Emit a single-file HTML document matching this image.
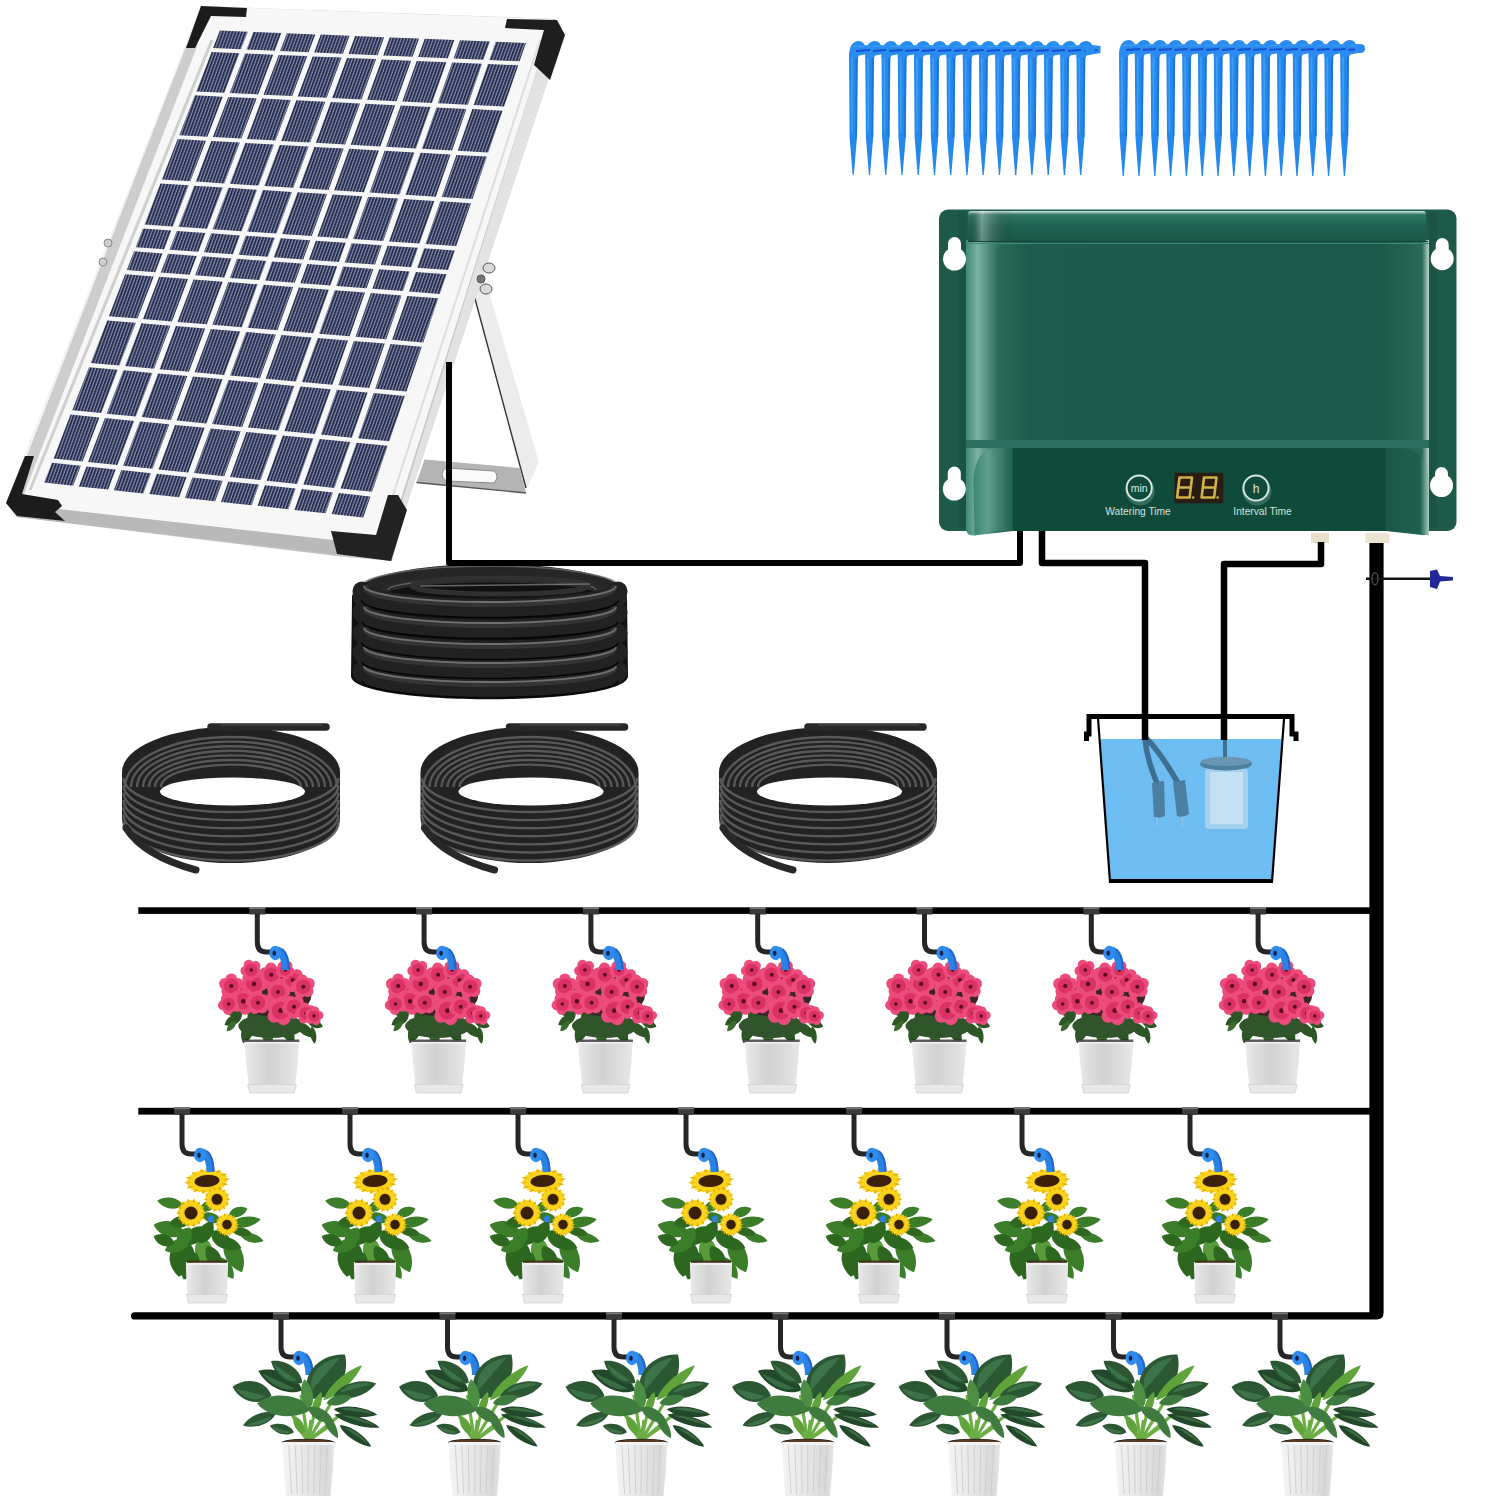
<!DOCTYPE html>
<html><head><meta charset="utf-8"><style>
html,body{margin:0;padding:0;background:#fff;}
svg{display:block;}
text{font-family:"Liberation Sans",sans-serif;}
</style></head><body>
<svg width="1500" height="1500" viewBox="0 0 1500 1500">
<rect width="1500" height="1500" fill="#fff"/>
<g id="stand">
<polygon points="471,284 486,282 539,462 526,490" fill="#ececec"/>
<polyline points="471,284 526,488" stroke="#333" stroke-width="1.4" fill="none"/>
<polygon points="424.5,459.5 520,468 526,493 416.5,482.5" fill="#b4b4b4"/>
<polyline points="416.5,482.5 526,493" stroke="#555" stroke-width="1.3" fill="none"/>
<path d="M446,468 L494,471 Q500,476 494,483 L446,481 Q438,474 446,468 Z" fill="#fafafa" stroke="#777" stroke-width="0.8"/>
</g>
<polygon points="201,6 555,19 563,35 405,510 392,561 336,556 17,517 6,503" fill="#c4c4c4"/>
<polygon points="6,503 390,546 392,561 17,517" fill="#b9b9b9"/>
<polygon points="553,19 563,35 405,510 388,546" fill="#e2e2e2"/>
<polygon points="201,6 553,19 386,546 6,503" fill="#f7f7f7"/>
<polygon points="187,44 198,44 24,494 12,494" fill="#cdcdcd"/>
<polyline points="212,40 30,490" stroke="#cfcfcf" stroke-width="3" fill="none"/>
<polyline points="540,40 385,520" stroke="#dedede" stroke-width="2" fill="none"/>
<defs><pattern id="stripes" patternUnits="userSpaceOnUse" width="3.2" height="40" patternTransform="skewX(-20)"><rect width="3.2" height="40" fill="#262c4a"/><rect x="2" width="1.15" height="40" fill="#8c95b9"/></pattern></defs>
<g fill="url(#stripes)">
<polygon points="219.9,30.5 247.8,31.7 241,49.3 213.1,48.1"/>
<polygon points="253.2,31.9 281.4,33 274.7,50.8 246.5,49.5"/>
<polygon points="286.9,33.2 315.3,34.4 308.6,52.2 280.1,51"/>
<polygon points="320.8,34.6 349.5,35.8 342.9,53.7 314.2,52.5"/>
<polygon points="355.1,36 384.1,37.2 377.6,55.2 348.5,53.9"/>
<polygon points="389.7,37.4 419,38.6 412.5,56.7 383.2,55.4"/>
<polygon points="424.7,38.8 454.3,40 447.9,58.2 418.2,56.9"/>
<polygon points="460,40.2 489.9,41.4 483.5,59.7 453.6,58.4"/>
<polygon points="495.7,41.7 525.9,42.9 519.6,61.3 489.3,60"/>
<polygon points="211.6,52 239.5,53.2 224.3,92.7 196.3,91.4"/>
<polygon points="245,53.4 273.2,54.7 258.1,94.4 229.8,93"/>
<polygon points="278.7,54.9 307.2,56.1 292.2,96.1 263.6,94.7"/>
<polygon points="312.7,56.4 341.5,57.6 326.6,97.8 297.7,96.4"/>
<polygon points="347,57.9 376.1,59.1 361.4,99.5 332.2,98.1"/>
<polygon points="381.8,59.4 411.1,60.7 396.5,101.3 367.1,99.8"/>
<polygon points="416.8,60.9 446.4,62.2 432,103 402.3,101.5"/>
<polygon points="452.2,62.5 482.1,63.8 467.9,104.8 437.8,103.3"/>
<polygon points="487.9,64 518.2,65.3 504.1,106.6 473.7,105.1"/>
<polygon points="194.8,95.3 222.8,96.7 207.4,136.7 179.3,135.2"/>
<polygon points="228.3,96.9 256.6,98.4 241.3,138.6 212.9,137"/>
<polygon points="262.1,98.6 290.7,100.1 275.5,140.5 246.8,138.9"/>
<polygon points="296.3,100.3 325.2,101.8 310.1,142.5 281.1,140.9"/>
<polygon points="330.8,102.1 359.9,103.5 345,144.4 315.8,142.8"/>
<polygon points="365.6,103.8 395.1,105.3 380.3,146.4 350.7,144.8"/>
<polygon points="400.8,105.6 430.6,107.1 416,148.4 386.1,146.7"/>
<polygon points="436.4,107.4 466.4,108.9 452,150.4 421.8,148.7"/>
<polygon points="472.3,109.1 502.6,110.7 488.3,152.5 457.8,150.7"/>
<polygon points="177.7,139.1 205.9,140.7 190.3,181.3 162,179.5"/>
<polygon points="211.3,141 239.8,142.6 224.3,183.4 195.8,181.6"/>
<polygon points="245.3,143 274,144.6 258.7,185.6 229.8,183.8"/>
<polygon points="279.6,144.9 308.6,146.5 293.4,187.8 264.3,185.9"/>
<polygon points="314.3,146.9 343.6,148.5 328.5,190 299.1,188.1"/>
<polygon points="349.3,148.8 378.9,150.5 363.9,192.2 334.2,190.3"/>
<polygon points="384.6,150.8 414.5,152.5 399.7,194.4 369.7,192.5"/>
<polygon points="420.3,152.8 450.5,154.6 435.8,196.7 405.5,194.8"/>
<polygon points="456.4,154.9 486.9,156.6 472.4,199 441.7,197"/>
<polygon points="160.4,183.6 188.7,185.3 172.9,226.5 144.5,224.5"/>
<polygon points="194.2,185.7 222.8,187.5 207.1,228.8 178.4,226.8"/>
<polygon points="228.3,187.8 257.1,189.7 241.6,231.2 212.6,229.2"/>
<polygon points="262.8,190 291.9,191.9 276.5,233.6 247.2,231.6"/>
<polygon points="297.5,192.2 327,194.1 311.7,236.1 282.1,234"/>
<polygon points="332.7,194.4 362.4,196.3 347.3,238.6 317.4,236.5"/>
<polygon points="368.2,196.7 398.2,198.6 383.2,241 353.1,239"/>
<polygon points="404.1,199 434.4,200.9 419.5,243.6 389.1,241.4"/>
<polygon points="440.3,201.2 470.9,203.2 456.2,246.1 425.4,244"/>
<polygon points="142.9,228.6 171.3,230.5 164.1,249.3 135.7,247.2"/>
<polygon points="176.8,230.9 205.5,232.9 198.4,251.7 169.6,249.7"/>
<polygon points="211.1,233.3 240,235.4 233,254.3 203.9,252.2"/>
<polygon points="245.7,235.8 274.9,237.8 267.9,256.8 238.6,254.7"/>
<polygon points="280.6,238.2 310.2,240.3 303.2,259.4 273.6,257.2"/>
<polygon points="315.9,240.7 345.8,242.8 338.9,262 308.9,259.8"/>
<polygon points="351.6,243.2 381.7,245.3 374.9,264.6 344.7,262.4"/>
<polygon points="387.6,245.7 418,247.8 411.3,267.2 380.7,265"/>
<polygon points="424,248.2 454.8,250.4 448.1,269.9 417.2,267.7"/>
<polygon points="134.1,251.3 162.5,253.4 155.3,272.2 126.8,270"/>
<polygon points="168.1,253.8 196.8,255.9 189.6,274.8 160.8,272.6"/>
<polygon points="202.4,256.3 231.4,258.4 224.3,277.5 195.2,275.2"/>
<polygon points="237,258.8 266.4,261 259.3,280.1 229.9,277.9"/>
<polygon points="272,261.4 301.7,263.6 294.7,282.8 265,280.6"/>
<polygon points="307.4,264 337.3,266.2 330.4,285.6 300.4,283.3"/>
<polygon points="343.1,266.6 373.4,268.9 366.5,288.3 336.2,286"/>
<polygon points="379.2,269.3 409.8,271.5 403,291.1 372.4,288.8"/>
<polygon points="415.7,272 446.6,274.2 439.8,293.9 408.9,291.5"/>
<polygon points="125.2,274.2 153.7,276.4 137.5,318.6 108.9,316.2"/>
<polygon points="159.2,276.8 188,279 171.9,321.4 143,319"/>
<polygon points="193.6,279.4 222.7,281.7 206.7,324.3 177.5,321.9"/>
<polygon points="228.4,282.1 257.7,284.3 241.9,327.3 212.4,324.8"/>
<polygon points="263.4,284.8 293.1,287.1 277.4,330.2 247.6,327.7"/>
<polygon points="298.9,287.5 328.9,289.8 313.3,333.2 283.2,330.7"/>
<polygon points="334.7,290.3 365,292.6 349.6,336.2 319.1,333.7"/>
<polygon points="370.9,293 401.5,295.4 386.2,339.3 355.5,336.7"/>
<polygon points="407.4,295.9 438.3,298.2 423.2,342.4 392.2,339.8"/>
<polygon points="107.2,320.4 135.8,322.8 119.4,365.5 90.7,362.9"/>
<polygon points="141.4,323.2 170.3,325.7 154,368.7 125,366"/>
<polygon points="175.9,326.1 205.1,328.6 188.9,371.8 159.6,369.2"/>
<polygon points="210.8,329.1 240.3,331.5 224.2,375 194.6,372.3"/>
<polygon points="246,332 275.8,334.5 259.9,378.2 230,375.5"/>
<polygon points="281.6,335 311.7,337.5 296,381.5 265.7,378.8"/>
<polygon points="317.6,338 348,340.6 332.4,384.8 301.8,382"/>
<polygon points="353.9,341.1 384.7,343.6 369.2,388.1 338.3,385.3"/>
<polygon points="390.6,344.1 421.7,346.7 406.4,391.5 375.2,388.7"/>
<polygon points="89,367.2 117.8,369.8 101.1,413.1 72.3,410.3"/>
<polygon points="123.3,370.3 152.4,372.9 135.8,416.5 106.7,413.7"/>
<polygon points="158,373.5 187.3,376.1 170.9,420 141.5,417.1"/>
<polygon points="193,376.6 222.6,379.3 206.4,423.4 176.6,420.5"/>
<polygon points="228.4,379.9 258.3,382.6 242.2,426.9 212.1,424"/>
<polygon points="264.1,383.1 294.4,385.9 278.4,430.5 248,427.5"/>
<polygon points="300.3,386.4 330.8,389.2 315,434 284.3,431"/>
<polygon points="336.8,389.7 367.6,392.6 351.9,437.7 320.9,434.6"/>
<polygon points="373.6,393.1 404.8,395.9 389.3,441.3 358,438.2"/>
<polygon points="70.6,414.6 99.4,417.5 82.5,461.4 53.6,458.4"/>
<polygon points="105,418 134.2,420.9 117.4,465.1 88.1,462"/>
<polygon points="139.8,421.4 169.3,424.3 152.6,468.8 123.1,465.7"/>
<polygon points="175,424.9 204.7,427.8 188.2,472.5 158.4,469.4"/>
<polygon points="210.5,428.4 240.6,431.3 224.2,476.3 194,473.1"/>
<polygon points="246.4,431.9 276.8,434.9 260.6,480.1 230.1,476.9"/>
<polygon points="282.7,435.5 313.4,438.5 297.3,484 266.5,480.7"/>
<polygon points="319.4,439.1 350.4,442.1 334.4,487.9 303.3,484.6"/>
<polygon points="356.4,442.7 387.7,445.8 372,491.8 340.5,488.5"/>
<polygon points="51.9,462.7 80.8,465.8 73.1,485.8 44.1,482.6"/>
<polygon points="86.5,466.4 115.7,469.5 108.1,489.6 78.8,486.4"/>
<polygon points="121.4,470.1 151,473.2 143.4,493.4 113.8,490.2"/>
<polygon points="156.7,473.8 186.6,477 179.1,497.3 149.2,494"/>
<polygon points="192.4,477.6 222.6,480.8 215.1,501.2 184.9,497.9"/>
<polygon points="228.4,481.4 259,484.6 251.6,505.2 221,501.9"/>
<polygon points="264.9,485.2 295.7,488.5 288.4,509.2 257.5,505.8"/>
<polygon points="301.7,489.1 332.9,492.4 325.6,513.3 294.4,509.9"/>
<polygon points="338.9,493.1 370.4,496.4 363.2,517.4 331.7,513.9"/>
</g>
<polygon points="201,6 247,8 246,17 211,16 195,48 186,48" fill="#1c1c1c"/>
<polygon points="507,19 557,20 565,35 550,80 534,65 544,30 505,28" fill="#1e1e1e"/>
<polygon points="25,456 34,456 22,494 58,500 62,506 55,512 65,521 17,516 6,503" fill="#1c1c1c"/>
<polygon points="388,495 398,495 407,510 391,561 337,554 331,531 376,535" fill="#222"/>
<g fill="#d9d9d9" stroke="#555" stroke-width="1"><ellipse cx="489" cy="268" rx="6" ry="5"/><ellipse cx="486" cy="289" rx="6" ry="5"/><circle cx="481" cy="279" r="4" fill="#777"/></g>
<g fill="#cfcfcf" stroke="#777" stroke-width="0.8"><ellipse cx="108" cy="243" rx="4" ry="4"/><ellipse cx="103" cy="262" rx="4" ry="4"/></g>
<defs><linearGradient id="gbody" x1="0" x2="1" y1="0" y2="0"><stop offset="0" stop-color="#3f8a76"/><stop offset="0.025" stop-color="#7db2a2"/><stop offset="0.07" stop-color="#2a6b5a"/><stop offset="0.14" stop-color="#1d5b4c"/><stop offset="0.9" stop-color="#1c594a"/><stop offset="0.985" stop-color="#2a6a59"/><stop offset="1" stop-color="#bcd6cc"/></linearGradient><linearGradient id="glid" x1="0" x2="0" y1="0" y2="1"><stop offset="0" stop-color="#d8ece4"/><stop offset="0.12" stop-color="#2f7663"/><stop offset="0.5" stop-color="#1f6251"/><stop offset="1" stop-color="#1a5546"/></linearGradient><linearGradient id="glidx" x1="0" x2="1" y1="0" y2="0"><stop offset="0" stop-color="#000" stop-opacity="0"/><stop offset="0.03" stop-color="#fff" stop-opacity="0.35"/><stop offset="0.1" stop-color="#000" stop-opacity="0"/></linearGradient><linearGradient id="gflareL" x1="0" x2="1" y1="0" y2="0"><stop offset="0" stop-color="#3d8573"/><stop offset="0.35" stop-color="#5f9f8c"/><stop offset="1" stop-color="#1d5d4d"/></linearGradient><linearGradient id="gflareR" x1="0" x2="1" y1="0" y2="0"><stop offset="0" stop-color="#1b5748"/><stop offset="0.8" stop-color="#1f5f4f"/><stop offset="1" stop-color="#9cc4b6"/></linearGradient></defs>
<rect x="939" y="209.5" width="517.5" height="321.5" rx="9" fill="#1d5a4a"/>
<rect x="958" y="212" width="8" height="316" fill="#1b5345"/><rect x="1429" y="212" width="8" height="316" fill="#1b5345"/>
<rect x="948.0" y="237" width="13" height="22" rx="6.5" fill="#fff"/><circle cx="954.5" cy="259" r="11.5" fill="#fff"/><rect x="947.8" y="466.5" width="13" height="22.5" rx="6.5" fill="#fff"/><circle cx="954.3" cy="489" r="11.5" fill="#fff"/><rect x="1435.7" y="238" width="13" height="20.69999999999999" rx="6.5" fill="#fff"/><circle cx="1442.2" cy="258.7" r="11.5" fill="#fff"/><rect x="1435.0" y="467" width="13" height="18.5" rx="6.5" fill="#fff"/><circle cx="1441.5" cy="485.5" r="11.5" fill="#fff"/>
<path d="M966,240 L1429,240 L1429,530 Q1429,536 1422,535 L1386,531 L1013,531 L974,535.5 Q966,536 966,528 Z" fill="url(#gbody)"/>
<rect x="968" y="211" width="458" height="31" rx="3" fill="url(#glid)"/>
<rect x="968" y="211" width="458" height="31" rx="3" fill="url(#glidx)"/>
<line x1="968" y1="241.5" x2="1428" y2="241.5" stroke="#12443a" stroke-width="1.2"/>
<line x1="966" y1="243.5" x2="1429" y2="243.5" stroke="#3f8a77" stroke-width="1"/>
<rect x="966" y="440" width="463" height="8" fill="#2c6e5d"/>
<rect x="1012" y="448" width="375" height="83" fill="#0f4a3b"/>
<path d="M973.5,480 Q975,448 998,448 L1013,448 L1013,531 L997,531 Q985,533 974.5,535.5 Z" fill="url(#gflareL)"/>
<path d="M1386,448 L1400,448 Q1428,450 1428.6,480 L1428.6,535.5 Q1410,531 1386,531 Z" fill="url(#gflareR)"/>
<circle cx="1140.2" cy="491" r="14.5" fill="#4f8576" opacity="0.6"/>
<circle cx="1139.2" cy="488" r="12.6" fill="#0f4a3b" stroke="#d7e6e0" stroke-width="2"/>
<text x="1139.2" y="491.5" font-size="10.5" fill="#dfe9e5" text-anchor="middle">min</text>
<circle cx="1257" cy="491" r="14.5" fill="#4f8576" opacity="0.6"/>
<circle cx="1256" cy="488" r="12.6" fill="#0f4a3b" stroke="#d7e6e0" stroke-width="2"/>
<text x="1256" y="492.5" font-size="12" fill="#dfe9e5" text-anchor="middle">h</text>
<rect x="1174.5" y="472.8" width="48.8" height="30.4" fill="#2a1c12"/>
<path d="M1180.5,477.5L1192.0,477.5M1192.0,477.5L1190.8,487.5M1190.8,487.5L1189.6,497.5M1178.1,497.5L1189.6,497.5M1178.3,487.5L1177.1,497.5M1179.5,477.5L1178.3,487.5M1178.8,487.5L1190.3,487.5" stroke="#cdb348" stroke-width="2.6" fill="none" stroke-linecap="round"/>
<circle cx="1193.1" cy="497.5" r="1.3" fill="#cdb348"/>
<path d="M1205.0,477.5L1216.5,477.5M1216.5,477.5L1215.3,487.5M1215.3,487.5L1214.1,497.5M1202.6,497.5L1214.1,497.5M1202.8,487.5L1201.6,497.5M1204.0,477.5L1202.8,487.5M1203.3,487.5L1214.8,487.5" stroke="#cdb348" stroke-width="2.6" fill="none" stroke-linecap="round"/>
<circle cx="1217.6" cy="497.5" r="1.3" fill="#cdb348"/>
<text x="1138" y="514.5" font-size="10.2" fill="#d6e2dd" text-anchor="middle">Watering Time</text>
<text x="1262.5" y="514.5" font-size="10.2" fill="#d6e2dd" text-anchor="middle">Interval Time</text>
<rect x="1311" y="533" width="18" height="10" fill="#e8e0cc"/>
<rect x="1365.5" y="533" width="24" height="10" fill="#ece4d2"/>
<g>
<path d="M1076.5,53 L1085.3,53 L1084.5,137 L1081.3,175 L1080.1,175 L1077.1,137 Z" fill="#2488ec"/>
<path d="M1083.3,55 L1085.3,55 L1084.5,137 L1082.9,137 Z" fill="#1566d6" opacity="0.6"/>
<path d="M1078.5,55 L1080.3,55 L1080.1,133 L1078.8,133 Z" fill="#4fa8f7" opacity="0.7"/>
<path d="M1076.5,55 Q1077.0,42.0 1085.5,41.0 Q1090.5,41.0 1092.0,45 L1100.5,46 L1100.5,53 L1086.5,55.5 L1085.3,58 L1076.5,58 Z" fill="#2a8cf0"/>
<path d="M1083.5,51 L1097.5,50" stroke="#1450cc" stroke-width="1.8"/>
<path d="M1080.5,46.5 L1096.5,46" stroke="#48aaff" stroke-width="1.2" opacity="0.7"/>
<path d="M1060.2,53 L1069.0,53 L1068.2,137 L1065.0,175 L1063.8,175 L1060.8,137 Z" fill="#2488ec"/>
<path d="M1067.0,55 L1069.0,55 L1068.2,137 L1066.7,137 Z" fill="#1566d6" opacity="0.6"/>
<path d="M1062.2,55 L1064.0,55 L1063.8,133 L1062.5,133 Z" fill="#4fa8f7" opacity="0.7"/>
<path d="M1060.2,55 Q1060.8,42.0 1069.2,41.0 Q1074.2,41.0 1075.8,45 L1084.2,46 L1084.2,53 L1070.2,55.5 L1069.0,58 L1060.2,58 Z" fill="#2a8cf0"/>
<path d="M1067.2,51 L1081.2,50" stroke="#1450cc" stroke-width="1.8"/>
<path d="M1064.2,46.5 L1080.2,46" stroke="#48aaff" stroke-width="1.2" opacity="0.7"/>
<path d="M1044.0,53 L1052.8,53 L1052.0,137 L1048.8,175 L1047.6,175 L1044.6,137 Z" fill="#2488ec"/>
<path d="M1050.8,55 L1052.8,55 L1052.0,137 L1050.4,137 Z" fill="#1566d6" opacity="0.6"/>
<path d="M1046.0,55 L1047.8,55 L1047.6,133 L1046.3,133 Z" fill="#4fa8f7" opacity="0.7"/>
<path d="M1044.0,55 Q1044.5,42.0 1053.0,41.0 Q1058.0,41.0 1059.5,45 L1068.0,46 L1068.0,53 L1054.0,55.5 L1052.8,58 L1044.0,58 Z" fill="#2a8cf0"/>
<path d="M1051.0,51 L1065.0,50" stroke="#1450cc" stroke-width="1.8"/>
<path d="M1048.0,46.5 L1064.0,46" stroke="#48aaff" stroke-width="1.2" opacity="0.7"/>
<path d="M1027.8,53 L1036.5,53 L1035.8,137 L1032.5,175 L1031.3,175 L1028.3,137 Z" fill="#2488ec"/>
<path d="M1034.5,55 L1036.5,55 L1035.8,137 L1034.2,137 Z" fill="#1566d6" opacity="0.6"/>
<path d="M1029.8,55 L1031.5,55 L1031.3,133 L1030.0,133 Z" fill="#4fa8f7" opacity="0.7"/>
<path d="M1027.8,55 Q1028.2,42.0 1036.8,41.0 Q1041.8,41.0 1043.2,45 L1051.8,46 L1051.8,53 L1037.8,55.5 L1036.5,58 L1027.8,58 Z" fill="#2a8cf0"/>
<path d="M1034.8,51 L1048.8,50" stroke="#1450cc" stroke-width="1.8"/>
<path d="M1031.8,46.5 L1047.8,46" stroke="#48aaff" stroke-width="1.2" opacity="0.7"/>
<path d="M1011.5,53 L1020.3,53 L1019.5,137 L1016.3,175 L1015.1,175 L1012.1,137 Z" fill="#2488ec"/>
<path d="M1018.3,55 L1020.3,55 L1019.5,137 L1017.9,137 Z" fill="#1566d6" opacity="0.6"/>
<path d="M1013.5,55 L1015.3,55 L1015.1,133 L1013.8,133 Z" fill="#4fa8f7" opacity="0.7"/>
<path d="M1011.5,55 Q1012.0,42.0 1020.5,41.0 Q1025.5,41.0 1027.0,45 L1035.5,46 L1035.5,53 L1021.5,55.5 L1020.3,58 L1011.5,58 Z" fill="#2a8cf0"/>
<path d="M1018.5,51 L1032.5,50" stroke="#1450cc" stroke-width="1.8"/>
<path d="M1015.5,46.5 L1031.5,46" stroke="#48aaff" stroke-width="1.2" opacity="0.7"/>
<path d="M995.2,53 L1004.0,53 L1003.2,137 L1000.0,175 L998.9,175 L995.9,137 Z" fill="#2488ec"/>
<path d="M1002.0,55 L1004.0,55 L1003.2,137 L1001.6,137 Z" fill="#1566d6" opacity="0.6"/>
<path d="M997.2,55 L999.0,55 L998.9,133 L997.5,133 Z" fill="#4fa8f7" opacity="0.7"/>
<path d="M995.2,55 Q995.8,42.0 1004.2,41.0 Q1009.2,41.0 1010.8,45 L1019.2,46 L1019.2,53 L1005.2,55.5 L1004.0,58 L995.2,58 Z" fill="#2a8cf0"/>
<path d="M1002.2,51 L1016.2,50" stroke="#1450cc" stroke-width="1.8"/>
<path d="M999.2,46.5 L1015.2,46" stroke="#48aaff" stroke-width="1.2" opacity="0.7"/>
<path d="M979.0,53 L987.8,53 L987.0,137 L983.8,175 L982.6,175 L979.6,137 Z" fill="#2488ec"/>
<path d="M985.8,55 L987.8,55 L987.0,137 L985.4,137 Z" fill="#1566d6" opacity="0.6"/>
<path d="M981.0,55 L982.8,55 L982.6,133 L981.3,133 Z" fill="#4fa8f7" opacity="0.7"/>
<path d="M979.0,55 Q979.5,42.0 988.0,41.0 Q993.0,41.0 994.5,45 L1003.0,46 L1003.0,53 L989.0,55.5 L987.8,58 L979.0,58 Z" fill="#2a8cf0"/>
<path d="M986.0,51 L1000.0,50" stroke="#1450cc" stroke-width="1.8"/>
<path d="M983.0,46.5 L999.0,46" stroke="#48aaff" stroke-width="1.2" opacity="0.7"/>
<path d="M962.8,53 L971.5,53 L970.8,137 L967.5,175 L966.4,175 L963.4,137 Z" fill="#2488ec"/>
<path d="M969.5,55 L971.5,55 L970.8,137 L969.1,137 Z" fill="#1566d6" opacity="0.6"/>
<path d="M964.8,55 L966.5,55 L966.4,133 L965.0,133 Z" fill="#4fa8f7" opacity="0.7"/>
<path d="M962.8,55 Q963.2,42.0 971.8,41.0 Q976.8,41.0 978.2,45 L986.8,46 L986.8,53 L972.8,55.5 L971.5,58 L962.8,58 Z" fill="#2a8cf0"/>
<path d="M969.8,51 L983.8,50" stroke="#1450cc" stroke-width="1.8"/>
<path d="M966.8,46.5 L982.8,46" stroke="#48aaff" stroke-width="1.2" opacity="0.7"/>
<path d="M946.5,53 L955.3,53 L954.5,137 L951.3,175 L950.1,175 L947.1,137 Z" fill="#2488ec"/>
<path d="M953.3,55 L955.3,55 L954.5,137 L952.9,137 Z" fill="#1566d6" opacity="0.6"/>
<path d="M948.5,55 L950.3,55 L950.1,133 L948.8,133 Z" fill="#4fa8f7" opacity="0.7"/>
<path d="M946.5,55 Q947.0,42.0 955.5,41.0 Q960.5,41.0 962.0,45 L970.5,46 L970.5,53 L956.5,55.5 L955.3,58 L946.5,58 Z" fill="#2a8cf0"/>
<path d="M953.5,51 L967.5,50" stroke="#1450cc" stroke-width="1.8"/>
<path d="M950.5,46.5 L966.5,46" stroke="#48aaff" stroke-width="1.2" opacity="0.7"/>
<path d="M930.2,53 L939.0,53 L938.2,137 L935.0,175 L933.9,175 L930.9,137 Z" fill="#2488ec"/>
<path d="M937.0,55 L939.0,55 L938.2,137 L936.6,137 Z" fill="#1566d6" opacity="0.6"/>
<path d="M932.2,55 L934.0,55 L933.9,133 L932.5,133 Z" fill="#4fa8f7" opacity="0.7"/>
<path d="M930.2,55 Q930.8,42.0 939.2,41.0 Q944.2,41.0 945.8,45 L954.2,46 L954.2,53 L940.2,55.5 L939.0,58 L930.2,58 Z" fill="#2a8cf0"/>
<path d="M937.2,51 L951.2,50" stroke="#1450cc" stroke-width="1.8"/>
<path d="M934.2,46.5 L950.2,46" stroke="#48aaff" stroke-width="1.2" opacity="0.7"/>
<path d="M914.0,53 L922.8,53 L922.0,137 L918.8,175 L917.6,175 L914.6,137 Z" fill="#2488ec"/>
<path d="M920.8,55 L922.8,55 L922.0,137 L920.4,137 Z" fill="#1566d6" opacity="0.6"/>
<path d="M916.0,55 L917.8,55 L917.6,133 L916.3,133 Z" fill="#4fa8f7" opacity="0.7"/>
<path d="M914.0,55 Q914.5,42.0 923.0,41.0 Q928.0,41.0 929.5,45 L938.0,46 L938.0,53 L924.0,55.5 L922.8,58 L914.0,58 Z" fill="#2a8cf0"/>
<path d="M921.0,51 L935.0,50" stroke="#1450cc" stroke-width="1.8"/>
<path d="M918.0,46.5 L934.0,46" stroke="#48aaff" stroke-width="1.2" opacity="0.7"/>
<path d="M897.8,53 L906.5,53 L905.8,137 L902.5,175 L901.4,175 L898.4,137 Z" fill="#2488ec"/>
<path d="M904.5,55 L906.5,55 L905.8,137 L904.1,137 Z" fill="#1566d6" opacity="0.6"/>
<path d="M899.8,55 L901.5,55 L901.4,133 L900.0,133 Z" fill="#4fa8f7" opacity="0.7"/>
<path d="M897.8,55 Q898.2,42.0 906.8,41.0 Q911.8,41.0 913.2,45 L921.8,46 L921.8,53 L907.8,55.5 L906.5,58 L897.8,58 Z" fill="#2a8cf0"/>
<path d="M904.8,51 L918.8,50" stroke="#1450cc" stroke-width="1.8"/>
<path d="M901.8,46.5 L917.8,46" stroke="#48aaff" stroke-width="1.2" opacity="0.7"/>
<path d="M881.5,53 L890.3,53 L889.5,137 L886.3,175 L885.1,175 L882.1,137 Z" fill="#2488ec"/>
<path d="M888.3,55 L890.3,55 L889.5,137 L887.9,137 Z" fill="#1566d6" opacity="0.6"/>
<path d="M883.5,55 L885.3,55 L885.1,133 L883.8,133 Z" fill="#4fa8f7" opacity="0.7"/>
<path d="M881.5,55 Q882.0,42.0 890.5,41.0 Q895.5,41.0 897.0,45 L905.5,46 L905.5,53 L891.5,55.5 L890.3,58 L881.5,58 Z" fill="#2a8cf0"/>
<path d="M888.5,51 L902.5,50" stroke="#1450cc" stroke-width="1.8"/>
<path d="M885.5,46.5 L901.5,46" stroke="#48aaff" stroke-width="1.2" opacity="0.7"/>
<path d="M865.2,53 L874.0,53 L873.2,137 L870.0,175 L868.9,175 L865.9,137 Z" fill="#2488ec"/>
<path d="M872.0,55 L874.0,55 L873.2,137 L871.6,137 Z" fill="#1566d6" opacity="0.6"/>
<path d="M867.2,55 L869.0,55 L868.9,133 L867.5,133 Z" fill="#4fa8f7" opacity="0.7"/>
<path d="M865.2,55 Q865.8,42.0 874.2,41.0 Q879.2,41.0 880.8,45 L889.2,46 L889.2,53 L875.2,55.5 L874.0,58 L865.2,58 Z" fill="#2a8cf0"/>
<path d="M872.2,51 L886.2,50" stroke="#1450cc" stroke-width="1.8"/>
<path d="M869.2,46.5 L885.2,46" stroke="#48aaff" stroke-width="1.2" opacity="0.7"/>
<path d="M849.0,53 L857.8,53 L857.0,137 L853.8,175 L852.6,175 L849.6,137 Z" fill="#2488ec"/>
<path d="M855.8,55 L857.8,55 L857.0,137 L855.4,137 Z" fill="#1566d6" opacity="0.6"/>
<path d="M851.0,55 L852.8,55 L852.6,133 L851.3,133 Z" fill="#4fa8f7" opacity="0.7"/>
<path d="M849.0,55 Q849.5,42.0 858.0,41.0 Q863.0,41.0 864.5,45 L873.0,46 L873.0,53 L859.0,55.5 L857.8,58 L849.0,58 Z" fill="#2a8cf0"/>
<path d="M856.0,51 L870.0,50" stroke="#1450cc" stroke-width="1.8"/>
<path d="M853.0,46.5 L869.0,46" stroke="#48aaff" stroke-width="1.2" opacity="0.7"/>
<ellipse cx="1090" cy="49.5" rx="5" ry="4.5" fill="#2a8cf0"/>
</g>
<g>
<path d="M1340.2,52 L1349.0,52 L1348.2,136 L1345.0,176 L1343.8,176 L1340.8,136 Z" fill="#2488ec"/>
<path d="M1347.0,54 L1349.0,54 L1348.2,136 L1346.6,136 Z" fill="#1566d6" opacity="0.6"/>
<path d="M1342.2,54 L1344.0,54 L1343.8,132 L1342.5,132 Z" fill="#4fa8f7" opacity="0.7"/>
<path d="M1340.2,54 Q1340.7,41.0 1349.2,40.0 Q1354.2,40.0 1355.7,44 L1364.2,45 L1364.2,52 L1350.2,54.5 L1349.0,57 L1340.2,57 Z" fill="#2a8cf0"/>
<path d="M1347.2,50 L1361.2,49" stroke="#1450cc" stroke-width="1.8"/>
<path d="M1344.2,45.5 L1360.2,45" stroke="#48aaff" stroke-width="1.2" opacity="0.7"/>
<path d="M1324.4,52 L1333.2,52 L1332.4,136 L1329.2,176 L1328.0,176 L1325.0,136 Z" fill="#2488ec"/>
<path d="M1331.2,54 L1333.2,54 L1332.4,136 L1330.8,136 Z" fill="#1566d6" opacity="0.6"/>
<path d="M1326.4,54 L1328.2,54 L1328.0,132 L1326.7,132 Z" fill="#4fa8f7" opacity="0.7"/>
<path d="M1324.4,54 Q1324.9,41.0 1333.4,40.0 Q1338.4,40.0 1339.9,44 L1348.4,45 L1348.4,52 L1334.4,54.5 L1333.2,57 L1324.4,57 Z" fill="#2a8cf0"/>
<path d="M1331.4,50 L1345.4,49" stroke="#1450cc" stroke-width="1.8"/>
<path d="M1328.4,45.5 L1344.4,45" stroke="#48aaff" stroke-width="1.2" opacity="0.7"/>
<path d="M1308.6,52 L1317.4,52 L1316.6,136 L1313.4,176 L1312.2,176 L1309.2,136 Z" fill="#2488ec"/>
<path d="M1315.4,54 L1317.4,54 L1316.6,136 L1315.0,136 Z" fill="#1566d6" opacity="0.6"/>
<path d="M1310.6,54 L1312.4,54 L1312.2,132 L1310.9,132 Z" fill="#4fa8f7" opacity="0.7"/>
<path d="M1308.6,54 Q1309.1,41.0 1317.6,40.0 Q1322.6,40.0 1324.1,44 L1332.6,45 L1332.6,52 L1318.6,54.5 L1317.4,57 L1308.6,57 Z" fill="#2a8cf0"/>
<path d="M1315.6,50 L1329.6,49" stroke="#1450cc" stroke-width="1.8"/>
<path d="M1312.6,45.5 L1328.6,45" stroke="#48aaff" stroke-width="1.2" opacity="0.7"/>
<path d="M1292.8,52 L1301.6,52 L1300.8,136 L1297.6,176 L1296.4,176 L1293.4,136 Z" fill="#2488ec"/>
<path d="M1299.6,54 L1301.6,54 L1300.8,136 L1299.2,136 Z" fill="#1566d6" opacity="0.6"/>
<path d="M1294.8,54 L1296.6,54 L1296.4,132 L1295.1,132 Z" fill="#4fa8f7" opacity="0.7"/>
<path d="M1292.8,54 Q1293.3,41.0 1301.8,40.0 Q1306.8,40.0 1308.3,44 L1316.8,45 L1316.8,52 L1302.8,54.5 L1301.6,57 L1292.8,57 Z" fill="#2a8cf0"/>
<path d="M1299.8,50 L1313.8,49" stroke="#1450cc" stroke-width="1.8"/>
<path d="M1296.8,45.5 L1312.8,45" stroke="#48aaff" stroke-width="1.2" opacity="0.7"/>
<path d="M1277.0,52 L1285.8,52 L1285.0,136 L1281.8,176 L1280.6,176 L1277.6,136 Z" fill="#2488ec"/>
<path d="M1283.8,54 L1285.8,54 L1285.0,136 L1283.4,136 Z" fill="#1566d6" opacity="0.6"/>
<path d="M1279.0,54 L1280.8,54 L1280.6,132 L1279.3,132 Z" fill="#4fa8f7" opacity="0.7"/>
<path d="M1277.0,54 Q1277.5,41.0 1286.0,40.0 Q1291.0,40.0 1292.5,44 L1301.0,45 L1301.0,52 L1287.0,54.5 L1285.8,57 L1277.0,57 Z" fill="#2a8cf0"/>
<path d="M1284.0,50 L1298.0,49" stroke="#1450cc" stroke-width="1.8"/>
<path d="M1281.0,45.5 L1297.0,45" stroke="#48aaff" stroke-width="1.2" opacity="0.7"/>
<path d="M1261.2,52 L1270.0,52 L1269.2,136 L1266.0,176 L1264.8,176 L1261.8,136 Z" fill="#2488ec"/>
<path d="M1268.0,54 L1270.0,54 L1269.2,136 L1267.6,136 Z" fill="#1566d6" opacity="0.6"/>
<path d="M1263.2,54 L1265.0,54 L1264.8,132 L1263.5,132 Z" fill="#4fa8f7" opacity="0.7"/>
<path d="M1261.2,54 Q1261.7,41.0 1270.2,40.0 Q1275.2,40.0 1276.7,44 L1285.2,45 L1285.2,52 L1271.2,54.5 L1270.0,57 L1261.2,57 Z" fill="#2a8cf0"/>
<path d="M1268.2,50 L1282.2,49" stroke="#1450cc" stroke-width="1.8"/>
<path d="M1265.2,45.5 L1281.2,45" stroke="#48aaff" stroke-width="1.2" opacity="0.7"/>
<path d="M1245.4,52 L1254.2,52 L1253.4,136 L1250.2,176 L1249.0,176 L1246.0,136 Z" fill="#2488ec"/>
<path d="M1252.2,54 L1254.2,54 L1253.4,136 L1251.8,136 Z" fill="#1566d6" opacity="0.6"/>
<path d="M1247.4,54 L1249.2,54 L1249.0,132 L1247.7,132 Z" fill="#4fa8f7" opacity="0.7"/>
<path d="M1245.4,54 Q1245.9,41.0 1254.4,40.0 Q1259.4,40.0 1260.9,44 L1269.4,45 L1269.4,52 L1255.4,54.5 L1254.2,57 L1245.4,57 Z" fill="#2a8cf0"/>
<path d="M1252.4,50 L1266.4,49" stroke="#1450cc" stroke-width="1.8"/>
<path d="M1249.4,45.5 L1265.4,45" stroke="#48aaff" stroke-width="1.2" opacity="0.7"/>
<path d="M1229.6,52 L1238.4,52 L1237.6,136 L1234.4,176 L1233.2,176 L1230.2,136 Z" fill="#2488ec"/>
<path d="M1236.4,54 L1238.4,54 L1237.6,136 L1236.0,136 Z" fill="#1566d6" opacity="0.6"/>
<path d="M1231.6,54 L1233.4,54 L1233.2,132 L1231.9,132 Z" fill="#4fa8f7" opacity="0.7"/>
<path d="M1229.6,54 Q1230.1,41.0 1238.6,40.0 Q1243.6,40.0 1245.1,44 L1253.6,45 L1253.6,52 L1239.6,54.5 L1238.4,57 L1229.6,57 Z" fill="#2a8cf0"/>
<path d="M1236.6,50 L1250.6,49" stroke="#1450cc" stroke-width="1.8"/>
<path d="M1233.6,45.5 L1249.6,45" stroke="#48aaff" stroke-width="1.2" opacity="0.7"/>
<path d="M1213.8,52 L1222.6,52 L1221.8,136 L1218.6,176 L1217.4,176 L1214.4,136 Z" fill="#2488ec"/>
<path d="M1220.6,54 L1222.6,54 L1221.8,136 L1220.2,136 Z" fill="#1566d6" opacity="0.6"/>
<path d="M1215.8,54 L1217.6,54 L1217.4,132 L1216.1,132 Z" fill="#4fa8f7" opacity="0.7"/>
<path d="M1213.8,54 Q1214.3,41.0 1222.8,40.0 Q1227.8,40.0 1229.3,44 L1237.8,45 L1237.8,52 L1223.8,54.5 L1222.6,57 L1213.8,57 Z" fill="#2a8cf0"/>
<path d="M1220.8,50 L1234.8,49" stroke="#1450cc" stroke-width="1.8"/>
<path d="M1217.8,45.5 L1233.8,45" stroke="#48aaff" stroke-width="1.2" opacity="0.7"/>
<path d="M1198.0,52 L1206.8,52 L1206.0,136 L1202.8,176 L1201.6,176 L1198.6,136 Z" fill="#2488ec"/>
<path d="M1204.8,54 L1206.8,54 L1206.0,136 L1204.4,136 Z" fill="#1566d6" opacity="0.6"/>
<path d="M1200.0,54 L1201.8,54 L1201.6,132 L1200.3,132 Z" fill="#4fa8f7" opacity="0.7"/>
<path d="M1198.0,54 Q1198.5,41.0 1207.0,40.0 Q1212.0,40.0 1213.5,44 L1222.0,45 L1222.0,52 L1208.0,54.5 L1206.8,57 L1198.0,57 Z" fill="#2a8cf0"/>
<path d="M1205.0,50 L1219.0,49" stroke="#1450cc" stroke-width="1.8"/>
<path d="M1202.0,45.5 L1218.0,45" stroke="#48aaff" stroke-width="1.2" opacity="0.7"/>
<path d="M1182.2,52 L1191.0,52 L1190.2,136 L1187.0,176 L1185.8,176 L1182.8,136 Z" fill="#2488ec"/>
<path d="M1189.0,54 L1191.0,54 L1190.2,136 L1188.6,136 Z" fill="#1566d6" opacity="0.6"/>
<path d="M1184.2,54 L1186.0,54 L1185.8,132 L1184.5,132 Z" fill="#4fa8f7" opacity="0.7"/>
<path d="M1182.2,54 Q1182.7,41.0 1191.2,40.0 Q1196.2,40.0 1197.7,44 L1206.2,45 L1206.2,52 L1192.2,54.5 L1191.0,57 L1182.2,57 Z" fill="#2a8cf0"/>
<path d="M1189.2,50 L1203.2,49" stroke="#1450cc" stroke-width="1.8"/>
<path d="M1186.2,45.5 L1202.2,45" stroke="#48aaff" stroke-width="1.2" opacity="0.7"/>
<path d="M1166.4,52 L1175.2,52 L1174.4,136 L1171.2,176 L1170.0,176 L1167.0,136 Z" fill="#2488ec"/>
<path d="M1173.2,54 L1175.2,54 L1174.4,136 L1172.8,136 Z" fill="#1566d6" opacity="0.6"/>
<path d="M1168.4,54 L1170.2,54 L1170.0,132 L1168.7,132 Z" fill="#4fa8f7" opacity="0.7"/>
<path d="M1166.4,54 Q1166.9,41.0 1175.4,40.0 Q1180.4,40.0 1181.9,44 L1190.4,45 L1190.4,52 L1176.4,54.5 L1175.2,57 L1166.4,57 Z" fill="#2a8cf0"/>
<path d="M1173.4,50 L1187.4,49" stroke="#1450cc" stroke-width="1.8"/>
<path d="M1170.4,45.5 L1186.4,45" stroke="#48aaff" stroke-width="1.2" opacity="0.7"/>
<path d="M1150.6,52 L1159.4,52 L1158.6,136 L1155.4,176 L1154.2,176 L1151.2,136 Z" fill="#2488ec"/>
<path d="M1157.4,54 L1159.4,54 L1158.6,136 L1157.0,136 Z" fill="#1566d6" opacity="0.6"/>
<path d="M1152.6,54 L1154.4,54 L1154.2,132 L1152.9,132 Z" fill="#4fa8f7" opacity="0.7"/>
<path d="M1150.6,54 Q1151.1,41.0 1159.6,40.0 Q1164.6,40.0 1166.1,44 L1174.6,45 L1174.6,52 L1160.6,54.5 L1159.4,57 L1150.6,57 Z" fill="#2a8cf0"/>
<path d="M1157.6,50 L1171.6,49" stroke="#1450cc" stroke-width="1.8"/>
<path d="M1154.6,45.5 L1170.6,45" stroke="#48aaff" stroke-width="1.2" opacity="0.7"/>
<path d="M1134.8,52 L1143.6,52 L1142.8,136 L1139.6,176 L1138.4,176 L1135.4,136 Z" fill="#2488ec"/>
<path d="M1141.6,54 L1143.6,54 L1142.8,136 L1141.2,136 Z" fill="#1566d6" opacity="0.6"/>
<path d="M1136.8,54 L1138.6,54 L1138.4,132 L1137.1,132 Z" fill="#4fa8f7" opacity="0.7"/>
<path d="M1134.8,54 Q1135.3,41.0 1143.8,40.0 Q1148.8,40.0 1150.3,44 L1158.8,45 L1158.8,52 L1144.8,54.5 L1143.6,57 L1134.8,57 Z" fill="#2a8cf0"/>
<path d="M1141.8,50 L1155.8,49" stroke="#1450cc" stroke-width="1.8"/>
<path d="M1138.8,45.5 L1154.8,45" stroke="#48aaff" stroke-width="1.2" opacity="0.7"/>
<path d="M1119.0,52 L1127.8,52 L1127.0,136 L1123.8,176 L1122.6,176 L1119.6,136 Z" fill="#2488ec"/>
<path d="M1125.8,54 L1127.8,54 L1127.0,136 L1125.4,136 Z" fill="#1566d6" opacity="0.6"/>
<path d="M1121.0,54 L1122.8,54 L1122.6,132 L1121.3,132 Z" fill="#4fa8f7" opacity="0.7"/>
<path d="M1119.0,54 Q1119.5,41.0 1128.0,40.0 Q1133.0,40.0 1134.5,44 L1143.0,45 L1143.0,52 L1129.0,54.5 L1127.8,57 L1119.0,57 Z" fill="#2a8cf0"/>
<path d="M1126.0,50 L1140.0,49" stroke="#1450cc" stroke-width="1.8"/>
<path d="M1123.0,45.5 L1139.0,45" stroke="#48aaff" stroke-width="1.2" opacity="0.7"/>
<ellipse cx="1360" cy="48.5" rx="5" ry="4.5" fill="#2a8cf0"/>
</g>
<g>
<path d="M352,598 C352,560 627,558 627,598 L628,676 C628,707 352,707 351,676 Z" fill="#111"/>
<path d="M360,598 A130,27 0 0 1 620,598" stroke="#262626" stroke-width="14" fill="none" stroke-linecap="round"/>
<path d="M360,588 A130,22 0 0 1 620,588" stroke="#6a6a6a" stroke-width="1.6" fill="none" opacity="0.8"/>
<ellipse cx="492" cy="592" rx="108" ry="13" fill="none" stroke="#2a2a2a" stroke-width="7"/>
<path d="M388,590 A104,11 0 0 1 596,590" stroke="#777" stroke-width="1.4" fill="none" opacity="0.7"/>
<ellipse cx="500" cy="586" rx="88" ry="8" fill="none" stroke="#303030" stroke-width="5"/>
<path d="M420,586 L590,584" stroke="#8a8a8a" stroke-width="1.5" opacity="0.7"/>
<path d="M362,671 A128,17 0 0 0 618,671" stroke="#222" stroke-width="19" fill="none" stroke-linecap="round"/>
<path d="M366,668 A124,16 0 0 0 614,668" stroke="#3a3a3a" stroke-width="6" fill="none" stroke-linecap="round" opacity="0.8"/>
<path d="M364,666 A126,16 0 0 0 616,666" stroke="#8a8a8a" stroke-width="1.8" fill="none" opacity="0.7"/>
<path d="M362,680.5 A128,17 0 0 0 618,680.5" stroke="#050505" stroke-width="1.6" fill="none"/>
<path d="M362,652 A128,17 0 0 0 618,652" stroke="#222" stroke-width="19" fill="none" stroke-linecap="round"/>
<path d="M366,649 A124,16 0 0 0 614,649" stroke="#3a3a3a" stroke-width="6" fill="none" stroke-linecap="round" opacity="0.8"/>
<path d="M364,647 A126,16 0 0 0 616,647" stroke="#8a8a8a" stroke-width="1.8" fill="none" opacity="0.7"/>
<path d="M362,661.5 A128,17 0 0 0 618,661.5" stroke="#050505" stroke-width="1.6" fill="none"/>
<path d="M362,633 A128,17 0 0 0 618,633" stroke="#222" stroke-width="19" fill="none" stroke-linecap="round"/>
<path d="M366,630 A124,16 0 0 0 614,630" stroke="#3a3a3a" stroke-width="6" fill="none" stroke-linecap="round" opacity="0.8"/>
<path d="M364,628 A126,16 0 0 0 616,628" stroke="#8a8a8a" stroke-width="1.8" fill="none" opacity="0.7"/>
<path d="M362,642.5 A128,17 0 0 0 618,642.5" stroke="#050505" stroke-width="1.6" fill="none"/>
<path d="M362,612 A128,17 0 0 0 618,612" stroke="#222" stroke-width="19" fill="none" stroke-linecap="round"/>
<path d="M366,609 A124,16 0 0 0 614,609" stroke="#3a3a3a" stroke-width="6" fill="none" stroke-linecap="round" opacity="0.8"/>
<path d="M364,607 A126,16 0 0 0 616,607" stroke="#8a8a8a" stroke-width="1.8" fill="none" opacity="0.7"/>
<path d="M362,621.5 A128,17 0 0 0 618,621.5" stroke="#050505" stroke-width="1.6" fill="none"/>
<path d="M362,591 A128,17 0 0 0 618,591" stroke="#222" stroke-width="19" fill="none" stroke-linecap="round"/>
<path d="M366,588 A124,16 0 0 0 614,588" stroke="#3a3a3a" stroke-width="6" fill="none" stroke-linecap="round" opacity="0.8"/>
<path d="M364,586 A126,16 0 0 0 616,586" stroke="#8a8a8a" stroke-width="1.8" fill="none" opacity="0.7"/>
<path d="M362,600.5 A128,17 0 0 0 618,600.5" stroke="#050505" stroke-width="1.6" fill="none"/>
</g>
<g>
<path d="M122,772 A109,45 0 0 1 340,772 L340,818 A109,45 0 0 1 122,818 Z" fill="#222"/>
<path d="M125.0,787 A106.0,50.0 0 0 1 337.0,787" stroke="#5e5e5e" stroke-width="2.4" fill="none" opacity="0.9"/>
<path d="M131.0,787 A100.0,45.4 0 0 1 331.0,787" stroke="#5e5e5e" stroke-width="2.4" fill="none" opacity="0.9"/>
<path d="M137.0,787 A94.0,40.8 0 0 1 325.0,787" stroke="#5e5e5e" stroke-width="2.4" fill="none" opacity="0.9"/>
<path d="M143.0,787 A88.0,36.2 0 0 1 319.0,787" stroke="#5e5e5e" stroke-width="2.4" fill="none" opacity="0.9"/>
<path d="M149.0,787 A82.0,31.6 0 0 1 313.0,787" stroke="#5e5e5e" stroke-width="2.4" fill="none" opacity="0.9"/>
<path d="M155.0,787 A76.0,27.0 0 0 1 307.0,787" stroke="#5e5e5e" stroke-width="2.4" fill="none" opacity="0.9"/>
<path d="M161.0,787 A70.0,22.4 0 0 1 301.0,787" stroke="#5e5e5e" stroke-width="2.4" fill="none" opacity="0.9"/>
<ellipse cx="232.5" cy="791.5" rx="72.5" ry="14" fill="#fff"/>
<path d="M123.5,778.0 A107.5,34.0 0 0 0 338.5,778.0" stroke="#5e5e5e" stroke-width="2.4" fill="none" opacity="0.9"/>
<path d="M123.5,785.3 A107.5,34.8 0 0 0 338.5,785.3" stroke="#5e5e5e" stroke-width="2.4" fill="none" opacity="0.9"/>
<path d="M123.5,792.6 A107.5,35.6 0 0 0 338.5,792.6" stroke="#5e5e5e" stroke-width="2.4" fill="none" opacity="0.9"/>
<path d="M123.5,799.9 A107.5,36.4 0 0 0 338.5,799.9" stroke="#5e5e5e" stroke-width="2.4" fill="none" opacity="0.9"/>
<path d="M123.5,807.2 A107.5,37.2 0 0 0 338.5,807.2" stroke="#5e5e5e" stroke-width="2.4" fill="none" opacity="0.9"/>
<path d="M123.5,814.5 A107.5,38.0 0 0 0 338.5,814.5" stroke="#5e5e5e" stroke-width="2.4" fill="none" opacity="0.9"/>
<path d="M123.5,821.8 A107.5,38.8 0 0 0 338.5,821.8" stroke="#5e5e5e" stroke-width="2.4" fill="none" opacity="0.9"/>
<path d="M211,727 L326,727" stroke="#282828" stroke-width="7.5" stroke-linecap="round"/>
<path d="M221,725 L322,725" stroke="#666" stroke-width="1.2" opacity="0.7"/>
<path d="M126,828 Q144,856 196,870" stroke="#282828" stroke-width="7" fill="none" stroke-linecap="round"/>
</g>
<g>
<path d="M420.5,772 A109,45 0 0 1 638.5,772 L638.5,818 A109,45 0 0 1 420.5,818 Z" fill="#222"/>
<path d="M423.5,787 A106.0,50.0 0 0 1 635.5,787" stroke="#5e5e5e" stroke-width="2.4" fill="none" opacity="0.9"/>
<path d="M429.5,787 A100.0,45.4 0 0 1 629.5,787" stroke="#5e5e5e" stroke-width="2.4" fill="none" opacity="0.9"/>
<path d="M435.5,787 A94.0,40.8 0 0 1 623.5,787" stroke="#5e5e5e" stroke-width="2.4" fill="none" opacity="0.9"/>
<path d="M441.5,787 A88.0,36.2 0 0 1 617.5,787" stroke="#5e5e5e" stroke-width="2.4" fill="none" opacity="0.9"/>
<path d="M447.5,787 A82.0,31.6 0 0 1 611.5,787" stroke="#5e5e5e" stroke-width="2.4" fill="none" opacity="0.9"/>
<path d="M453.5,787 A76.0,27.0 0 0 1 605.5,787" stroke="#5e5e5e" stroke-width="2.4" fill="none" opacity="0.9"/>
<path d="M459.5,787 A70.0,22.4 0 0 1 599.5,787" stroke="#5e5e5e" stroke-width="2.4" fill="none" opacity="0.9"/>
<ellipse cx="531.0" cy="791.5" rx="72.5" ry="14" fill="#fff"/>
<path d="M422.0,778.0 A107.5,34.0 0 0 0 637.0,778.0" stroke="#5e5e5e" stroke-width="2.4" fill="none" opacity="0.9"/>
<path d="M422.0,785.3 A107.5,34.8 0 0 0 637.0,785.3" stroke="#5e5e5e" stroke-width="2.4" fill="none" opacity="0.9"/>
<path d="M422.0,792.6 A107.5,35.6 0 0 0 637.0,792.6" stroke="#5e5e5e" stroke-width="2.4" fill="none" opacity="0.9"/>
<path d="M422.0,799.9 A107.5,36.4 0 0 0 637.0,799.9" stroke="#5e5e5e" stroke-width="2.4" fill="none" opacity="0.9"/>
<path d="M422.0,807.2 A107.5,37.2 0 0 0 637.0,807.2" stroke="#5e5e5e" stroke-width="2.4" fill="none" opacity="0.9"/>
<path d="M422.0,814.5 A107.5,38.0 0 0 0 637.0,814.5" stroke="#5e5e5e" stroke-width="2.4" fill="none" opacity="0.9"/>
<path d="M422.0,821.8 A107.5,38.8 0 0 0 637.0,821.8" stroke="#5e5e5e" stroke-width="2.4" fill="none" opacity="0.9"/>
<path d="M509.5,727 L624.5,727" stroke="#282828" stroke-width="7.5" stroke-linecap="round"/>
<path d="M519.5,725 L620.5,725" stroke="#666" stroke-width="1.2" opacity="0.7"/>
<path d="M424.5,828 Q442.5,856 494.5,870" stroke="#282828" stroke-width="7" fill="none" stroke-linecap="round"/>
</g>
<g>
<path d="M719,772 A109,45 0 0 1 937,772 L937,818 A109,45 0 0 1 719,818 Z" fill="#222"/>
<path d="M722.0,787 A106.0,50.0 0 0 1 934.0,787" stroke="#5e5e5e" stroke-width="2.4" fill="none" opacity="0.9"/>
<path d="M728.0,787 A100.0,45.4 0 0 1 928.0,787" stroke="#5e5e5e" stroke-width="2.4" fill="none" opacity="0.9"/>
<path d="M734.0,787 A94.0,40.8 0 0 1 922.0,787" stroke="#5e5e5e" stroke-width="2.4" fill="none" opacity="0.9"/>
<path d="M740.0,787 A88.0,36.2 0 0 1 916.0,787" stroke="#5e5e5e" stroke-width="2.4" fill="none" opacity="0.9"/>
<path d="M746.0,787 A82.0,31.6 0 0 1 910.0,787" stroke="#5e5e5e" stroke-width="2.4" fill="none" opacity="0.9"/>
<path d="M752.0,787 A76.0,27.0 0 0 1 904.0,787" stroke="#5e5e5e" stroke-width="2.4" fill="none" opacity="0.9"/>
<path d="M758.0,787 A70.0,22.4 0 0 1 898.0,787" stroke="#5e5e5e" stroke-width="2.4" fill="none" opacity="0.9"/>
<ellipse cx="829.5" cy="791.5" rx="72.5" ry="14" fill="#fff"/>
<path d="M720.5,778.0 A107.5,34.0 0 0 0 935.5,778.0" stroke="#5e5e5e" stroke-width="2.4" fill="none" opacity="0.9"/>
<path d="M720.5,785.3 A107.5,34.8 0 0 0 935.5,785.3" stroke="#5e5e5e" stroke-width="2.4" fill="none" opacity="0.9"/>
<path d="M720.5,792.6 A107.5,35.6 0 0 0 935.5,792.6" stroke="#5e5e5e" stroke-width="2.4" fill="none" opacity="0.9"/>
<path d="M720.5,799.9 A107.5,36.4 0 0 0 935.5,799.9" stroke="#5e5e5e" stroke-width="2.4" fill="none" opacity="0.9"/>
<path d="M720.5,807.2 A107.5,37.2 0 0 0 935.5,807.2" stroke="#5e5e5e" stroke-width="2.4" fill="none" opacity="0.9"/>
<path d="M720.5,814.5 A107.5,38.0 0 0 0 935.5,814.5" stroke="#5e5e5e" stroke-width="2.4" fill="none" opacity="0.9"/>
<path d="M720.5,821.8 A107.5,38.8 0 0 0 935.5,821.8" stroke="#5e5e5e" stroke-width="2.4" fill="none" opacity="0.9"/>
<path d="M808,727 L923,727" stroke="#282828" stroke-width="7.5" stroke-linecap="round"/>
<path d="M818,725 L919,725" stroke="#666" stroke-width="1.2" opacity="0.7"/>
<path d="M723,828 Q741,856 793,870" stroke="#282828" stroke-width="7" fill="none" stroke-linecap="round"/>
</g>
<g>
<path d="M1100.5,739 L1281.5,739 L1272,880 L1110,880 Z" fill="#6dbcf2"/>
<path d="M1145,739 Q1147,760 1157,783" stroke="#3d6f93" stroke-width="5.5" fill="none" stroke-linecap="round"/>
<path d="M1147,739 Q1160,752 1178,783" stroke="#3d6f93" stroke-width="5.5" fill="none" stroke-linecap="round"/>
<path d="M1152,783 L1164,781 L1165,816 Q1160,819 1154,817 Z" fill="#4a7ea3"/>
<path d="M1173,782 L1185,780 L1189,814 Q1183,818 1177,816 Z" fill="#4a7ea3"/>
<line x1="1157" y1="817" x2="1157" y2="826" stroke="#9cc8e8" stroke-width="1"/><line x1="1182" y1="817" x2="1183" y2="826" stroke="#9cc8e8" stroke-width="1"/>
<line x1="1225" y1="740" x2="1225" y2="761" stroke="#3f7090" stroke-width="4"/>
<rect x="1205" y="769" width="43" height="60" rx="4" fill="#b8d8ee" opacity="0.75"/>
<rect x="1210" y="772" width="33" height="52" fill="#d9ebf7" opacity="0.6"/>
<ellipse cx="1226" cy="764" rx="26" ry="6.5" fill="#4d7f9f"/>
<ellipse cx="1226" cy="761.5" rx="25" ry="4.5" fill="#6a95b3"/>
<path d="M1098,718 L1110,882 L1272,882 L1284,719" stroke="#000" stroke-width="2.2" fill="none"/>
<line x1="1109" y1="881" x2="1273" y2="881" stroke="#000" stroke-width="4"/>
<path d="M1086.5,741 L1086.5,734 L1089,734 L1089,716.5 L1292,716.5 L1292,734 L1296,734 L1296,741" stroke="#000" stroke-width="5" fill="none"/>
</g>
<path d="M449,362 L449,563 L1020,563 L1020,531" stroke="#000" stroke-width="6" fill="none" stroke-linejoin="round"/>
<path d="M1042,531 L1042,563 L1145,563 L1145,740" stroke="#000" stroke-width="6.5" fill="none" stroke-linejoin="round"/>
<path d="M1321,542 L1321,564 L1224,564 L1224,740" stroke="#000" stroke-width="6.5" fill="none" stroke-linejoin="round"/>
<path d="M1369.4,543 H1383.6 V1312.6 Q1383.6,1319.6 1376.6,1319.6 H134.7 A3.7,3.7 0 0 1 134.7,1312.2 H1369.4 Z" fill="#000"/>
<line x1="1366" y1="578.8" x2="1432" y2="578.8" stroke="#111" stroke-width="2.4"/>
<ellipse cx="1375" cy="578.8" rx="3" ry="6" fill="none" stroke="#555" stroke-width="1.2"/>
<path d="M1430,571 L1437,569.5 L1440,576 L1453,577 L1453,580.5 L1440,581.5 L1437,589 L1430,587 Z" fill="#22289a"/>
<rect x="138.3" y="907.3" width="1232" height="6.6" fill="#000"/>
<rect x="138.3" y="1107.8" width="1232" height="6.8" fill="#000"/>
<g>
<g transform="translate(233.3,1020.0) rotate(150)"><path d="M-10.0,0 C-5.5,-6.7 4.5,-6.2 10.0,0 C4.5,6.2 -5.5,6.7 -10.0,0 Z" fill="#2c5624" opacity="1"/></g>
<g transform="translate(247.3,1032.0) rotate(110)"><path d="M-12.0,0 C-6.6,-8.0 5.4,-7.5 12.0,0 C5.4,7.5 -6.6,8.0 -12.0,0 Z" fill="#2c5624" opacity="1"/></g>
<g transform="translate(267.3,1034.0) rotate(80)"><path d="M-13.0,0 C-7.2,-8.0 5.9,-7.5 13.0,0 C5.9,7.5 -7.2,8.0 -13.0,0 Z" fill="#3a6a2c" opacity="1"/></g>
<g transform="translate(287.3,1032.0) rotate(60)"><path d="M-13.0,0 C-7.2,-8.0 5.9,-7.5 13.0,0 C5.9,7.5 -7.2,8.0 -13.0,0 Z" fill="#2c5624" opacity="1"/></g>
<g transform="translate(305.3,1030.0) rotate(40)"><path d="M-11.0,0 C-6.1,-6.7 5.0,-6.2 11.0,0 C5.0,6.2 -6.1,6.7 -11.0,0 Z" fill="#2c5624" opacity="1"/></g>
<g transform="translate(255.3,1015.0) rotate(100)"><path d="M-15.0,0 C-8.2,-10.6 6.8,-10.0 15.0,0 C6.8,10.0 -8.2,10.6 -15.0,0 Z" fill="#2c5624" opacity="1"/></g>
<g transform="translate(277.3,1022.0) rotate(70)"><path d="M-15.0,0 C-8.2,-10.6 6.8,-10.0 15.0,0 C6.8,10.0 -8.2,10.6 -15.0,0 Z" fill="#3a6a2c" opacity="1"/></g>
<g transform="translate(299.3,1026.0) rotate(30)"><path d="M-11.0,0 C-6.1,-6.7 5.0,-6.2 11.0,0 C5.0,6.2 -6.1,6.7 -11.0,0 Z" fill="#2c5624" opacity="1"/></g>
<g transform="translate(237.3,1012.0) rotate(160)"><path d="M-9.0,0 C-5.0,-6.0 4.0,-5.6 9.0,0 C4.0,5.6 -5.0,6.0 -9.0,0 Z" fill="#2c5624" opacity="1"/></g>
<g transform="translate(315.3,1024.0) rotate(20)"><path d="M-8.0,0 C-4.4,-5.3 3.6,-5.0 8.0,0 C3.6,5.0 -4.4,5.3 -8.0,0 Z" fill="#2c5624" opacity="1"/></g>
<g transform="translate(291.3,1043.0) rotate(75)"><path d="M-9.0,0 C-5.0,-4.7 4.0,-4.4 9.0,0 C4.0,4.4 -5.0,4.7 -9.0,0 Z" fill="#2c5624" opacity="1"/></g>
<g transform="translate(313.3,1035.0) rotate(80)"><path d="M-9.0,0 C-5.0,-4.0 4.0,-3.8 9.0,0 C4.0,3.8 -5.0,4.0 -9.0,0 Z" fill="#2c5624" opacity="1"/></g>
<g transform="translate(231.3,1026.0) rotate(130)"><path d="M-7.0,0 C-3.9,-4.0 3.1,-3.8 7.0,0 C3.1,3.8 -3.9,4.0 -7.0,0 Z" fill="#3a6a2c" opacity="1"/></g>
<ellipse cx="271.3" cy="1026" rx="33" ry="12" fill="#30552a"/>
<ellipse cx="271.3" cy="996" rx="40" ry="20" fill="#3a2626"/>
<ellipse cx="231.3" cy="980.0" rx="6.6" ry="6.0" fill="#ec4c7c" transform="rotate(-90 231.3 980.0)"/><ellipse cx="237.0" cy="984.1" rx="6.6" ry="6.0" fill="#ec4c7c" transform="rotate(-18 237.0 984.1)"/><ellipse cx="234.9" cy="990.9" rx="6.6" ry="6.0" fill="#ec4c7c" transform="rotate(54 234.9 990.9)"/><ellipse cx="227.7" cy="990.9" rx="6.6" ry="6.0" fill="#ec4c7c" transform="rotate(126 227.7 990.9)"/><ellipse cx="225.6" cy="984.1" rx="6.6" ry="6.0" fill="#ec4c7c" transform="rotate(198 225.6 984.1)"/><circle cx="231.3" cy="986.0" r="7.5" fill="#d42a5c" opacity="0.75"/><circle cx="231.3" cy="986.0" r="2.1" fill="#5a061c"/>
<ellipse cx="256.5" cy="978.0" rx="7.2" ry="6.5" fill="#ec4c7c" transform="rotate(-67 256.5 978.0)"/><ellipse cx="260.5" cy="984.6" rx="7.2" ry="6.5" fill="#ec4c7c" transform="rotate(5 260.5 984.6)"/><ellipse cx="255.5" cy="990.3" rx="7.2" ry="6.5" fill="#ec4c7c" transform="rotate(77 255.5 990.3)"/><ellipse cx="248.4" cy="987.3" rx="7.2" ry="6.5" fill="#ec4c7c" transform="rotate(149 248.4 987.3)"/><ellipse cx="249.1" cy="979.7" rx="7.2" ry="6.5" fill="#ec4c7c" transform="rotate(221 249.1 979.7)"/><circle cx="254.0" cy="984.0" r="8.1" fill="#d42a5c" opacity="0.75"/><circle cx="254.0" cy="984.0" r="2.2" fill="#5a061c"/>
<ellipse cx="255.0" cy="966.4" rx="5.7" ry="5.2" fill="#ec4c7c" transform="rotate(-44 255.0 966.4)"/><ellipse cx="255.9" cy="972.4" rx="5.7" ry="5.2" fill="#ec4c7c" transform="rotate(28 255.9 972.4)"/><ellipse cx="250.4" cy="975.1" rx="5.7" ry="5.2" fill="#ec4c7c" transform="rotate(100 250.4 975.1)"/><ellipse cx="246.2" cy="970.7" rx="5.7" ry="5.2" fill="#ec4c7c" transform="rotate(172 246.2 970.7)"/><ellipse cx="249.0" cy="965.3" rx="5.7" ry="5.2" fill="#ec4c7c" transform="rotate(244 249.0 965.3)"/><circle cx="251.3" cy="970.0" r="6.4" fill="#d42a5c" opacity="0.75"/><circle cx="251.3" cy="970.0" r="1.8" fill="#5a061c"/>
<ellipse cx="276.8" cy="972.6" rx="6.4" ry="5.9" fill="#ec4c7c" transform="rotate(-21 276.8 972.6)"/><ellipse cx="275.0" cy="979.2" rx="6.4" ry="5.9" fill="#ec4c7c" transform="rotate(51 275.0 979.2)"/><ellipse cx="268.1" cy="979.6" rx="6.4" ry="5.9" fill="#ec4c7c" transform="rotate(123 268.1 979.6)"/><ellipse cx="265.6" cy="973.2" rx="6.4" ry="5.9" fill="#ec4c7c" transform="rotate(195 265.6 973.2)"/><ellipse cx="271.0" cy="968.9" rx="6.4" ry="5.9" fill="#ec4c7c" transform="rotate(267 271.0 968.9)"/><circle cx="271.3" cy="974.7" r="7.3" fill="#d42a5c" opacity="0.75"/><circle cx="271.3" cy="974.7" r="2.0" fill="#5a061c"/>
<ellipse cx="245.5" cy="995.2" rx="7.2" ry="6.5" fill="#ec4c7c" transform="rotate(-70 245.5 995.2)"/><ellipse cx="249.8" cy="1001.5" rx="7.2" ry="6.5" fill="#ec4c7c" transform="rotate(2 249.8 1001.5)"/><ellipse cx="245.1" cy="1007.5" rx="7.2" ry="6.5" fill="#ec4c7c" transform="rotate(74 245.1 1007.5)"/><ellipse cx="237.9" cy="1004.9" rx="7.2" ry="6.5" fill="#ec4c7c" transform="rotate(146 237.9 1004.9)"/><ellipse cx="238.2" cy="997.3" rx="7.2" ry="6.5" fill="#ec4c7c" transform="rotate(218 238.2 997.3)"/><circle cx="243.3" cy="1001.3" r="8.1" fill="#d42a5c" opacity="0.75"/><circle cx="243.3" cy="1001.3" r="2.2" fill="#5a061c"/>
<ellipse cx="232.2" cy="1000.2" rx="5.7" ry="5.2" fill="#ec4c7c" transform="rotate(-47 232.2 1000.2)"/><ellipse cx="233.4" cy="1006.2" rx="5.7" ry="5.2" fill="#ec4c7c" transform="rotate(25 233.4 1006.2)"/><ellipse cx="228.1" cy="1009.2" rx="5.7" ry="5.2" fill="#ec4c7c" transform="rotate(97 228.1 1009.2)"/><ellipse cx="223.6" cy="1005.0" rx="5.7" ry="5.2" fill="#ec4c7c" transform="rotate(169 223.6 1005.0)"/><ellipse cx="226.2" cy="999.5" rx="5.7" ry="5.2" fill="#ec4c7c" transform="rotate(241 226.2 999.5)"/><circle cx="228.7" cy="1004.0" r="6.4" fill="#d42a5c" opacity="0.75"/><circle cx="228.7" cy="1004.0" r="1.8" fill="#5a061c"/>
<ellipse cx="263.3" cy="1000.3" rx="6.4" ry="5.9" fill="#ec4c7c" transform="rotate(-24 263.3 1000.3)"/><ellipse cx="261.9" cy="1007.0" rx="6.4" ry="5.9" fill="#ec4c7c" transform="rotate(48 261.9 1007.0)"/><ellipse cx="255.1" cy="1007.8" rx="6.4" ry="5.9" fill="#ec4c7c" transform="rotate(120 255.1 1007.8)"/><ellipse cx="252.3" cy="1001.5" rx="6.4" ry="5.9" fill="#ec4c7c" transform="rotate(192 252.3 1001.5)"/><ellipse cx="257.4" cy="996.9" rx="6.4" ry="5.9" fill="#ec4c7c" transform="rotate(264 257.4 996.9)"/><circle cx="258.0" cy="1002.7" r="7.3" fill="#d42a5c" opacity="0.75"/><circle cx="258.0" cy="1002.7" r="2.0" fill="#5a061c"/>
<ellipse cx="279.7" cy="986.4" rx="6.4" ry="5.9" fill="#ec4c7c" transform="rotate(-73 279.7 986.4)"/><ellipse cx="283.8" cy="991.9" rx="6.4" ry="5.9" fill="#ec4c7c" transform="rotate(-1 283.8 991.9)"/><ellipse cx="279.9" cy="997.5" rx="6.4" ry="5.9" fill="#ec4c7c" transform="rotate(71 279.9 997.5)"/><ellipse cx="273.3" cy="995.5" rx="6.4" ry="5.9" fill="#ec4c7c" transform="rotate(143 273.3 995.5)"/><ellipse cx="273.2" cy="988.6" rx="6.4" ry="5.9" fill="#ec4c7c" transform="rotate(215 273.2 988.6)"/><circle cx="278.0" cy="992.0" r="7.3" fill="#d42a5c" opacity="0.75"/><circle cx="278.0" cy="992.0" r="2.0" fill="#5a061c"/>
<ellipse cx="296.5" cy="975.5" rx="6.4" ry="5.9" fill="#ec4c7c" transform="rotate(-50 296.5 975.5)"/><ellipse cx="298.1" cy="982.2" rx="6.4" ry="5.9" fill="#ec4c7c" transform="rotate(22 298.1 982.2)"/><ellipse cx="292.3" cy="985.8" rx="6.4" ry="5.9" fill="#ec4c7c" transform="rotate(94 292.3 985.8)"/><ellipse cx="287.0" cy="981.4" rx="6.4" ry="5.9" fill="#ec4c7c" transform="rotate(166 287.0 981.4)"/><ellipse cx="289.6" cy="975.0" rx="6.4" ry="5.9" fill="#ec4c7c" transform="rotate(238 289.6 975.0)"/><circle cx="292.7" cy="980.0" r="7.3" fill="#d42a5c" opacity="0.75"/><circle cx="292.7" cy="980.0" r="2.0" fill="#5a061c"/>
<ellipse cx="308.5" cy="984.0" rx="6.4" ry="5.9" fill="#ec4c7c" transform="rotate(-27 308.5 984.0)"/><ellipse cx="307.4" cy="990.8" rx="6.4" ry="5.9" fill="#ec4c7c" transform="rotate(45 307.4 990.8)"/><ellipse cx="300.6" cy="991.9" rx="6.4" ry="5.9" fill="#ec4c7c" transform="rotate(117 300.6 991.9)"/><ellipse cx="297.5" cy="985.8" rx="6.4" ry="5.9" fill="#ec4c7c" transform="rotate(189 297.5 985.8)"/><ellipse cx="302.4" cy="980.9" rx="6.4" ry="5.9" fill="#ec4c7c" transform="rotate(261 302.4 980.9)"/><circle cx="303.3" cy="986.7" r="7.3" fill="#d42a5c" opacity="0.75"/><circle cx="303.3" cy="986.7" r="2.0" fill="#5a061c"/>
<ellipse cx="282.4" cy="1003.8" rx="7.9" ry="7.2" fill="#ec4c7c" transform="rotate(-76 282.4 1003.8)"/><ellipse cx="287.8" cy="1010.2" rx="7.9" ry="7.2" fill="#ec4c7c" transform="rotate(-4 287.8 1010.2)"/><ellipse cx="283.4" cy="1017.3" rx="7.9" ry="7.2" fill="#ec4c7c" transform="rotate(68 283.4 1017.3)"/><ellipse cx="275.2" cy="1015.3" rx="7.9" ry="7.2" fill="#ec4c7c" transform="rotate(140 275.2 1015.3)"/><ellipse cx="274.6" cy="1006.9" rx="7.9" ry="7.2" fill="#ec4c7c" transform="rotate(212 274.6 1006.9)"/><circle cx="280.7" cy="1010.7" r="8.9" fill="#d42a5c" opacity="0.75"/><circle cx="280.7" cy="1010.7" r="2.4" fill="#5a061c"/>
<ellipse cx="297.5" cy="1002.0" rx="6.4" ry="5.9" fill="#ec4c7c" transform="rotate(-53 297.5 1002.0)"/><ellipse cx="299.5" cy="1008.6" rx="6.4" ry="5.9" fill="#ec4c7c" transform="rotate(19 299.5 1008.6)"/><ellipse cx="293.9" cy="1012.5" rx="6.4" ry="5.9" fill="#ec4c7c" transform="rotate(91 293.9 1012.5)"/><ellipse cx="288.4" cy="1008.4" rx="6.4" ry="5.9" fill="#ec4c7c" transform="rotate(163 288.4 1008.4)"/><ellipse cx="290.6" cy="1001.9" rx="6.4" ry="5.9" fill="#ec4c7c" transform="rotate(235 290.6 1001.9)"/><circle cx="294.0" cy="1006.7" r="7.3" fill="#d42a5c" opacity="0.75"/><circle cx="294.0" cy="1006.7" r="2.0" fill="#5a061c"/>
<ellipse cx="310.5" cy="1010.7" rx="5.7" ry="5.2" fill="#ec4c7c" transform="rotate(-30 310.5 1010.7)"/><ellipse cx="309.9" cy="1016.8" rx="5.7" ry="5.2" fill="#ec4c7c" transform="rotate(42 309.9 1016.8)"/><ellipse cx="303.9" cy="1018.1" rx="5.7" ry="5.2" fill="#ec4c7c" transform="rotate(114 303.9 1018.1)"/><ellipse cx="300.8" cy="1012.8" rx="5.7" ry="5.2" fill="#ec4c7c" transform="rotate(186 300.8 1012.8)"/><ellipse cx="304.9" cy="1008.2" rx="5.7" ry="5.2" fill="#ec4c7c" transform="rotate(258 304.9 1008.2)"/><circle cx="306.0" cy="1013.3" r="6.4" fill="#d42a5c" opacity="0.75"/><circle cx="306.0" cy="1013.3" r="1.8" fill="#5a061c"/>
<ellipse cx="314.9" cy="1011.5" rx="5.0" ry="4.5" fill="#ec4c7c" transform="rotate(-79 314.9 1011.5)"/><ellipse cx="318.5" cy="1015.4" rx="5.0" ry="4.5" fill="#ec4c7c" transform="rotate(-7 318.5 1015.4)"/><ellipse cx="315.9" cy="1020.1" rx="5.0" ry="4.5" fill="#ec4c7c" transform="rotate(65 315.9 1020.1)"/><ellipse cx="310.7" cy="1019.1" rx="5.0" ry="4.5" fill="#ec4c7c" transform="rotate(137 310.7 1019.1)"/><ellipse cx="310.0" cy="1013.8" rx="5.0" ry="4.5" fill="#ec4c7c" transform="rotate(209 310.0 1013.8)"/><circle cx="314.0" cy="1016.0" r="5.6" fill="#d42a5c" opacity="0.75"/><circle cx="314.0" cy="1016.0" r="1.7" fill="#5a061c"/>
<ellipse cx="287.8" cy="966.2" rx="5.0" ry="4.5" fill="#ec4c7c" transform="rotate(-56 287.8 966.2)"/><ellipse cx="289.7" cy="971.3" rx="5.0" ry="4.5" fill="#ec4c7c" transform="rotate(16 289.7 971.3)"/><ellipse cx="285.5" cy="974.5" rx="5.0" ry="4.5" fill="#ec4c7c" transform="rotate(88 285.5 974.5)"/><ellipse cx="281.0" cy="971.6" rx="5.0" ry="4.5" fill="#ec4c7c" transform="rotate(160 281.0 971.6)"/><ellipse cx="282.5" cy="966.4" rx="5.0" ry="4.5" fill="#ec4c7c" transform="rotate(232 282.5 966.4)"/><circle cx="285.3" cy="970.0" r="5.6" fill="#d42a5c" opacity="0.75"/><circle cx="285.3" cy="970.0" r="1.7" fill="#5a061c"/>
</g>
<defs><linearGradient id="gpot" x1="0" x2="1" y1="0" y2="0"><stop offset="0" stop-color="#ececec"/><stop offset="0.18" stop-color="#dedede"/><stop offset="0.45" stop-color="#d2d2d2"/><stop offset="0.8" stop-color="#dedede"/><stop offset="1" stop-color="#e8e8e8"/></linearGradient><linearGradient id="gpot2" x1="0" x2="1" y1="0" y2="0"><stop offset="0" stop-color="#f4f4f4"/><stop offset="0.3" stop-color="#ebebeb"/><stop offset="0.6" stop-color="#e2e2e2"/><stop offset="0.85" stop-color="#d8d8d8"/><stop offset="1" stop-color="#e6e6e6"/></linearGradient></defs>
<path d="M244.3,1040.5 L299.3,1040.5 Q298.1,1063.0 295.3,1085.5 L248.70000000000002,1085.5 Q245.7,1063.0 244.3,1040.5 Z" fill="url(#gpot)"/>
<rect x="244.8" y="1040.5" width="54.0" height="3" fill="#f3f3f3"/>
<path d="M247.70000000000002,1084.5 L296.3,1084.5 L294.3,1093.0 L249.70000000000002,1093.0 Z" fill="#e8e8e8" stroke="#d2d2d2" stroke-width="0.8"/>
<rect x="244.3" y="1039.5" width="55" height="2.5" fill="#1b1b1b" opacity="0.7"/>
<g>
<g transform="translate(400.1,1020.0) rotate(150)"><path d="M-10.0,0 C-5.5,-6.7 4.5,-6.2 10.0,0 C4.5,6.2 -5.5,6.7 -10.0,0 Z" fill="#2c5624" opacity="1"/></g>
<g transform="translate(414.1,1032.0) rotate(110)"><path d="M-12.0,0 C-6.6,-8.0 5.4,-7.5 12.0,0 C5.4,7.5 -6.6,8.0 -12.0,0 Z" fill="#2c5624" opacity="1"/></g>
<g transform="translate(434.1,1034.0) rotate(80)"><path d="M-13.0,0 C-7.2,-8.0 5.9,-7.5 13.0,0 C5.9,7.5 -7.2,8.0 -13.0,0 Z" fill="#3a6a2c" opacity="1"/></g>
<g transform="translate(454.1,1032.0) rotate(60)"><path d="M-13.0,0 C-7.2,-8.0 5.9,-7.5 13.0,0 C5.9,7.5 -7.2,8.0 -13.0,0 Z" fill="#2c5624" opacity="1"/></g>
<g transform="translate(472.1,1030.0) rotate(40)"><path d="M-11.0,0 C-6.1,-6.7 5.0,-6.2 11.0,0 C5.0,6.2 -6.1,6.7 -11.0,0 Z" fill="#2c5624" opacity="1"/></g>
<g transform="translate(422.1,1015.0) rotate(100)"><path d="M-15.0,0 C-8.2,-10.6 6.8,-10.0 15.0,0 C6.8,10.0 -8.2,10.6 -15.0,0 Z" fill="#2c5624" opacity="1"/></g>
<g transform="translate(444.1,1022.0) rotate(70)"><path d="M-15.0,0 C-8.2,-10.6 6.8,-10.0 15.0,0 C6.8,10.0 -8.2,10.6 -15.0,0 Z" fill="#3a6a2c" opacity="1"/></g>
<g transform="translate(466.1,1026.0) rotate(30)"><path d="M-11.0,0 C-6.1,-6.7 5.0,-6.2 11.0,0 C5.0,6.2 -6.1,6.7 -11.0,0 Z" fill="#2c5624" opacity="1"/></g>
<g transform="translate(404.1,1012.0) rotate(160)"><path d="M-9.0,0 C-5.0,-6.0 4.0,-5.6 9.0,0 C4.0,5.6 -5.0,6.0 -9.0,0 Z" fill="#2c5624" opacity="1"/></g>
<g transform="translate(482.1,1024.0) rotate(20)"><path d="M-8.0,0 C-4.4,-5.3 3.6,-5.0 8.0,0 C3.6,5.0 -4.4,5.3 -8.0,0 Z" fill="#2c5624" opacity="1"/></g>
<g transform="translate(458.1,1043.0) rotate(75)"><path d="M-9.0,0 C-5.0,-4.7 4.0,-4.4 9.0,0 C4.0,4.4 -5.0,4.7 -9.0,0 Z" fill="#2c5624" opacity="1"/></g>
<g transform="translate(480.1,1035.0) rotate(80)"><path d="M-9.0,0 C-5.0,-4.0 4.0,-3.8 9.0,0 C4.0,3.8 -5.0,4.0 -9.0,0 Z" fill="#2c5624" opacity="1"/></g>
<g transform="translate(398.1,1026.0) rotate(130)"><path d="M-7.0,0 C-3.9,-4.0 3.1,-3.8 7.0,0 C3.1,3.8 -3.9,4.0 -7.0,0 Z" fill="#3a6a2c" opacity="1"/></g>
<ellipse cx="438.1" cy="1026" rx="33" ry="12" fill="#30552a"/>
<ellipse cx="438.1" cy="996" rx="40" ry="20" fill="#3a2626"/>
<ellipse cx="398.1" cy="980.0" rx="6.6" ry="6.0" fill="#ec4c7c" transform="rotate(-90 398.1 980.0)"/><ellipse cx="403.8" cy="984.1" rx="6.6" ry="6.0" fill="#ec4c7c" transform="rotate(-18 403.8 984.1)"/><ellipse cx="401.7" cy="990.9" rx="6.6" ry="6.0" fill="#ec4c7c" transform="rotate(54 401.7 990.9)"/><ellipse cx="394.5" cy="990.9" rx="6.6" ry="6.0" fill="#ec4c7c" transform="rotate(126 394.5 990.9)"/><ellipse cx="392.4" cy="984.1" rx="6.6" ry="6.0" fill="#ec4c7c" transform="rotate(198 392.4 984.1)"/><circle cx="398.1" cy="986.0" r="7.5" fill="#d42a5c" opacity="0.75"/><circle cx="398.1" cy="986.0" r="2.1" fill="#5a061c"/>
<ellipse cx="423.3" cy="978.0" rx="7.2" ry="6.5" fill="#ec4c7c" transform="rotate(-67 423.3 978.0)"/><ellipse cx="427.3" cy="984.6" rx="7.2" ry="6.5" fill="#ec4c7c" transform="rotate(5 427.3 984.6)"/><ellipse cx="422.3" cy="990.3" rx="7.2" ry="6.5" fill="#ec4c7c" transform="rotate(77 422.3 990.3)"/><ellipse cx="415.2" cy="987.3" rx="7.2" ry="6.5" fill="#ec4c7c" transform="rotate(149 415.2 987.3)"/><ellipse cx="415.9" cy="979.7" rx="7.2" ry="6.5" fill="#ec4c7c" transform="rotate(221 415.9 979.7)"/><circle cx="420.8" cy="984.0" r="8.1" fill="#d42a5c" opacity="0.75"/><circle cx="420.8" cy="984.0" r="2.2" fill="#5a061c"/>
<ellipse cx="421.8" cy="966.4" rx="5.7" ry="5.2" fill="#ec4c7c" transform="rotate(-44 421.8 966.4)"/><ellipse cx="422.7" cy="972.4" rx="5.7" ry="5.2" fill="#ec4c7c" transform="rotate(28 422.7 972.4)"/><ellipse cx="417.2" cy="975.1" rx="5.7" ry="5.2" fill="#ec4c7c" transform="rotate(100 417.2 975.1)"/><ellipse cx="413.0" cy="970.7" rx="5.7" ry="5.2" fill="#ec4c7c" transform="rotate(172 413.0 970.7)"/><ellipse cx="415.8" cy="965.3" rx="5.7" ry="5.2" fill="#ec4c7c" transform="rotate(244 415.8 965.3)"/><circle cx="418.1" cy="970.0" r="6.4" fill="#d42a5c" opacity="0.75"/><circle cx="418.1" cy="970.0" r="1.8" fill="#5a061c"/>
<ellipse cx="443.6" cy="972.6" rx="6.4" ry="5.9" fill="#ec4c7c" transform="rotate(-21 443.6 972.6)"/><ellipse cx="441.8" cy="979.2" rx="6.4" ry="5.9" fill="#ec4c7c" transform="rotate(51 441.8 979.2)"/><ellipse cx="434.9" cy="979.6" rx="6.4" ry="5.9" fill="#ec4c7c" transform="rotate(123 434.9 979.6)"/><ellipse cx="432.4" cy="973.2" rx="6.4" ry="5.9" fill="#ec4c7c" transform="rotate(195 432.4 973.2)"/><ellipse cx="437.8" cy="968.9" rx="6.4" ry="5.9" fill="#ec4c7c" transform="rotate(267 437.8 968.9)"/><circle cx="438.1" cy="974.7" r="7.3" fill="#d42a5c" opacity="0.75"/><circle cx="438.1" cy="974.7" r="2.0" fill="#5a061c"/>
<ellipse cx="412.3" cy="995.2" rx="7.2" ry="6.5" fill="#ec4c7c" transform="rotate(-70 412.3 995.2)"/><ellipse cx="416.6" cy="1001.5" rx="7.2" ry="6.5" fill="#ec4c7c" transform="rotate(2 416.6 1001.5)"/><ellipse cx="411.9" cy="1007.5" rx="7.2" ry="6.5" fill="#ec4c7c" transform="rotate(74 411.9 1007.5)"/><ellipse cx="404.7" cy="1004.9" rx="7.2" ry="6.5" fill="#ec4c7c" transform="rotate(146 404.7 1004.9)"/><ellipse cx="405.0" cy="997.3" rx="7.2" ry="6.5" fill="#ec4c7c" transform="rotate(218 405.0 997.3)"/><circle cx="410.1" cy="1001.3" r="8.1" fill="#d42a5c" opacity="0.75"/><circle cx="410.1" cy="1001.3" r="2.2" fill="#5a061c"/>
<ellipse cx="399.0" cy="1000.2" rx="5.7" ry="5.2" fill="#ec4c7c" transform="rotate(-47 399.0 1000.2)"/><ellipse cx="400.2" cy="1006.2" rx="5.7" ry="5.2" fill="#ec4c7c" transform="rotate(25 400.2 1006.2)"/><ellipse cx="394.9" cy="1009.2" rx="5.7" ry="5.2" fill="#ec4c7c" transform="rotate(97 394.9 1009.2)"/><ellipse cx="390.4" cy="1005.0" rx="5.7" ry="5.2" fill="#ec4c7c" transform="rotate(169 390.4 1005.0)"/><ellipse cx="393.0" cy="999.5" rx="5.7" ry="5.2" fill="#ec4c7c" transform="rotate(241 393.0 999.5)"/><circle cx="395.5" cy="1004.0" r="6.4" fill="#d42a5c" opacity="0.75"/><circle cx="395.5" cy="1004.0" r="1.8" fill="#5a061c"/>
<ellipse cx="430.1" cy="1000.3" rx="6.4" ry="5.9" fill="#ec4c7c" transform="rotate(-24 430.1 1000.3)"/><ellipse cx="428.7" cy="1007.0" rx="6.4" ry="5.9" fill="#ec4c7c" transform="rotate(48 428.7 1007.0)"/><ellipse cx="421.9" cy="1007.8" rx="6.4" ry="5.9" fill="#ec4c7c" transform="rotate(120 421.9 1007.8)"/><ellipse cx="419.1" cy="1001.5" rx="6.4" ry="5.9" fill="#ec4c7c" transform="rotate(192 419.1 1001.5)"/><ellipse cx="424.2" cy="996.9" rx="6.4" ry="5.9" fill="#ec4c7c" transform="rotate(264 424.2 996.9)"/><circle cx="424.8" cy="1002.7" r="7.3" fill="#d42a5c" opacity="0.75"/><circle cx="424.8" cy="1002.7" r="2.0" fill="#5a061c"/>
<ellipse cx="446.5" cy="986.4" rx="6.4" ry="5.9" fill="#ec4c7c" transform="rotate(-73 446.5 986.4)"/><ellipse cx="450.6" cy="991.9" rx="6.4" ry="5.9" fill="#ec4c7c" transform="rotate(-1 450.6 991.9)"/><ellipse cx="446.7" cy="997.5" rx="6.4" ry="5.9" fill="#ec4c7c" transform="rotate(71 446.7 997.5)"/><ellipse cx="440.1" cy="995.5" rx="6.4" ry="5.9" fill="#ec4c7c" transform="rotate(143 440.1 995.5)"/><ellipse cx="440.0" cy="988.6" rx="6.4" ry="5.9" fill="#ec4c7c" transform="rotate(215 440.0 988.6)"/><circle cx="444.8" cy="992.0" r="7.3" fill="#d42a5c" opacity="0.75"/><circle cx="444.8" cy="992.0" r="2.0" fill="#5a061c"/>
<ellipse cx="463.3" cy="975.5" rx="6.4" ry="5.9" fill="#ec4c7c" transform="rotate(-50 463.3 975.5)"/><ellipse cx="464.9" cy="982.2" rx="6.4" ry="5.9" fill="#ec4c7c" transform="rotate(22 464.9 982.2)"/><ellipse cx="459.1" cy="985.8" rx="6.4" ry="5.9" fill="#ec4c7c" transform="rotate(94 459.1 985.8)"/><ellipse cx="453.8" cy="981.4" rx="6.4" ry="5.9" fill="#ec4c7c" transform="rotate(166 453.8 981.4)"/><ellipse cx="456.4" cy="975.0" rx="6.4" ry="5.9" fill="#ec4c7c" transform="rotate(238 456.4 975.0)"/><circle cx="459.5" cy="980.0" r="7.3" fill="#d42a5c" opacity="0.75"/><circle cx="459.5" cy="980.0" r="2.0" fill="#5a061c"/>
<ellipse cx="475.3" cy="984.0" rx="6.4" ry="5.9" fill="#ec4c7c" transform="rotate(-27 475.3 984.0)"/><ellipse cx="474.2" cy="990.8" rx="6.4" ry="5.9" fill="#ec4c7c" transform="rotate(45 474.2 990.8)"/><ellipse cx="467.4" cy="991.9" rx="6.4" ry="5.9" fill="#ec4c7c" transform="rotate(117 467.4 991.9)"/><ellipse cx="464.3" cy="985.8" rx="6.4" ry="5.9" fill="#ec4c7c" transform="rotate(189 464.3 985.8)"/><ellipse cx="469.2" cy="980.9" rx="6.4" ry="5.9" fill="#ec4c7c" transform="rotate(261 469.2 980.9)"/><circle cx="470.1" cy="986.7" r="7.3" fill="#d42a5c" opacity="0.75"/><circle cx="470.1" cy="986.7" r="2.0" fill="#5a061c"/>
<ellipse cx="449.2" cy="1003.8" rx="7.9" ry="7.2" fill="#ec4c7c" transform="rotate(-76 449.2 1003.8)"/><ellipse cx="454.6" cy="1010.2" rx="7.9" ry="7.2" fill="#ec4c7c" transform="rotate(-4 454.6 1010.2)"/><ellipse cx="450.2" cy="1017.3" rx="7.9" ry="7.2" fill="#ec4c7c" transform="rotate(68 450.2 1017.3)"/><ellipse cx="442.0" cy="1015.3" rx="7.9" ry="7.2" fill="#ec4c7c" transform="rotate(140 442.0 1015.3)"/><ellipse cx="441.4" cy="1006.9" rx="7.9" ry="7.2" fill="#ec4c7c" transform="rotate(212 441.4 1006.9)"/><circle cx="447.5" cy="1010.7" r="8.9" fill="#d42a5c" opacity="0.75"/><circle cx="447.5" cy="1010.7" r="2.4" fill="#5a061c"/>
<ellipse cx="464.3" cy="1002.0" rx="6.4" ry="5.9" fill="#ec4c7c" transform="rotate(-53 464.3 1002.0)"/><ellipse cx="466.3" cy="1008.6" rx="6.4" ry="5.9" fill="#ec4c7c" transform="rotate(19 466.3 1008.6)"/><ellipse cx="460.7" cy="1012.5" rx="6.4" ry="5.9" fill="#ec4c7c" transform="rotate(91 460.7 1012.5)"/><ellipse cx="455.2" cy="1008.4" rx="6.4" ry="5.9" fill="#ec4c7c" transform="rotate(163 455.2 1008.4)"/><ellipse cx="457.4" cy="1001.9" rx="6.4" ry="5.9" fill="#ec4c7c" transform="rotate(235 457.4 1001.9)"/><circle cx="460.8" cy="1006.7" r="7.3" fill="#d42a5c" opacity="0.75"/><circle cx="460.8" cy="1006.7" r="2.0" fill="#5a061c"/>
<ellipse cx="477.3" cy="1010.7" rx="5.7" ry="5.2" fill="#ec4c7c" transform="rotate(-30 477.3 1010.7)"/><ellipse cx="476.7" cy="1016.8" rx="5.7" ry="5.2" fill="#ec4c7c" transform="rotate(42 476.7 1016.8)"/><ellipse cx="470.7" cy="1018.1" rx="5.7" ry="5.2" fill="#ec4c7c" transform="rotate(114 470.7 1018.1)"/><ellipse cx="467.6" cy="1012.8" rx="5.7" ry="5.2" fill="#ec4c7c" transform="rotate(186 467.6 1012.8)"/><ellipse cx="471.7" cy="1008.2" rx="5.7" ry="5.2" fill="#ec4c7c" transform="rotate(258 471.7 1008.2)"/><circle cx="472.8" cy="1013.3" r="6.4" fill="#d42a5c" opacity="0.75"/><circle cx="472.8" cy="1013.3" r="1.8" fill="#5a061c"/>
<ellipse cx="481.7" cy="1011.5" rx="5.0" ry="4.5" fill="#ec4c7c" transform="rotate(-79 481.7 1011.5)"/><ellipse cx="485.3" cy="1015.4" rx="5.0" ry="4.5" fill="#ec4c7c" transform="rotate(-7 485.3 1015.4)"/><ellipse cx="482.7" cy="1020.1" rx="5.0" ry="4.5" fill="#ec4c7c" transform="rotate(65 482.7 1020.1)"/><ellipse cx="477.5" cy="1019.1" rx="5.0" ry="4.5" fill="#ec4c7c" transform="rotate(137 477.5 1019.1)"/><ellipse cx="476.8" cy="1013.8" rx="5.0" ry="4.5" fill="#ec4c7c" transform="rotate(209 476.8 1013.8)"/><circle cx="480.8" cy="1016.0" r="5.6" fill="#d42a5c" opacity="0.75"/><circle cx="480.8" cy="1016.0" r="1.7" fill="#5a061c"/>
<ellipse cx="454.6" cy="966.2" rx="5.0" ry="4.5" fill="#ec4c7c" transform="rotate(-56 454.6 966.2)"/><ellipse cx="456.5" cy="971.3" rx="5.0" ry="4.5" fill="#ec4c7c" transform="rotate(16 456.5 971.3)"/><ellipse cx="452.3" cy="974.5" rx="5.0" ry="4.5" fill="#ec4c7c" transform="rotate(88 452.3 974.5)"/><ellipse cx="447.8" cy="971.6" rx="5.0" ry="4.5" fill="#ec4c7c" transform="rotate(160 447.8 971.6)"/><ellipse cx="449.3" cy="966.4" rx="5.0" ry="4.5" fill="#ec4c7c" transform="rotate(232 449.3 966.4)"/><circle cx="452.1" cy="970.0" r="5.6" fill="#d42a5c" opacity="0.75"/><circle cx="452.1" cy="970.0" r="1.7" fill="#5a061c"/>
</g>
<path d="M411.1,1040.5 L466.1,1040.5 Q464.9,1063.0 462.1,1085.5 L415.5,1085.5 Q412.5,1063.0 411.1,1040.5 Z" fill="url(#gpot)"/>
<rect x="411.6" y="1040.5" width="54.0" height="3" fill="#f3f3f3"/>
<path d="M414.5,1084.5 L463.1,1084.5 L461.1,1093.0 L416.5,1093.0 Z" fill="#e8e8e8" stroke="#d2d2d2" stroke-width="0.8"/>
<rect x="411.1" y="1039.5" width="55" height="2.5" fill="#1b1b1b" opacity="0.7"/>
<g>
<g transform="translate(566.9,1020.0) rotate(150)"><path d="M-10.0,0 C-5.5,-6.7 4.5,-6.2 10.0,0 C4.5,6.2 -5.5,6.7 -10.0,0 Z" fill="#2c5624" opacity="1"/></g>
<g transform="translate(580.9,1032.0) rotate(110)"><path d="M-12.0,0 C-6.6,-8.0 5.4,-7.5 12.0,0 C5.4,7.5 -6.6,8.0 -12.0,0 Z" fill="#2c5624" opacity="1"/></g>
<g transform="translate(600.9,1034.0) rotate(80)"><path d="M-13.0,0 C-7.2,-8.0 5.9,-7.5 13.0,0 C5.9,7.5 -7.2,8.0 -13.0,0 Z" fill="#3a6a2c" opacity="1"/></g>
<g transform="translate(620.9,1032.0) rotate(60)"><path d="M-13.0,0 C-7.2,-8.0 5.9,-7.5 13.0,0 C5.9,7.5 -7.2,8.0 -13.0,0 Z" fill="#2c5624" opacity="1"/></g>
<g transform="translate(638.9,1030.0) rotate(40)"><path d="M-11.0,0 C-6.1,-6.7 5.0,-6.2 11.0,0 C5.0,6.2 -6.1,6.7 -11.0,0 Z" fill="#2c5624" opacity="1"/></g>
<g transform="translate(588.9,1015.0) rotate(100)"><path d="M-15.0,0 C-8.2,-10.6 6.8,-10.0 15.0,0 C6.8,10.0 -8.2,10.6 -15.0,0 Z" fill="#2c5624" opacity="1"/></g>
<g transform="translate(610.9,1022.0) rotate(70)"><path d="M-15.0,0 C-8.2,-10.6 6.8,-10.0 15.0,0 C6.8,10.0 -8.2,10.6 -15.0,0 Z" fill="#3a6a2c" opacity="1"/></g>
<g transform="translate(632.9,1026.0) rotate(30)"><path d="M-11.0,0 C-6.1,-6.7 5.0,-6.2 11.0,0 C5.0,6.2 -6.1,6.7 -11.0,0 Z" fill="#2c5624" opacity="1"/></g>
<g transform="translate(570.9,1012.0) rotate(160)"><path d="M-9.0,0 C-5.0,-6.0 4.0,-5.6 9.0,0 C4.0,5.6 -5.0,6.0 -9.0,0 Z" fill="#2c5624" opacity="1"/></g>
<g transform="translate(648.9,1024.0) rotate(20)"><path d="M-8.0,0 C-4.4,-5.3 3.6,-5.0 8.0,0 C3.6,5.0 -4.4,5.3 -8.0,0 Z" fill="#2c5624" opacity="1"/></g>
<g transform="translate(624.9,1043.0) rotate(75)"><path d="M-9.0,0 C-5.0,-4.7 4.0,-4.4 9.0,0 C4.0,4.4 -5.0,4.7 -9.0,0 Z" fill="#2c5624" opacity="1"/></g>
<g transform="translate(646.9,1035.0) rotate(80)"><path d="M-9.0,0 C-5.0,-4.0 4.0,-3.8 9.0,0 C4.0,3.8 -5.0,4.0 -9.0,0 Z" fill="#2c5624" opacity="1"/></g>
<g transform="translate(564.9,1026.0) rotate(130)"><path d="M-7.0,0 C-3.9,-4.0 3.1,-3.8 7.0,0 C3.1,3.8 -3.9,4.0 -7.0,0 Z" fill="#3a6a2c" opacity="1"/></g>
<ellipse cx="604.9000000000001" cy="1026" rx="33" ry="12" fill="#30552a"/>
<ellipse cx="604.9000000000001" cy="996" rx="40" ry="20" fill="#3a2626"/>
<ellipse cx="564.9" cy="980.0" rx="6.6" ry="6.0" fill="#ec4c7c" transform="rotate(-90 564.9 980.0)"/><ellipse cx="570.6" cy="984.1" rx="6.6" ry="6.0" fill="#ec4c7c" transform="rotate(-18 570.6 984.1)"/><ellipse cx="568.5" cy="990.9" rx="6.6" ry="6.0" fill="#ec4c7c" transform="rotate(54 568.5 990.9)"/><ellipse cx="561.3" cy="990.9" rx="6.6" ry="6.0" fill="#ec4c7c" transform="rotate(126 561.3 990.9)"/><ellipse cx="559.2" cy="984.1" rx="6.6" ry="6.0" fill="#ec4c7c" transform="rotate(198 559.2 984.1)"/><circle cx="564.9" cy="986.0" r="7.5" fill="#d42a5c" opacity="0.75"/><circle cx="564.9" cy="986.0" r="2.1" fill="#5a061c"/>
<ellipse cx="590.1" cy="978.0" rx="7.2" ry="6.5" fill="#ec4c7c" transform="rotate(-67 590.1 978.0)"/><ellipse cx="594.1" cy="984.6" rx="7.2" ry="6.5" fill="#ec4c7c" transform="rotate(5 594.1 984.6)"/><ellipse cx="589.1" cy="990.3" rx="7.2" ry="6.5" fill="#ec4c7c" transform="rotate(77 589.1 990.3)"/><ellipse cx="582.0" cy="987.3" rx="7.2" ry="6.5" fill="#ec4c7c" transform="rotate(149 582.0 987.3)"/><ellipse cx="582.7" cy="979.7" rx="7.2" ry="6.5" fill="#ec4c7c" transform="rotate(221 582.7 979.7)"/><circle cx="587.6" cy="984.0" r="8.1" fill="#d42a5c" opacity="0.75"/><circle cx="587.6" cy="984.0" r="2.2" fill="#5a061c"/>
<ellipse cx="588.6" cy="966.4" rx="5.7" ry="5.2" fill="#ec4c7c" transform="rotate(-44 588.6 966.4)"/><ellipse cx="589.5" cy="972.4" rx="5.7" ry="5.2" fill="#ec4c7c" transform="rotate(28 589.5 972.4)"/><ellipse cx="584.0" cy="975.1" rx="5.7" ry="5.2" fill="#ec4c7c" transform="rotate(100 584.0 975.1)"/><ellipse cx="579.8" cy="970.7" rx="5.7" ry="5.2" fill="#ec4c7c" transform="rotate(172 579.8 970.7)"/><ellipse cx="582.6" cy="965.3" rx="5.7" ry="5.2" fill="#ec4c7c" transform="rotate(244 582.6 965.3)"/><circle cx="584.9" cy="970.0" r="6.4" fill="#d42a5c" opacity="0.75"/><circle cx="584.9" cy="970.0" r="1.8" fill="#5a061c"/>
<ellipse cx="610.4" cy="972.6" rx="6.4" ry="5.9" fill="#ec4c7c" transform="rotate(-21 610.4 972.6)"/><ellipse cx="608.6" cy="979.2" rx="6.4" ry="5.9" fill="#ec4c7c" transform="rotate(51 608.6 979.2)"/><ellipse cx="601.7" cy="979.6" rx="6.4" ry="5.9" fill="#ec4c7c" transform="rotate(123 601.7 979.6)"/><ellipse cx="599.2" cy="973.2" rx="6.4" ry="5.9" fill="#ec4c7c" transform="rotate(195 599.2 973.2)"/><ellipse cx="604.6" cy="968.9" rx="6.4" ry="5.9" fill="#ec4c7c" transform="rotate(267 604.6 968.9)"/><circle cx="604.9" cy="974.7" r="7.3" fill="#d42a5c" opacity="0.75"/><circle cx="604.9" cy="974.7" r="2.0" fill="#5a061c"/>
<ellipse cx="579.1" cy="995.2" rx="7.2" ry="6.5" fill="#ec4c7c" transform="rotate(-70 579.1 995.2)"/><ellipse cx="583.4" cy="1001.5" rx="7.2" ry="6.5" fill="#ec4c7c" transform="rotate(2 583.4 1001.5)"/><ellipse cx="578.7" cy="1007.5" rx="7.2" ry="6.5" fill="#ec4c7c" transform="rotate(74 578.7 1007.5)"/><ellipse cx="571.5" cy="1004.9" rx="7.2" ry="6.5" fill="#ec4c7c" transform="rotate(146 571.5 1004.9)"/><ellipse cx="571.8" cy="997.3" rx="7.2" ry="6.5" fill="#ec4c7c" transform="rotate(218 571.8 997.3)"/><circle cx="576.9" cy="1001.3" r="8.1" fill="#d42a5c" opacity="0.75"/><circle cx="576.9" cy="1001.3" r="2.2" fill="#5a061c"/>
<ellipse cx="565.8" cy="1000.2" rx="5.7" ry="5.2" fill="#ec4c7c" transform="rotate(-47 565.8 1000.2)"/><ellipse cx="567.0" cy="1006.2" rx="5.7" ry="5.2" fill="#ec4c7c" transform="rotate(25 567.0 1006.2)"/><ellipse cx="561.7" cy="1009.2" rx="5.7" ry="5.2" fill="#ec4c7c" transform="rotate(97 561.7 1009.2)"/><ellipse cx="557.2" cy="1005.0" rx="5.7" ry="5.2" fill="#ec4c7c" transform="rotate(169 557.2 1005.0)"/><ellipse cx="559.8" cy="999.5" rx="5.7" ry="5.2" fill="#ec4c7c" transform="rotate(241 559.8 999.5)"/><circle cx="562.3" cy="1004.0" r="6.4" fill="#d42a5c" opacity="0.75"/><circle cx="562.3" cy="1004.0" r="1.8" fill="#5a061c"/>
<ellipse cx="596.9" cy="1000.3" rx="6.4" ry="5.9" fill="#ec4c7c" transform="rotate(-24 596.9 1000.3)"/><ellipse cx="595.5" cy="1007.0" rx="6.4" ry="5.9" fill="#ec4c7c" transform="rotate(48 595.5 1007.0)"/><ellipse cx="588.7" cy="1007.8" rx="6.4" ry="5.9" fill="#ec4c7c" transform="rotate(120 588.7 1007.8)"/><ellipse cx="585.9" cy="1001.5" rx="6.4" ry="5.9" fill="#ec4c7c" transform="rotate(192 585.9 1001.5)"/><ellipse cx="591.0" cy="996.9" rx="6.4" ry="5.9" fill="#ec4c7c" transform="rotate(264 591.0 996.9)"/><circle cx="591.6" cy="1002.7" r="7.3" fill="#d42a5c" opacity="0.75"/><circle cx="591.6" cy="1002.7" r="2.0" fill="#5a061c"/>
<ellipse cx="613.3" cy="986.4" rx="6.4" ry="5.9" fill="#ec4c7c" transform="rotate(-73 613.3 986.4)"/><ellipse cx="617.4" cy="991.9" rx="6.4" ry="5.9" fill="#ec4c7c" transform="rotate(-1 617.4 991.9)"/><ellipse cx="613.5" cy="997.5" rx="6.4" ry="5.9" fill="#ec4c7c" transform="rotate(71 613.5 997.5)"/><ellipse cx="606.9" cy="995.5" rx="6.4" ry="5.9" fill="#ec4c7c" transform="rotate(143 606.9 995.5)"/><ellipse cx="606.8" cy="988.6" rx="6.4" ry="5.9" fill="#ec4c7c" transform="rotate(215 606.8 988.6)"/><circle cx="611.6" cy="992.0" r="7.3" fill="#d42a5c" opacity="0.75"/><circle cx="611.6" cy="992.0" r="2.0" fill="#5a061c"/>
<ellipse cx="630.1" cy="975.5" rx="6.4" ry="5.9" fill="#ec4c7c" transform="rotate(-50 630.1 975.5)"/><ellipse cx="631.7" cy="982.2" rx="6.4" ry="5.9" fill="#ec4c7c" transform="rotate(22 631.7 982.2)"/><ellipse cx="625.9" cy="985.8" rx="6.4" ry="5.9" fill="#ec4c7c" transform="rotate(94 625.9 985.8)"/><ellipse cx="620.6" cy="981.4" rx="6.4" ry="5.9" fill="#ec4c7c" transform="rotate(166 620.6 981.4)"/><ellipse cx="623.2" cy="975.0" rx="6.4" ry="5.9" fill="#ec4c7c" transform="rotate(238 623.2 975.0)"/><circle cx="626.3" cy="980.0" r="7.3" fill="#d42a5c" opacity="0.75"/><circle cx="626.3" cy="980.0" r="2.0" fill="#5a061c"/>
<ellipse cx="642.1" cy="984.0" rx="6.4" ry="5.9" fill="#ec4c7c" transform="rotate(-27 642.1 984.0)"/><ellipse cx="641.0" cy="990.8" rx="6.4" ry="5.9" fill="#ec4c7c" transform="rotate(45 641.0 990.8)"/><ellipse cx="634.2" cy="991.9" rx="6.4" ry="5.9" fill="#ec4c7c" transform="rotate(117 634.2 991.9)"/><ellipse cx="631.1" cy="985.8" rx="6.4" ry="5.9" fill="#ec4c7c" transform="rotate(189 631.1 985.8)"/><ellipse cx="636.0" cy="980.9" rx="6.4" ry="5.9" fill="#ec4c7c" transform="rotate(261 636.0 980.9)"/><circle cx="636.9" cy="986.7" r="7.3" fill="#d42a5c" opacity="0.75"/><circle cx="636.9" cy="986.7" r="2.0" fill="#5a061c"/>
<ellipse cx="616.0" cy="1003.8" rx="7.9" ry="7.2" fill="#ec4c7c" transform="rotate(-76 616.0 1003.8)"/><ellipse cx="621.4" cy="1010.2" rx="7.9" ry="7.2" fill="#ec4c7c" transform="rotate(-4 621.4 1010.2)"/><ellipse cx="617.0" cy="1017.3" rx="7.9" ry="7.2" fill="#ec4c7c" transform="rotate(68 617.0 1017.3)"/><ellipse cx="608.8" cy="1015.3" rx="7.9" ry="7.2" fill="#ec4c7c" transform="rotate(140 608.8 1015.3)"/><ellipse cx="608.2" cy="1006.9" rx="7.9" ry="7.2" fill="#ec4c7c" transform="rotate(212 608.2 1006.9)"/><circle cx="614.3" cy="1010.7" r="8.9" fill="#d42a5c" opacity="0.75"/><circle cx="614.3" cy="1010.7" r="2.4" fill="#5a061c"/>
<ellipse cx="631.1" cy="1002.0" rx="6.4" ry="5.9" fill="#ec4c7c" transform="rotate(-53 631.1 1002.0)"/><ellipse cx="633.1" cy="1008.6" rx="6.4" ry="5.9" fill="#ec4c7c" transform="rotate(19 633.1 1008.6)"/><ellipse cx="627.5" cy="1012.5" rx="6.4" ry="5.9" fill="#ec4c7c" transform="rotate(91 627.5 1012.5)"/><ellipse cx="622.0" cy="1008.4" rx="6.4" ry="5.9" fill="#ec4c7c" transform="rotate(163 622.0 1008.4)"/><ellipse cx="624.2" cy="1001.9" rx="6.4" ry="5.9" fill="#ec4c7c" transform="rotate(235 624.2 1001.9)"/><circle cx="627.6" cy="1006.7" r="7.3" fill="#d42a5c" opacity="0.75"/><circle cx="627.6" cy="1006.7" r="2.0" fill="#5a061c"/>
<ellipse cx="644.1" cy="1010.7" rx="5.7" ry="5.2" fill="#ec4c7c" transform="rotate(-30 644.1 1010.7)"/><ellipse cx="643.5" cy="1016.8" rx="5.7" ry="5.2" fill="#ec4c7c" transform="rotate(42 643.5 1016.8)"/><ellipse cx="637.5" cy="1018.1" rx="5.7" ry="5.2" fill="#ec4c7c" transform="rotate(114 637.5 1018.1)"/><ellipse cx="634.4" cy="1012.8" rx="5.7" ry="5.2" fill="#ec4c7c" transform="rotate(186 634.4 1012.8)"/><ellipse cx="638.5" cy="1008.2" rx="5.7" ry="5.2" fill="#ec4c7c" transform="rotate(258 638.5 1008.2)"/><circle cx="639.6" cy="1013.3" r="6.4" fill="#d42a5c" opacity="0.75"/><circle cx="639.6" cy="1013.3" r="1.8" fill="#5a061c"/>
<ellipse cx="648.5" cy="1011.5" rx="5.0" ry="4.5" fill="#ec4c7c" transform="rotate(-79 648.5 1011.5)"/><ellipse cx="652.1" cy="1015.4" rx="5.0" ry="4.5" fill="#ec4c7c" transform="rotate(-7 652.1 1015.4)"/><ellipse cx="649.5" cy="1020.1" rx="5.0" ry="4.5" fill="#ec4c7c" transform="rotate(65 649.5 1020.1)"/><ellipse cx="644.3" cy="1019.1" rx="5.0" ry="4.5" fill="#ec4c7c" transform="rotate(137 644.3 1019.1)"/><ellipse cx="643.6" cy="1013.8" rx="5.0" ry="4.5" fill="#ec4c7c" transform="rotate(209 643.6 1013.8)"/><circle cx="647.6" cy="1016.0" r="5.6" fill="#d42a5c" opacity="0.75"/><circle cx="647.6" cy="1016.0" r="1.7" fill="#5a061c"/>
<ellipse cx="621.4" cy="966.2" rx="5.0" ry="4.5" fill="#ec4c7c" transform="rotate(-56 621.4 966.2)"/><ellipse cx="623.3" cy="971.3" rx="5.0" ry="4.5" fill="#ec4c7c" transform="rotate(16 623.3 971.3)"/><ellipse cx="619.1" cy="974.5" rx="5.0" ry="4.5" fill="#ec4c7c" transform="rotate(88 619.1 974.5)"/><ellipse cx="614.6" cy="971.6" rx="5.0" ry="4.5" fill="#ec4c7c" transform="rotate(160 614.6 971.6)"/><ellipse cx="616.1" cy="966.4" rx="5.0" ry="4.5" fill="#ec4c7c" transform="rotate(232 616.1 966.4)"/><circle cx="618.9" cy="970.0" r="5.6" fill="#d42a5c" opacity="0.75"/><circle cx="618.9" cy="970.0" r="1.7" fill="#5a061c"/>
</g>
<path d="M577.9000000000001,1040.5 L632.9000000000001,1040.5 Q631.7,1063.0 628.9000000000001,1085.5 L582.3000000000001,1085.5 Q579.3,1063.0 577.9000000000001,1040.5 Z" fill="url(#gpot)"/>
<rect x="578.4000000000001" y="1040.5" width="54.0" height="3" fill="#f3f3f3"/>
<path d="M581.3000000000001,1084.5 L629.9000000000001,1084.5 L627.9000000000001,1093.0 L583.3000000000001,1093.0 Z" fill="#e8e8e8" stroke="#d2d2d2" stroke-width="0.8"/>
<rect x="577.9000000000001" y="1039.5" width="55" height="2.5" fill="#1b1b1b" opacity="0.7"/>
<g>
<g transform="translate(733.7,1020.0) rotate(150)"><path d="M-10.0,0 C-5.5,-6.7 4.5,-6.2 10.0,0 C4.5,6.2 -5.5,6.7 -10.0,0 Z" fill="#2c5624" opacity="1"/></g>
<g transform="translate(747.7,1032.0) rotate(110)"><path d="M-12.0,0 C-6.6,-8.0 5.4,-7.5 12.0,0 C5.4,7.5 -6.6,8.0 -12.0,0 Z" fill="#2c5624" opacity="1"/></g>
<g transform="translate(767.7,1034.0) rotate(80)"><path d="M-13.0,0 C-7.2,-8.0 5.9,-7.5 13.0,0 C5.9,7.5 -7.2,8.0 -13.0,0 Z" fill="#3a6a2c" opacity="1"/></g>
<g transform="translate(787.7,1032.0) rotate(60)"><path d="M-13.0,0 C-7.2,-8.0 5.9,-7.5 13.0,0 C5.9,7.5 -7.2,8.0 -13.0,0 Z" fill="#2c5624" opacity="1"/></g>
<g transform="translate(805.7,1030.0) rotate(40)"><path d="M-11.0,0 C-6.1,-6.7 5.0,-6.2 11.0,0 C5.0,6.2 -6.1,6.7 -11.0,0 Z" fill="#2c5624" opacity="1"/></g>
<g transform="translate(755.7,1015.0) rotate(100)"><path d="M-15.0,0 C-8.2,-10.6 6.8,-10.0 15.0,0 C6.8,10.0 -8.2,10.6 -15.0,0 Z" fill="#2c5624" opacity="1"/></g>
<g transform="translate(777.7,1022.0) rotate(70)"><path d="M-15.0,0 C-8.2,-10.6 6.8,-10.0 15.0,0 C6.8,10.0 -8.2,10.6 -15.0,0 Z" fill="#3a6a2c" opacity="1"/></g>
<g transform="translate(799.7,1026.0) rotate(30)"><path d="M-11.0,0 C-6.1,-6.7 5.0,-6.2 11.0,0 C5.0,6.2 -6.1,6.7 -11.0,0 Z" fill="#2c5624" opacity="1"/></g>
<g transform="translate(737.7,1012.0) rotate(160)"><path d="M-9.0,0 C-5.0,-6.0 4.0,-5.6 9.0,0 C4.0,5.6 -5.0,6.0 -9.0,0 Z" fill="#2c5624" opacity="1"/></g>
<g transform="translate(815.7,1024.0) rotate(20)"><path d="M-8.0,0 C-4.4,-5.3 3.6,-5.0 8.0,0 C3.6,5.0 -4.4,5.3 -8.0,0 Z" fill="#2c5624" opacity="1"/></g>
<g transform="translate(791.7,1043.0) rotate(75)"><path d="M-9.0,0 C-5.0,-4.7 4.0,-4.4 9.0,0 C4.0,4.4 -5.0,4.7 -9.0,0 Z" fill="#2c5624" opacity="1"/></g>
<g transform="translate(813.7,1035.0) rotate(80)"><path d="M-9.0,0 C-5.0,-4.0 4.0,-3.8 9.0,0 C4.0,3.8 -5.0,4.0 -9.0,0 Z" fill="#2c5624" opacity="1"/></g>
<g transform="translate(731.7,1026.0) rotate(130)"><path d="M-7.0,0 C-3.9,-4.0 3.1,-3.8 7.0,0 C3.1,3.8 -3.9,4.0 -7.0,0 Z" fill="#3a6a2c" opacity="1"/></g>
<ellipse cx="771.7" cy="1026" rx="33" ry="12" fill="#30552a"/>
<ellipse cx="771.7" cy="996" rx="40" ry="20" fill="#3a2626"/>
<ellipse cx="731.7" cy="980.0" rx="6.6" ry="6.0" fill="#ec4c7c" transform="rotate(-90 731.7 980.0)"/><ellipse cx="737.4" cy="984.1" rx="6.6" ry="6.0" fill="#ec4c7c" transform="rotate(-18 737.4 984.1)"/><ellipse cx="735.3" cy="990.9" rx="6.6" ry="6.0" fill="#ec4c7c" transform="rotate(54 735.3 990.9)"/><ellipse cx="728.1" cy="990.9" rx="6.6" ry="6.0" fill="#ec4c7c" transform="rotate(126 728.1 990.9)"/><ellipse cx="726.0" cy="984.1" rx="6.6" ry="6.0" fill="#ec4c7c" transform="rotate(198 726.0 984.1)"/><circle cx="731.7" cy="986.0" r="7.5" fill="#d42a5c" opacity="0.75"/><circle cx="731.7" cy="986.0" r="2.1" fill="#5a061c"/>
<ellipse cx="756.9" cy="978.0" rx="7.2" ry="6.5" fill="#ec4c7c" transform="rotate(-67 756.9 978.0)"/><ellipse cx="760.9" cy="984.6" rx="7.2" ry="6.5" fill="#ec4c7c" transform="rotate(5 760.9 984.6)"/><ellipse cx="755.9" cy="990.3" rx="7.2" ry="6.5" fill="#ec4c7c" transform="rotate(77 755.9 990.3)"/><ellipse cx="748.8" cy="987.3" rx="7.2" ry="6.5" fill="#ec4c7c" transform="rotate(149 748.8 987.3)"/><ellipse cx="749.5" cy="979.7" rx="7.2" ry="6.5" fill="#ec4c7c" transform="rotate(221 749.5 979.7)"/><circle cx="754.4" cy="984.0" r="8.1" fill="#d42a5c" opacity="0.75"/><circle cx="754.4" cy="984.0" r="2.2" fill="#5a061c"/>
<ellipse cx="755.4" cy="966.4" rx="5.7" ry="5.2" fill="#ec4c7c" transform="rotate(-44 755.4 966.4)"/><ellipse cx="756.3" cy="972.4" rx="5.7" ry="5.2" fill="#ec4c7c" transform="rotate(28 756.3 972.4)"/><ellipse cx="750.8" cy="975.1" rx="5.7" ry="5.2" fill="#ec4c7c" transform="rotate(100 750.8 975.1)"/><ellipse cx="746.6" cy="970.7" rx="5.7" ry="5.2" fill="#ec4c7c" transform="rotate(172 746.6 970.7)"/><ellipse cx="749.4" cy="965.3" rx="5.7" ry="5.2" fill="#ec4c7c" transform="rotate(244 749.4 965.3)"/><circle cx="751.7" cy="970.0" r="6.4" fill="#d42a5c" opacity="0.75"/><circle cx="751.7" cy="970.0" r="1.8" fill="#5a061c"/>
<ellipse cx="777.2" cy="972.6" rx="6.4" ry="5.9" fill="#ec4c7c" transform="rotate(-21 777.2 972.6)"/><ellipse cx="775.4" cy="979.2" rx="6.4" ry="5.9" fill="#ec4c7c" transform="rotate(51 775.4 979.2)"/><ellipse cx="768.5" cy="979.6" rx="6.4" ry="5.9" fill="#ec4c7c" transform="rotate(123 768.5 979.6)"/><ellipse cx="766.0" cy="973.2" rx="6.4" ry="5.9" fill="#ec4c7c" transform="rotate(195 766.0 973.2)"/><ellipse cx="771.4" cy="968.9" rx="6.4" ry="5.9" fill="#ec4c7c" transform="rotate(267 771.4 968.9)"/><circle cx="771.7" cy="974.7" r="7.3" fill="#d42a5c" opacity="0.75"/><circle cx="771.7" cy="974.7" r="2.0" fill="#5a061c"/>
<ellipse cx="745.9" cy="995.2" rx="7.2" ry="6.5" fill="#ec4c7c" transform="rotate(-70 745.9 995.2)"/><ellipse cx="750.2" cy="1001.5" rx="7.2" ry="6.5" fill="#ec4c7c" transform="rotate(2 750.2 1001.5)"/><ellipse cx="745.5" cy="1007.5" rx="7.2" ry="6.5" fill="#ec4c7c" transform="rotate(74 745.5 1007.5)"/><ellipse cx="738.3" cy="1004.9" rx="7.2" ry="6.5" fill="#ec4c7c" transform="rotate(146 738.3 1004.9)"/><ellipse cx="738.6" cy="997.3" rx="7.2" ry="6.5" fill="#ec4c7c" transform="rotate(218 738.6 997.3)"/><circle cx="743.7" cy="1001.3" r="8.1" fill="#d42a5c" opacity="0.75"/><circle cx="743.7" cy="1001.3" r="2.2" fill="#5a061c"/>
<ellipse cx="732.6" cy="1000.2" rx="5.7" ry="5.2" fill="#ec4c7c" transform="rotate(-47 732.6 1000.2)"/><ellipse cx="733.8" cy="1006.2" rx="5.7" ry="5.2" fill="#ec4c7c" transform="rotate(25 733.8 1006.2)"/><ellipse cx="728.5" cy="1009.2" rx="5.7" ry="5.2" fill="#ec4c7c" transform="rotate(97 728.5 1009.2)"/><ellipse cx="724.0" cy="1005.0" rx="5.7" ry="5.2" fill="#ec4c7c" transform="rotate(169 724.0 1005.0)"/><ellipse cx="726.6" cy="999.5" rx="5.7" ry="5.2" fill="#ec4c7c" transform="rotate(241 726.6 999.5)"/><circle cx="729.1" cy="1004.0" r="6.4" fill="#d42a5c" opacity="0.75"/><circle cx="729.1" cy="1004.0" r="1.8" fill="#5a061c"/>
<ellipse cx="763.7" cy="1000.3" rx="6.4" ry="5.9" fill="#ec4c7c" transform="rotate(-24 763.7 1000.3)"/><ellipse cx="762.3" cy="1007.0" rx="6.4" ry="5.9" fill="#ec4c7c" transform="rotate(48 762.3 1007.0)"/><ellipse cx="755.5" cy="1007.8" rx="6.4" ry="5.9" fill="#ec4c7c" transform="rotate(120 755.5 1007.8)"/><ellipse cx="752.7" cy="1001.5" rx="6.4" ry="5.9" fill="#ec4c7c" transform="rotate(192 752.7 1001.5)"/><ellipse cx="757.8" cy="996.9" rx="6.4" ry="5.9" fill="#ec4c7c" transform="rotate(264 757.8 996.9)"/><circle cx="758.4" cy="1002.7" r="7.3" fill="#d42a5c" opacity="0.75"/><circle cx="758.4" cy="1002.7" r="2.0" fill="#5a061c"/>
<ellipse cx="780.1" cy="986.4" rx="6.4" ry="5.9" fill="#ec4c7c" transform="rotate(-73 780.1 986.4)"/><ellipse cx="784.2" cy="991.9" rx="6.4" ry="5.9" fill="#ec4c7c" transform="rotate(-1 784.2 991.9)"/><ellipse cx="780.3" cy="997.5" rx="6.4" ry="5.9" fill="#ec4c7c" transform="rotate(71 780.3 997.5)"/><ellipse cx="773.7" cy="995.5" rx="6.4" ry="5.9" fill="#ec4c7c" transform="rotate(143 773.7 995.5)"/><ellipse cx="773.6" cy="988.6" rx="6.4" ry="5.9" fill="#ec4c7c" transform="rotate(215 773.6 988.6)"/><circle cx="778.4" cy="992.0" r="7.3" fill="#d42a5c" opacity="0.75"/><circle cx="778.4" cy="992.0" r="2.0" fill="#5a061c"/>
<ellipse cx="796.9" cy="975.5" rx="6.4" ry="5.9" fill="#ec4c7c" transform="rotate(-50 796.9 975.5)"/><ellipse cx="798.5" cy="982.2" rx="6.4" ry="5.9" fill="#ec4c7c" transform="rotate(22 798.5 982.2)"/><ellipse cx="792.7" cy="985.8" rx="6.4" ry="5.9" fill="#ec4c7c" transform="rotate(94 792.7 985.8)"/><ellipse cx="787.4" cy="981.4" rx="6.4" ry="5.9" fill="#ec4c7c" transform="rotate(166 787.4 981.4)"/><ellipse cx="790.0" cy="975.0" rx="6.4" ry="5.9" fill="#ec4c7c" transform="rotate(238 790.0 975.0)"/><circle cx="793.1" cy="980.0" r="7.3" fill="#d42a5c" opacity="0.75"/><circle cx="793.1" cy="980.0" r="2.0" fill="#5a061c"/>
<ellipse cx="808.9" cy="984.0" rx="6.4" ry="5.9" fill="#ec4c7c" transform="rotate(-27 808.9 984.0)"/><ellipse cx="807.8" cy="990.8" rx="6.4" ry="5.9" fill="#ec4c7c" transform="rotate(45 807.8 990.8)"/><ellipse cx="801.0" cy="991.9" rx="6.4" ry="5.9" fill="#ec4c7c" transform="rotate(117 801.0 991.9)"/><ellipse cx="797.9" cy="985.8" rx="6.4" ry="5.9" fill="#ec4c7c" transform="rotate(189 797.9 985.8)"/><ellipse cx="802.8" cy="980.9" rx="6.4" ry="5.9" fill="#ec4c7c" transform="rotate(261 802.8 980.9)"/><circle cx="803.7" cy="986.7" r="7.3" fill="#d42a5c" opacity="0.75"/><circle cx="803.7" cy="986.7" r="2.0" fill="#5a061c"/>
<ellipse cx="782.8" cy="1003.8" rx="7.9" ry="7.2" fill="#ec4c7c" transform="rotate(-76 782.8 1003.8)"/><ellipse cx="788.2" cy="1010.2" rx="7.9" ry="7.2" fill="#ec4c7c" transform="rotate(-4 788.2 1010.2)"/><ellipse cx="783.8" cy="1017.3" rx="7.9" ry="7.2" fill="#ec4c7c" transform="rotate(68 783.8 1017.3)"/><ellipse cx="775.6" cy="1015.3" rx="7.9" ry="7.2" fill="#ec4c7c" transform="rotate(140 775.6 1015.3)"/><ellipse cx="775.0" cy="1006.9" rx="7.9" ry="7.2" fill="#ec4c7c" transform="rotate(212 775.0 1006.9)"/><circle cx="781.1" cy="1010.7" r="8.9" fill="#d42a5c" opacity="0.75"/><circle cx="781.1" cy="1010.7" r="2.4" fill="#5a061c"/>
<ellipse cx="797.9" cy="1002.0" rx="6.4" ry="5.9" fill="#ec4c7c" transform="rotate(-53 797.9 1002.0)"/><ellipse cx="799.9" cy="1008.6" rx="6.4" ry="5.9" fill="#ec4c7c" transform="rotate(19 799.9 1008.6)"/><ellipse cx="794.3" cy="1012.5" rx="6.4" ry="5.9" fill="#ec4c7c" transform="rotate(91 794.3 1012.5)"/><ellipse cx="788.8" cy="1008.4" rx="6.4" ry="5.9" fill="#ec4c7c" transform="rotate(163 788.8 1008.4)"/><ellipse cx="791.0" cy="1001.9" rx="6.4" ry="5.9" fill="#ec4c7c" transform="rotate(235 791.0 1001.9)"/><circle cx="794.4" cy="1006.7" r="7.3" fill="#d42a5c" opacity="0.75"/><circle cx="794.4" cy="1006.7" r="2.0" fill="#5a061c"/>
<ellipse cx="810.9" cy="1010.7" rx="5.7" ry="5.2" fill="#ec4c7c" transform="rotate(-30 810.9 1010.7)"/><ellipse cx="810.3" cy="1016.8" rx="5.7" ry="5.2" fill="#ec4c7c" transform="rotate(42 810.3 1016.8)"/><ellipse cx="804.3" cy="1018.1" rx="5.7" ry="5.2" fill="#ec4c7c" transform="rotate(114 804.3 1018.1)"/><ellipse cx="801.2" cy="1012.8" rx="5.7" ry="5.2" fill="#ec4c7c" transform="rotate(186 801.2 1012.8)"/><ellipse cx="805.3" cy="1008.2" rx="5.7" ry="5.2" fill="#ec4c7c" transform="rotate(258 805.3 1008.2)"/><circle cx="806.4" cy="1013.3" r="6.4" fill="#d42a5c" opacity="0.75"/><circle cx="806.4" cy="1013.3" r="1.8" fill="#5a061c"/>
<ellipse cx="815.3" cy="1011.5" rx="5.0" ry="4.5" fill="#ec4c7c" transform="rotate(-79 815.3 1011.5)"/><ellipse cx="818.9" cy="1015.4" rx="5.0" ry="4.5" fill="#ec4c7c" transform="rotate(-7 818.9 1015.4)"/><ellipse cx="816.3" cy="1020.1" rx="5.0" ry="4.5" fill="#ec4c7c" transform="rotate(65 816.3 1020.1)"/><ellipse cx="811.1" cy="1019.1" rx="5.0" ry="4.5" fill="#ec4c7c" transform="rotate(137 811.1 1019.1)"/><ellipse cx="810.4" cy="1013.8" rx="5.0" ry="4.5" fill="#ec4c7c" transform="rotate(209 810.4 1013.8)"/><circle cx="814.4" cy="1016.0" r="5.6" fill="#d42a5c" opacity="0.75"/><circle cx="814.4" cy="1016.0" r="1.7" fill="#5a061c"/>
<ellipse cx="788.2" cy="966.2" rx="5.0" ry="4.5" fill="#ec4c7c" transform="rotate(-56 788.2 966.2)"/><ellipse cx="790.1" cy="971.3" rx="5.0" ry="4.5" fill="#ec4c7c" transform="rotate(16 790.1 971.3)"/><ellipse cx="785.9" cy="974.5" rx="5.0" ry="4.5" fill="#ec4c7c" transform="rotate(88 785.9 974.5)"/><ellipse cx="781.4" cy="971.6" rx="5.0" ry="4.5" fill="#ec4c7c" transform="rotate(160 781.4 971.6)"/><ellipse cx="782.9" cy="966.4" rx="5.0" ry="4.5" fill="#ec4c7c" transform="rotate(232 782.9 966.4)"/><circle cx="785.7" cy="970.0" r="5.6" fill="#d42a5c" opacity="0.75"/><circle cx="785.7" cy="970.0" r="1.7" fill="#5a061c"/>
</g>
<path d="M744.7,1040.5 L799.7,1040.5 Q798.5,1063.0 795.7,1085.5 L749.1,1085.5 Q746.1,1063.0 744.7,1040.5 Z" fill="url(#gpot)"/>
<rect x="745.2" y="1040.5" width="54.0" height="3" fill="#f3f3f3"/>
<path d="M748.1,1084.5 L796.7,1084.5 L794.7,1093.0 L750.1,1093.0 Z" fill="#e8e8e8" stroke="#d2d2d2" stroke-width="0.8"/>
<rect x="744.7" y="1039.5" width="55" height="2.5" fill="#1b1b1b" opacity="0.7"/>
<g>
<g transform="translate(900.5,1020.0) rotate(150)"><path d="M-10.0,0 C-5.5,-6.7 4.5,-6.2 10.0,0 C4.5,6.2 -5.5,6.7 -10.0,0 Z" fill="#2c5624" opacity="1"/></g>
<g transform="translate(914.5,1032.0) rotate(110)"><path d="M-12.0,0 C-6.6,-8.0 5.4,-7.5 12.0,0 C5.4,7.5 -6.6,8.0 -12.0,0 Z" fill="#2c5624" opacity="1"/></g>
<g transform="translate(934.5,1034.0) rotate(80)"><path d="M-13.0,0 C-7.2,-8.0 5.9,-7.5 13.0,0 C5.9,7.5 -7.2,8.0 -13.0,0 Z" fill="#3a6a2c" opacity="1"/></g>
<g transform="translate(954.5,1032.0) rotate(60)"><path d="M-13.0,0 C-7.2,-8.0 5.9,-7.5 13.0,0 C5.9,7.5 -7.2,8.0 -13.0,0 Z" fill="#2c5624" opacity="1"/></g>
<g transform="translate(972.5,1030.0) rotate(40)"><path d="M-11.0,0 C-6.1,-6.7 5.0,-6.2 11.0,0 C5.0,6.2 -6.1,6.7 -11.0,0 Z" fill="#2c5624" opacity="1"/></g>
<g transform="translate(922.5,1015.0) rotate(100)"><path d="M-15.0,0 C-8.2,-10.6 6.8,-10.0 15.0,0 C6.8,10.0 -8.2,10.6 -15.0,0 Z" fill="#2c5624" opacity="1"/></g>
<g transform="translate(944.5,1022.0) rotate(70)"><path d="M-15.0,0 C-8.2,-10.6 6.8,-10.0 15.0,0 C6.8,10.0 -8.2,10.6 -15.0,0 Z" fill="#3a6a2c" opacity="1"/></g>
<g transform="translate(966.5,1026.0) rotate(30)"><path d="M-11.0,0 C-6.1,-6.7 5.0,-6.2 11.0,0 C5.0,6.2 -6.1,6.7 -11.0,0 Z" fill="#2c5624" opacity="1"/></g>
<g transform="translate(904.5,1012.0) rotate(160)"><path d="M-9.0,0 C-5.0,-6.0 4.0,-5.6 9.0,0 C4.0,5.6 -5.0,6.0 -9.0,0 Z" fill="#2c5624" opacity="1"/></g>
<g transform="translate(982.5,1024.0) rotate(20)"><path d="M-8.0,0 C-4.4,-5.3 3.6,-5.0 8.0,0 C3.6,5.0 -4.4,5.3 -8.0,0 Z" fill="#2c5624" opacity="1"/></g>
<g transform="translate(958.5,1043.0) rotate(75)"><path d="M-9.0,0 C-5.0,-4.7 4.0,-4.4 9.0,0 C4.0,4.4 -5.0,4.7 -9.0,0 Z" fill="#2c5624" opacity="1"/></g>
<g transform="translate(980.5,1035.0) rotate(80)"><path d="M-9.0,0 C-5.0,-4.0 4.0,-3.8 9.0,0 C4.0,3.8 -5.0,4.0 -9.0,0 Z" fill="#2c5624" opacity="1"/></g>
<g transform="translate(898.5,1026.0) rotate(130)"><path d="M-7.0,0 C-3.9,-4.0 3.1,-3.8 7.0,0 C3.1,3.8 -3.9,4.0 -7.0,0 Z" fill="#3a6a2c" opacity="1"/></g>
<ellipse cx="938.5" cy="1026" rx="33" ry="12" fill="#30552a"/>
<ellipse cx="938.5" cy="996" rx="40" ry="20" fill="#3a2626"/>
<ellipse cx="898.5" cy="980.0" rx="6.6" ry="6.0" fill="#ec4c7c" transform="rotate(-90 898.5 980.0)"/><ellipse cx="904.2" cy="984.1" rx="6.6" ry="6.0" fill="#ec4c7c" transform="rotate(-18 904.2 984.1)"/><ellipse cx="902.1" cy="990.9" rx="6.6" ry="6.0" fill="#ec4c7c" transform="rotate(54 902.1 990.9)"/><ellipse cx="894.9" cy="990.9" rx="6.6" ry="6.0" fill="#ec4c7c" transform="rotate(126 894.9 990.9)"/><ellipse cx="892.8" cy="984.1" rx="6.6" ry="6.0" fill="#ec4c7c" transform="rotate(198 892.8 984.1)"/><circle cx="898.5" cy="986.0" r="7.5" fill="#d42a5c" opacity="0.75"/><circle cx="898.5" cy="986.0" r="2.1" fill="#5a061c"/>
<ellipse cx="923.7" cy="978.0" rx="7.2" ry="6.5" fill="#ec4c7c" transform="rotate(-67 923.7 978.0)"/><ellipse cx="927.7" cy="984.6" rx="7.2" ry="6.5" fill="#ec4c7c" transform="rotate(5 927.7 984.6)"/><ellipse cx="922.7" cy="990.3" rx="7.2" ry="6.5" fill="#ec4c7c" transform="rotate(77 922.7 990.3)"/><ellipse cx="915.6" cy="987.3" rx="7.2" ry="6.5" fill="#ec4c7c" transform="rotate(149 915.6 987.3)"/><ellipse cx="916.3" cy="979.7" rx="7.2" ry="6.5" fill="#ec4c7c" transform="rotate(221 916.3 979.7)"/><circle cx="921.2" cy="984.0" r="8.1" fill="#d42a5c" opacity="0.75"/><circle cx="921.2" cy="984.0" r="2.2" fill="#5a061c"/>
<ellipse cx="922.2" cy="966.4" rx="5.7" ry="5.2" fill="#ec4c7c" transform="rotate(-44 922.2 966.4)"/><ellipse cx="923.1" cy="972.4" rx="5.7" ry="5.2" fill="#ec4c7c" transform="rotate(28 923.1 972.4)"/><ellipse cx="917.6" cy="975.1" rx="5.7" ry="5.2" fill="#ec4c7c" transform="rotate(100 917.6 975.1)"/><ellipse cx="913.4" cy="970.7" rx="5.7" ry="5.2" fill="#ec4c7c" transform="rotate(172 913.4 970.7)"/><ellipse cx="916.2" cy="965.3" rx="5.7" ry="5.2" fill="#ec4c7c" transform="rotate(244 916.2 965.3)"/><circle cx="918.5" cy="970.0" r="6.4" fill="#d42a5c" opacity="0.75"/><circle cx="918.5" cy="970.0" r="1.8" fill="#5a061c"/>
<ellipse cx="944.0" cy="972.6" rx="6.4" ry="5.9" fill="#ec4c7c" transform="rotate(-21 944.0 972.6)"/><ellipse cx="942.2" cy="979.2" rx="6.4" ry="5.9" fill="#ec4c7c" transform="rotate(51 942.2 979.2)"/><ellipse cx="935.3" cy="979.6" rx="6.4" ry="5.9" fill="#ec4c7c" transform="rotate(123 935.3 979.6)"/><ellipse cx="932.8" cy="973.2" rx="6.4" ry="5.9" fill="#ec4c7c" transform="rotate(195 932.8 973.2)"/><ellipse cx="938.2" cy="968.9" rx="6.4" ry="5.9" fill="#ec4c7c" transform="rotate(267 938.2 968.9)"/><circle cx="938.5" cy="974.7" r="7.3" fill="#d42a5c" opacity="0.75"/><circle cx="938.5" cy="974.7" r="2.0" fill="#5a061c"/>
<ellipse cx="912.7" cy="995.2" rx="7.2" ry="6.5" fill="#ec4c7c" transform="rotate(-70 912.7 995.2)"/><ellipse cx="917.0" cy="1001.5" rx="7.2" ry="6.5" fill="#ec4c7c" transform="rotate(2 917.0 1001.5)"/><ellipse cx="912.3" cy="1007.5" rx="7.2" ry="6.5" fill="#ec4c7c" transform="rotate(74 912.3 1007.5)"/><ellipse cx="905.1" cy="1004.9" rx="7.2" ry="6.5" fill="#ec4c7c" transform="rotate(146 905.1 1004.9)"/><ellipse cx="905.4" cy="997.3" rx="7.2" ry="6.5" fill="#ec4c7c" transform="rotate(218 905.4 997.3)"/><circle cx="910.5" cy="1001.3" r="8.1" fill="#d42a5c" opacity="0.75"/><circle cx="910.5" cy="1001.3" r="2.2" fill="#5a061c"/>
<ellipse cx="899.4" cy="1000.2" rx="5.7" ry="5.2" fill="#ec4c7c" transform="rotate(-47 899.4 1000.2)"/><ellipse cx="900.6" cy="1006.2" rx="5.7" ry="5.2" fill="#ec4c7c" transform="rotate(25 900.6 1006.2)"/><ellipse cx="895.3" cy="1009.2" rx="5.7" ry="5.2" fill="#ec4c7c" transform="rotate(97 895.3 1009.2)"/><ellipse cx="890.8" cy="1005.0" rx="5.7" ry="5.2" fill="#ec4c7c" transform="rotate(169 890.8 1005.0)"/><ellipse cx="893.4" cy="999.5" rx="5.7" ry="5.2" fill="#ec4c7c" transform="rotate(241 893.4 999.5)"/><circle cx="895.9" cy="1004.0" r="6.4" fill="#d42a5c" opacity="0.75"/><circle cx="895.9" cy="1004.0" r="1.8" fill="#5a061c"/>
<ellipse cx="930.5" cy="1000.3" rx="6.4" ry="5.9" fill="#ec4c7c" transform="rotate(-24 930.5 1000.3)"/><ellipse cx="929.1" cy="1007.0" rx="6.4" ry="5.9" fill="#ec4c7c" transform="rotate(48 929.1 1007.0)"/><ellipse cx="922.3" cy="1007.8" rx="6.4" ry="5.9" fill="#ec4c7c" transform="rotate(120 922.3 1007.8)"/><ellipse cx="919.5" cy="1001.5" rx="6.4" ry="5.9" fill="#ec4c7c" transform="rotate(192 919.5 1001.5)"/><ellipse cx="924.6" cy="996.9" rx="6.4" ry="5.9" fill="#ec4c7c" transform="rotate(264 924.6 996.9)"/><circle cx="925.2" cy="1002.7" r="7.3" fill="#d42a5c" opacity="0.75"/><circle cx="925.2" cy="1002.7" r="2.0" fill="#5a061c"/>
<ellipse cx="946.9" cy="986.4" rx="6.4" ry="5.9" fill="#ec4c7c" transform="rotate(-73 946.9 986.4)"/><ellipse cx="951.0" cy="991.9" rx="6.4" ry="5.9" fill="#ec4c7c" transform="rotate(-1 951.0 991.9)"/><ellipse cx="947.1" cy="997.5" rx="6.4" ry="5.9" fill="#ec4c7c" transform="rotate(71 947.1 997.5)"/><ellipse cx="940.5" cy="995.5" rx="6.4" ry="5.9" fill="#ec4c7c" transform="rotate(143 940.5 995.5)"/><ellipse cx="940.4" cy="988.6" rx="6.4" ry="5.9" fill="#ec4c7c" transform="rotate(215 940.4 988.6)"/><circle cx="945.2" cy="992.0" r="7.3" fill="#d42a5c" opacity="0.75"/><circle cx="945.2" cy="992.0" r="2.0" fill="#5a061c"/>
<ellipse cx="963.7" cy="975.5" rx="6.4" ry="5.9" fill="#ec4c7c" transform="rotate(-50 963.7 975.5)"/><ellipse cx="965.3" cy="982.2" rx="6.4" ry="5.9" fill="#ec4c7c" transform="rotate(22 965.3 982.2)"/><ellipse cx="959.5" cy="985.8" rx="6.4" ry="5.9" fill="#ec4c7c" transform="rotate(94 959.5 985.8)"/><ellipse cx="954.2" cy="981.4" rx="6.4" ry="5.9" fill="#ec4c7c" transform="rotate(166 954.2 981.4)"/><ellipse cx="956.8" cy="975.0" rx="6.4" ry="5.9" fill="#ec4c7c" transform="rotate(238 956.8 975.0)"/><circle cx="959.9" cy="980.0" r="7.3" fill="#d42a5c" opacity="0.75"/><circle cx="959.9" cy="980.0" r="2.0" fill="#5a061c"/>
<ellipse cx="975.7" cy="984.0" rx="6.4" ry="5.9" fill="#ec4c7c" transform="rotate(-27 975.7 984.0)"/><ellipse cx="974.6" cy="990.8" rx="6.4" ry="5.9" fill="#ec4c7c" transform="rotate(45 974.6 990.8)"/><ellipse cx="967.8" cy="991.9" rx="6.4" ry="5.9" fill="#ec4c7c" transform="rotate(117 967.8 991.9)"/><ellipse cx="964.7" cy="985.8" rx="6.4" ry="5.9" fill="#ec4c7c" transform="rotate(189 964.7 985.8)"/><ellipse cx="969.6" cy="980.9" rx="6.4" ry="5.9" fill="#ec4c7c" transform="rotate(261 969.6 980.9)"/><circle cx="970.5" cy="986.7" r="7.3" fill="#d42a5c" opacity="0.75"/><circle cx="970.5" cy="986.7" r="2.0" fill="#5a061c"/>
<ellipse cx="949.6" cy="1003.8" rx="7.9" ry="7.2" fill="#ec4c7c" transform="rotate(-76 949.6 1003.8)"/><ellipse cx="955.0" cy="1010.2" rx="7.9" ry="7.2" fill="#ec4c7c" transform="rotate(-4 955.0 1010.2)"/><ellipse cx="950.6" cy="1017.3" rx="7.9" ry="7.2" fill="#ec4c7c" transform="rotate(68 950.6 1017.3)"/><ellipse cx="942.4" cy="1015.3" rx="7.9" ry="7.2" fill="#ec4c7c" transform="rotate(140 942.4 1015.3)"/><ellipse cx="941.8" cy="1006.9" rx="7.9" ry="7.2" fill="#ec4c7c" transform="rotate(212 941.8 1006.9)"/><circle cx="947.9" cy="1010.7" r="8.9" fill="#d42a5c" opacity="0.75"/><circle cx="947.9" cy="1010.7" r="2.4" fill="#5a061c"/>
<ellipse cx="964.7" cy="1002.0" rx="6.4" ry="5.9" fill="#ec4c7c" transform="rotate(-53 964.7 1002.0)"/><ellipse cx="966.7" cy="1008.6" rx="6.4" ry="5.9" fill="#ec4c7c" transform="rotate(19 966.7 1008.6)"/><ellipse cx="961.1" cy="1012.5" rx="6.4" ry="5.9" fill="#ec4c7c" transform="rotate(91 961.1 1012.5)"/><ellipse cx="955.6" cy="1008.4" rx="6.4" ry="5.9" fill="#ec4c7c" transform="rotate(163 955.6 1008.4)"/><ellipse cx="957.8" cy="1001.9" rx="6.4" ry="5.9" fill="#ec4c7c" transform="rotate(235 957.8 1001.9)"/><circle cx="961.2" cy="1006.7" r="7.3" fill="#d42a5c" opacity="0.75"/><circle cx="961.2" cy="1006.7" r="2.0" fill="#5a061c"/>
<ellipse cx="977.7" cy="1010.7" rx="5.7" ry="5.2" fill="#ec4c7c" transform="rotate(-30 977.7 1010.7)"/><ellipse cx="977.1" cy="1016.8" rx="5.7" ry="5.2" fill="#ec4c7c" transform="rotate(42 977.1 1016.8)"/><ellipse cx="971.1" cy="1018.1" rx="5.7" ry="5.2" fill="#ec4c7c" transform="rotate(114 971.1 1018.1)"/><ellipse cx="968.0" cy="1012.8" rx="5.7" ry="5.2" fill="#ec4c7c" transform="rotate(186 968.0 1012.8)"/><ellipse cx="972.1" cy="1008.2" rx="5.7" ry="5.2" fill="#ec4c7c" transform="rotate(258 972.1 1008.2)"/><circle cx="973.2" cy="1013.3" r="6.4" fill="#d42a5c" opacity="0.75"/><circle cx="973.2" cy="1013.3" r="1.8" fill="#5a061c"/>
<ellipse cx="982.1" cy="1011.5" rx="5.0" ry="4.5" fill="#ec4c7c" transform="rotate(-79 982.1 1011.5)"/><ellipse cx="985.7" cy="1015.4" rx="5.0" ry="4.5" fill="#ec4c7c" transform="rotate(-7 985.7 1015.4)"/><ellipse cx="983.1" cy="1020.1" rx="5.0" ry="4.5" fill="#ec4c7c" transform="rotate(65 983.1 1020.1)"/><ellipse cx="977.9" cy="1019.1" rx="5.0" ry="4.5" fill="#ec4c7c" transform="rotate(137 977.9 1019.1)"/><ellipse cx="977.2" cy="1013.8" rx="5.0" ry="4.5" fill="#ec4c7c" transform="rotate(209 977.2 1013.8)"/><circle cx="981.2" cy="1016.0" r="5.6" fill="#d42a5c" opacity="0.75"/><circle cx="981.2" cy="1016.0" r="1.7" fill="#5a061c"/>
<ellipse cx="955.0" cy="966.2" rx="5.0" ry="4.5" fill="#ec4c7c" transform="rotate(-56 955.0 966.2)"/><ellipse cx="956.9" cy="971.3" rx="5.0" ry="4.5" fill="#ec4c7c" transform="rotate(16 956.9 971.3)"/><ellipse cx="952.7" cy="974.5" rx="5.0" ry="4.5" fill="#ec4c7c" transform="rotate(88 952.7 974.5)"/><ellipse cx="948.2" cy="971.6" rx="5.0" ry="4.5" fill="#ec4c7c" transform="rotate(160 948.2 971.6)"/><ellipse cx="949.7" cy="966.4" rx="5.0" ry="4.5" fill="#ec4c7c" transform="rotate(232 949.7 966.4)"/><circle cx="952.5" cy="970.0" r="5.6" fill="#d42a5c" opacity="0.75"/><circle cx="952.5" cy="970.0" r="1.7" fill="#5a061c"/>
</g>
<path d="M911.5,1040.5 L966.5,1040.5 Q965.3,1063.0 962.5,1085.5 L915.9,1085.5 Q912.9,1063.0 911.5,1040.5 Z" fill="url(#gpot)"/>
<rect x="912.0" y="1040.5" width="54.0" height="3" fill="#f3f3f3"/>
<path d="M914.9,1084.5 L963.5,1084.5 L961.5,1093.0 L916.9,1093.0 Z" fill="#e8e8e8" stroke="#d2d2d2" stroke-width="0.8"/>
<rect x="911.5" y="1039.5" width="55" height="2.5" fill="#1b1b1b" opacity="0.7"/>
<g>
<g transform="translate(1067.3,1020.0) rotate(150)"><path d="M-10.0,0 C-5.5,-6.7 4.5,-6.2 10.0,0 C4.5,6.2 -5.5,6.7 -10.0,0 Z" fill="#2c5624" opacity="1"/></g>
<g transform="translate(1081.3,1032.0) rotate(110)"><path d="M-12.0,0 C-6.6,-8.0 5.4,-7.5 12.0,0 C5.4,7.5 -6.6,8.0 -12.0,0 Z" fill="#2c5624" opacity="1"/></g>
<g transform="translate(1101.3,1034.0) rotate(80)"><path d="M-13.0,0 C-7.2,-8.0 5.9,-7.5 13.0,0 C5.9,7.5 -7.2,8.0 -13.0,0 Z" fill="#3a6a2c" opacity="1"/></g>
<g transform="translate(1121.3,1032.0) rotate(60)"><path d="M-13.0,0 C-7.2,-8.0 5.9,-7.5 13.0,0 C5.9,7.5 -7.2,8.0 -13.0,0 Z" fill="#2c5624" opacity="1"/></g>
<g transform="translate(1139.3,1030.0) rotate(40)"><path d="M-11.0,0 C-6.1,-6.7 5.0,-6.2 11.0,0 C5.0,6.2 -6.1,6.7 -11.0,0 Z" fill="#2c5624" opacity="1"/></g>
<g transform="translate(1089.3,1015.0) rotate(100)"><path d="M-15.0,0 C-8.2,-10.6 6.8,-10.0 15.0,0 C6.8,10.0 -8.2,10.6 -15.0,0 Z" fill="#2c5624" opacity="1"/></g>
<g transform="translate(1111.3,1022.0) rotate(70)"><path d="M-15.0,0 C-8.2,-10.6 6.8,-10.0 15.0,0 C6.8,10.0 -8.2,10.6 -15.0,0 Z" fill="#3a6a2c" opacity="1"/></g>
<g transform="translate(1133.3,1026.0) rotate(30)"><path d="M-11.0,0 C-6.1,-6.7 5.0,-6.2 11.0,0 C5.0,6.2 -6.1,6.7 -11.0,0 Z" fill="#2c5624" opacity="1"/></g>
<g transform="translate(1071.3,1012.0) rotate(160)"><path d="M-9.0,0 C-5.0,-6.0 4.0,-5.6 9.0,0 C4.0,5.6 -5.0,6.0 -9.0,0 Z" fill="#2c5624" opacity="1"/></g>
<g transform="translate(1149.3,1024.0) rotate(20)"><path d="M-8.0,0 C-4.4,-5.3 3.6,-5.0 8.0,0 C3.6,5.0 -4.4,5.3 -8.0,0 Z" fill="#2c5624" opacity="1"/></g>
<g transform="translate(1125.3,1043.0) rotate(75)"><path d="M-9.0,0 C-5.0,-4.7 4.0,-4.4 9.0,0 C4.0,4.4 -5.0,4.7 -9.0,0 Z" fill="#2c5624" opacity="1"/></g>
<g transform="translate(1147.3,1035.0) rotate(80)"><path d="M-9.0,0 C-5.0,-4.0 4.0,-3.8 9.0,0 C4.0,3.8 -5.0,4.0 -9.0,0 Z" fill="#2c5624" opacity="1"/></g>
<g transform="translate(1065.3,1026.0) rotate(130)"><path d="M-7.0,0 C-3.9,-4.0 3.1,-3.8 7.0,0 C3.1,3.8 -3.9,4.0 -7.0,0 Z" fill="#3a6a2c" opacity="1"/></g>
<ellipse cx="1105.3" cy="1026" rx="33" ry="12" fill="#30552a"/>
<ellipse cx="1105.3" cy="996" rx="40" ry="20" fill="#3a2626"/>
<ellipse cx="1065.3" cy="980.0" rx="6.6" ry="6.0" fill="#ec4c7c" transform="rotate(-90 1065.3 980.0)"/><ellipse cx="1071.0" cy="984.1" rx="6.6" ry="6.0" fill="#ec4c7c" transform="rotate(-18 1071.0 984.1)"/><ellipse cx="1068.9" cy="990.9" rx="6.6" ry="6.0" fill="#ec4c7c" transform="rotate(54 1068.9 990.9)"/><ellipse cx="1061.7" cy="990.9" rx="6.6" ry="6.0" fill="#ec4c7c" transform="rotate(126 1061.7 990.9)"/><ellipse cx="1059.6" cy="984.1" rx="6.6" ry="6.0" fill="#ec4c7c" transform="rotate(198 1059.6 984.1)"/><circle cx="1065.3" cy="986.0" r="7.5" fill="#d42a5c" opacity="0.75"/><circle cx="1065.3" cy="986.0" r="2.1" fill="#5a061c"/>
<ellipse cx="1090.5" cy="978.0" rx="7.2" ry="6.5" fill="#ec4c7c" transform="rotate(-67 1090.5 978.0)"/><ellipse cx="1094.5" cy="984.6" rx="7.2" ry="6.5" fill="#ec4c7c" transform="rotate(5 1094.5 984.6)"/><ellipse cx="1089.5" cy="990.3" rx="7.2" ry="6.5" fill="#ec4c7c" transform="rotate(77 1089.5 990.3)"/><ellipse cx="1082.4" cy="987.3" rx="7.2" ry="6.5" fill="#ec4c7c" transform="rotate(149 1082.4 987.3)"/><ellipse cx="1083.1" cy="979.7" rx="7.2" ry="6.5" fill="#ec4c7c" transform="rotate(221 1083.1 979.7)"/><circle cx="1088.0" cy="984.0" r="8.1" fill="#d42a5c" opacity="0.75"/><circle cx="1088.0" cy="984.0" r="2.2" fill="#5a061c"/>
<ellipse cx="1089.0" cy="966.4" rx="5.7" ry="5.2" fill="#ec4c7c" transform="rotate(-44 1089.0 966.4)"/><ellipse cx="1089.9" cy="972.4" rx="5.7" ry="5.2" fill="#ec4c7c" transform="rotate(28 1089.9 972.4)"/><ellipse cx="1084.4" cy="975.1" rx="5.7" ry="5.2" fill="#ec4c7c" transform="rotate(100 1084.4 975.1)"/><ellipse cx="1080.2" cy="970.7" rx="5.7" ry="5.2" fill="#ec4c7c" transform="rotate(172 1080.2 970.7)"/><ellipse cx="1083.0" cy="965.3" rx="5.7" ry="5.2" fill="#ec4c7c" transform="rotate(244 1083.0 965.3)"/><circle cx="1085.3" cy="970.0" r="6.4" fill="#d42a5c" opacity="0.75"/><circle cx="1085.3" cy="970.0" r="1.8" fill="#5a061c"/>
<ellipse cx="1110.8" cy="972.6" rx="6.4" ry="5.9" fill="#ec4c7c" transform="rotate(-21 1110.8 972.6)"/><ellipse cx="1109.0" cy="979.2" rx="6.4" ry="5.9" fill="#ec4c7c" transform="rotate(51 1109.0 979.2)"/><ellipse cx="1102.1" cy="979.6" rx="6.4" ry="5.9" fill="#ec4c7c" transform="rotate(123 1102.1 979.6)"/><ellipse cx="1099.6" cy="973.2" rx="6.4" ry="5.9" fill="#ec4c7c" transform="rotate(195 1099.6 973.2)"/><ellipse cx="1105.0" cy="968.9" rx="6.4" ry="5.9" fill="#ec4c7c" transform="rotate(267 1105.0 968.9)"/><circle cx="1105.3" cy="974.7" r="7.3" fill="#d42a5c" opacity="0.75"/><circle cx="1105.3" cy="974.7" r="2.0" fill="#5a061c"/>
<ellipse cx="1079.5" cy="995.2" rx="7.2" ry="6.5" fill="#ec4c7c" transform="rotate(-70 1079.5 995.2)"/><ellipse cx="1083.8" cy="1001.5" rx="7.2" ry="6.5" fill="#ec4c7c" transform="rotate(2 1083.8 1001.5)"/><ellipse cx="1079.1" cy="1007.5" rx="7.2" ry="6.5" fill="#ec4c7c" transform="rotate(74 1079.1 1007.5)"/><ellipse cx="1071.9" cy="1004.9" rx="7.2" ry="6.5" fill="#ec4c7c" transform="rotate(146 1071.9 1004.9)"/><ellipse cx="1072.2" cy="997.3" rx="7.2" ry="6.5" fill="#ec4c7c" transform="rotate(218 1072.2 997.3)"/><circle cx="1077.3" cy="1001.3" r="8.1" fill="#d42a5c" opacity="0.75"/><circle cx="1077.3" cy="1001.3" r="2.2" fill="#5a061c"/>
<ellipse cx="1066.2" cy="1000.2" rx="5.7" ry="5.2" fill="#ec4c7c" transform="rotate(-47 1066.2 1000.2)"/><ellipse cx="1067.4" cy="1006.2" rx="5.7" ry="5.2" fill="#ec4c7c" transform="rotate(25 1067.4 1006.2)"/><ellipse cx="1062.1" cy="1009.2" rx="5.7" ry="5.2" fill="#ec4c7c" transform="rotate(97 1062.1 1009.2)"/><ellipse cx="1057.6" cy="1005.0" rx="5.7" ry="5.2" fill="#ec4c7c" transform="rotate(169 1057.6 1005.0)"/><ellipse cx="1060.2" cy="999.5" rx="5.7" ry="5.2" fill="#ec4c7c" transform="rotate(241 1060.2 999.5)"/><circle cx="1062.7" cy="1004.0" r="6.4" fill="#d42a5c" opacity="0.75"/><circle cx="1062.7" cy="1004.0" r="1.8" fill="#5a061c"/>
<ellipse cx="1097.3" cy="1000.3" rx="6.4" ry="5.9" fill="#ec4c7c" transform="rotate(-24 1097.3 1000.3)"/><ellipse cx="1095.9" cy="1007.0" rx="6.4" ry="5.9" fill="#ec4c7c" transform="rotate(48 1095.9 1007.0)"/><ellipse cx="1089.1" cy="1007.8" rx="6.4" ry="5.9" fill="#ec4c7c" transform="rotate(120 1089.1 1007.8)"/><ellipse cx="1086.3" cy="1001.5" rx="6.4" ry="5.9" fill="#ec4c7c" transform="rotate(192 1086.3 1001.5)"/><ellipse cx="1091.4" cy="996.9" rx="6.4" ry="5.9" fill="#ec4c7c" transform="rotate(264 1091.4 996.9)"/><circle cx="1092.0" cy="1002.7" r="7.3" fill="#d42a5c" opacity="0.75"/><circle cx="1092.0" cy="1002.7" r="2.0" fill="#5a061c"/>
<ellipse cx="1113.7" cy="986.4" rx="6.4" ry="5.9" fill="#ec4c7c" transform="rotate(-73 1113.7 986.4)"/><ellipse cx="1117.8" cy="991.9" rx="6.4" ry="5.9" fill="#ec4c7c" transform="rotate(-1 1117.8 991.9)"/><ellipse cx="1113.9" cy="997.5" rx="6.4" ry="5.9" fill="#ec4c7c" transform="rotate(71 1113.9 997.5)"/><ellipse cx="1107.3" cy="995.5" rx="6.4" ry="5.9" fill="#ec4c7c" transform="rotate(143 1107.3 995.5)"/><ellipse cx="1107.2" cy="988.6" rx="6.4" ry="5.9" fill="#ec4c7c" transform="rotate(215 1107.2 988.6)"/><circle cx="1112.0" cy="992.0" r="7.3" fill="#d42a5c" opacity="0.75"/><circle cx="1112.0" cy="992.0" r="2.0" fill="#5a061c"/>
<ellipse cx="1130.5" cy="975.5" rx="6.4" ry="5.9" fill="#ec4c7c" transform="rotate(-50 1130.5 975.5)"/><ellipse cx="1132.1" cy="982.2" rx="6.4" ry="5.9" fill="#ec4c7c" transform="rotate(22 1132.1 982.2)"/><ellipse cx="1126.3" cy="985.8" rx="6.4" ry="5.9" fill="#ec4c7c" transform="rotate(94 1126.3 985.8)"/><ellipse cx="1121.0" cy="981.4" rx="6.4" ry="5.9" fill="#ec4c7c" transform="rotate(166 1121.0 981.4)"/><ellipse cx="1123.6" cy="975.0" rx="6.4" ry="5.9" fill="#ec4c7c" transform="rotate(238 1123.6 975.0)"/><circle cx="1126.7" cy="980.0" r="7.3" fill="#d42a5c" opacity="0.75"/><circle cx="1126.7" cy="980.0" r="2.0" fill="#5a061c"/>
<ellipse cx="1142.5" cy="984.0" rx="6.4" ry="5.9" fill="#ec4c7c" transform="rotate(-27 1142.5 984.0)"/><ellipse cx="1141.4" cy="990.8" rx="6.4" ry="5.9" fill="#ec4c7c" transform="rotate(45 1141.4 990.8)"/><ellipse cx="1134.6" cy="991.9" rx="6.4" ry="5.9" fill="#ec4c7c" transform="rotate(117 1134.6 991.9)"/><ellipse cx="1131.5" cy="985.8" rx="6.4" ry="5.9" fill="#ec4c7c" transform="rotate(189 1131.5 985.8)"/><ellipse cx="1136.4" cy="980.9" rx="6.4" ry="5.9" fill="#ec4c7c" transform="rotate(261 1136.4 980.9)"/><circle cx="1137.3" cy="986.7" r="7.3" fill="#d42a5c" opacity="0.75"/><circle cx="1137.3" cy="986.7" r="2.0" fill="#5a061c"/>
<ellipse cx="1116.4" cy="1003.8" rx="7.9" ry="7.2" fill="#ec4c7c" transform="rotate(-76 1116.4 1003.8)"/><ellipse cx="1121.8" cy="1010.2" rx="7.9" ry="7.2" fill="#ec4c7c" transform="rotate(-4 1121.8 1010.2)"/><ellipse cx="1117.4" cy="1017.3" rx="7.9" ry="7.2" fill="#ec4c7c" transform="rotate(68 1117.4 1017.3)"/><ellipse cx="1109.2" cy="1015.3" rx="7.9" ry="7.2" fill="#ec4c7c" transform="rotate(140 1109.2 1015.3)"/><ellipse cx="1108.6" cy="1006.9" rx="7.9" ry="7.2" fill="#ec4c7c" transform="rotate(212 1108.6 1006.9)"/><circle cx="1114.7" cy="1010.7" r="8.9" fill="#d42a5c" opacity="0.75"/><circle cx="1114.7" cy="1010.7" r="2.4" fill="#5a061c"/>
<ellipse cx="1131.5" cy="1002.0" rx="6.4" ry="5.9" fill="#ec4c7c" transform="rotate(-53 1131.5 1002.0)"/><ellipse cx="1133.5" cy="1008.6" rx="6.4" ry="5.9" fill="#ec4c7c" transform="rotate(19 1133.5 1008.6)"/><ellipse cx="1127.9" cy="1012.5" rx="6.4" ry="5.9" fill="#ec4c7c" transform="rotate(91 1127.9 1012.5)"/><ellipse cx="1122.4" cy="1008.4" rx="6.4" ry="5.9" fill="#ec4c7c" transform="rotate(163 1122.4 1008.4)"/><ellipse cx="1124.6" cy="1001.9" rx="6.4" ry="5.9" fill="#ec4c7c" transform="rotate(235 1124.6 1001.9)"/><circle cx="1128.0" cy="1006.7" r="7.3" fill="#d42a5c" opacity="0.75"/><circle cx="1128.0" cy="1006.7" r="2.0" fill="#5a061c"/>
<ellipse cx="1144.5" cy="1010.7" rx="5.7" ry="5.2" fill="#ec4c7c" transform="rotate(-30 1144.5 1010.7)"/><ellipse cx="1143.9" cy="1016.8" rx="5.7" ry="5.2" fill="#ec4c7c" transform="rotate(42 1143.9 1016.8)"/><ellipse cx="1137.9" cy="1018.1" rx="5.7" ry="5.2" fill="#ec4c7c" transform="rotate(114 1137.9 1018.1)"/><ellipse cx="1134.8" cy="1012.8" rx="5.7" ry="5.2" fill="#ec4c7c" transform="rotate(186 1134.8 1012.8)"/><ellipse cx="1138.9" cy="1008.2" rx="5.7" ry="5.2" fill="#ec4c7c" transform="rotate(258 1138.9 1008.2)"/><circle cx="1140.0" cy="1013.3" r="6.4" fill="#d42a5c" opacity="0.75"/><circle cx="1140.0" cy="1013.3" r="1.8" fill="#5a061c"/>
<ellipse cx="1148.9" cy="1011.5" rx="5.0" ry="4.5" fill="#ec4c7c" transform="rotate(-79 1148.9 1011.5)"/><ellipse cx="1152.5" cy="1015.4" rx="5.0" ry="4.5" fill="#ec4c7c" transform="rotate(-7 1152.5 1015.4)"/><ellipse cx="1149.9" cy="1020.1" rx="5.0" ry="4.5" fill="#ec4c7c" transform="rotate(65 1149.9 1020.1)"/><ellipse cx="1144.7" cy="1019.1" rx="5.0" ry="4.5" fill="#ec4c7c" transform="rotate(137 1144.7 1019.1)"/><ellipse cx="1144.0" cy="1013.8" rx="5.0" ry="4.5" fill="#ec4c7c" transform="rotate(209 1144.0 1013.8)"/><circle cx="1148.0" cy="1016.0" r="5.6" fill="#d42a5c" opacity="0.75"/><circle cx="1148.0" cy="1016.0" r="1.7" fill="#5a061c"/>
<ellipse cx="1121.8" cy="966.2" rx="5.0" ry="4.5" fill="#ec4c7c" transform="rotate(-56 1121.8 966.2)"/><ellipse cx="1123.7" cy="971.3" rx="5.0" ry="4.5" fill="#ec4c7c" transform="rotate(16 1123.7 971.3)"/><ellipse cx="1119.5" cy="974.5" rx="5.0" ry="4.5" fill="#ec4c7c" transform="rotate(88 1119.5 974.5)"/><ellipse cx="1115.0" cy="971.6" rx="5.0" ry="4.5" fill="#ec4c7c" transform="rotate(160 1115.0 971.6)"/><ellipse cx="1116.5" cy="966.4" rx="5.0" ry="4.5" fill="#ec4c7c" transform="rotate(232 1116.5 966.4)"/><circle cx="1119.3" cy="970.0" r="5.6" fill="#d42a5c" opacity="0.75"/><circle cx="1119.3" cy="970.0" r="1.7" fill="#5a061c"/>
</g>
<path d="M1078.3,1040.5 L1133.3,1040.5 Q1132.1,1063.0 1129.3,1085.5 L1082.7,1085.5 Q1079.7,1063.0 1078.3,1040.5 Z" fill="url(#gpot)"/>
<rect x="1078.8" y="1040.5" width="54.0" height="3" fill="#f3f3f3"/>
<path d="M1081.7,1084.5 L1130.3,1084.5 L1128.3,1093.0 L1083.7,1093.0 Z" fill="#e8e8e8" stroke="#d2d2d2" stroke-width="0.8"/>
<rect x="1078.3" y="1039.5" width="55" height="2.5" fill="#1b1b1b" opacity="0.7"/>
<g>
<g transform="translate(1234.1,1020.0) rotate(150)"><path d="M-10.0,0 C-5.5,-6.7 4.5,-6.2 10.0,0 C4.5,6.2 -5.5,6.7 -10.0,0 Z" fill="#2c5624" opacity="1"/></g>
<g transform="translate(1248.1,1032.0) rotate(110)"><path d="M-12.0,0 C-6.6,-8.0 5.4,-7.5 12.0,0 C5.4,7.5 -6.6,8.0 -12.0,0 Z" fill="#2c5624" opacity="1"/></g>
<g transform="translate(1268.1,1034.0) rotate(80)"><path d="M-13.0,0 C-7.2,-8.0 5.9,-7.5 13.0,0 C5.9,7.5 -7.2,8.0 -13.0,0 Z" fill="#3a6a2c" opacity="1"/></g>
<g transform="translate(1288.1,1032.0) rotate(60)"><path d="M-13.0,0 C-7.2,-8.0 5.9,-7.5 13.0,0 C5.9,7.5 -7.2,8.0 -13.0,0 Z" fill="#2c5624" opacity="1"/></g>
<g transform="translate(1306.1,1030.0) rotate(40)"><path d="M-11.0,0 C-6.1,-6.7 5.0,-6.2 11.0,0 C5.0,6.2 -6.1,6.7 -11.0,0 Z" fill="#2c5624" opacity="1"/></g>
<g transform="translate(1256.1,1015.0) rotate(100)"><path d="M-15.0,0 C-8.2,-10.6 6.8,-10.0 15.0,0 C6.8,10.0 -8.2,10.6 -15.0,0 Z" fill="#2c5624" opacity="1"/></g>
<g transform="translate(1278.1,1022.0) rotate(70)"><path d="M-15.0,0 C-8.2,-10.6 6.8,-10.0 15.0,0 C6.8,10.0 -8.2,10.6 -15.0,0 Z" fill="#3a6a2c" opacity="1"/></g>
<g transform="translate(1300.1,1026.0) rotate(30)"><path d="M-11.0,0 C-6.1,-6.7 5.0,-6.2 11.0,0 C5.0,6.2 -6.1,6.7 -11.0,0 Z" fill="#2c5624" opacity="1"/></g>
<g transform="translate(1238.1,1012.0) rotate(160)"><path d="M-9.0,0 C-5.0,-6.0 4.0,-5.6 9.0,0 C4.0,5.6 -5.0,6.0 -9.0,0 Z" fill="#2c5624" opacity="1"/></g>
<g transform="translate(1316.1,1024.0) rotate(20)"><path d="M-8.0,0 C-4.4,-5.3 3.6,-5.0 8.0,0 C3.6,5.0 -4.4,5.3 -8.0,0 Z" fill="#2c5624" opacity="1"/></g>
<g transform="translate(1292.1,1043.0) rotate(75)"><path d="M-9.0,0 C-5.0,-4.7 4.0,-4.4 9.0,0 C4.0,4.4 -5.0,4.7 -9.0,0 Z" fill="#2c5624" opacity="1"/></g>
<g transform="translate(1314.1,1035.0) rotate(80)"><path d="M-9.0,0 C-5.0,-4.0 4.0,-3.8 9.0,0 C4.0,3.8 -5.0,4.0 -9.0,0 Z" fill="#2c5624" opacity="1"/></g>
<g transform="translate(1232.1,1026.0) rotate(130)"><path d="M-7.0,0 C-3.9,-4.0 3.1,-3.8 7.0,0 C3.1,3.8 -3.9,4.0 -7.0,0 Z" fill="#3a6a2c" opacity="1"/></g>
<ellipse cx="1272.1000000000001" cy="1026" rx="33" ry="12" fill="#30552a"/>
<ellipse cx="1272.1000000000001" cy="996" rx="40" ry="20" fill="#3a2626"/>
<ellipse cx="1232.1" cy="980.0" rx="6.6" ry="6.0" fill="#ec4c7c" transform="rotate(-90 1232.1 980.0)"/><ellipse cx="1237.8" cy="984.1" rx="6.6" ry="6.0" fill="#ec4c7c" transform="rotate(-18 1237.8 984.1)"/><ellipse cx="1235.7" cy="990.9" rx="6.6" ry="6.0" fill="#ec4c7c" transform="rotate(54 1235.7 990.9)"/><ellipse cx="1228.5" cy="990.9" rx="6.6" ry="6.0" fill="#ec4c7c" transform="rotate(126 1228.5 990.9)"/><ellipse cx="1226.4" cy="984.1" rx="6.6" ry="6.0" fill="#ec4c7c" transform="rotate(198 1226.4 984.1)"/><circle cx="1232.1" cy="986.0" r="7.5" fill="#d42a5c" opacity="0.75"/><circle cx="1232.1" cy="986.0" r="2.1" fill="#5a061c"/>
<ellipse cx="1257.3" cy="978.0" rx="7.2" ry="6.5" fill="#ec4c7c" transform="rotate(-67 1257.3 978.0)"/><ellipse cx="1261.3" cy="984.6" rx="7.2" ry="6.5" fill="#ec4c7c" transform="rotate(5 1261.3 984.6)"/><ellipse cx="1256.3" cy="990.3" rx="7.2" ry="6.5" fill="#ec4c7c" transform="rotate(77 1256.3 990.3)"/><ellipse cx="1249.2" cy="987.3" rx="7.2" ry="6.5" fill="#ec4c7c" transform="rotate(149 1249.2 987.3)"/><ellipse cx="1249.9" cy="979.7" rx="7.2" ry="6.5" fill="#ec4c7c" transform="rotate(221 1249.9 979.7)"/><circle cx="1254.8" cy="984.0" r="8.1" fill="#d42a5c" opacity="0.75"/><circle cx="1254.8" cy="984.0" r="2.2" fill="#5a061c"/>
<ellipse cx="1255.8" cy="966.4" rx="5.7" ry="5.2" fill="#ec4c7c" transform="rotate(-44 1255.8 966.4)"/><ellipse cx="1256.7" cy="972.4" rx="5.7" ry="5.2" fill="#ec4c7c" transform="rotate(28 1256.7 972.4)"/><ellipse cx="1251.2" cy="975.1" rx="5.7" ry="5.2" fill="#ec4c7c" transform="rotate(100 1251.2 975.1)"/><ellipse cx="1247.0" cy="970.7" rx="5.7" ry="5.2" fill="#ec4c7c" transform="rotate(172 1247.0 970.7)"/><ellipse cx="1249.8" cy="965.3" rx="5.7" ry="5.2" fill="#ec4c7c" transform="rotate(244 1249.8 965.3)"/><circle cx="1252.1" cy="970.0" r="6.4" fill="#d42a5c" opacity="0.75"/><circle cx="1252.1" cy="970.0" r="1.8" fill="#5a061c"/>
<ellipse cx="1277.6" cy="972.6" rx="6.4" ry="5.9" fill="#ec4c7c" transform="rotate(-21 1277.6 972.6)"/><ellipse cx="1275.8" cy="979.2" rx="6.4" ry="5.9" fill="#ec4c7c" transform="rotate(51 1275.8 979.2)"/><ellipse cx="1268.9" cy="979.6" rx="6.4" ry="5.9" fill="#ec4c7c" transform="rotate(123 1268.9 979.6)"/><ellipse cx="1266.4" cy="973.2" rx="6.4" ry="5.9" fill="#ec4c7c" transform="rotate(195 1266.4 973.2)"/><ellipse cx="1271.8" cy="968.9" rx="6.4" ry="5.9" fill="#ec4c7c" transform="rotate(267 1271.8 968.9)"/><circle cx="1272.1" cy="974.7" r="7.3" fill="#d42a5c" opacity="0.75"/><circle cx="1272.1" cy="974.7" r="2.0" fill="#5a061c"/>
<ellipse cx="1246.3" cy="995.2" rx="7.2" ry="6.5" fill="#ec4c7c" transform="rotate(-70 1246.3 995.2)"/><ellipse cx="1250.6" cy="1001.5" rx="7.2" ry="6.5" fill="#ec4c7c" transform="rotate(2 1250.6 1001.5)"/><ellipse cx="1245.9" cy="1007.5" rx="7.2" ry="6.5" fill="#ec4c7c" transform="rotate(74 1245.9 1007.5)"/><ellipse cx="1238.7" cy="1004.9" rx="7.2" ry="6.5" fill="#ec4c7c" transform="rotate(146 1238.7 1004.9)"/><ellipse cx="1239.0" cy="997.3" rx="7.2" ry="6.5" fill="#ec4c7c" transform="rotate(218 1239.0 997.3)"/><circle cx="1244.1" cy="1001.3" r="8.1" fill="#d42a5c" opacity="0.75"/><circle cx="1244.1" cy="1001.3" r="2.2" fill="#5a061c"/>
<ellipse cx="1233.0" cy="1000.2" rx="5.7" ry="5.2" fill="#ec4c7c" transform="rotate(-47 1233.0 1000.2)"/><ellipse cx="1234.2" cy="1006.2" rx="5.7" ry="5.2" fill="#ec4c7c" transform="rotate(25 1234.2 1006.2)"/><ellipse cx="1228.9" cy="1009.2" rx="5.7" ry="5.2" fill="#ec4c7c" transform="rotate(97 1228.9 1009.2)"/><ellipse cx="1224.4" cy="1005.0" rx="5.7" ry="5.2" fill="#ec4c7c" transform="rotate(169 1224.4 1005.0)"/><ellipse cx="1227.0" cy="999.5" rx="5.7" ry="5.2" fill="#ec4c7c" transform="rotate(241 1227.0 999.5)"/><circle cx="1229.5" cy="1004.0" r="6.4" fill="#d42a5c" opacity="0.75"/><circle cx="1229.5" cy="1004.0" r="1.8" fill="#5a061c"/>
<ellipse cx="1264.1" cy="1000.3" rx="6.4" ry="5.9" fill="#ec4c7c" transform="rotate(-24 1264.1 1000.3)"/><ellipse cx="1262.7" cy="1007.0" rx="6.4" ry="5.9" fill="#ec4c7c" transform="rotate(48 1262.7 1007.0)"/><ellipse cx="1255.9" cy="1007.8" rx="6.4" ry="5.9" fill="#ec4c7c" transform="rotate(120 1255.9 1007.8)"/><ellipse cx="1253.1" cy="1001.5" rx="6.4" ry="5.9" fill="#ec4c7c" transform="rotate(192 1253.1 1001.5)"/><ellipse cx="1258.2" cy="996.9" rx="6.4" ry="5.9" fill="#ec4c7c" transform="rotate(264 1258.2 996.9)"/><circle cx="1258.8" cy="1002.7" r="7.3" fill="#d42a5c" opacity="0.75"/><circle cx="1258.8" cy="1002.7" r="2.0" fill="#5a061c"/>
<ellipse cx="1280.5" cy="986.4" rx="6.4" ry="5.9" fill="#ec4c7c" transform="rotate(-73 1280.5 986.4)"/><ellipse cx="1284.6" cy="991.9" rx="6.4" ry="5.9" fill="#ec4c7c" transform="rotate(-1 1284.6 991.9)"/><ellipse cx="1280.7" cy="997.5" rx="6.4" ry="5.9" fill="#ec4c7c" transform="rotate(71 1280.7 997.5)"/><ellipse cx="1274.1" cy="995.5" rx="6.4" ry="5.9" fill="#ec4c7c" transform="rotate(143 1274.1 995.5)"/><ellipse cx="1274.0" cy="988.6" rx="6.4" ry="5.9" fill="#ec4c7c" transform="rotate(215 1274.0 988.6)"/><circle cx="1278.8" cy="992.0" r="7.3" fill="#d42a5c" opacity="0.75"/><circle cx="1278.8" cy="992.0" r="2.0" fill="#5a061c"/>
<ellipse cx="1297.3" cy="975.5" rx="6.4" ry="5.9" fill="#ec4c7c" transform="rotate(-50 1297.3 975.5)"/><ellipse cx="1298.9" cy="982.2" rx="6.4" ry="5.9" fill="#ec4c7c" transform="rotate(22 1298.9 982.2)"/><ellipse cx="1293.1" cy="985.8" rx="6.4" ry="5.9" fill="#ec4c7c" transform="rotate(94 1293.1 985.8)"/><ellipse cx="1287.8" cy="981.4" rx="6.4" ry="5.9" fill="#ec4c7c" transform="rotate(166 1287.8 981.4)"/><ellipse cx="1290.4" cy="975.0" rx="6.4" ry="5.9" fill="#ec4c7c" transform="rotate(238 1290.4 975.0)"/><circle cx="1293.5" cy="980.0" r="7.3" fill="#d42a5c" opacity="0.75"/><circle cx="1293.5" cy="980.0" r="2.0" fill="#5a061c"/>
<ellipse cx="1309.3" cy="984.0" rx="6.4" ry="5.9" fill="#ec4c7c" transform="rotate(-27 1309.3 984.0)"/><ellipse cx="1308.2" cy="990.8" rx="6.4" ry="5.9" fill="#ec4c7c" transform="rotate(45 1308.2 990.8)"/><ellipse cx="1301.4" cy="991.9" rx="6.4" ry="5.9" fill="#ec4c7c" transform="rotate(117 1301.4 991.9)"/><ellipse cx="1298.3" cy="985.8" rx="6.4" ry="5.9" fill="#ec4c7c" transform="rotate(189 1298.3 985.8)"/><ellipse cx="1303.2" cy="980.9" rx="6.4" ry="5.9" fill="#ec4c7c" transform="rotate(261 1303.2 980.9)"/><circle cx="1304.1" cy="986.7" r="7.3" fill="#d42a5c" opacity="0.75"/><circle cx="1304.1" cy="986.7" r="2.0" fill="#5a061c"/>
<ellipse cx="1283.2" cy="1003.8" rx="7.9" ry="7.2" fill="#ec4c7c" transform="rotate(-76 1283.2 1003.8)"/><ellipse cx="1288.6" cy="1010.2" rx="7.9" ry="7.2" fill="#ec4c7c" transform="rotate(-4 1288.6 1010.2)"/><ellipse cx="1284.2" cy="1017.3" rx="7.9" ry="7.2" fill="#ec4c7c" transform="rotate(68 1284.2 1017.3)"/><ellipse cx="1276.0" cy="1015.3" rx="7.9" ry="7.2" fill="#ec4c7c" transform="rotate(140 1276.0 1015.3)"/><ellipse cx="1275.4" cy="1006.9" rx="7.9" ry="7.2" fill="#ec4c7c" transform="rotate(212 1275.4 1006.9)"/><circle cx="1281.5" cy="1010.7" r="8.9" fill="#d42a5c" opacity="0.75"/><circle cx="1281.5" cy="1010.7" r="2.4" fill="#5a061c"/>
<ellipse cx="1298.3" cy="1002.0" rx="6.4" ry="5.9" fill="#ec4c7c" transform="rotate(-53 1298.3 1002.0)"/><ellipse cx="1300.3" cy="1008.6" rx="6.4" ry="5.9" fill="#ec4c7c" transform="rotate(19 1300.3 1008.6)"/><ellipse cx="1294.7" cy="1012.5" rx="6.4" ry="5.9" fill="#ec4c7c" transform="rotate(91 1294.7 1012.5)"/><ellipse cx="1289.2" cy="1008.4" rx="6.4" ry="5.9" fill="#ec4c7c" transform="rotate(163 1289.2 1008.4)"/><ellipse cx="1291.4" cy="1001.9" rx="6.4" ry="5.9" fill="#ec4c7c" transform="rotate(235 1291.4 1001.9)"/><circle cx="1294.8" cy="1006.7" r="7.3" fill="#d42a5c" opacity="0.75"/><circle cx="1294.8" cy="1006.7" r="2.0" fill="#5a061c"/>
<ellipse cx="1311.3" cy="1010.7" rx="5.7" ry="5.2" fill="#ec4c7c" transform="rotate(-30 1311.3 1010.7)"/><ellipse cx="1310.7" cy="1016.8" rx="5.7" ry="5.2" fill="#ec4c7c" transform="rotate(42 1310.7 1016.8)"/><ellipse cx="1304.7" cy="1018.1" rx="5.7" ry="5.2" fill="#ec4c7c" transform="rotate(114 1304.7 1018.1)"/><ellipse cx="1301.6" cy="1012.8" rx="5.7" ry="5.2" fill="#ec4c7c" transform="rotate(186 1301.6 1012.8)"/><ellipse cx="1305.7" cy="1008.2" rx="5.7" ry="5.2" fill="#ec4c7c" transform="rotate(258 1305.7 1008.2)"/><circle cx="1306.8" cy="1013.3" r="6.4" fill="#d42a5c" opacity="0.75"/><circle cx="1306.8" cy="1013.3" r="1.8" fill="#5a061c"/>
<ellipse cx="1315.7" cy="1011.5" rx="5.0" ry="4.5" fill="#ec4c7c" transform="rotate(-79 1315.7 1011.5)"/><ellipse cx="1319.3" cy="1015.4" rx="5.0" ry="4.5" fill="#ec4c7c" transform="rotate(-7 1319.3 1015.4)"/><ellipse cx="1316.7" cy="1020.1" rx="5.0" ry="4.5" fill="#ec4c7c" transform="rotate(65 1316.7 1020.1)"/><ellipse cx="1311.5" cy="1019.1" rx="5.0" ry="4.5" fill="#ec4c7c" transform="rotate(137 1311.5 1019.1)"/><ellipse cx="1310.8" cy="1013.8" rx="5.0" ry="4.5" fill="#ec4c7c" transform="rotate(209 1310.8 1013.8)"/><circle cx="1314.8" cy="1016.0" r="5.6" fill="#d42a5c" opacity="0.75"/><circle cx="1314.8" cy="1016.0" r="1.7" fill="#5a061c"/>
<ellipse cx="1288.6" cy="966.2" rx="5.0" ry="4.5" fill="#ec4c7c" transform="rotate(-56 1288.6 966.2)"/><ellipse cx="1290.5" cy="971.3" rx="5.0" ry="4.5" fill="#ec4c7c" transform="rotate(16 1290.5 971.3)"/><ellipse cx="1286.3" cy="974.5" rx="5.0" ry="4.5" fill="#ec4c7c" transform="rotate(88 1286.3 974.5)"/><ellipse cx="1281.8" cy="971.6" rx="5.0" ry="4.5" fill="#ec4c7c" transform="rotate(160 1281.8 971.6)"/><ellipse cx="1283.3" cy="966.4" rx="5.0" ry="4.5" fill="#ec4c7c" transform="rotate(232 1283.3 966.4)"/><circle cx="1286.1" cy="970.0" r="5.6" fill="#d42a5c" opacity="0.75"/><circle cx="1286.1" cy="970.0" r="1.7" fill="#5a061c"/>
</g>
<path d="M1245.1000000000001,1040.5 L1300.1000000000001,1040.5 Q1298.9,1063.0 1296.1000000000001,1085.5 L1249.5000000000002,1085.5 Q1246.5,1063.0 1245.1000000000001,1040.5 Z" fill="url(#gpot)"/>
<rect x="1245.6000000000001" y="1040.5" width="54.0" height="3" fill="#f3f3f3"/>
<path d="M1248.5000000000002,1084.5 L1297.1000000000001,1084.5 L1295.1000000000001,1093.0 L1250.5000000000002,1093.0 Z" fill="#e8e8e8" stroke="#d2d2d2" stroke-width="0.8"/>
<rect x="1245.1000000000001" y="1039.5" width="55" height="2.5" fill="#1b1b1b" opacity="0.7"/>
<g>
<g transform="translate(169.0,1229.0) rotate(195)"><path d="M-16.0,0 C-8.8,-10.6 7.2,-10.0 16.0,0 C7.2,10.0 -8.8,10.6 -16.0,0 Z" fill="#3b7d28" opacity="1"/></g>
<g transform="translate(182.0,1258.0) rotate(100)"><path d="M-19.0,0 C-10.5,-17.3 8.6,-16.2 19.0,0 C8.6,16.2 -10.5,17.3 -19.0,0 Z" fill="#2e6820" opacity="1"/></g>
<g transform="translate(245.0,1222.0) rotate(-10)"><path d="M-16.0,0 C-8.8,-7.3 7.2,-6.9 16.0,0 C7.2,6.9 -8.8,7.3 -16.0,0 Z" fill="#3b7d28" opacity="1"/></g>
<g transform="translate(234.0,1255.0) rotate(65)"><path d="M-19.0,0 C-10.5,-12.0 8.6,-11.2 19.0,0 C8.6,11.2 -10.5,12.0 -19.0,0 Z" fill="#3b7d28" opacity="1"/></g>
<g transform="translate(170.0,1203.0) rotate(190)"><path d="M-13.0,0 C-7.2,-7.3 5.9,-6.9 13.0,0 C5.9,6.9 -7.2,7.3 -13.0,0 Z" fill="#3b7d28" opacity="1"/></g>
<g transform="translate(204.0,1252.0) rotate(80)"><path d="M-16.0,0 C-8.8,-12.0 7.2,-11.2 16.0,0 C7.2,11.2 -8.8,12.0 -16.0,0 Z" fill="#5a9a3a" opacity="1"/></g>
<g transform="translate(194.0,1236.0) rotate(140)"><path d="M-14.0,0 C-7.7,-10.0 6.3,-9.4 14.0,0 C6.3,9.4 -7.7,10.0 -14.0,0 Z" fill="#2e6820" opacity="1"/></g>
<g transform="translate(222.0,1240.0) rotate(40)"><path d="M-14.0,0 C-7.7,-10.0 6.3,-9.4 14.0,0 C6.3,9.4 -7.7,10.0 -14.0,0 Z" fill="#2e6820" opacity="1"/></g>
<g transform="translate(212.0,1218.0) rotate(20)"><path d="M-11.0,0 C-6.1,-6.7 5.0,-6.2 11.0,0 C5.0,6.2 -6.1,6.7 -11.0,0 Z" fill="#3b7d28" opacity="1"/></g>
<g transform="translate(252.0,1238.0) rotate(15)"><path d="M-12.0,0 C-6.6,-6.0 5.4,-5.6 12.0,0 C5.4,5.6 -6.6,6.0 -12.0,0 Z" fill="#3b7d28" opacity="1"/></g>
<g transform="translate(177.0,1246.0) rotate(160)"><path d="M-13.0,0 C-7.2,-8.6 5.9,-8.1 13.0,0 C5.9,8.1 -7.2,8.6 -13.0,0 Z" fill="#3b7d28" opacity="1"/></g>
<g transform="translate(190.0,1266.0) rotate(115)"><path d="M-15.0,0 C-8.2,-12.0 6.8,-11.2 15.0,0 C6.8,11.2 -8.2,12.0 -15.0,0 Z" fill="#2e6820" opacity="1"/></g>
<g transform="translate(226.0,1268.0) rotate(55)"><path d="M-13.0,0 C-7.2,-8.0 5.9,-7.5 13.0,0 C5.9,7.5 -7.2,8.0 -13.0,0 Z" fill="#3b7d28" opacity="1"/></g>
<g transform="translate(206.0,1232.0) rotate(-60)"><path d="M-13.0,0 C-7.2,-9.3 5.9,-8.8 13.0,0 C5.9,8.8 -7.2,9.3 -13.0,0 Z" fill="#2e6820" opacity="1"/></g>
<g transform="translate(208.0,1206.0) rotate(-30)"><path d="M-9.0,0 C-5.0,-6.7 4.0,-6.2 9.0,0 C4.0,6.2 -5.0,6.7 -9.0,0 Z" fill="#3b7d28" opacity="1"/></g>
<g transform="translate(214.0,1258.0) rotate(60)"><path d="M-14.0,0 C-7.7,-9.3 6.3,-8.8 14.0,0 C6.3,8.8 -7.7,9.3 -14.0,0 Z" fill="#2e6820" opacity="1"/></g>
<g transform="translate(180.0,1222.0) rotate(170)"><path d="M-11.0,0 C-6.1,-8.0 5.0,-7.5 11.0,0 C5.0,7.5 -6.1,8.0 -11.0,0 Z" fill="#2e6820" opacity="1"/></g>
<g transform="translate(238.0,1212.0) rotate(-20)"><path d="M-10.0,0 C-5.5,-6.7 4.5,-6.2 10.0,0 C4.5,6.2 -5.5,6.7 -10.0,0 Z" fill="#3b7d28" opacity="1"/></g>
<g transform="translate(230.0,1244.0) rotate(20)"><path d="M-12.0,0 C-6.6,-8.0 5.4,-7.5 12.0,0 C5.4,7.5 -6.6,8.0 -12.0,0 Z" fill="#2e6820" opacity="1"/></g>
<g transform="translate(184.0,1238.0) rotate(120)"><path d="M-12.0,0 C-6.6,-9.3 5.4,-8.8 12.0,0 C5.4,8.8 -6.6,9.3 -12.0,0 Z" fill="#3b7d28" opacity="1"/></g>
<g transform="translate(164.0,1240.0) rotate(200)"><path d="M-11.0,0 C-6.1,-8.0 5.0,-7.5 11.0,0 C5.0,7.5 -6.1,8.0 -11.0,0 Z" fill="#2e6820" opacity="1"/></g>
<g transform="translate(242.0,1232.0) rotate(10)"><path d="M-10.0,0 C-5.5,-6.0 4.5,-5.6 10.0,0 C4.5,5.6 -5.5,6.0 -10.0,0 Z" fill="#2e6820" opacity="1"/></g>
<ellipse cx="211" cy="1219" rx="3" ry="3.5" fill="#2f7fe0"/>
<g transform="translate(207.0,1181.0) rotate(-5) scale(1,0.560)"><path d="M7.5,-5.0 Q16.8,-5.0 23.0,0 Q16.8,5.0 7.5,5.0 Z" fill="#ecb808" transform="rotate(0.0)"/><path d="M7.5,-5.0 Q16.8,-5.0 23.0,0 Q16.8,5.0 7.5,5.0 Z" fill="#ecb808" transform="rotate(25.7)"/><path d="M7.5,-5.0 Q16.8,-5.0 23.0,0 Q16.8,5.0 7.5,5.0 Z" fill="#ecb808" transform="rotate(51.4)"/><path d="M7.5,-5.0 Q16.8,-5.0 23.0,0 Q16.8,5.0 7.5,5.0 Z" fill="#ecb808" transform="rotate(77.1)"/><path d="M7.5,-5.0 Q16.8,-5.0 23.0,0 Q16.8,5.0 7.5,5.0 Z" fill="#ecb808" transform="rotate(102.9)"/><path d="M7.5,-5.0 Q16.8,-5.0 23.0,0 Q16.8,5.0 7.5,5.0 Z" fill="#ecb808" transform="rotate(128.6)"/><path d="M7.5,-5.0 Q16.8,-5.0 23.0,0 Q16.8,5.0 7.5,5.0 Z" fill="#ecb808" transform="rotate(154.3)"/><path d="M7.5,-5.0 Q16.8,-5.0 23.0,0 Q16.8,5.0 7.5,5.0 Z" fill="#ecb808" transform="rotate(180.0)"/><path d="M7.5,-5.0 Q16.8,-5.0 23.0,0 Q16.8,5.0 7.5,5.0 Z" fill="#ecb808" transform="rotate(205.7)"/><path d="M7.5,-5.0 Q16.8,-5.0 23.0,0 Q16.8,5.0 7.5,5.0 Z" fill="#ecb808" transform="rotate(231.4)"/><path d="M7.5,-5.0 Q16.8,-5.0 23.0,0 Q16.8,5.0 7.5,5.0 Z" fill="#ecb808" transform="rotate(257.1)"/><path d="M7.5,-5.0 Q16.8,-5.0 23.0,0 Q16.8,5.0 7.5,5.0 Z" fill="#ecb808" transform="rotate(282.9)"/><path d="M7.5,-5.0 Q16.8,-5.0 23.0,0 Q16.8,5.0 7.5,5.0 Z" fill="#ecb808" transform="rotate(308.6)"/><path d="M7.5,-5.0 Q16.8,-5.0 23.0,0 Q16.8,5.0 7.5,5.0 Z" fill="#ecb808" transform="rotate(334.3)"/><path d="M7.5,-5.0 Q15.9,-5.0 21.5,0 Q15.9,5.0 7.5,5.0 Z" fill="#fad41e" transform="rotate(12.9)"/><path d="M7.5,-5.0 Q15.9,-5.0 21.5,0 Q15.9,5.0 7.5,5.0 Z" fill="#fad41e" transform="rotate(38.6)"/><path d="M7.5,-5.0 Q15.9,-5.0 21.5,0 Q15.9,5.0 7.5,5.0 Z" fill="#fad41e" transform="rotate(64.3)"/><path d="M7.5,-5.0 Q15.9,-5.0 21.5,0 Q15.9,5.0 7.5,5.0 Z" fill="#fad41e" transform="rotate(90.0)"/><path d="M7.5,-5.0 Q15.9,-5.0 21.5,0 Q15.9,5.0 7.5,5.0 Z" fill="#fad41e" transform="rotate(115.7)"/><path d="M7.5,-5.0 Q15.9,-5.0 21.5,0 Q15.9,5.0 7.5,5.0 Z" fill="#fad41e" transform="rotate(141.4)"/><path d="M7.5,-5.0 Q15.9,-5.0 21.5,0 Q15.9,5.0 7.5,5.0 Z" fill="#fad41e" transform="rotate(167.1)"/><path d="M7.5,-5.0 Q15.9,-5.0 21.5,0 Q15.9,5.0 7.5,5.0 Z" fill="#fad41e" transform="rotate(192.9)"/><path d="M7.5,-5.0 Q15.9,-5.0 21.5,0 Q15.9,5.0 7.5,5.0 Z" fill="#fad41e" transform="rotate(218.6)"/><path d="M7.5,-5.0 Q15.9,-5.0 21.5,0 Q15.9,5.0 7.5,5.0 Z" fill="#fad41e" transform="rotate(244.3)"/><path d="M7.5,-5.0 Q15.9,-5.0 21.5,0 Q15.9,5.0 7.5,5.0 Z" fill="#fad41e" transform="rotate(270.0)"/><path d="M7.5,-5.0 Q15.9,-5.0 21.5,0 Q15.9,5.0 7.5,5.0 Z" fill="#fad41e" transform="rotate(295.7)"/><path d="M7.5,-5.0 Q15.9,-5.0 21.5,0 Q15.9,5.0 7.5,5.0 Z" fill="#fad41e" transform="rotate(321.4)"/><path d="M7.5,-5.0 Q15.9,-5.0 21.5,0 Q15.9,5.0 7.5,5.0 Z" fill="#fad41e" transform="rotate(347.1)"/><circle r="12.5" fill="#f5c814"/><ellipse rx="12.5" ry="10.7" fill="#3a2008"/></g>
<g transform="translate(217.0,1199.3) rotate(0) scale(1,0.966)"><path d="M4.3,-2.9 Q9.7,-2.9 13.3,0 Q9.7,2.9 4.3,2.9 Z" fill="#ecb808" transform="rotate(0.0)"/><path d="M4.3,-2.9 Q9.7,-2.9 13.3,0 Q9.7,2.9 4.3,2.9 Z" fill="#ecb808" transform="rotate(25.7)"/><path d="M4.3,-2.9 Q9.7,-2.9 13.3,0 Q9.7,2.9 4.3,2.9 Z" fill="#ecb808" transform="rotate(51.4)"/><path d="M4.3,-2.9 Q9.7,-2.9 13.3,0 Q9.7,2.9 4.3,2.9 Z" fill="#ecb808" transform="rotate(77.1)"/><path d="M4.3,-2.9 Q9.7,-2.9 13.3,0 Q9.7,2.9 4.3,2.9 Z" fill="#ecb808" transform="rotate(102.9)"/><path d="M4.3,-2.9 Q9.7,-2.9 13.3,0 Q9.7,2.9 4.3,2.9 Z" fill="#ecb808" transform="rotate(128.6)"/><path d="M4.3,-2.9 Q9.7,-2.9 13.3,0 Q9.7,2.9 4.3,2.9 Z" fill="#ecb808" transform="rotate(154.3)"/><path d="M4.3,-2.9 Q9.7,-2.9 13.3,0 Q9.7,2.9 4.3,2.9 Z" fill="#ecb808" transform="rotate(180.0)"/><path d="M4.3,-2.9 Q9.7,-2.9 13.3,0 Q9.7,2.9 4.3,2.9 Z" fill="#ecb808" transform="rotate(205.7)"/><path d="M4.3,-2.9 Q9.7,-2.9 13.3,0 Q9.7,2.9 4.3,2.9 Z" fill="#ecb808" transform="rotate(231.4)"/><path d="M4.3,-2.9 Q9.7,-2.9 13.3,0 Q9.7,2.9 4.3,2.9 Z" fill="#ecb808" transform="rotate(257.1)"/><path d="M4.3,-2.9 Q9.7,-2.9 13.3,0 Q9.7,2.9 4.3,2.9 Z" fill="#ecb808" transform="rotate(282.9)"/><path d="M4.3,-2.9 Q9.7,-2.9 13.3,0 Q9.7,2.9 4.3,2.9 Z" fill="#ecb808" transform="rotate(308.6)"/><path d="M4.3,-2.9 Q9.7,-2.9 13.3,0 Q9.7,2.9 4.3,2.9 Z" fill="#ecb808" transform="rotate(334.3)"/><path d="M4.3,-2.9 Q9.2,-2.9 12.4,0 Q9.2,2.9 4.3,2.9 Z" fill="#fad41e" transform="rotate(12.9)"/><path d="M4.3,-2.9 Q9.2,-2.9 12.4,0 Q9.2,2.9 4.3,2.9 Z" fill="#fad41e" transform="rotate(38.6)"/><path d="M4.3,-2.9 Q9.2,-2.9 12.4,0 Q9.2,2.9 4.3,2.9 Z" fill="#fad41e" transform="rotate(64.3)"/><path d="M4.3,-2.9 Q9.2,-2.9 12.4,0 Q9.2,2.9 4.3,2.9 Z" fill="#fad41e" transform="rotate(90.0)"/><path d="M4.3,-2.9 Q9.2,-2.9 12.4,0 Q9.2,2.9 4.3,2.9 Z" fill="#fad41e" transform="rotate(115.7)"/><path d="M4.3,-2.9 Q9.2,-2.9 12.4,0 Q9.2,2.9 4.3,2.9 Z" fill="#fad41e" transform="rotate(141.4)"/><path d="M4.3,-2.9 Q9.2,-2.9 12.4,0 Q9.2,2.9 4.3,2.9 Z" fill="#fad41e" transform="rotate(167.1)"/><path d="M4.3,-2.9 Q9.2,-2.9 12.4,0 Q9.2,2.9 4.3,2.9 Z" fill="#fad41e" transform="rotate(192.9)"/><path d="M4.3,-2.9 Q9.2,-2.9 12.4,0 Q9.2,2.9 4.3,2.9 Z" fill="#fad41e" transform="rotate(218.6)"/><path d="M4.3,-2.9 Q9.2,-2.9 12.4,0 Q9.2,2.9 4.3,2.9 Z" fill="#fad41e" transform="rotate(244.3)"/><path d="M4.3,-2.9 Q9.2,-2.9 12.4,0 Q9.2,2.9 4.3,2.9 Z" fill="#fad41e" transform="rotate(270.0)"/><path d="M4.3,-2.9 Q9.2,-2.9 12.4,0 Q9.2,2.9 4.3,2.9 Z" fill="#fad41e" transform="rotate(295.7)"/><path d="M4.3,-2.9 Q9.2,-2.9 12.4,0 Q9.2,2.9 4.3,2.9 Z" fill="#fad41e" transform="rotate(321.4)"/><path d="M4.3,-2.9 Q9.2,-2.9 12.4,0 Q9.2,2.9 4.3,2.9 Z" fill="#fad41e" transform="rotate(347.1)"/><circle r="7.2" fill="#f5c814"/><ellipse rx="5.5" ry="5.7" fill="#3a2008"/></g>
<g transform="translate(191.0,1213.0) rotate(0) scale(1,1.000)"><path d="M4.8,-3.2 Q10.8,-3.2 14.7,0 Q10.8,3.2 4.8,3.2 Z" fill="#ecb808" transform="rotate(0.0)"/><path d="M4.8,-3.2 Q10.8,-3.2 14.7,0 Q10.8,3.2 4.8,3.2 Z" fill="#ecb808" transform="rotate(25.7)"/><path d="M4.8,-3.2 Q10.8,-3.2 14.7,0 Q10.8,3.2 4.8,3.2 Z" fill="#ecb808" transform="rotate(51.4)"/><path d="M4.8,-3.2 Q10.8,-3.2 14.7,0 Q10.8,3.2 4.8,3.2 Z" fill="#ecb808" transform="rotate(77.1)"/><path d="M4.8,-3.2 Q10.8,-3.2 14.7,0 Q10.8,3.2 4.8,3.2 Z" fill="#ecb808" transform="rotate(102.9)"/><path d="M4.8,-3.2 Q10.8,-3.2 14.7,0 Q10.8,3.2 4.8,3.2 Z" fill="#ecb808" transform="rotate(128.6)"/><path d="M4.8,-3.2 Q10.8,-3.2 14.7,0 Q10.8,3.2 4.8,3.2 Z" fill="#ecb808" transform="rotate(154.3)"/><path d="M4.8,-3.2 Q10.8,-3.2 14.7,0 Q10.8,3.2 4.8,3.2 Z" fill="#ecb808" transform="rotate(180.0)"/><path d="M4.8,-3.2 Q10.8,-3.2 14.7,0 Q10.8,3.2 4.8,3.2 Z" fill="#ecb808" transform="rotate(205.7)"/><path d="M4.8,-3.2 Q10.8,-3.2 14.7,0 Q10.8,3.2 4.8,3.2 Z" fill="#ecb808" transform="rotate(231.4)"/><path d="M4.8,-3.2 Q10.8,-3.2 14.7,0 Q10.8,3.2 4.8,3.2 Z" fill="#ecb808" transform="rotate(257.1)"/><path d="M4.8,-3.2 Q10.8,-3.2 14.7,0 Q10.8,3.2 4.8,3.2 Z" fill="#ecb808" transform="rotate(282.9)"/><path d="M4.8,-3.2 Q10.8,-3.2 14.7,0 Q10.8,3.2 4.8,3.2 Z" fill="#ecb808" transform="rotate(308.6)"/><path d="M4.8,-3.2 Q10.8,-3.2 14.7,0 Q10.8,3.2 4.8,3.2 Z" fill="#ecb808" transform="rotate(334.3)"/><path d="M4.8,-3.2 Q10.2,-3.2 13.7,0 Q10.2,3.2 4.8,3.2 Z" fill="#fad41e" transform="rotate(12.9)"/><path d="M4.8,-3.2 Q10.2,-3.2 13.7,0 Q10.2,3.2 4.8,3.2 Z" fill="#fad41e" transform="rotate(38.6)"/><path d="M4.8,-3.2 Q10.2,-3.2 13.7,0 Q10.2,3.2 4.8,3.2 Z" fill="#fad41e" transform="rotate(64.3)"/><path d="M4.8,-3.2 Q10.2,-3.2 13.7,0 Q10.2,3.2 4.8,3.2 Z" fill="#fad41e" transform="rotate(90.0)"/><path d="M4.8,-3.2 Q10.2,-3.2 13.7,0 Q10.2,3.2 4.8,3.2 Z" fill="#fad41e" transform="rotate(115.7)"/><path d="M4.8,-3.2 Q10.2,-3.2 13.7,0 Q10.2,3.2 4.8,3.2 Z" fill="#fad41e" transform="rotate(141.4)"/><path d="M4.8,-3.2 Q10.2,-3.2 13.7,0 Q10.2,3.2 4.8,3.2 Z" fill="#fad41e" transform="rotate(167.1)"/><path d="M4.8,-3.2 Q10.2,-3.2 13.7,0 Q10.2,3.2 4.8,3.2 Z" fill="#fad41e" transform="rotate(192.9)"/><path d="M4.8,-3.2 Q10.2,-3.2 13.7,0 Q10.2,3.2 4.8,3.2 Z" fill="#fad41e" transform="rotate(218.6)"/><path d="M4.8,-3.2 Q10.2,-3.2 13.7,0 Q10.2,3.2 4.8,3.2 Z" fill="#fad41e" transform="rotate(244.3)"/><path d="M4.8,-3.2 Q10.2,-3.2 13.7,0 Q10.2,3.2 4.8,3.2 Z" fill="#fad41e" transform="rotate(270.0)"/><path d="M4.8,-3.2 Q10.2,-3.2 13.7,0 Q10.2,3.2 4.8,3.2 Z" fill="#fad41e" transform="rotate(295.7)"/><path d="M4.8,-3.2 Q10.2,-3.2 13.7,0 Q10.2,3.2 4.8,3.2 Z" fill="#fad41e" transform="rotate(321.4)"/><path d="M4.8,-3.2 Q10.2,-3.2 13.7,0 Q10.2,3.2 4.8,3.2 Z" fill="#fad41e" transform="rotate(347.1)"/><circle r="8.0" fill="#f5c814"/><ellipse rx="6.5" ry="6.5" fill="#3a2008"/></g>
<g transform="translate(227.0,1224.6) rotate(0) scale(1,1.000)"><path d="M3.9,-2.6 Q8.7,-2.6 12.0,0 Q8.7,2.6 3.9,2.6 Z" fill="#ecb808" transform="rotate(0.0)"/><path d="M3.9,-2.6 Q8.7,-2.6 12.0,0 Q8.7,2.6 3.9,2.6 Z" fill="#ecb808" transform="rotate(25.7)"/><path d="M3.9,-2.6 Q8.7,-2.6 12.0,0 Q8.7,2.6 3.9,2.6 Z" fill="#ecb808" transform="rotate(51.4)"/><path d="M3.9,-2.6 Q8.7,-2.6 12.0,0 Q8.7,2.6 3.9,2.6 Z" fill="#ecb808" transform="rotate(77.1)"/><path d="M3.9,-2.6 Q8.7,-2.6 12.0,0 Q8.7,2.6 3.9,2.6 Z" fill="#ecb808" transform="rotate(102.9)"/><path d="M3.9,-2.6 Q8.7,-2.6 12.0,0 Q8.7,2.6 3.9,2.6 Z" fill="#ecb808" transform="rotate(128.6)"/><path d="M3.9,-2.6 Q8.7,-2.6 12.0,0 Q8.7,2.6 3.9,2.6 Z" fill="#ecb808" transform="rotate(154.3)"/><path d="M3.9,-2.6 Q8.7,-2.6 12.0,0 Q8.7,2.6 3.9,2.6 Z" fill="#ecb808" transform="rotate(180.0)"/><path d="M3.9,-2.6 Q8.7,-2.6 12.0,0 Q8.7,2.6 3.9,2.6 Z" fill="#ecb808" transform="rotate(205.7)"/><path d="M3.9,-2.6 Q8.7,-2.6 12.0,0 Q8.7,2.6 3.9,2.6 Z" fill="#ecb808" transform="rotate(231.4)"/><path d="M3.9,-2.6 Q8.7,-2.6 12.0,0 Q8.7,2.6 3.9,2.6 Z" fill="#ecb808" transform="rotate(257.1)"/><path d="M3.9,-2.6 Q8.7,-2.6 12.0,0 Q8.7,2.6 3.9,2.6 Z" fill="#ecb808" transform="rotate(282.9)"/><path d="M3.9,-2.6 Q8.7,-2.6 12.0,0 Q8.7,2.6 3.9,2.6 Z" fill="#ecb808" transform="rotate(308.6)"/><path d="M3.9,-2.6 Q8.7,-2.6 12.0,0 Q8.7,2.6 3.9,2.6 Z" fill="#ecb808" transform="rotate(334.3)"/><path d="M3.9,-2.6 Q8.3,-2.6 11.2,0 Q8.3,2.6 3.9,2.6 Z" fill="#fad41e" transform="rotate(12.9)"/><path d="M3.9,-2.6 Q8.3,-2.6 11.2,0 Q8.3,2.6 3.9,2.6 Z" fill="#fad41e" transform="rotate(38.6)"/><path d="M3.9,-2.6 Q8.3,-2.6 11.2,0 Q8.3,2.6 3.9,2.6 Z" fill="#fad41e" transform="rotate(64.3)"/><path d="M3.9,-2.6 Q8.3,-2.6 11.2,0 Q8.3,2.6 3.9,2.6 Z" fill="#fad41e" transform="rotate(90.0)"/><path d="M3.9,-2.6 Q8.3,-2.6 11.2,0 Q8.3,2.6 3.9,2.6 Z" fill="#fad41e" transform="rotate(115.7)"/><path d="M3.9,-2.6 Q8.3,-2.6 11.2,0 Q8.3,2.6 3.9,2.6 Z" fill="#fad41e" transform="rotate(141.4)"/><path d="M3.9,-2.6 Q8.3,-2.6 11.2,0 Q8.3,2.6 3.9,2.6 Z" fill="#fad41e" transform="rotate(167.1)"/><path d="M3.9,-2.6 Q8.3,-2.6 11.2,0 Q8.3,2.6 3.9,2.6 Z" fill="#fad41e" transform="rotate(192.9)"/><path d="M3.9,-2.6 Q8.3,-2.6 11.2,0 Q8.3,2.6 3.9,2.6 Z" fill="#fad41e" transform="rotate(218.6)"/><path d="M3.9,-2.6 Q8.3,-2.6 11.2,0 Q8.3,2.6 3.9,2.6 Z" fill="#fad41e" transform="rotate(244.3)"/><path d="M3.9,-2.6 Q8.3,-2.6 11.2,0 Q8.3,2.6 3.9,2.6 Z" fill="#fad41e" transform="rotate(270.0)"/><path d="M3.9,-2.6 Q8.3,-2.6 11.2,0 Q8.3,2.6 3.9,2.6 Z" fill="#fad41e" transform="rotate(295.7)"/><path d="M3.9,-2.6 Q8.3,-2.6 11.2,0 Q8.3,2.6 3.9,2.6 Z" fill="#fad41e" transform="rotate(321.4)"/><path d="M3.9,-2.6 Q8.3,-2.6 11.2,0 Q8.3,2.6 3.9,2.6 Z" fill="#fad41e" transform="rotate(347.1)"/><circle r="6.5" fill="#f5c814"/><ellipse rx="4.8" ry="4.8" fill="#3a2008"/></g>
</g>
<path d="M186,1262 L228,1262 Q228.1,1278.8 226.5,1295.5 L187.5,1295.5 Q185.9,1278.8 186,1262 Z" fill="url(#gpot)"/>
<rect x="186.5" y="1262" width="41" height="3" fill="#f3f3f3"/>
<path d="M186.5,1294.5 L227.5,1294.5 L225.5,1303.0 L188.5,1303.0 Z" fill="#e8e8e8" stroke="#d2d2d2" stroke-width="0.8"/>
<rect x="187" y="1260.5" width="40" height="2.5" fill="#3b2a18" opacity="0.8"/>
<g>
<g transform="translate(337.0,1229.0) rotate(195)"><path d="M-16.0,0 C-8.8,-10.6 7.2,-10.0 16.0,0 C7.2,10.0 -8.8,10.6 -16.0,0 Z" fill="#3b7d28" opacity="1"/></g>
<g transform="translate(350.0,1258.0) rotate(100)"><path d="M-19.0,0 C-10.5,-17.3 8.6,-16.2 19.0,0 C8.6,16.2 -10.5,17.3 -19.0,0 Z" fill="#2e6820" opacity="1"/></g>
<g transform="translate(413.0,1222.0) rotate(-10)"><path d="M-16.0,0 C-8.8,-7.3 7.2,-6.9 16.0,0 C7.2,6.9 -8.8,7.3 -16.0,0 Z" fill="#3b7d28" opacity="1"/></g>
<g transform="translate(402.0,1255.0) rotate(65)"><path d="M-19.0,0 C-10.5,-12.0 8.6,-11.2 19.0,0 C8.6,11.2 -10.5,12.0 -19.0,0 Z" fill="#3b7d28" opacity="1"/></g>
<g transform="translate(338.0,1203.0) rotate(190)"><path d="M-13.0,0 C-7.2,-7.3 5.9,-6.9 13.0,0 C5.9,6.9 -7.2,7.3 -13.0,0 Z" fill="#3b7d28" opacity="1"/></g>
<g transform="translate(372.0,1252.0) rotate(80)"><path d="M-16.0,0 C-8.8,-12.0 7.2,-11.2 16.0,0 C7.2,11.2 -8.8,12.0 -16.0,0 Z" fill="#5a9a3a" opacity="1"/></g>
<g transform="translate(362.0,1236.0) rotate(140)"><path d="M-14.0,0 C-7.7,-10.0 6.3,-9.4 14.0,0 C6.3,9.4 -7.7,10.0 -14.0,0 Z" fill="#2e6820" opacity="1"/></g>
<g transform="translate(390.0,1240.0) rotate(40)"><path d="M-14.0,0 C-7.7,-10.0 6.3,-9.4 14.0,0 C6.3,9.4 -7.7,10.0 -14.0,0 Z" fill="#2e6820" opacity="1"/></g>
<g transform="translate(380.0,1218.0) rotate(20)"><path d="M-11.0,0 C-6.1,-6.7 5.0,-6.2 11.0,0 C5.0,6.2 -6.1,6.7 -11.0,0 Z" fill="#3b7d28" opacity="1"/></g>
<g transform="translate(420.0,1238.0) rotate(15)"><path d="M-12.0,0 C-6.6,-6.0 5.4,-5.6 12.0,0 C5.4,5.6 -6.6,6.0 -12.0,0 Z" fill="#3b7d28" opacity="1"/></g>
<g transform="translate(345.0,1246.0) rotate(160)"><path d="M-13.0,0 C-7.2,-8.6 5.9,-8.1 13.0,0 C5.9,8.1 -7.2,8.6 -13.0,0 Z" fill="#3b7d28" opacity="1"/></g>
<g transform="translate(358.0,1266.0) rotate(115)"><path d="M-15.0,0 C-8.2,-12.0 6.8,-11.2 15.0,0 C6.8,11.2 -8.2,12.0 -15.0,0 Z" fill="#2e6820" opacity="1"/></g>
<g transform="translate(394.0,1268.0) rotate(55)"><path d="M-13.0,0 C-7.2,-8.0 5.9,-7.5 13.0,0 C5.9,7.5 -7.2,8.0 -13.0,0 Z" fill="#3b7d28" opacity="1"/></g>
<g transform="translate(374.0,1232.0) rotate(-60)"><path d="M-13.0,0 C-7.2,-9.3 5.9,-8.8 13.0,0 C5.9,8.8 -7.2,9.3 -13.0,0 Z" fill="#2e6820" opacity="1"/></g>
<g transform="translate(376.0,1206.0) rotate(-30)"><path d="M-9.0,0 C-5.0,-6.7 4.0,-6.2 9.0,0 C4.0,6.2 -5.0,6.7 -9.0,0 Z" fill="#3b7d28" opacity="1"/></g>
<g transform="translate(382.0,1258.0) rotate(60)"><path d="M-14.0,0 C-7.7,-9.3 6.3,-8.8 14.0,0 C6.3,8.8 -7.7,9.3 -14.0,0 Z" fill="#2e6820" opacity="1"/></g>
<g transform="translate(348.0,1222.0) rotate(170)"><path d="M-11.0,0 C-6.1,-8.0 5.0,-7.5 11.0,0 C5.0,7.5 -6.1,8.0 -11.0,0 Z" fill="#2e6820" opacity="1"/></g>
<g transform="translate(406.0,1212.0) rotate(-20)"><path d="M-10.0,0 C-5.5,-6.7 4.5,-6.2 10.0,0 C4.5,6.2 -5.5,6.7 -10.0,0 Z" fill="#3b7d28" opacity="1"/></g>
<g transform="translate(398.0,1244.0) rotate(20)"><path d="M-12.0,0 C-6.6,-8.0 5.4,-7.5 12.0,0 C5.4,7.5 -6.6,8.0 -12.0,0 Z" fill="#2e6820" opacity="1"/></g>
<g transform="translate(352.0,1238.0) rotate(120)"><path d="M-12.0,0 C-6.6,-9.3 5.4,-8.8 12.0,0 C5.4,8.8 -6.6,9.3 -12.0,0 Z" fill="#3b7d28" opacity="1"/></g>
<g transform="translate(332.0,1240.0) rotate(200)"><path d="M-11.0,0 C-6.1,-8.0 5.0,-7.5 11.0,0 C5.0,7.5 -6.1,8.0 -11.0,0 Z" fill="#2e6820" opacity="1"/></g>
<g transform="translate(410.0,1232.0) rotate(10)"><path d="M-10.0,0 C-5.5,-6.0 4.5,-5.6 10.0,0 C4.5,5.6 -5.5,6.0 -10.0,0 Z" fill="#2e6820" opacity="1"/></g>
<ellipse cx="379" cy="1219" rx="3" ry="3.5" fill="#2f7fe0"/>
<g transform="translate(375.0,1181.0) rotate(-5) scale(1,0.560)"><path d="M7.5,-5.0 Q16.8,-5.0 23.0,0 Q16.8,5.0 7.5,5.0 Z" fill="#ecb808" transform="rotate(0.0)"/><path d="M7.5,-5.0 Q16.8,-5.0 23.0,0 Q16.8,5.0 7.5,5.0 Z" fill="#ecb808" transform="rotate(25.7)"/><path d="M7.5,-5.0 Q16.8,-5.0 23.0,0 Q16.8,5.0 7.5,5.0 Z" fill="#ecb808" transform="rotate(51.4)"/><path d="M7.5,-5.0 Q16.8,-5.0 23.0,0 Q16.8,5.0 7.5,5.0 Z" fill="#ecb808" transform="rotate(77.1)"/><path d="M7.5,-5.0 Q16.8,-5.0 23.0,0 Q16.8,5.0 7.5,5.0 Z" fill="#ecb808" transform="rotate(102.9)"/><path d="M7.5,-5.0 Q16.8,-5.0 23.0,0 Q16.8,5.0 7.5,5.0 Z" fill="#ecb808" transform="rotate(128.6)"/><path d="M7.5,-5.0 Q16.8,-5.0 23.0,0 Q16.8,5.0 7.5,5.0 Z" fill="#ecb808" transform="rotate(154.3)"/><path d="M7.5,-5.0 Q16.8,-5.0 23.0,0 Q16.8,5.0 7.5,5.0 Z" fill="#ecb808" transform="rotate(180.0)"/><path d="M7.5,-5.0 Q16.8,-5.0 23.0,0 Q16.8,5.0 7.5,5.0 Z" fill="#ecb808" transform="rotate(205.7)"/><path d="M7.5,-5.0 Q16.8,-5.0 23.0,0 Q16.8,5.0 7.5,5.0 Z" fill="#ecb808" transform="rotate(231.4)"/><path d="M7.5,-5.0 Q16.8,-5.0 23.0,0 Q16.8,5.0 7.5,5.0 Z" fill="#ecb808" transform="rotate(257.1)"/><path d="M7.5,-5.0 Q16.8,-5.0 23.0,0 Q16.8,5.0 7.5,5.0 Z" fill="#ecb808" transform="rotate(282.9)"/><path d="M7.5,-5.0 Q16.8,-5.0 23.0,0 Q16.8,5.0 7.5,5.0 Z" fill="#ecb808" transform="rotate(308.6)"/><path d="M7.5,-5.0 Q16.8,-5.0 23.0,0 Q16.8,5.0 7.5,5.0 Z" fill="#ecb808" transform="rotate(334.3)"/><path d="M7.5,-5.0 Q15.9,-5.0 21.5,0 Q15.9,5.0 7.5,5.0 Z" fill="#fad41e" transform="rotate(12.9)"/><path d="M7.5,-5.0 Q15.9,-5.0 21.5,0 Q15.9,5.0 7.5,5.0 Z" fill="#fad41e" transform="rotate(38.6)"/><path d="M7.5,-5.0 Q15.9,-5.0 21.5,0 Q15.9,5.0 7.5,5.0 Z" fill="#fad41e" transform="rotate(64.3)"/><path d="M7.5,-5.0 Q15.9,-5.0 21.5,0 Q15.9,5.0 7.5,5.0 Z" fill="#fad41e" transform="rotate(90.0)"/><path d="M7.5,-5.0 Q15.9,-5.0 21.5,0 Q15.9,5.0 7.5,5.0 Z" fill="#fad41e" transform="rotate(115.7)"/><path d="M7.5,-5.0 Q15.9,-5.0 21.5,0 Q15.9,5.0 7.5,5.0 Z" fill="#fad41e" transform="rotate(141.4)"/><path d="M7.5,-5.0 Q15.9,-5.0 21.5,0 Q15.9,5.0 7.5,5.0 Z" fill="#fad41e" transform="rotate(167.1)"/><path d="M7.5,-5.0 Q15.9,-5.0 21.5,0 Q15.9,5.0 7.5,5.0 Z" fill="#fad41e" transform="rotate(192.9)"/><path d="M7.5,-5.0 Q15.9,-5.0 21.5,0 Q15.9,5.0 7.5,5.0 Z" fill="#fad41e" transform="rotate(218.6)"/><path d="M7.5,-5.0 Q15.9,-5.0 21.5,0 Q15.9,5.0 7.5,5.0 Z" fill="#fad41e" transform="rotate(244.3)"/><path d="M7.5,-5.0 Q15.9,-5.0 21.5,0 Q15.9,5.0 7.5,5.0 Z" fill="#fad41e" transform="rotate(270.0)"/><path d="M7.5,-5.0 Q15.9,-5.0 21.5,0 Q15.9,5.0 7.5,5.0 Z" fill="#fad41e" transform="rotate(295.7)"/><path d="M7.5,-5.0 Q15.9,-5.0 21.5,0 Q15.9,5.0 7.5,5.0 Z" fill="#fad41e" transform="rotate(321.4)"/><path d="M7.5,-5.0 Q15.9,-5.0 21.5,0 Q15.9,5.0 7.5,5.0 Z" fill="#fad41e" transform="rotate(347.1)"/><circle r="12.5" fill="#f5c814"/><ellipse rx="12.5" ry="10.7" fill="#3a2008"/></g>
<g transform="translate(385.0,1199.3) rotate(0) scale(1,0.966)"><path d="M4.3,-2.9 Q9.7,-2.9 13.3,0 Q9.7,2.9 4.3,2.9 Z" fill="#ecb808" transform="rotate(0.0)"/><path d="M4.3,-2.9 Q9.7,-2.9 13.3,0 Q9.7,2.9 4.3,2.9 Z" fill="#ecb808" transform="rotate(25.7)"/><path d="M4.3,-2.9 Q9.7,-2.9 13.3,0 Q9.7,2.9 4.3,2.9 Z" fill="#ecb808" transform="rotate(51.4)"/><path d="M4.3,-2.9 Q9.7,-2.9 13.3,0 Q9.7,2.9 4.3,2.9 Z" fill="#ecb808" transform="rotate(77.1)"/><path d="M4.3,-2.9 Q9.7,-2.9 13.3,0 Q9.7,2.9 4.3,2.9 Z" fill="#ecb808" transform="rotate(102.9)"/><path d="M4.3,-2.9 Q9.7,-2.9 13.3,0 Q9.7,2.9 4.3,2.9 Z" fill="#ecb808" transform="rotate(128.6)"/><path d="M4.3,-2.9 Q9.7,-2.9 13.3,0 Q9.7,2.9 4.3,2.9 Z" fill="#ecb808" transform="rotate(154.3)"/><path d="M4.3,-2.9 Q9.7,-2.9 13.3,0 Q9.7,2.9 4.3,2.9 Z" fill="#ecb808" transform="rotate(180.0)"/><path d="M4.3,-2.9 Q9.7,-2.9 13.3,0 Q9.7,2.9 4.3,2.9 Z" fill="#ecb808" transform="rotate(205.7)"/><path d="M4.3,-2.9 Q9.7,-2.9 13.3,0 Q9.7,2.9 4.3,2.9 Z" fill="#ecb808" transform="rotate(231.4)"/><path d="M4.3,-2.9 Q9.7,-2.9 13.3,0 Q9.7,2.9 4.3,2.9 Z" fill="#ecb808" transform="rotate(257.1)"/><path d="M4.3,-2.9 Q9.7,-2.9 13.3,0 Q9.7,2.9 4.3,2.9 Z" fill="#ecb808" transform="rotate(282.9)"/><path d="M4.3,-2.9 Q9.7,-2.9 13.3,0 Q9.7,2.9 4.3,2.9 Z" fill="#ecb808" transform="rotate(308.6)"/><path d="M4.3,-2.9 Q9.7,-2.9 13.3,0 Q9.7,2.9 4.3,2.9 Z" fill="#ecb808" transform="rotate(334.3)"/><path d="M4.3,-2.9 Q9.2,-2.9 12.4,0 Q9.2,2.9 4.3,2.9 Z" fill="#fad41e" transform="rotate(12.9)"/><path d="M4.3,-2.9 Q9.2,-2.9 12.4,0 Q9.2,2.9 4.3,2.9 Z" fill="#fad41e" transform="rotate(38.6)"/><path d="M4.3,-2.9 Q9.2,-2.9 12.4,0 Q9.2,2.9 4.3,2.9 Z" fill="#fad41e" transform="rotate(64.3)"/><path d="M4.3,-2.9 Q9.2,-2.9 12.4,0 Q9.2,2.9 4.3,2.9 Z" fill="#fad41e" transform="rotate(90.0)"/><path d="M4.3,-2.9 Q9.2,-2.9 12.4,0 Q9.2,2.9 4.3,2.9 Z" fill="#fad41e" transform="rotate(115.7)"/><path d="M4.3,-2.9 Q9.2,-2.9 12.4,0 Q9.2,2.9 4.3,2.9 Z" fill="#fad41e" transform="rotate(141.4)"/><path d="M4.3,-2.9 Q9.2,-2.9 12.4,0 Q9.2,2.9 4.3,2.9 Z" fill="#fad41e" transform="rotate(167.1)"/><path d="M4.3,-2.9 Q9.2,-2.9 12.4,0 Q9.2,2.9 4.3,2.9 Z" fill="#fad41e" transform="rotate(192.9)"/><path d="M4.3,-2.9 Q9.2,-2.9 12.4,0 Q9.2,2.9 4.3,2.9 Z" fill="#fad41e" transform="rotate(218.6)"/><path d="M4.3,-2.9 Q9.2,-2.9 12.4,0 Q9.2,2.9 4.3,2.9 Z" fill="#fad41e" transform="rotate(244.3)"/><path d="M4.3,-2.9 Q9.2,-2.9 12.4,0 Q9.2,2.9 4.3,2.9 Z" fill="#fad41e" transform="rotate(270.0)"/><path d="M4.3,-2.9 Q9.2,-2.9 12.4,0 Q9.2,2.9 4.3,2.9 Z" fill="#fad41e" transform="rotate(295.7)"/><path d="M4.3,-2.9 Q9.2,-2.9 12.4,0 Q9.2,2.9 4.3,2.9 Z" fill="#fad41e" transform="rotate(321.4)"/><path d="M4.3,-2.9 Q9.2,-2.9 12.4,0 Q9.2,2.9 4.3,2.9 Z" fill="#fad41e" transform="rotate(347.1)"/><circle r="7.2" fill="#f5c814"/><ellipse rx="5.5" ry="5.7" fill="#3a2008"/></g>
<g transform="translate(359.0,1213.0) rotate(0) scale(1,1.000)"><path d="M4.8,-3.2 Q10.8,-3.2 14.7,0 Q10.8,3.2 4.8,3.2 Z" fill="#ecb808" transform="rotate(0.0)"/><path d="M4.8,-3.2 Q10.8,-3.2 14.7,0 Q10.8,3.2 4.8,3.2 Z" fill="#ecb808" transform="rotate(25.7)"/><path d="M4.8,-3.2 Q10.8,-3.2 14.7,0 Q10.8,3.2 4.8,3.2 Z" fill="#ecb808" transform="rotate(51.4)"/><path d="M4.8,-3.2 Q10.8,-3.2 14.7,0 Q10.8,3.2 4.8,3.2 Z" fill="#ecb808" transform="rotate(77.1)"/><path d="M4.8,-3.2 Q10.8,-3.2 14.7,0 Q10.8,3.2 4.8,3.2 Z" fill="#ecb808" transform="rotate(102.9)"/><path d="M4.8,-3.2 Q10.8,-3.2 14.7,0 Q10.8,3.2 4.8,3.2 Z" fill="#ecb808" transform="rotate(128.6)"/><path d="M4.8,-3.2 Q10.8,-3.2 14.7,0 Q10.8,3.2 4.8,3.2 Z" fill="#ecb808" transform="rotate(154.3)"/><path d="M4.8,-3.2 Q10.8,-3.2 14.7,0 Q10.8,3.2 4.8,3.2 Z" fill="#ecb808" transform="rotate(180.0)"/><path d="M4.8,-3.2 Q10.8,-3.2 14.7,0 Q10.8,3.2 4.8,3.2 Z" fill="#ecb808" transform="rotate(205.7)"/><path d="M4.8,-3.2 Q10.8,-3.2 14.7,0 Q10.8,3.2 4.8,3.2 Z" fill="#ecb808" transform="rotate(231.4)"/><path d="M4.8,-3.2 Q10.8,-3.2 14.7,0 Q10.8,3.2 4.8,3.2 Z" fill="#ecb808" transform="rotate(257.1)"/><path d="M4.8,-3.2 Q10.8,-3.2 14.7,0 Q10.8,3.2 4.8,3.2 Z" fill="#ecb808" transform="rotate(282.9)"/><path d="M4.8,-3.2 Q10.8,-3.2 14.7,0 Q10.8,3.2 4.8,3.2 Z" fill="#ecb808" transform="rotate(308.6)"/><path d="M4.8,-3.2 Q10.8,-3.2 14.7,0 Q10.8,3.2 4.8,3.2 Z" fill="#ecb808" transform="rotate(334.3)"/><path d="M4.8,-3.2 Q10.2,-3.2 13.7,0 Q10.2,3.2 4.8,3.2 Z" fill="#fad41e" transform="rotate(12.9)"/><path d="M4.8,-3.2 Q10.2,-3.2 13.7,0 Q10.2,3.2 4.8,3.2 Z" fill="#fad41e" transform="rotate(38.6)"/><path d="M4.8,-3.2 Q10.2,-3.2 13.7,0 Q10.2,3.2 4.8,3.2 Z" fill="#fad41e" transform="rotate(64.3)"/><path d="M4.8,-3.2 Q10.2,-3.2 13.7,0 Q10.2,3.2 4.8,3.2 Z" fill="#fad41e" transform="rotate(90.0)"/><path d="M4.8,-3.2 Q10.2,-3.2 13.7,0 Q10.2,3.2 4.8,3.2 Z" fill="#fad41e" transform="rotate(115.7)"/><path d="M4.8,-3.2 Q10.2,-3.2 13.7,0 Q10.2,3.2 4.8,3.2 Z" fill="#fad41e" transform="rotate(141.4)"/><path d="M4.8,-3.2 Q10.2,-3.2 13.7,0 Q10.2,3.2 4.8,3.2 Z" fill="#fad41e" transform="rotate(167.1)"/><path d="M4.8,-3.2 Q10.2,-3.2 13.7,0 Q10.2,3.2 4.8,3.2 Z" fill="#fad41e" transform="rotate(192.9)"/><path d="M4.8,-3.2 Q10.2,-3.2 13.7,0 Q10.2,3.2 4.8,3.2 Z" fill="#fad41e" transform="rotate(218.6)"/><path d="M4.8,-3.2 Q10.2,-3.2 13.7,0 Q10.2,3.2 4.8,3.2 Z" fill="#fad41e" transform="rotate(244.3)"/><path d="M4.8,-3.2 Q10.2,-3.2 13.7,0 Q10.2,3.2 4.8,3.2 Z" fill="#fad41e" transform="rotate(270.0)"/><path d="M4.8,-3.2 Q10.2,-3.2 13.7,0 Q10.2,3.2 4.8,3.2 Z" fill="#fad41e" transform="rotate(295.7)"/><path d="M4.8,-3.2 Q10.2,-3.2 13.7,0 Q10.2,3.2 4.8,3.2 Z" fill="#fad41e" transform="rotate(321.4)"/><path d="M4.8,-3.2 Q10.2,-3.2 13.7,0 Q10.2,3.2 4.8,3.2 Z" fill="#fad41e" transform="rotate(347.1)"/><circle r="8.0" fill="#f5c814"/><ellipse rx="6.5" ry="6.5" fill="#3a2008"/></g>
<g transform="translate(395.0,1224.6) rotate(0) scale(1,1.000)"><path d="M3.9,-2.6 Q8.7,-2.6 12.0,0 Q8.7,2.6 3.9,2.6 Z" fill="#ecb808" transform="rotate(0.0)"/><path d="M3.9,-2.6 Q8.7,-2.6 12.0,0 Q8.7,2.6 3.9,2.6 Z" fill="#ecb808" transform="rotate(25.7)"/><path d="M3.9,-2.6 Q8.7,-2.6 12.0,0 Q8.7,2.6 3.9,2.6 Z" fill="#ecb808" transform="rotate(51.4)"/><path d="M3.9,-2.6 Q8.7,-2.6 12.0,0 Q8.7,2.6 3.9,2.6 Z" fill="#ecb808" transform="rotate(77.1)"/><path d="M3.9,-2.6 Q8.7,-2.6 12.0,0 Q8.7,2.6 3.9,2.6 Z" fill="#ecb808" transform="rotate(102.9)"/><path d="M3.9,-2.6 Q8.7,-2.6 12.0,0 Q8.7,2.6 3.9,2.6 Z" fill="#ecb808" transform="rotate(128.6)"/><path d="M3.9,-2.6 Q8.7,-2.6 12.0,0 Q8.7,2.6 3.9,2.6 Z" fill="#ecb808" transform="rotate(154.3)"/><path d="M3.9,-2.6 Q8.7,-2.6 12.0,0 Q8.7,2.6 3.9,2.6 Z" fill="#ecb808" transform="rotate(180.0)"/><path d="M3.9,-2.6 Q8.7,-2.6 12.0,0 Q8.7,2.6 3.9,2.6 Z" fill="#ecb808" transform="rotate(205.7)"/><path d="M3.9,-2.6 Q8.7,-2.6 12.0,0 Q8.7,2.6 3.9,2.6 Z" fill="#ecb808" transform="rotate(231.4)"/><path d="M3.9,-2.6 Q8.7,-2.6 12.0,0 Q8.7,2.6 3.9,2.6 Z" fill="#ecb808" transform="rotate(257.1)"/><path d="M3.9,-2.6 Q8.7,-2.6 12.0,0 Q8.7,2.6 3.9,2.6 Z" fill="#ecb808" transform="rotate(282.9)"/><path d="M3.9,-2.6 Q8.7,-2.6 12.0,0 Q8.7,2.6 3.9,2.6 Z" fill="#ecb808" transform="rotate(308.6)"/><path d="M3.9,-2.6 Q8.7,-2.6 12.0,0 Q8.7,2.6 3.9,2.6 Z" fill="#ecb808" transform="rotate(334.3)"/><path d="M3.9,-2.6 Q8.3,-2.6 11.2,0 Q8.3,2.6 3.9,2.6 Z" fill="#fad41e" transform="rotate(12.9)"/><path d="M3.9,-2.6 Q8.3,-2.6 11.2,0 Q8.3,2.6 3.9,2.6 Z" fill="#fad41e" transform="rotate(38.6)"/><path d="M3.9,-2.6 Q8.3,-2.6 11.2,0 Q8.3,2.6 3.9,2.6 Z" fill="#fad41e" transform="rotate(64.3)"/><path d="M3.9,-2.6 Q8.3,-2.6 11.2,0 Q8.3,2.6 3.9,2.6 Z" fill="#fad41e" transform="rotate(90.0)"/><path d="M3.9,-2.6 Q8.3,-2.6 11.2,0 Q8.3,2.6 3.9,2.6 Z" fill="#fad41e" transform="rotate(115.7)"/><path d="M3.9,-2.6 Q8.3,-2.6 11.2,0 Q8.3,2.6 3.9,2.6 Z" fill="#fad41e" transform="rotate(141.4)"/><path d="M3.9,-2.6 Q8.3,-2.6 11.2,0 Q8.3,2.6 3.9,2.6 Z" fill="#fad41e" transform="rotate(167.1)"/><path d="M3.9,-2.6 Q8.3,-2.6 11.2,0 Q8.3,2.6 3.9,2.6 Z" fill="#fad41e" transform="rotate(192.9)"/><path d="M3.9,-2.6 Q8.3,-2.6 11.2,0 Q8.3,2.6 3.9,2.6 Z" fill="#fad41e" transform="rotate(218.6)"/><path d="M3.9,-2.6 Q8.3,-2.6 11.2,0 Q8.3,2.6 3.9,2.6 Z" fill="#fad41e" transform="rotate(244.3)"/><path d="M3.9,-2.6 Q8.3,-2.6 11.2,0 Q8.3,2.6 3.9,2.6 Z" fill="#fad41e" transform="rotate(270.0)"/><path d="M3.9,-2.6 Q8.3,-2.6 11.2,0 Q8.3,2.6 3.9,2.6 Z" fill="#fad41e" transform="rotate(295.7)"/><path d="M3.9,-2.6 Q8.3,-2.6 11.2,0 Q8.3,2.6 3.9,2.6 Z" fill="#fad41e" transform="rotate(321.4)"/><path d="M3.9,-2.6 Q8.3,-2.6 11.2,0 Q8.3,2.6 3.9,2.6 Z" fill="#fad41e" transform="rotate(347.1)"/><circle r="6.5" fill="#f5c814"/><ellipse rx="4.8" ry="4.8" fill="#3a2008"/></g>
</g>
<path d="M354,1262 L396,1262 Q396.1,1278.8 394.5,1295.5 L355.5,1295.5 Q353.9,1278.8 354,1262 Z" fill="url(#gpot)"/>
<rect x="354.5" y="1262" width="41" height="3" fill="#f3f3f3"/>
<path d="M354.5,1294.5 L395.5,1294.5 L393.5,1303.0 L356.5,1303.0 Z" fill="#e8e8e8" stroke="#d2d2d2" stroke-width="0.8"/>
<rect x="355" y="1260.5" width="40" height="2.5" fill="#3b2a18" opacity="0.8"/>
<g>
<g transform="translate(505.0,1229.0) rotate(195)"><path d="M-16.0,0 C-8.8,-10.6 7.2,-10.0 16.0,0 C7.2,10.0 -8.8,10.6 -16.0,0 Z" fill="#3b7d28" opacity="1"/></g>
<g transform="translate(518.0,1258.0) rotate(100)"><path d="M-19.0,0 C-10.5,-17.3 8.6,-16.2 19.0,0 C8.6,16.2 -10.5,17.3 -19.0,0 Z" fill="#2e6820" opacity="1"/></g>
<g transform="translate(581.0,1222.0) rotate(-10)"><path d="M-16.0,0 C-8.8,-7.3 7.2,-6.9 16.0,0 C7.2,6.9 -8.8,7.3 -16.0,0 Z" fill="#3b7d28" opacity="1"/></g>
<g transform="translate(570.0,1255.0) rotate(65)"><path d="M-19.0,0 C-10.5,-12.0 8.6,-11.2 19.0,0 C8.6,11.2 -10.5,12.0 -19.0,0 Z" fill="#3b7d28" opacity="1"/></g>
<g transform="translate(506.0,1203.0) rotate(190)"><path d="M-13.0,0 C-7.2,-7.3 5.9,-6.9 13.0,0 C5.9,6.9 -7.2,7.3 -13.0,0 Z" fill="#3b7d28" opacity="1"/></g>
<g transform="translate(540.0,1252.0) rotate(80)"><path d="M-16.0,0 C-8.8,-12.0 7.2,-11.2 16.0,0 C7.2,11.2 -8.8,12.0 -16.0,0 Z" fill="#5a9a3a" opacity="1"/></g>
<g transform="translate(530.0,1236.0) rotate(140)"><path d="M-14.0,0 C-7.7,-10.0 6.3,-9.4 14.0,0 C6.3,9.4 -7.7,10.0 -14.0,0 Z" fill="#2e6820" opacity="1"/></g>
<g transform="translate(558.0,1240.0) rotate(40)"><path d="M-14.0,0 C-7.7,-10.0 6.3,-9.4 14.0,0 C6.3,9.4 -7.7,10.0 -14.0,0 Z" fill="#2e6820" opacity="1"/></g>
<g transform="translate(548.0,1218.0) rotate(20)"><path d="M-11.0,0 C-6.1,-6.7 5.0,-6.2 11.0,0 C5.0,6.2 -6.1,6.7 -11.0,0 Z" fill="#3b7d28" opacity="1"/></g>
<g transform="translate(588.0,1238.0) rotate(15)"><path d="M-12.0,0 C-6.6,-6.0 5.4,-5.6 12.0,0 C5.4,5.6 -6.6,6.0 -12.0,0 Z" fill="#3b7d28" opacity="1"/></g>
<g transform="translate(513.0,1246.0) rotate(160)"><path d="M-13.0,0 C-7.2,-8.6 5.9,-8.1 13.0,0 C5.9,8.1 -7.2,8.6 -13.0,0 Z" fill="#3b7d28" opacity="1"/></g>
<g transform="translate(526.0,1266.0) rotate(115)"><path d="M-15.0,0 C-8.2,-12.0 6.8,-11.2 15.0,0 C6.8,11.2 -8.2,12.0 -15.0,0 Z" fill="#2e6820" opacity="1"/></g>
<g transform="translate(562.0,1268.0) rotate(55)"><path d="M-13.0,0 C-7.2,-8.0 5.9,-7.5 13.0,0 C5.9,7.5 -7.2,8.0 -13.0,0 Z" fill="#3b7d28" opacity="1"/></g>
<g transform="translate(542.0,1232.0) rotate(-60)"><path d="M-13.0,0 C-7.2,-9.3 5.9,-8.8 13.0,0 C5.9,8.8 -7.2,9.3 -13.0,0 Z" fill="#2e6820" opacity="1"/></g>
<g transform="translate(544.0,1206.0) rotate(-30)"><path d="M-9.0,0 C-5.0,-6.7 4.0,-6.2 9.0,0 C4.0,6.2 -5.0,6.7 -9.0,0 Z" fill="#3b7d28" opacity="1"/></g>
<g transform="translate(550.0,1258.0) rotate(60)"><path d="M-14.0,0 C-7.7,-9.3 6.3,-8.8 14.0,0 C6.3,8.8 -7.7,9.3 -14.0,0 Z" fill="#2e6820" opacity="1"/></g>
<g transform="translate(516.0,1222.0) rotate(170)"><path d="M-11.0,0 C-6.1,-8.0 5.0,-7.5 11.0,0 C5.0,7.5 -6.1,8.0 -11.0,0 Z" fill="#2e6820" opacity="1"/></g>
<g transform="translate(574.0,1212.0) rotate(-20)"><path d="M-10.0,0 C-5.5,-6.7 4.5,-6.2 10.0,0 C4.5,6.2 -5.5,6.7 -10.0,0 Z" fill="#3b7d28" opacity="1"/></g>
<g transform="translate(566.0,1244.0) rotate(20)"><path d="M-12.0,0 C-6.6,-8.0 5.4,-7.5 12.0,0 C5.4,7.5 -6.6,8.0 -12.0,0 Z" fill="#2e6820" opacity="1"/></g>
<g transform="translate(520.0,1238.0) rotate(120)"><path d="M-12.0,0 C-6.6,-9.3 5.4,-8.8 12.0,0 C5.4,8.8 -6.6,9.3 -12.0,0 Z" fill="#3b7d28" opacity="1"/></g>
<g transform="translate(500.0,1240.0) rotate(200)"><path d="M-11.0,0 C-6.1,-8.0 5.0,-7.5 11.0,0 C5.0,7.5 -6.1,8.0 -11.0,0 Z" fill="#2e6820" opacity="1"/></g>
<g transform="translate(578.0,1232.0) rotate(10)"><path d="M-10.0,0 C-5.5,-6.0 4.5,-5.6 10.0,0 C4.5,5.6 -5.5,6.0 -10.0,0 Z" fill="#2e6820" opacity="1"/></g>
<ellipse cx="547" cy="1219" rx="3" ry="3.5" fill="#2f7fe0"/>
<g transform="translate(543.0,1181.0) rotate(-5) scale(1,0.560)"><path d="M7.5,-5.0 Q16.8,-5.0 23.0,0 Q16.8,5.0 7.5,5.0 Z" fill="#ecb808" transform="rotate(0.0)"/><path d="M7.5,-5.0 Q16.8,-5.0 23.0,0 Q16.8,5.0 7.5,5.0 Z" fill="#ecb808" transform="rotate(25.7)"/><path d="M7.5,-5.0 Q16.8,-5.0 23.0,0 Q16.8,5.0 7.5,5.0 Z" fill="#ecb808" transform="rotate(51.4)"/><path d="M7.5,-5.0 Q16.8,-5.0 23.0,0 Q16.8,5.0 7.5,5.0 Z" fill="#ecb808" transform="rotate(77.1)"/><path d="M7.5,-5.0 Q16.8,-5.0 23.0,0 Q16.8,5.0 7.5,5.0 Z" fill="#ecb808" transform="rotate(102.9)"/><path d="M7.5,-5.0 Q16.8,-5.0 23.0,0 Q16.8,5.0 7.5,5.0 Z" fill="#ecb808" transform="rotate(128.6)"/><path d="M7.5,-5.0 Q16.8,-5.0 23.0,0 Q16.8,5.0 7.5,5.0 Z" fill="#ecb808" transform="rotate(154.3)"/><path d="M7.5,-5.0 Q16.8,-5.0 23.0,0 Q16.8,5.0 7.5,5.0 Z" fill="#ecb808" transform="rotate(180.0)"/><path d="M7.5,-5.0 Q16.8,-5.0 23.0,0 Q16.8,5.0 7.5,5.0 Z" fill="#ecb808" transform="rotate(205.7)"/><path d="M7.5,-5.0 Q16.8,-5.0 23.0,0 Q16.8,5.0 7.5,5.0 Z" fill="#ecb808" transform="rotate(231.4)"/><path d="M7.5,-5.0 Q16.8,-5.0 23.0,0 Q16.8,5.0 7.5,5.0 Z" fill="#ecb808" transform="rotate(257.1)"/><path d="M7.5,-5.0 Q16.8,-5.0 23.0,0 Q16.8,5.0 7.5,5.0 Z" fill="#ecb808" transform="rotate(282.9)"/><path d="M7.5,-5.0 Q16.8,-5.0 23.0,0 Q16.8,5.0 7.5,5.0 Z" fill="#ecb808" transform="rotate(308.6)"/><path d="M7.5,-5.0 Q16.8,-5.0 23.0,0 Q16.8,5.0 7.5,5.0 Z" fill="#ecb808" transform="rotate(334.3)"/><path d="M7.5,-5.0 Q15.9,-5.0 21.5,0 Q15.9,5.0 7.5,5.0 Z" fill="#fad41e" transform="rotate(12.9)"/><path d="M7.5,-5.0 Q15.9,-5.0 21.5,0 Q15.9,5.0 7.5,5.0 Z" fill="#fad41e" transform="rotate(38.6)"/><path d="M7.5,-5.0 Q15.9,-5.0 21.5,0 Q15.9,5.0 7.5,5.0 Z" fill="#fad41e" transform="rotate(64.3)"/><path d="M7.5,-5.0 Q15.9,-5.0 21.5,0 Q15.9,5.0 7.5,5.0 Z" fill="#fad41e" transform="rotate(90.0)"/><path d="M7.5,-5.0 Q15.9,-5.0 21.5,0 Q15.9,5.0 7.5,5.0 Z" fill="#fad41e" transform="rotate(115.7)"/><path d="M7.5,-5.0 Q15.9,-5.0 21.5,0 Q15.9,5.0 7.5,5.0 Z" fill="#fad41e" transform="rotate(141.4)"/><path d="M7.5,-5.0 Q15.9,-5.0 21.5,0 Q15.9,5.0 7.5,5.0 Z" fill="#fad41e" transform="rotate(167.1)"/><path d="M7.5,-5.0 Q15.9,-5.0 21.5,0 Q15.9,5.0 7.5,5.0 Z" fill="#fad41e" transform="rotate(192.9)"/><path d="M7.5,-5.0 Q15.9,-5.0 21.5,0 Q15.9,5.0 7.5,5.0 Z" fill="#fad41e" transform="rotate(218.6)"/><path d="M7.5,-5.0 Q15.9,-5.0 21.5,0 Q15.9,5.0 7.5,5.0 Z" fill="#fad41e" transform="rotate(244.3)"/><path d="M7.5,-5.0 Q15.9,-5.0 21.5,0 Q15.9,5.0 7.5,5.0 Z" fill="#fad41e" transform="rotate(270.0)"/><path d="M7.5,-5.0 Q15.9,-5.0 21.5,0 Q15.9,5.0 7.5,5.0 Z" fill="#fad41e" transform="rotate(295.7)"/><path d="M7.5,-5.0 Q15.9,-5.0 21.5,0 Q15.9,5.0 7.5,5.0 Z" fill="#fad41e" transform="rotate(321.4)"/><path d="M7.5,-5.0 Q15.9,-5.0 21.5,0 Q15.9,5.0 7.5,5.0 Z" fill="#fad41e" transform="rotate(347.1)"/><circle r="12.5" fill="#f5c814"/><ellipse rx="12.5" ry="10.7" fill="#3a2008"/></g>
<g transform="translate(553.0,1199.3) rotate(0) scale(1,0.966)"><path d="M4.3,-2.9 Q9.7,-2.9 13.3,0 Q9.7,2.9 4.3,2.9 Z" fill="#ecb808" transform="rotate(0.0)"/><path d="M4.3,-2.9 Q9.7,-2.9 13.3,0 Q9.7,2.9 4.3,2.9 Z" fill="#ecb808" transform="rotate(25.7)"/><path d="M4.3,-2.9 Q9.7,-2.9 13.3,0 Q9.7,2.9 4.3,2.9 Z" fill="#ecb808" transform="rotate(51.4)"/><path d="M4.3,-2.9 Q9.7,-2.9 13.3,0 Q9.7,2.9 4.3,2.9 Z" fill="#ecb808" transform="rotate(77.1)"/><path d="M4.3,-2.9 Q9.7,-2.9 13.3,0 Q9.7,2.9 4.3,2.9 Z" fill="#ecb808" transform="rotate(102.9)"/><path d="M4.3,-2.9 Q9.7,-2.9 13.3,0 Q9.7,2.9 4.3,2.9 Z" fill="#ecb808" transform="rotate(128.6)"/><path d="M4.3,-2.9 Q9.7,-2.9 13.3,0 Q9.7,2.9 4.3,2.9 Z" fill="#ecb808" transform="rotate(154.3)"/><path d="M4.3,-2.9 Q9.7,-2.9 13.3,0 Q9.7,2.9 4.3,2.9 Z" fill="#ecb808" transform="rotate(180.0)"/><path d="M4.3,-2.9 Q9.7,-2.9 13.3,0 Q9.7,2.9 4.3,2.9 Z" fill="#ecb808" transform="rotate(205.7)"/><path d="M4.3,-2.9 Q9.7,-2.9 13.3,0 Q9.7,2.9 4.3,2.9 Z" fill="#ecb808" transform="rotate(231.4)"/><path d="M4.3,-2.9 Q9.7,-2.9 13.3,0 Q9.7,2.9 4.3,2.9 Z" fill="#ecb808" transform="rotate(257.1)"/><path d="M4.3,-2.9 Q9.7,-2.9 13.3,0 Q9.7,2.9 4.3,2.9 Z" fill="#ecb808" transform="rotate(282.9)"/><path d="M4.3,-2.9 Q9.7,-2.9 13.3,0 Q9.7,2.9 4.3,2.9 Z" fill="#ecb808" transform="rotate(308.6)"/><path d="M4.3,-2.9 Q9.7,-2.9 13.3,0 Q9.7,2.9 4.3,2.9 Z" fill="#ecb808" transform="rotate(334.3)"/><path d="M4.3,-2.9 Q9.2,-2.9 12.4,0 Q9.2,2.9 4.3,2.9 Z" fill="#fad41e" transform="rotate(12.9)"/><path d="M4.3,-2.9 Q9.2,-2.9 12.4,0 Q9.2,2.9 4.3,2.9 Z" fill="#fad41e" transform="rotate(38.6)"/><path d="M4.3,-2.9 Q9.2,-2.9 12.4,0 Q9.2,2.9 4.3,2.9 Z" fill="#fad41e" transform="rotate(64.3)"/><path d="M4.3,-2.9 Q9.2,-2.9 12.4,0 Q9.2,2.9 4.3,2.9 Z" fill="#fad41e" transform="rotate(90.0)"/><path d="M4.3,-2.9 Q9.2,-2.9 12.4,0 Q9.2,2.9 4.3,2.9 Z" fill="#fad41e" transform="rotate(115.7)"/><path d="M4.3,-2.9 Q9.2,-2.9 12.4,0 Q9.2,2.9 4.3,2.9 Z" fill="#fad41e" transform="rotate(141.4)"/><path d="M4.3,-2.9 Q9.2,-2.9 12.4,0 Q9.2,2.9 4.3,2.9 Z" fill="#fad41e" transform="rotate(167.1)"/><path d="M4.3,-2.9 Q9.2,-2.9 12.4,0 Q9.2,2.9 4.3,2.9 Z" fill="#fad41e" transform="rotate(192.9)"/><path d="M4.3,-2.9 Q9.2,-2.9 12.4,0 Q9.2,2.9 4.3,2.9 Z" fill="#fad41e" transform="rotate(218.6)"/><path d="M4.3,-2.9 Q9.2,-2.9 12.4,0 Q9.2,2.9 4.3,2.9 Z" fill="#fad41e" transform="rotate(244.3)"/><path d="M4.3,-2.9 Q9.2,-2.9 12.4,0 Q9.2,2.9 4.3,2.9 Z" fill="#fad41e" transform="rotate(270.0)"/><path d="M4.3,-2.9 Q9.2,-2.9 12.4,0 Q9.2,2.9 4.3,2.9 Z" fill="#fad41e" transform="rotate(295.7)"/><path d="M4.3,-2.9 Q9.2,-2.9 12.4,0 Q9.2,2.9 4.3,2.9 Z" fill="#fad41e" transform="rotate(321.4)"/><path d="M4.3,-2.9 Q9.2,-2.9 12.4,0 Q9.2,2.9 4.3,2.9 Z" fill="#fad41e" transform="rotate(347.1)"/><circle r="7.2" fill="#f5c814"/><ellipse rx="5.5" ry="5.7" fill="#3a2008"/></g>
<g transform="translate(527.0,1213.0) rotate(0) scale(1,1.000)"><path d="M4.8,-3.2 Q10.8,-3.2 14.7,0 Q10.8,3.2 4.8,3.2 Z" fill="#ecb808" transform="rotate(0.0)"/><path d="M4.8,-3.2 Q10.8,-3.2 14.7,0 Q10.8,3.2 4.8,3.2 Z" fill="#ecb808" transform="rotate(25.7)"/><path d="M4.8,-3.2 Q10.8,-3.2 14.7,0 Q10.8,3.2 4.8,3.2 Z" fill="#ecb808" transform="rotate(51.4)"/><path d="M4.8,-3.2 Q10.8,-3.2 14.7,0 Q10.8,3.2 4.8,3.2 Z" fill="#ecb808" transform="rotate(77.1)"/><path d="M4.8,-3.2 Q10.8,-3.2 14.7,0 Q10.8,3.2 4.8,3.2 Z" fill="#ecb808" transform="rotate(102.9)"/><path d="M4.8,-3.2 Q10.8,-3.2 14.7,0 Q10.8,3.2 4.8,3.2 Z" fill="#ecb808" transform="rotate(128.6)"/><path d="M4.8,-3.2 Q10.8,-3.2 14.7,0 Q10.8,3.2 4.8,3.2 Z" fill="#ecb808" transform="rotate(154.3)"/><path d="M4.8,-3.2 Q10.8,-3.2 14.7,0 Q10.8,3.2 4.8,3.2 Z" fill="#ecb808" transform="rotate(180.0)"/><path d="M4.8,-3.2 Q10.8,-3.2 14.7,0 Q10.8,3.2 4.8,3.2 Z" fill="#ecb808" transform="rotate(205.7)"/><path d="M4.8,-3.2 Q10.8,-3.2 14.7,0 Q10.8,3.2 4.8,3.2 Z" fill="#ecb808" transform="rotate(231.4)"/><path d="M4.8,-3.2 Q10.8,-3.2 14.7,0 Q10.8,3.2 4.8,3.2 Z" fill="#ecb808" transform="rotate(257.1)"/><path d="M4.8,-3.2 Q10.8,-3.2 14.7,0 Q10.8,3.2 4.8,3.2 Z" fill="#ecb808" transform="rotate(282.9)"/><path d="M4.8,-3.2 Q10.8,-3.2 14.7,0 Q10.8,3.2 4.8,3.2 Z" fill="#ecb808" transform="rotate(308.6)"/><path d="M4.8,-3.2 Q10.8,-3.2 14.7,0 Q10.8,3.2 4.8,3.2 Z" fill="#ecb808" transform="rotate(334.3)"/><path d="M4.8,-3.2 Q10.2,-3.2 13.7,0 Q10.2,3.2 4.8,3.2 Z" fill="#fad41e" transform="rotate(12.9)"/><path d="M4.8,-3.2 Q10.2,-3.2 13.7,0 Q10.2,3.2 4.8,3.2 Z" fill="#fad41e" transform="rotate(38.6)"/><path d="M4.8,-3.2 Q10.2,-3.2 13.7,0 Q10.2,3.2 4.8,3.2 Z" fill="#fad41e" transform="rotate(64.3)"/><path d="M4.8,-3.2 Q10.2,-3.2 13.7,0 Q10.2,3.2 4.8,3.2 Z" fill="#fad41e" transform="rotate(90.0)"/><path d="M4.8,-3.2 Q10.2,-3.2 13.7,0 Q10.2,3.2 4.8,3.2 Z" fill="#fad41e" transform="rotate(115.7)"/><path d="M4.8,-3.2 Q10.2,-3.2 13.7,0 Q10.2,3.2 4.8,3.2 Z" fill="#fad41e" transform="rotate(141.4)"/><path d="M4.8,-3.2 Q10.2,-3.2 13.7,0 Q10.2,3.2 4.8,3.2 Z" fill="#fad41e" transform="rotate(167.1)"/><path d="M4.8,-3.2 Q10.2,-3.2 13.7,0 Q10.2,3.2 4.8,3.2 Z" fill="#fad41e" transform="rotate(192.9)"/><path d="M4.8,-3.2 Q10.2,-3.2 13.7,0 Q10.2,3.2 4.8,3.2 Z" fill="#fad41e" transform="rotate(218.6)"/><path d="M4.8,-3.2 Q10.2,-3.2 13.7,0 Q10.2,3.2 4.8,3.2 Z" fill="#fad41e" transform="rotate(244.3)"/><path d="M4.8,-3.2 Q10.2,-3.2 13.7,0 Q10.2,3.2 4.8,3.2 Z" fill="#fad41e" transform="rotate(270.0)"/><path d="M4.8,-3.2 Q10.2,-3.2 13.7,0 Q10.2,3.2 4.8,3.2 Z" fill="#fad41e" transform="rotate(295.7)"/><path d="M4.8,-3.2 Q10.2,-3.2 13.7,0 Q10.2,3.2 4.8,3.2 Z" fill="#fad41e" transform="rotate(321.4)"/><path d="M4.8,-3.2 Q10.2,-3.2 13.7,0 Q10.2,3.2 4.8,3.2 Z" fill="#fad41e" transform="rotate(347.1)"/><circle r="8.0" fill="#f5c814"/><ellipse rx="6.5" ry="6.5" fill="#3a2008"/></g>
<g transform="translate(563.0,1224.6) rotate(0) scale(1,1.000)"><path d="M3.9,-2.6 Q8.7,-2.6 12.0,0 Q8.7,2.6 3.9,2.6 Z" fill="#ecb808" transform="rotate(0.0)"/><path d="M3.9,-2.6 Q8.7,-2.6 12.0,0 Q8.7,2.6 3.9,2.6 Z" fill="#ecb808" transform="rotate(25.7)"/><path d="M3.9,-2.6 Q8.7,-2.6 12.0,0 Q8.7,2.6 3.9,2.6 Z" fill="#ecb808" transform="rotate(51.4)"/><path d="M3.9,-2.6 Q8.7,-2.6 12.0,0 Q8.7,2.6 3.9,2.6 Z" fill="#ecb808" transform="rotate(77.1)"/><path d="M3.9,-2.6 Q8.7,-2.6 12.0,0 Q8.7,2.6 3.9,2.6 Z" fill="#ecb808" transform="rotate(102.9)"/><path d="M3.9,-2.6 Q8.7,-2.6 12.0,0 Q8.7,2.6 3.9,2.6 Z" fill="#ecb808" transform="rotate(128.6)"/><path d="M3.9,-2.6 Q8.7,-2.6 12.0,0 Q8.7,2.6 3.9,2.6 Z" fill="#ecb808" transform="rotate(154.3)"/><path d="M3.9,-2.6 Q8.7,-2.6 12.0,0 Q8.7,2.6 3.9,2.6 Z" fill="#ecb808" transform="rotate(180.0)"/><path d="M3.9,-2.6 Q8.7,-2.6 12.0,0 Q8.7,2.6 3.9,2.6 Z" fill="#ecb808" transform="rotate(205.7)"/><path d="M3.9,-2.6 Q8.7,-2.6 12.0,0 Q8.7,2.6 3.9,2.6 Z" fill="#ecb808" transform="rotate(231.4)"/><path d="M3.9,-2.6 Q8.7,-2.6 12.0,0 Q8.7,2.6 3.9,2.6 Z" fill="#ecb808" transform="rotate(257.1)"/><path d="M3.9,-2.6 Q8.7,-2.6 12.0,0 Q8.7,2.6 3.9,2.6 Z" fill="#ecb808" transform="rotate(282.9)"/><path d="M3.9,-2.6 Q8.7,-2.6 12.0,0 Q8.7,2.6 3.9,2.6 Z" fill="#ecb808" transform="rotate(308.6)"/><path d="M3.9,-2.6 Q8.7,-2.6 12.0,0 Q8.7,2.6 3.9,2.6 Z" fill="#ecb808" transform="rotate(334.3)"/><path d="M3.9,-2.6 Q8.3,-2.6 11.2,0 Q8.3,2.6 3.9,2.6 Z" fill="#fad41e" transform="rotate(12.9)"/><path d="M3.9,-2.6 Q8.3,-2.6 11.2,0 Q8.3,2.6 3.9,2.6 Z" fill="#fad41e" transform="rotate(38.6)"/><path d="M3.9,-2.6 Q8.3,-2.6 11.2,0 Q8.3,2.6 3.9,2.6 Z" fill="#fad41e" transform="rotate(64.3)"/><path d="M3.9,-2.6 Q8.3,-2.6 11.2,0 Q8.3,2.6 3.9,2.6 Z" fill="#fad41e" transform="rotate(90.0)"/><path d="M3.9,-2.6 Q8.3,-2.6 11.2,0 Q8.3,2.6 3.9,2.6 Z" fill="#fad41e" transform="rotate(115.7)"/><path d="M3.9,-2.6 Q8.3,-2.6 11.2,0 Q8.3,2.6 3.9,2.6 Z" fill="#fad41e" transform="rotate(141.4)"/><path d="M3.9,-2.6 Q8.3,-2.6 11.2,0 Q8.3,2.6 3.9,2.6 Z" fill="#fad41e" transform="rotate(167.1)"/><path d="M3.9,-2.6 Q8.3,-2.6 11.2,0 Q8.3,2.6 3.9,2.6 Z" fill="#fad41e" transform="rotate(192.9)"/><path d="M3.9,-2.6 Q8.3,-2.6 11.2,0 Q8.3,2.6 3.9,2.6 Z" fill="#fad41e" transform="rotate(218.6)"/><path d="M3.9,-2.6 Q8.3,-2.6 11.2,0 Q8.3,2.6 3.9,2.6 Z" fill="#fad41e" transform="rotate(244.3)"/><path d="M3.9,-2.6 Q8.3,-2.6 11.2,0 Q8.3,2.6 3.9,2.6 Z" fill="#fad41e" transform="rotate(270.0)"/><path d="M3.9,-2.6 Q8.3,-2.6 11.2,0 Q8.3,2.6 3.9,2.6 Z" fill="#fad41e" transform="rotate(295.7)"/><path d="M3.9,-2.6 Q8.3,-2.6 11.2,0 Q8.3,2.6 3.9,2.6 Z" fill="#fad41e" transform="rotate(321.4)"/><path d="M3.9,-2.6 Q8.3,-2.6 11.2,0 Q8.3,2.6 3.9,2.6 Z" fill="#fad41e" transform="rotate(347.1)"/><circle r="6.5" fill="#f5c814"/><ellipse rx="4.8" ry="4.8" fill="#3a2008"/></g>
</g>
<path d="M522,1262 L564,1262 Q564.0,1278.8 562.5,1295.5 L523.5,1295.5 Q522.0,1278.8 522,1262 Z" fill="url(#gpot)"/>
<rect x="522.5" y="1262" width="41" height="3" fill="#f3f3f3"/>
<path d="M522.5,1294.5 L563.5,1294.5 L561.5,1303.0 L524.5,1303.0 Z" fill="#e8e8e8" stroke="#d2d2d2" stroke-width="0.8"/>
<rect x="523" y="1260.5" width="40" height="2.5" fill="#3b2a18" opacity="0.8"/>
<g>
<g transform="translate(673.0,1229.0) rotate(195)"><path d="M-16.0,0 C-8.8,-10.6 7.2,-10.0 16.0,0 C7.2,10.0 -8.8,10.6 -16.0,0 Z" fill="#3b7d28" opacity="1"/></g>
<g transform="translate(686.0,1258.0) rotate(100)"><path d="M-19.0,0 C-10.5,-17.3 8.6,-16.2 19.0,0 C8.6,16.2 -10.5,17.3 -19.0,0 Z" fill="#2e6820" opacity="1"/></g>
<g transform="translate(749.0,1222.0) rotate(-10)"><path d="M-16.0,0 C-8.8,-7.3 7.2,-6.9 16.0,0 C7.2,6.9 -8.8,7.3 -16.0,0 Z" fill="#3b7d28" opacity="1"/></g>
<g transform="translate(738.0,1255.0) rotate(65)"><path d="M-19.0,0 C-10.5,-12.0 8.6,-11.2 19.0,0 C8.6,11.2 -10.5,12.0 -19.0,0 Z" fill="#3b7d28" opacity="1"/></g>
<g transform="translate(674.0,1203.0) rotate(190)"><path d="M-13.0,0 C-7.2,-7.3 5.9,-6.9 13.0,0 C5.9,6.9 -7.2,7.3 -13.0,0 Z" fill="#3b7d28" opacity="1"/></g>
<g transform="translate(708.0,1252.0) rotate(80)"><path d="M-16.0,0 C-8.8,-12.0 7.2,-11.2 16.0,0 C7.2,11.2 -8.8,12.0 -16.0,0 Z" fill="#5a9a3a" opacity="1"/></g>
<g transform="translate(698.0,1236.0) rotate(140)"><path d="M-14.0,0 C-7.7,-10.0 6.3,-9.4 14.0,0 C6.3,9.4 -7.7,10.0 -14.0,0 Z" fill="#2e6820" opacity="1"/></g>
<g transform="translate(726.0,1240.0) rotate(40)"><path d="M-14.0,0 C-7.7,-10.0 6.3,-9.4 14.0,0 C6.3,9.4 -7.7,10.0 -14.0,0 Z" fill="#2e6820" opacity="1"/></g>
<g transform="translate(716.0,1218.0) rotate(20)"><path d="M-11.0,0 C-6.1,-6.7 5.0,-6.2 11.0,0 C5.0,6.2 -6.1,6.7 -11.0,0 Z" fill="#3b7d28" opacity="1"/></g>
<g transform="translate(756.0,1238.0) rotate(15)"><path d="M-12.0,0 C-6.6,-6.0 5.4,-5.6 12.0,0 C5.4,5.6 -6.6,6.0 -12.0,0 Z" fill="#3b7d28" opacity="1"/></g>
<g transform="translate(681.0,1246.0) rotate(160)"><path d="M-13.0,0 C-7.2,-8.6 5.9,-8.1 13.0,0 C5.9,8.1 -7.2,8.6 -13.0,0 Z" fill="#3b7d28" opacity="1"/></g>
<g transform="translate(694.0,1266.0) rotate(115)"><path d="M-15.0,0 C-8.2,-12.0 6.8,-11.2 15.0,0 C6.8,11.2 -8.2,12.0 -15.0,0 Z" fill="#2e6820" opacity="1"/></g>
<g transform="translate(730.0,1268.0) rotate(55)"><path d="M-13.0,0 C-7.2,-8.0 5.9,-7.5 13.0,0 C5.9,7.5 -7.2,8.0 -13.0,0 Z" fill="#3b7d28" opacity="1"/></g>
<g transform="translate(710.0,1232.0) rotate(-60)"><path d="M-13.0,0 C-7.2,-9.3 5.9,-8.8 13.0,0 C5.9,8.8 -7.2,9.3 -13.0,0 Z" fill="#2e6820" opacity="1"/></g>
<g transform="translate(712.0,1206.0) rotate(-30)"><path d="M-9.0,0 C-5.0,-6.7 4.0,-6.2 9.0,0 C4.0,6.2 -5.0,6.7 -9.0,0 Z" fill="#3b7d28" opacity="1"/></g>
<g transform="translate(718.0,1258.0) rotate(60)"><path d="M-14.0,0 C-7.7,-9.3 6.3,-8.8 14.0,0 C6.3,8.8 -7.7,9.3 -14.0,0 Z" fill="#2e6820" opacity="1"/></g>
<g transform="translate(684.0,1222.0) rotate(170)"><path d="M-11.0,0 C-6.1,-8.0 5.0,-7.5 11.0,0 C5.0,7.5 -6.1,8.0 -11.0,0 Z" fill="#2e6820" opacity="1"/></g>
<g transform="translate(742.0,1212.0) rotate(-20)"><path d="M-10.0,0 C-5.5,-6.7 4.5,-6.2 10.0,0 C4.5,6.2 -5.5,6.7 -10.0,0 Z" fill="#3b7d28" opacity="1"/></g>
<g transform="translate(734.0,1244.0) rotate(20)"><path d="M-12.0,0 C-6.6,-8.0 5.4,-7.5 12.0,0 C5.4,7.5 -6.6,8.0 -12.0,0 Z" fill="#2e6820" opacity="1"/></g>
<g transform="translate(688.0,1238.0) rotate(120)"><path d="M-12.0,0 C-6.6,-9.3 5.4,-8.8 12.0,0 C5.4,8.8 -6.6,9.3 -12.0,0 Z" fill="#3b7d28" opacity="1"/></g>
<g transform="translate(668.0,1240.0) rotate(200)"><path d="M-11.0,0 C-6.1,-8.0 5.0,-7.5 11.0,0 C5.0,7.5 -6.1,8.0 -11.0,0 Z" fill="#2e6820" opacity="1"/></g>
<g transform="translate(746.0,1232.0) rotate(10)"><path d="M-10.0,0 C-5.5,-6.0 4.5,-5.6 10.0,0 C4.5,5.6 -5.5,6.0 -10.0,0 Z" fill="#2e6820" opacity="1"/></g>
<ellipse cx="715" cy="1219" rx="3" ry="3.5" fill="#2f7fe0"/>
<g transform="translate(711.0,1181.0) rotate(-5) scale(1,0.560)"><path d="M7.5,-5.0 Q16.8,-5.0 23.0,0 Q16.8,5.0 7.5,5.0 Z" fill="#ecb808" transform="rotate(0.0)"/><path d="M7.5,-5.0 Q16.8,-5.0 23.0,0 Q16.8,5.0 7.5,5.0 Z" fill="#ecb808" transform="rotate(25.7)"/><path d="M7.5,-5.0 Q16.8,-5.0 23.0,0 Q16.8,5.0 7.5,5.0 Z" fill="#ecb808" transform="rotate(51.4)"/><path d="M7.5,-5.0 Q16.8,-5.0 23.0,0 Q16.8,5.0 7.5,5.0 Z" fill="#ecb808" transform="rotate(77.1)"/><path d="M7.5,-5.0 Q16.8,-5.0 23.0,0 Q16.8,5.0 7.5,5.0 Z" fill="#ecb808" transform="rotate(102.9)"/><path d="M7.5,-5.0 Q16.8,-5.0 23.0,0 Q16.8,5.0 7.5,5.0 Z" fill="#ecb808" transform="rotate(128.6)"/><path d="M7.5,-5.0 Q16.8,-5.0 23.0,0 Q16.8,5.0 7.5,5.0 Z" fill="#ecb808" transform="rotate(154.3)"/><path d="M7.5,-5.0 Q16.8,-5.0 23.0,0 Q16.8,5.0 7.5,5.0 Z" fill="#ecb808" transform="rotate(180.0)"/><path d="M7.5,-5.0 Q16.8,-5.0 23.0,0 Q16.8,5.0 7.5,5.0 Z" fill="#ecb808" transform="rotate(205.7)"/><path d="M7.5,-5.0 Q16.8,-5.0 23.0,0 Q16.8,5.0 7.5,5.0 Z" fill="#ecb808" transform="rotate(231.4)"/><path d="M7.5,-5.0 Q16.8,-5.0 23.0,0 Q16.8,5.0 7.5,5.0 Z" fill="#ecb808" transform="rotate(257.1)"/><path d="M7.5,-5.0 Q16.8,-5.0 23.0,0 Q16.8,5.0 7.5,5.0 Z" fill="#ecb808" transform="rotate(282.9)"/><path d="M7.5,-5.0 Q16.8,-5.0 23.0,0 Q16.8,5.0 7.5,5.0 Z" fill="#ecb808" transform="rotate(308.6)"/><path d="M7.5,-5.0 Q16.8,-5.0 23.0,0 Q16.8,5.0 7.5,5.0 Z" fill="#ecb808" transform="rotate(334.3)"/><path d="M7.5,-5.0 Q15.9,-5.0 21.5,0 Q15.9,5.0 7.5,5.0 Z" fill="#fad41e" transform="rotate(12.9)"/><path d="M7.5,-5.0 Q15.9,-5.0 21.5,0 Q15.9,5.0 7.5,5.0 Z" fill="#fad41e" transform="rotate(38.6)"/><path d="M7.5,-5.0 Q15.9,-5.0 21.5,0 Q15.9,5.0 7.5,5.0 Z" fill="#fad41e" transform="rotate(64.3)"/><path d="M7.5,-5.0 Q15.9,-5.0 21.5,0 Q15.9,5.0 7.5,5.0 Z" fill="#fad41e" transform="rotate(90.0)"/><path d="M7.5,-5.0 Q15.9,-5.0 21.5,0 Q15.9,5.0 7.5,5.0 Z" fill="#fad41e" transform="rotate(115.7)"/><path d="M7.5,-5.0 Q15.9,-5.0 21.5,0 Q15.9,5.0 7.5,5.0 Z" fill="#fad41e" transform="rotate(141.4)"/><path d="M7.5,-5.0 Q15.9,-5.0 21.5,0 Q15.9,5.0 7.5,5.0 Z" fill="#fad41e" transform="rotate(167.1)"/><path d="M7.5,-5.0 Q15.9,-5.0 21.5,0 Q15.9,5.0 7.5,5.0 Z" fill="#fad41e" transform="rotate(192.9)"/><path d="M7.5,-5.0 Q15.9,-5.0 21.5,0 Q15.9,5.0 7.5,5.0 Z" fill="#fad41e" transform="rotate(218.6)"/><path d="M7.5,-5.0 Q15.9,-5.0 21.5,0 Q15.9,5.0 7.5,5.0 Z" fill="#fad41e" transform="rotate(244.3)"/><path d="M7.5,-5.0 Q15.9,-5.0 21.5,0 Q15.9,5.0 7.5,5.0 Z" fill="#fad41e" transform="rotate(270.0)"/><path d="M7.5,-5.0 Q15.9,-5.0 21.5,0 Q15.9,5.0 7.5,5.0 Z" fill="#fad41e" transform="rotate(295.7)"/><path d="M7.5,-5.0 Q15.9,-5.0 21.5,0 Q15.9,5.0 7.5,5.0 Z" fill="#fad41e" transform="rotate(321.4)"/><path d="M7.5,-5.0 Q15.9,-5.0 21.5,0 Q15.9,5.0 7.5,5.0 Z" fill="#fad41e" transform="rotate(347.1)"/><circle r="12.5" fill="#f5c814"/><ellipse rx="12.5" ry="10.7" fill="#3a2008"/></g>
<g transform="translate(721.0,1199.3) rotate(0) scale(1,0.966)"><path d="M4.3,-2.9 Q9.7,-2.9 13.3,0 Q9.7,2.9 4.3,2.9 Z" fill="#ecb808" transform="rotate(0.0)"/><path d="M4.3,-2.9 Q9.7,-2.9 13.3,0 Q9.7,2.9 4.3,2.9 Z" fill="#ecb808" transform="rotate(25.7)"/><path d="M4.3,-2.9 Q9.7,-2.9 13.3,0 Q9.7,2.9 4.3,2.9 Z" fill="#ecb808" transform="rotate(51.4)"/><path d="M4.3,-2.9 Q9.7,-2.9 13.3,0 Q9.7,2.9 4.3,2.9 Z" fill="#ecb808" transform="rotate(77.1)"/><path d="M4.3,-2.9 Q9.7,-2.9 13.3,0 Q9.7,2.9 4.3,2.9 Z" fill="#ecb808" transform="rotate(102.9)"/><path d="M4.3,-2.9 Q9.7,-2.9 13.3,0 Q9.7,2.9 4.3,2.9 Z" fill="#ecb808" transform="rotate(128.6)"/><path d="M4.3,-2.9 Q9.7,-2.9 13.3,0 Q9.7,2.9 4.3,2.9 Z" fill="#ecb808" transform="rotate(154.3)"/><path d="M4.3,-2.9 Q9.7,-2.9 13.3,0 Q9.7,2.9 4.3,2.9 Z" fill="#ecb808" transform="rotate(180.0)"/><path d="M4.3,-2.9 Q9.7,-2.9 13.3,0 Q9.7,2.9 4.3,2.9 Z" fill="#ecb808" transform="rotate(205.7)"/><path d="M4.3,-2.9 Q9.7,-2.9 13.3,0 Q9.7,2.9 4.3,2.9 Z" fill="#ecb808" transform="rotate(231.4)"/><path d="M4.3,-2.9 Q9.7,-2.9 13.3,0 Q9.7,2.9 4.3,2.9 Z" fill="#ecb808" transform="rotate(257.1)"/><path d="M4.3,-2.9 Q9.7,-2.9 13.3,0 Q9.7,2.9 4.3,2.9 Z" fill="#ecb808" transform="rotate(282.9)"/><path d="M4.3,-2.9 Q9.7,-2.9 13.3,0 Q9.7,2.9 4.3,2.9 Z" fill="#ecb808" transform="rotate(308.6)"/><path d="M4.3,-2.9 Q9.7,-2.9 13.3,0 Q9.7,2.9 4.3,2.9 Z" fill="#ecb808" transform="rotate(334.3)"/><path d="M4.3,-2.9 Q9.2,-2.9 12.4,0 Q9.2,2.9 4.3,2.9 Z" fill="#fad41e" transform="rotate(12.9)"/><path d="M4.3,-2.9 Q9.2,-2.9 12.4,0 Q9.2,2.9 4.3,2.9 Z" fill="#fad41e" transform="rotate(38.6)"/><path d="M4.3,-2.9 Q9.2,-2.9 12.4,0 Q9.2,2.9 4.3,2.9 Z" fill="#fad41e" transform="rotate(64.3)"/><path d="M4.3,-2.9 Q9.2,-2.9 12.4,0 Q9.2,2.9 4.3,2.9 Z" fill="#fad41e" transform="rotate(90.0)"/><path d="M4.3,-2.9 Q9.2,-2.9 12.4,0 Q9.2,2.9 4.3,2.9 Z" fill="#fad41e" transform="rotate(115.7)"/><path d="M4.3,-2.9 Q9.2,-2.9 12.4,0 Q9.2,2.9 4.3,2.9 Z" fill="#fad41e" transform="rotate(141.4)"/><path d="M4.3,-2.9 Q9.2,-2.9 12.4,0 Q9.2,2.9 4.3,2.9 Z" fill="#fad41e" transform="rotate(167.1)"/><path d="M4.3,-2.9 Q9.2,-2.9 12.4,0 Q9.2,2.9 4.3,2.9 Z" fill="#fad41e" transform="rotate(192.9)"/><path d="M4.3,-2.9 Q9.2,-2.9 12.4,0 Q9.2,2.9 4.3,2.9 Z" fill="#fad41e" transform="rotate(218.6)"/><path d="M4.3,-2.9 Q9.2,-2.9 12.4,0 Q9.2,2.9 4.3,2.9 Z" fill="#fad41e" transform="rotate(244.3)"/><path d="M4.3,-2.9 Q9.2,-2.9 12.4,0 Q9.2,2.9 4.3,2.9 Z" fill="#fad41e" transform="rotate(270.0)"/><path d="M4.3,-2.9 Q9.2,-2.9 12.4,0 Q9.2,2.9 4.3,2.9 Z" fill="#fad41e" transform="rotate(295.7)"/><path d="M4.3,-2.9 Q9.2,-2.9 12.4,0 Q9.2,2.9 4.3,2.9 Z" fill="#fad41e" transform="rotate(321.4)"/><path d="M4.3,-2.9 Q9.2,-2.9 12.4,0 Q9.2,2.9 4.3,2.9 Z" fill="#fad41e" transform="rotate(347.1)"/><circle r="7.2" fill="#f5c814"/><ellipse rx="5.5" ry="5.7" fill="#3a2008"/></g>
<g transform="translate(695.0,1213.0) rotate(0) scale(1,1.000)"><path d="M4.8,-3.2 Q10.8,-3.2 14.7,0 Q10.8,3.2 4.8,3.2 Z" fill="#ecb808" transform="rotate(0.0)"/><path d="M4.8,-3.2 Q10.8,-3.2 14.7,0 Q10.8,3.2 4.8,3.2 Z" fill="#ecb808" transform="rotate(25.7)"/><path d="M4.8,-3.2 Q10.8,-3.2 14.7,0 Q10.8,3.2 4.8,3.2 Z" fill="#ecb808" transform="rotate(51.4)"/><path d="M4.8,-3.2 Q10.8,-3.2 14.7,0 Q10.8,3.2 4.8,3.2 Z" fill="#ecb808" transform="rotate(77.1)"/><path d="M4.8,-3.2 Q10.8,-3.2 14.7,0 Q10.8,3.2 4.8,3.2 Z" fill="#ecb808" transform="rotate(102.9)"/><path d="M4.8,-3.2 Q10.8,-3.2 14.7,0 Q10.8,3.2 4.8,3.2 Z" fill="#ecb808" transform="rotate(128.6)"/><path d="M4.8,-3.2 Q10.8,-3.2 14.7,0 Q10.8,3.2 4.8,3.2 Z" fill="#ecb808" transform="rotate(154.3)"/><path d="M4.8,-3.2 Q10.8,-3.2 14.7,0 Q10.8,3.2 4.8,3.2 Z" fill="#ecb808" transform="rotate(180.0)"/><path d="M4.8,-3.2 Q10.8,-3.2 14.7,0 Q10.8,3.2 4.8,3.2 Z" fill="#ecb808" transform="rotate(205.7)"/><path d="M4.8,-3.2 Q10.8,-3.2 14.7,0 Q10.8,3.2 4.8,3.2 Z" fill="#ecb808" transform="rotate(231.4)"/><path d="M4.8,-3.2 Q10.8,-3.2 14.7,0 Q10.8,3.2 4.8,3.2 Z" fill="#ecb808" transform="rotate(257.1)"/><path d="M4.8,-3.2 Q10.8,-3.2 14.7,0 Q10.8,3.2 4.8,3.2 Z" fill="#ecb808" transform="rotate(282.9)"/><path d="M4.8,-3.2 Q10.8,-3.2 14.7,0 Q10.8,3.2 4.8,3.2 Z" fill="#ecb808" transform="rotate(308.6)"/><path d="M4.8,-3.2 Q10.8,-3.2 14.7,0 Q10.8,3.2 4.8,3.2 Z" fill="#ecb808" transform="rotate(334.3)"/><path d="M4.8,-3.2 Q10.2,-3.2 13.7,0 Q10.2,3.2 4.8,3.2 Z" fill="#fad41e" transform="rotate(12.9)"/><path d="M4.8,-3.2 Q10.2,-3.2 13.7,0 Q10.2,3.2 4.8,3.2 Z" fill="#fad41e" transform="rotate(38.6)"/><path d="M4.8,-3.2 Q10.2,-3.2 13.7,0 Q10.2,3.2 4.8,3.2 Z" fill="#fad41e" transform="rotate(64.3)"/><path d="M4.8,-3.2 Q10.2,-3.2 13.7,0 Q10.2,3.2 4.8,3.2 Z" fill="#fad41e" transform="rotate(90.0)"/><path d="M4.8,-3.2 Q10.2,-3.2 13.7,0 Q10.2,3.2 4.8,3.2 Z" fill="#fad41e" transform="rotate(115.7)"/><path d="M4.8,-3.2 Q10.2,-3.2 13.7,0 Q10.2,3.2 4.8,3.2 Z" fill="#fad41e" transform="rotate(141.4)"/><path d="M4.8,-3.2 Q10.2,-3.2 13.7,0 Q10.2,3.2 4.8,3.2 Z" fill="#fad41e" transform="rotate(167.1)"/><path d="M4.8,-3.2 Q10.2,-3.2 13.7,0 Q10.2,3.2 4.8,3.2 Z" fill="#fad41e" transform="rotate(192.9)"/><path d="M4.8,-3.2 Q10.2,-3.2 13.7,0 Q10.2,3.2 4.8,3.2 Z" fill="#fad41e" transform="rotate(218.6)"/><path d="M4.8,-3.2 Q10.2,-3.2 13.7,0 Q10.2,3.2 4.8,3.2 Z" fill="#fad41e" transform="rotate(244.3)"/><path d="M4.8,-3.2 Q10.2,-3.2 13.7,0 Q10.2,3.2 4.8,3.2 Z" fill="#fad41e" transform="rotate(270.0)"/><path d="M4.8,-3.2 Q10.2,-3.2 13.7,0 Q10.2,3.2 4.8,3.2 Z" fill="#fad41e" transform="rotate(295.7)"/><path d="M4.8,-3.2 Q10.2,-3.2 13.7,0 Q10.2,3.2 4.8,3.2 Z" fill="#fad41e" transform="rotate(321.4)"/><path d="M4.8,-3.2 Q10.2,-3.2 13.7,0 Q10.2,3.2 4.8,3.2 Z" fill="#fad41e" transform="rotate(347.1)"/><circle r="8.0" fill="#f5c814"/><ellipse rx="6.5" ry="6.5" fill="#3a2008"/></g>
<g transform="translate(731.0,1224.6) rotate(0) scale(1,1.000)"><path d="M3.9,-2.6 Q8.7,-2.6 12.0,0 Q8.7,2.6 3.9,2.6 Z" fill="#ecb808" transform="rotate(0.0)"/><path d="M3.9,-2.6 Q8.7,-2.6 12.0,0 Q8.7,2.6 3.9,2.6 Z" fill="#ecb808" transform="rotate(25.7)"/><path d="M3.9,-2.6 Q8.7,-2.6 12.0,0 Q8.7,2.6 3.9,2.6 Z" fill="#ecb808" transform="rotate(51.4)"/><path d="M3.9,-2.6 Q8.7,-2.6 12.0,0 Q8.7,2.6 3.9,2.6 Z" fill="#ecb808" transform="rotate(77.1)"/><path d="M3.9,-2.6 Q8.7,-2.6 12.0,0 Q8.7,2.6 3.9,2.6 Z" fill="#ecb808" transform="rotate(102.9)"/><path d="M3.9,-2.6 Q8.7,-2.6 12.0,0 Q8.7,2.6 3.9,2.6 Z" fill="#ecb808" transform="rotate(128.6)"/><path d="M3.9,-2.6 Q8.7,-2.6 12.0,0 Q8.7,2.6 3.9,2.6 Z" fill="#ecb808" transform="rotate(154.3)"/><path d="M3.9,-2.6 Q8.7,-2.6 12.0,0 Q8.7,2.6 3.9,2.6 Z" fill="#ecb808" transform="rotate(180.0)"/><path d="M3.9,-2.6 Q8.7,-2.6 12.0,0 Q8.7,2.6 3.9,2.6 Z" fill="#ecb808" transform="rotate(205.7)"/><path d="M3.9,-2.6 Q8.7,-2.6 12.0,0 Q8.7,2.6 3.9,2.6 Z" fill="#ecb808" transform="rotate(231.4)"/><path d="M3.9,-2.6 Q8.7,-2.6 12.0,0 Q8.7,2.6 3.9,2.6 Z" fill="#ecb808" transform="rotate(257.1)"/><path d="M3.9,-2.6 Q8.7,-2.6 12.0,0 Q8.7,2.6 3.9,2.6 Z" fill="#ecb808" transform="rotate(282.9)"/><path d="M3.9,-2.6 Q8.7,-2.6 12.0,0 Q8.7,2.6 3.9,2.6 Z" fill="#ecb808" transform="rotate(308.6)"/><path d="M3.9,-2.6 Q8.7,-2.6 12.0,0 Q8.7,2.6 3.9,2.6 Z" fill="#ecb808" transform="rotate(334.3)"/><path d="M3.9,-2.6 Q8.3,-2.6 11.2,0 Q8.3,2.6 3.9,2.6 Z" fill="#fad41e" transform="rotate(12.9)"/><path d="M3.9,-2.6 Q8.3,-2.6 11.2,0 Q8.3,2.6 3.9,2.6 Z" fill="#fad41e" transform="rotate(38.6)"/><path d="M3.9,-2.6 Q8.3,-2.6 11.2,0 Q8.3,2.6 3.9,2.6 Z" fill="#fad41e" transform="rotate(64.3)"/><path d="M3.9,-2.6 Q8.3,-2.6 11.2,0 Q8.3,2.6 3.9,2.6 Z" fill="#fad41e" transform="rotate(90.0)"/><path d="M3.9,-2.6 Q8.3,-2.6 11.2,0 Q8.3,2.6 3.9,2.6 Z" fill="#fad41e" transform="rotate(115.7)"/><path d="M3.9,-2.6 Q8.3,-2.6 11.2,0 Q8.3,2.6 3.9,2.6 Z" fill="#fad41e" transform="rotate(141.4)"/><path d="M3.9,-2.6 Q8.3,-2.6 11.2,0 Q8.3,2.6 3.9,2.6 Z" fill="#fad41e" transform="rotate(167.1)"/><path d="M3.9,-2.6 Q8.3,-2.6 11.2,0 Q8.3,2.6 3.9,2.6 Z" fill="#fad41e" transform="rotate(192.9)"/><path d="M3.9,-2.6 Q8.3,-2.6 11.2,0 Q8.3,2.6 3.9,2.6 Z" fill="#fad41e" transform="rotate(218.6)"/><path d="M3.9,-2.6 Q8.3,-2.6 11.2,0 Q8.3,2.6 3.9,2.6 Z" fill="#fad41e" transform="rotate(244.3)"/><path d="M3.9,-2.6 Q8.3,-2.6 11.2,0 Q8.3,2.6 3.9,2.6 Z" fill="#fad41e" transform="rotate(270.0)"/><path d="M3.9,-2.6 Q8.3,-2.6 11.2,0 Q8.3,2.6 3.9,2.6 Z" fill="#fad41e" transform="rotate(295.7)"/><path d="M3.9,-2.6 Q8.3,-2.6 11.2,0 Q8.3,2.6 3.9,2.6 Z" fill="#fad41e" transform="rotate(321.4)"/><path d="M3.9,-2.6 Q8.3,-2.6 11.2,0 Q8.3,2.6 3.9,2.6 Z" fill="#fad41e" transform="rotate(347.1)"/><circle r="6.5" fill="#f5c814"/><ellipse rx="4.8" ry="4.8" fill="#3a2008"/></g>
</g>
<path d="M690,1262 L732,1262 Q732.0,1278.8 730.5,1295.5 L691.5,1295.5 Q690.0,1278.8 690,1262 Z" fill="url(#gpot)"/>
<rect x="690.5" y="1262" width="41" height="3" fill="#f3f3f3"/>
<path d="M690.5,1294.5 L731.5,1294.5 L729.5,1303.0 L692.5,1303.0 Z" fill="#e8e8e8" stroke="#d2d2d2" stroke-width="0.8"/>
<rect x="691" y="1260.5" width="40" height="2.5" fill="#3b2a18" opacity="0.8"/>
<g>
<g transform="translate(841.0,1229.0) rotate(195)"><path d="M-16.0,0 C-8.8,-10.6 7.2,-10.0 16.0,0 C7.2,10.0 -8.8,10.6 -16.0,0 Z" fill="#3b7d28" opacity="1"/></g>
<g transform="translate(854.0,1258.0) rotate(100)"><path d="M-19.0,0 C-10.5,-17.3 8.6,-16.2 19.0,0 C8.6,16.2 -10.5,17.3 -19.0,0 Z" fill="#2e6820" opacity="1"/></g>
<g transform="translate(917.0,1222.0) rotate(-10)"><path d="M-16.0,0 C-8.8,-7.3 7.2,-6.9 16.0,0 C7.2,6.9 -8.8,7.3 -16.0,0 Z" fill="#3b7d28" opacity="1"/></g>
<g transform="translate(906.0,1255.0) rotate(65)"><path d="M-19.0,0 C-10.5,-12.0 8.6,-11.2 19.0,0 C8.6,11.2 -10.5,12.0 -19.0,0 Z" fill="#3b7d28" opacity="1"/></g>
<g transform="translate(842.0,1203.0) rotate(190)"><path d="M-13.0,0 C-7.2,-7.3 5.9,-6.9 13.0,0 C5.9,6.9 -7.2,7.3 -13.0,0 Z" fill="#3b7d28" opacity="1"/></g>
<g transform="translate(876.0,1252.0) rotate(80)"><path d="M-16.0,0 C-8.8,-12.0 7.2,-11.2 16.0,0 C7.2,11.2 -8.8,12.0 -16.0,0 Z" fill="#5a9a3a" opacity="1"/></g>
<g transform="translate(866.0,1236.0) rotate(140)"><path d="M-14.0,0 C-7.7,-10.0 6.3,-9.4 14.0,0 C6.3,9.4 -7.7,10.0 -14.0,0 Z" fill="#2e6820" opacity="1"/></g>
<g transform="translate(894.0,1240.0) rotate(40)"><path d="M-14.0,0 C-7.7,-10.0 6.3,-9.4 14.0,0 C6.3,9.4 -7.7,10.0 -14.0,0 Z" fill="#2e6820" opacity="1"/></g>
<g transform="translate(884.0,1218.0) rotate(20)"><path d="M-11.0,0 C-6.1,-6.7 5.0,-6.2 11.0,0 C5.0,6.2 -6.1,6.7 -11.0,0 Z" fill="#3b7d28" opacity="1"/></g>
<g transform="translate(924.0,1238.0) rotate(15)"><path d="M-12.0,0 C-6.6,-6.0 5.4,-5.6 12.0,0 C5.4,5.6 -6.6,6.0 -12.0,0 Z" fill="#3b7d28" opacity="1"/></g>
<g transform="translate(849.0,1246.0) rotate(160)"><path d="M-13.0,0 C-7.2,-8.6 5.9,-8.1 13.0,0 C5.9,8.1 -7.2,8.6 -13.0,0 Z" fill="#3b7d28" opacity="1"/></g>
<g transform="translate(862.0,1266.0) rotate(115)"><path d="M-15.0,0 C-8.2,-12.0 6.8,-11.2 15.0,0 C6.8,11.2 -8.2,12.0 -15.0,0 Z" fill="#2e6820" opacity="1"/></g>
<g transform="translate(898.0,1268.0) rotate(55)"><path d="M-13.0,0 C-7.2,-8.0 5.9,-7.5 13.0,0 C5.9,7.5 -7.2,8.0 -13.0,0 Z" fill="#3b7d28" opacity="1"/></g>
<g transform="translate(878.0,1232.0) rotate(-60)"><path d="M-13.0,0 C-7.2,-9.3 5.9,-8.8 13.0,0 C5.9,8.8 -7.2,9.3 -13.0,0 Z" fill="#2e6820" opacity="1"/></g>
<g transform="translate(880.0,1206.0) rotate(-30)"><path d="M-9.0,0 C-5.0,-6.7 4.0,-6.2 9.0,0 C4.0,6.2 -5.0,6.7 -9.0,0 Z" fill="#3b7d28" opacity="1"/></g>
<g transform="translate(886.0,1258.0) rotate(60)"><path d="M-14.0,0 C-7.7,-9.3 6.3,-8.8 14.0,0 C6.3,8.8 -7.7,9.3 -14.0,0 Z" fill="#2e6820" opacity="1"/></g>
<g transform="translate(852.0,1222.0) rotate(170)"><path d="M-11.0,0 C-6.1,-8.0 5.0,-7.5 11.0,0 C5.0,7.5 -6.1,8.0 -11.0,0 Z" fill="#2e6820" opacity="1"/></g>
<g transform="translate(910.0,1212.0) rotate(-20)"><path d="M-10.0,0 C-5.5,-6.7 4.5,-6.2 10.0,0 C4.5,6.2 -5.5,6.7 -10.0,0 Z" fill="#3b7d28" opacity="1"/></g>
<g transform="translate(902.0,1244.0) rotate(20)"><path d="M-12.0,0 C-6.6,-8.0 5.4,-7.5 12.0,0 C5.4,7.5 -6.6,8.0 -12.0,0 Z" fill="#2e6820" opacity="1"/></g>
<g transform="translate(856.0,1238.0) rotate(120)"><path d="M-12.0,0 C-6.6,-9.3 5.4,-8.8 12.0,0 C5.4,8.8 -6.6,9.3 -12.0,0 Z" fill="#3b7d28" opacity="1"/></g>
<g transform="translate(836.0,1240.0) rotate(200)"><path d="M-11.0,0 C-6.1,-8.0 5.0,-7.5 11.0,0 C5.0,7.5 -6.1,8.0 -11.0,0 Z" fill="#2e6820" opacity="1"/></g>
<g transform="translate(914.0,1232.0) rotate(10)"><path d="M-10.0,0 C-5.5,-6.0 4.5,-5.6 10.0,0 C4.5,5.6 -5.5,6.0 -10.0,0 Z" fill="#2e6820" opacity="1"/></g>
<ellipse cx="883" cy="1219" rx="3" ry="3.5" fill="#2f7fe0"/>
<g transform="translate(879.0,1181.0) rotate(-5) scale(1,0.560)"><path d="M7.5,-5.0 Q16.8,-5.0 23.0,0 Q16.8,5.0 7.5,5.0 Z" fill="#ecb808" transform="rotate(0.0)"/><path d="M7.5,-5.0 Q16.8,-5.0 23.0,0 Q16.8,5.0 7.5,5.0 Z" fill="#ecb808" transform="rotate(25.7)"/><path d="M7.5,-5.0 Q16.8,-5.0 23.0,0 Q16.8,5.0 7.5,5.0 Z" fill="#ecb808" transform="rotate(51.4)"/><path d="M7.5,-5.0 Q16.8,-5.0 23.0,0 Q16.8,5.0 7.5,5.0 Z" fill="#ecb808" transform="rotate(77.1)"/><path d="M7.5,-5.0 Q16.8,-5.0 23.0,0 Q16.8,5.0 7.5,5.0 Z" fill="#ecb808" transform="rotate(102.9)"/><path d="M7.5,-5.0 Q16.8,-5.0 23.0,0 Q16.8,5.0 7.5,5.0 Z" fill="#ecb808" transform="rotate(128.6)"/><path d="M7.5,-5.0 Q16.8,-5.0 23.0,0 Q16.8,5.0 7.5,5.0 Z" fill="#ecb808" transform="rotate(154.3)"/><path d="M7.5,-5.0 Q16.8,-5.0 23.0,0 Q16.8,5.0 7.5,5.0 Z" fill="#ecb808" transform="rotate(180.0)"/><path d="M7.5,-5.0 Q16.8,-5.0 23.0,0 Q16.8,5.0 7.5,5.0 Z" fill="#ecb808" transform="rotate(205.7)"/><path d="M7.5,-5.0 Q16.8,-5.0 23.0,0 Q16.8,5.0 7.5,5.0 Z" fill="#ecb808" transform="rotate(231.4)"/><path d="M7.5,-5.0 Q16.8,-5.0 23.0,0 Q16.8,5.0 7.5,5.0 Z" fill="#ecb808" transform="rotate(257.1)"/><path d="M7.5,-5.0 Q16.8,-5.0 23.0,0 Q16.8,5.0 7.5,5.0 Z" fill="#ecb808" transform="rotate(282.9)"/><path d="M7.5,-5.0 Q16.8,-5.0 23.0,0 Q16.8,5.0 7.5,5.0 Z" fill="#ecb808" transform="rotate(308.6)"/><path d="M7.5,-5.0 Q16.8,-5.0 23.0,0 Q16.8,5.0 7.5,5.0 Z" fill="#ecb808" transform="rotate(334.3)"/><path d="M7.5,-5.0 Q15.9,-5.0 21.5,0 Q15.9,5.0 7.5,5.0 Z" fill="#fad41e" transform="rotate(12.9)"/><path d="M7.5,-5.0 Q15.9,-5.0 21.5,0 Q15.9,5.0 7.5,5.0 Z" fill="#fad41e" transform="rotate(38.6)"/><path d="M7.5,-5.0 Q15.9,-5.0 21.5,0 Q15.9,5.0 7.5,5.0 Z" fill="#fad41e" transform="rotate(64.3)"/><path d="M7.5,-5.0 Q15.9,-5.0 21.5,0 Q15.9,5.0 7.5,5.0 Z" fill="#fad41e" transform="rotate(90.0)"/><path d="M7.5,-5.0 Q15.9,-5.0 21.5,0 Q15.9,5.0 7.5,5.0 Z" fill="#fad41e" transform="rotate(115.7)"/><path d="M7.5,-5.0 Q15.9,-5.0 21.5,0 Q15.9,5.0 7.5,5.0 Z" fill="#fad41e" transform="rotate(141.4)"/><path d="M7.5,-5.0 Q15.9,-5.0 21.5,0 Q15.9,5.0 7.5,5.0 Z" fill="#fad41e" transform="rotate(167.1)"/><path d="M7.5,-5.0 Q15.9,-5.0 21.5,0 Q15.9,5.0 7.5,5.0 Z" fill="#fad41e" transform="rotate(192.9)"/><path d="M7.5,-5.0 Q15.9,-5.0 21.5,0 Q15.9,5.0 7.5,5.0 Z" fill="#fad41e" transform="rotate(218.6)"/><path d="M7.5,-5.0 Q15.9,-5.0 21.5,0 Q15.9,5.0 7.5,5.0 Z" fill="#fad41e" transform="rotate(244.3)"/><path d="M7.5,-5.0 Q15.9,-5.0 21.5,0 Q15.9,5.0 7.5,5.0 Z" fill="#fad41e" transform="rotate(270.0)"/><path d="M7.5,-5.0 Q15.9,-5.0 21.5,0 Q15.9,5.0 7.5,5.0 Z" fill="#fad41e" transform="rotate(295.7)"/><path d="M7.5,-5.0 Q15.9,-5.0 21.5,0 Q15.9,5.0 7.5,5.0 Z" fill="#fad41e" transform="rotate(321.4)"/><path d="M7.5,-5.0 Q15.9,-5.0 21.5,0 Q15.9,5.0 7.5,5.0 Z" fill="#fad41e" transform="rotate(347.1)"/><circle r="12.5" fill="#f5c814"/><ellipse rx="12.5" ry="10.7" fill="#3a2008"/></g>
<g transform="translate(889.0,1199.3) rotate(0) scale(1,0.966)"><path d="M4.3,-2.9 Q9.7,-2.9 13.3,0 Q9.7,2.9 4.3,2.9 Z" fill="#ecb808" transform="rotate(0.0)"/><path d="M4.3,-2.9 Q9.7,-2.9 13.3,0 Q9.7,2.9 4.3,2.9 Z" fill="#ecb808" transform="rotate(25.7)"/><path d="M4.3,-2.9 Q9.7,-2.9 13.3,0 Q9.7,2.9 4.3,2.9 Z" fill="#ecb808" transform="rotate(51.4)"/><path d="M4.3,-2.9 Q9.7,-2.9 13.3,0 Q9.7,2.9 4.3,2.9 Z" fill="#ecb808" transform="rotate(77.1)"/><path d="M4.3,-2.9 Q9.7,-2.9 13.3,0 Q9.7,2.9 4.3,2.9 Z" fill="#ecb808" transform="rotate(102.9)"/><path d="M4.3,-2.9 Q9.7,-2.9 13.3,0 Q9.7,2.9 4.3,2.9 Z" fill="#ecb808" transform="rotate(128.6)"/><path d="M4.3,-2.9 Q9.7,-2.9 13.3,0 Q9.7,2.9 4.3,2.9 Z" fill="#ecb808" transform="rotate(154.3)"/><path d="M4.3,-2.9 Q9.7,-2.9 13.3,0 Q9.7,2.9 4.3,2.9 Z" fill="#ecb808" transform="rotate(180.0)"/><path d="M4.3,-2.9 Q9.7,-2.9 13.3,0 Q9.7,2.9 4.3,2.9 Z" fill="#ecb808" transform="rotate(205.7)"/><path d="M4.3,-2.9 Q9.7,-2.9 13.3,0 Q9.7,2.9 4.3,2.9 Z" fill="#ecb808" transform="rotate(231.4)"/><path d="M4.3,-2.9 Q9.7,-2.9 13.3,0 Q9.7,2.9 4.3,2.9 Z" fill="#ecb808" transform="rotate(257.1)"/><path d="M4.3,-2.9 Q9.7,-2.9 13.3,0 Q9.7,2.9 4.3,2.9 Z" fill="#ecb808" transform="rotate(282.9)"/><path d="M4.3,-2.9 Q9.7,-2.9 13.3,0 Q9.7,2.9 4.3,2.9 Z" fill="#ecb808" transform="rotate(308.6)"/><path d="M4.3,-2.9 Q9.7,-2.9 13.3,0 Q9.7,2.9 4.3,2.9 Z" fill="#ecb808" transform="rotate(334.3)"/><path d="M4.3,-2.9 Q9.2,-2.9 12.4,0 Q9.2,2.9 4.3,2.9 Z" fill="#fad41e" transform="rotate(12.9)"/><path d="M4.3,-2.9 Q9.2,-2.9 12.4,0 Q9.2,2.9 4.3,2.9 Z" fill="#fad41e" transform="rotate(38.6)"/><path d="M4.3,-2.9 Q9.2,-2.9 12.4,0 Q9.2,2.9 4.3,2.9 Z" fill="#fad41e" transform="rotate(64.3)"/><path d="M4.3,-2.9 Q9.2,-2.9 12.4,0 Q9.2,2.9 4.3,2.9 Z" fill="#fad41e" transform="rotate(90.0)"/><path d="M4.3,-2.9 Q9.2,-2.9 12.4,0 Q9.2,2.9 4.3,2.9 Z" fill="#fad41e" transform="rotate(115.7)"/><path d="M4.3,-2.9 Q9.2,-2.9 12.4,0 Q9.2,2.9 4.3,2.9 Z" fill="#fad41e" transform="rotate(141.4)"/><path d="M4.3,-2.9 Q9.2,-2.9 12.4,0 Q9.2,2.9 4.3,2.9 Z" fill="#fad41e" transform="rotate(167.1)"/><path d="M4.3,-2.9 Q9.2,-2.9 12.4,0 Q9.2,2.9 4.3,2.9 Z" fill="#fad41e" transform="rotate(192.9)"/><path d="M4.3,-2.9 Q9.2,-2.9 12.4,0 Q9.2,2.9 4.3,2.9 Z" fill="#fad41e" transform="rotate(218.6)"/><path d="M4.3,-2.9 Q9.2,-2.9 12.4,0 Q9.2,2.9 4.3,2.9 Z" fill="#fad41e" transform="rotate(244.3)"/><path d="M4.3,-2.9 Q9.2,-2.9 12.4,0 Q9.2,2.9 4.3,2.9 Z" fill="#fad41e" transform="rotate(270.0)"/><path d="M4.3,-2.9 Q9.2,-2.9 12.4,0 Q9.2,2.9 4.3,2.9 Z" fill="#fad41e" transform="rotate(295.7)"/><path d="M4.3,-2.9 Q9.2,-2.9 12.4,0 Q9.2,2.9 4.3,2.9 Z" fill="#fad41e" transform="rotate(321.4)"/><path d="M4.3,-2.9 Q9.2,-2.9 12.4,0 Q9.2,2.9 4.3,2.9 Z" fill="#fad41e" transform="rotate(347.1)"/><circle r="7.2" fill="#f5c814"/><ellipse rx="5.5" ry="5.7" fill="#3a2008"/></g>
<g transform="translate(863.0,1213.0) rotate(0) scale(1,1.000)"><path d="M4.8,-3.2 Q10.8,-3.2 14.7,0 Q10.8,3.2 4.8,3.2 Z" fill="#ecb808" transform="rotate(0.0)"/><path d="M4.8,-3.2 Q10.8,-3.2 14.7,0 Q10.8,3.2 4.8,3.2 Z" fill="#ecb808" transform="rotate(25.7)"/><path d="M4.8,-3.2 Q10.8,-3.2 14.7,0 Q10.8,3.2 4.8,3.2 Z" fill="#ecb808" transform="rotate(51.4)"/><path d="M4.8,-3.2 Q10.8,-3.2 14.7,0 Q10.8,3.2 4.8,3.2 Z" fill="#ecb808" transform="rotate(77.1)"/><path d="M4.8,-3.2 Q10.8,-3.2 14.7,0 Q10.8,3.2 4.8,3.2 Z" fill="#ecb808" transform="rotate(102.9)"/><path d="M4.8,-3.2 Q10.8,-3.2 14.7,0 Q10.8,3.2 4.8,3.2 Z" fill="#ecb808" transform="rotate(128.6)"/><path d="M4.8,-3.2 Q10.8,-3.2 14.7,0 Q10.8,3.2 4.8,3.2 Z" fill="#ecb808" transform="rotate(154.3)"/><path d="M4.8,-3.2 Q10.8,-3.2 14.7,0 Q10.8,3.2 4.8,3.2 Z" fill="#ecb808" transform="rotate(180.0)"/><path d="M4.8,-3.2 Q10.8,-3.2 14.7,0 Q10.8,3.2 4.8,3.2 Z" fill="#ecb808" transform="rotate(205.7)"/><path d="M4.8,-3.2 Q10.8,-3.2 14.7,0 Q10.8,3.2 4.8,3.2 Z" fill="#ecb808" transform="rotate(231.4)"/><path d="M4.8,-3.2 Q10.8,-3.2 14.7,0 Q10.8,3.2 4.8,3.2 Z" fill="#ecb808" transform="rotate(257.1)"/><path d="M4.8,-3.2 Q10.8,-3.2 14.7,0 Q10.8,3.2 4.8,3.2 Z" fill="#ecb808" transform="rotate(282.9)"/><path d="M4.8,-3.2 Q10.8,-3.2 14.7,0 Q10.8,3.2 4.8,3.2 Z" fill="#ecb808" transform="rotate(308.6)"/><path d="M4.8,-3.2 Q10.8,-3.2 14.7,0 Q10.8,3.2 4.8,3.2 Z" fill="#ecb808" transform="rotate(334.3)"/><path d="M4.8,-3.2 Q10.2,-3.2 13.7,0 Q10.2,3.2 4.8,3.2 Z" fill="#fad41e" transform="rotate(12.9)"/><path d="M4.8,-3.2 Q10.2,-3.2 13.7,0 Q10.2,3.2 4.8,3.2 Z" fill="#fad41e" transform="rotate(38.6)"/><path d="M4.8,-3.2 Q10.2,-3.2 13.7,0 Q10.2,3.2 4.8,3.2 Z" fill="#fad41e" transform="rotate(64.3)"/><path d="M4.8,-3.2 Q10.2,-3.2 13.7,0 Q10.2,3.2 4.8,3.2 Z" fill="#fad41e" transform="rotate(90.0)"/><path d="M4.8,-3.2 Q10.2,-3.2 13.7,0 Q10.2,3.2 4.8,3.2 Z" fill="#fad41e" transform="rotate(115.7)"/><path d="M4.8,-3.2 Q10.2,-3.2 13.7,0 Q10.2,3.2 4.8,3.2 Z" fill="#fad41e" transform="rotate(141.4)"/><path d="M4.8,-3.2 Q10.2,-3.2 13.7,0 Q10.2,3.2 4.8,3.2 Z" fill="#fad41e" transform="rotate(167.1)"/><path d="M4.8,-3.2 Q10.2,-3.2 13.7,0 Q10.2,3.2 4.8,3.2 Z" fill="#fad41e" transform="rotate(192.9)"/><path d="M4.8,-3.2 Q10.2,-3.2 13.7,0 Q10.2,3.2 4.8,3.2 Z" fill="#fad41e" transform="rotate(218.6)"/><path d="M4.8,-3.2 Q10.2,-3.2 13.7,0 Q10.2,3.2 4.8,3.2 Z" fill="#fad41e" transform="rotate(244.3)"/><path d="M4.8,-3.2 Q10.2,-3.2 13.7,0 Q10.2,3.2 4.8,3.2 Z" fill="#fad41e" transform="rotate(270.0)"/><path d="M4.8,-3.2 Q10.2,-3.2 13.7,0 Q10.2,3.2 4.8,3.2 Z" fill="#fad41e" transform="rotate(295.7)"/><path d="M4.8,-3.2 Q10.2,-3.2 13.7,0 Q10.2,3.2 4.8,3.2 Z" fill="#fad41e" transform="rotate(321.4)"/><path d="M4.8,-3.2 Q10.2,-3.2 13.7,0 Q10.2,3.2 4.8,3.2 Z" fill="#fad41e" transform="rotate(347.1)"/><circle r="8.0" fill="#f5c814"/><ellipse rx="6.5" ry="6.5" fill="#3a2008"/></g>
<g transform="translate(899.0,1224.6) rotate(0) scale(1,1.000)"><path d="M3.9,-2.6 Q8.7,-2.6 12.0,0 Q8.7,2.6 3.9,2.6 Z" fill="#ecb808" transform="rotate(0.0)"/><path d="M3.9,-2.6 Q8.7,-2.6 12.0,0 Q8.7,2.6 3.9,2.6 Z" fill="#ecb808" transform="rotate(25.7)"/><path d="M3.9,-2.6 Q8.7,-2.6 12.0,0 Q8.7,2.6 3.9,2.6 Z" fill="#ecb808" transform="rotate(51.4)"/><path d="M3.9,-2.6 Q8.7,-2.6 12.0,0 Q8.7,2.6 3.9,2.6 Z" fill="#ecb808" transform="rotate(77.1)"/><path d="M3.9,-2.6 Q8.7,-2.6 12.0,0 Q8.7,2.6 3.9,2.6 Z" fill="#ecb808" transform="rotate(102.9)"/><path d="M3.9,-2.6 Q8.7,-2.6 12.0,0 Q8.7,2.6 3.9,2.6 Z" fill="#ecb808" transform="rotate(128.6)"/><path d="M3.9,-2.6 Q8.7,-2.6 12.0,0 Q8.7,2.6 3.9,2.6 Z" fill="#ecb808" transform="rotate(154.3)"/><path d="M3.9,-2.6 Q8.7,-2.6 12.0,0 Q8.7,2.6 3.9,2.6 Z" fill="#ecb808" transform="rotate(180.0)"/><path d="M3.9,-2.6 Q8.7,-2.6 12.0,0 Q8.7,2.6 3.9,2.6 Z" fill="#ecb808" transform="rotate(205.7)"/><path d="M3.9,-2.6 Q8.7,-2.6 12.0,0 Q8.7,2.6 3.9,2.6 Z" fill="#ecb808" transform="rotate(231.4)"/><path d="M3.9,-2.6 Q8.7,-2.6 12.0,0 Q8.7,2.6 3.9,2.6 Z" fill="#ecb808" transform="rotate(257.1)"/><path d="M3.9,-2.6 Q8.7,-2.6 12.0,0 Q8.7,2.6 3.9,2.6 Z" fill="#ecb808" transform="rotate(282.9)"/><path d="M3.9,-2.6 Q8.7,-2.6 12.0,0 Q8.7,2.6 3.9,2.6 Z" fill="#ecb808" transform="rotate(308.6)"/><path d="M3.9,-2.6 Q8.7,-2.6 12.0,0 Q8.7,2.6 3.9,2.6 Z" fill="#ecb808" transform="rotate(334.3)"/><path d="M3.9,-2.6 Q8.3,-2.6 11.2,0 Q8.3,2.6 3.9,2.6 Z" fill="#fad41e" transform="rotate(12.9)"/><path d="M3.9,-2.6 Q8.3,-2.6 11.2,0 Q8.3,2.6 3.9,2.6 Z" fill="#fad41e" transform="rotate(38.6)"/><path d="M3.9,-2.6 Q8.3,-2.6 11.2,0 Q8.3,2.6 3.9,2.6 Z" fill="#fad41e" transform="rotate(64.3)"/><path d="M3.9,-2.6 Q8.3,-2.6 11.2,0 Q8.3,2.6 3.9,2.6 Z" fill="#fad41e" transform="rotate(90.0)"/><path d="M3.9,-2.6 Q8.3,-2.6 11.2,0 Q8.3,2.6 3.9,2.6 Z" fill="#fad41e" transform="rotate(115.7)"/><path d="M3.9,-2.6 Q8.3,-2.6 11.2,0 Q8.3,2.6 3.9,2.6 Z" fill="#fad41e" transform="rotate(141.4)"/><path d="M3.9,-2.6 Q8.3,-2.6 11.2,0 Q8.3,2.6 3.9,2.6 Z" fill="#fad41e" transform="rotate(167.1)"/><path d="M3.9,-2.6 Q8.3,-2.6 11.2,0 Q8.3,2.6 3.9,2.6 Z" fill="#fad41e" transform="rotate(192.9)"/><path d="M3.9,-2.6 Q8.3,-2.6 11.2,0 Q8.3,2.6 3.9,2.6 Z" fill="#fad41e" transform="rotate(218.6)"/><path d="M3.9,-2.6 Q8.3,-2.6 11.2,0 Q8.3,2.6 3.9,2.6 Z" fill="#fad41e" transform="rotate(244.3)"/><path d="M3.9,-2.6 Q8.3,-2.6 11.2,0 Q8.3,2.6 3.9,2.6 Z" fill="#fad41e" transform="rotate(270.0)"/><path d="M3.9,-2.6 Q8.3,-2.6 11.2,0 Q8.3,2.6 3.9,2.6 Z" fill="#fad41e" transform="rotate(295.7)"/><path d="M3.9,-2.6 Q8.3,-2.6 11.2,0 Q8.3,2.6 3.9,2.6 Z" fill="#fad41e" transform="rotate(321.4)"/><path d="M3.9,-2.6 Q8.3,-2.6 11.2,0 Q8.3,2.6 3.9,2.6 Z" fill="#fad41e" transform="rotate(347.1)"/><circle r="6.5" fill="#f5c814"/><ellipse rx="4.8" ry="4.8" fill="#3a2008"/></g>
</g>
<path d="M858,1262 L900,1262 Q900.0,1278.8 898.5,1295.5 L859.5,1295.5 Q858.0,1278.8 858,1262 Z" fill="url(#gpot)"/>
<rect x="858.5" y="1262" width="41" height="3" fill="#f3f3f3"/>
<path d="M858.5,1294.5 L899.5,1294.5 L897.5,1303.0 L860.5,1303.0 Z" fill="#e8e8e8" stroke="#d2d2d2" stroke-width="0.8"/>
<rect x="859" y="1260.5" width="40" height="2.5" fill="#3b2a18" opacity="0.8"/>
<g>
<g transform="translate(1009.0,1229.0) rotate(195)"><path d="M-16.0,0 C-8.8,-10.6 7.2,-10.0 16.0,0 C7.2,10.0 -8.8,10.6 -16.0,0 Z" fill="#3b7d28" opacity="1"/></g>
<g transform="translate(1022.0,1258.0) rotate(100)"><path d="M-19.0,0 C-10.5,-17.3 8.6,-16.2 19.0,0 C8.6,16.2 -10.5,17.3 -19.0,0 Z" fill="#2e6820" opacity="1"/></g>
<g transform="translate(1085.0,1222.0) rotate(-10)"><path d="M-16.0,0 C-8.8,-7.3 7.2,-6.9 16.0,0 C7.2,6.9 -8.8,7.3 -16.0,0 Z" fill="#3b7d28" opacity="1"/></g>
<g transform="translate(1074.0,1255.0) rotate(65)"><path d="M-19.0,0 C-10.5,-12.0 8.6,-11.2 19.0,0 C8.6,11.2 -10.5,12.0 -19.0,0 Z" fill="#3b7d28" opacity="1"/></g>
<g transform="translate(1010.0,1203.0) rotate(190)"><path d="M-13.0,0 C-7.2,-7.3 5.9,-6.9 13.0,0 C5.9,6.9 -7.2,7.3 -13.0,0 Z" fill="#3b7d28" opacity="1"/></g>
<g transform="translate(1044.0,1252.0) rotate(80)"><path d="M-16.0,0 C-8.8,-12.0 7.2,-11.2 16.0,0 C7.2,11.2 -8.8,12.0 -16.0,0 Z" fill="#5a9a3a" opacity="1"/></g>
<g transform="translate(1034.0,1236.0) rotate(140)"><path d="M-14.0,0 C-7.7,-10.0 6.3,-9.4 14.0,0 C6.3,9.4 -7.7,10.0 -14.0,0 Z" fill="#2e6820" opacity="1"/></g>
<g transform="translate(1062.0,1240.0) rotate(40)"><path d="M-14.0,0 C-7.7,-10.0 6.3,-9.4 14.0,0 C6.3,9.4 -7.7,10.0 -14.0,0 Z" fill="#2e6820" opacity="1"/></g>
<g transform="translate(1052.0,1218.0) rotate(20)"><path d="M-11.0,0 C-6.1,-6.7 5.0,-6.2 11.0,0 C5.0,6.2 -6.1,6.7 -11.0,0 Z" fill="#3b7d28" opacity="1"/></g>
<g transform="translate(1092.0,1238.0) rotate(15)"><path d="M-12.0,0 C-6.6,-6.0 5.4,-5.6 12.0,0 C5.4,5.6 -6.6,6.0 -12.0,0 Z" fill="#3b7d28" opacity="1"/></g>
<g transform="translate(1017.0,1246.0) rotate(160)"><path d="M-13.0,0 C-7.2,-8.6 5.9,-8.1 13.0,0 C5.9,8.1 -7.2,8.6 -13.0,0 Z" fill="#3b7d28" opacity="1"/></g>
<g transform="translate(1030.0,1266.0) rotate(115)"><path d="M-15.0,0 C-8.2,-12.0 6.8,-11.2 15.0,0 C6.8,11.2 -8.2,12.0 -15.0,0 Z" fill="#2e6820" opacity="1"/></g>
<g transform="translate(1066.0,1268.0) rotate(55)"><path d="M-13.0,0 C-7.2,-8.0 5.9,-7.5 13.0,0 C5.9,7.5 -7.2,8.0 -13.0,0 Z" fill="#3b7d28" opacity="1"/></g>
<g transform="translate(1046.0,1232.0) rotate(-60)"><path d="M-13.0,0 C-7.2,-9.3 5.9,-8.8 13.0,0 C5.9,8.8 -7.2,9.3 -13.0,0 Z" fill="#2e6820" opacity="1"/></g>
<g transform="translate(1048.0,1206.0) rotate(-30)"><path d="M-9.0,0 C-5.0,-6.7 4.0,-6.2 9.0,0 C4.0,6.2 -5.0,6.7 -9.0,0 Z" fill="#3b7d28" opacity="1"/></g>
<g transform="translate(1054.0,1258.0) rotate(60)"><path d="M-14.0,0 C-7.7,-9.3 6.3,-8.8 14.0,0 C6.3,8.8 -7.7,9.3 -14.0,0 Z" fill="#2e6820" opacity="1"/></g>
<g transform="translate(1020.0,1222.0) rotate(170)"><path d="M-11.0,0 C-6.1,-8.0 5.0,-7.5 11.0,0 C5.0,7.5 -6.1,8.0 -11.0,0 Z" fill="#2e6820" opacity="1"/></g>
<g transform="translate(1078.0,1212.0) rotate(-20)"><path d="M-10.0,0 C-5.5,-6.7 4.5,-6.2 10.0,0 C4.5,6.2 -5.5,6.7 -10.0,0 Z" fill="#3b7d28" opacity="1"/></g>
<g transform="translate(1070.0,1244.0) rotate(20)"><path d="M-12.0,0 C-6.6,-8.0 5.4,-7.5 12.0,0 C5.4,7.5 -6.6,8.0 -12.0,0 Z" fill="#2e6820" opacity="1"/></g>
<g transform="translate(1024.0,1238.0) rotate(120)"><path d="M-12.0,0 C-6.6,-9.3 5.4,-8.8 12.0,0 C5.4,8.8 -6.6,9.3 -12.0,0 Z" fill="#3b7d28" opacity="1"/></g>
<g transform="translate(1004.0,1240.0) rotate(200)"><path d="M-11.0,0 C-6.1,-8.0 5.0,-7.5 11.0,0 C5.0,7.5 -6.1,8.0 -11.0,0 Z" fill="#2e6820" opacity="1"/></g>
<g transform="translate(1082.0,1232.0) rotate(10)"><path d="M-10.0,0 C-5.5,-6.0 4.5,-5.6 10.0,0 C4.5,5.6 -5.5,6.0 -10.0,0 Z" fill="#2e6820" opacity="1"/></g>
<ellipse cx="1051" cy="1219" rx="3" ry="3.5" fill="#2f7fe0"/>
<g transform="translate(1047.0,1181.0) rotate(-5) scale(1,0.560)"><path d="M7.5,-5.0 Q16.8,-5.0 23.0,0 Q16.8,5.0 7.5,5.0 Z" fill="#ecb808" transform="rotate(0.0)"/><path d="M7.5,-5.0 Q16.8,-5.0 23.0,0 Q16.8,5.0 7.5,5.0 Z" fill="#ecb808" transform="rotate(25.7)"/><path d="M7.5,-5.0 Q16.8,-5.0 23.0,0 Q16.8,5.0 7.5,5.0 Z" fill="#ecb808" transform="rotate(51.4)"/><path d="M7.5,-5.0 Q16.8,-5.0 23.0,0 Q16.8,5.0 7.5,5.0 Z" fill="#ecb808" transform="rotate(77.1)"/><path d="M7.5,-5.0 Q16.8,-5.0 23.0,0 Q16.8,5.0 7.5,5.0 Z" fill="#ecb808" transform="rotate(102.9)"/><path d="M7.5,-5.0 Q16.8,-5.0 23.0,0 Q16.8,5.0 7.5,5.0 Z" fill="#ecb808" transform="rotate(128.6)"/><path d="M7.5,-5.0 Q16.8,-5.0 23.0,0 Q16.8,5.0 7.5,5.0 Z" fill="#ecb808" transform="rotate(154.3)"/><path d="M7.5,-5.0 Q16.8,-5.0 23.0,0 Q16.8,5.0 7.5,5.0 Z" fill="#ecb808" transform="rotate(180.0)"/><path d="M7.5,-5.0 Q16.8,-5.0 23.0,0 Q16.8,5.0 7.5,5.0 Z" fill="#ecb808" transform="rotate(205.7)"/><path d="M7.5,-5.0 Q16.8,-5.0 23.0,0 Q16.8,5.0 7.5,5.0 Z" fill="#ecb808" transform="rotate(231.4)"/><path d="M7.5,-5.0 Q16.8,-5.0 23.0,0 Q16.8,5.0 7.5,5.0 Z" fill="#ecb808" transform="rotate(257.1)"/><path d="M7.5,-5.0 Q16.8,-5.0 23.0,0 Q16.8,5.0 7.5,5.0 Z" fill="#ecb808" transform="rotate(282.9)"/><path d="M7.5,-5.0 Q16.8,-5.0 23.0,0 Q16.8,5.0 7.5,5.0 Z" fill="#ecb808" transform="rotate(308.6)"/><path d="M7.5,-5.0 Q16.8,-5.0 23.0,0 Q16.8,5.0 7.5,5.0 Z" fill="#ecb808" transform="rotate(334.3)"/><path d="M7.5,-5.0 Q15.9,-5.0 21.5,0 Q15.9,5.0 7.5,5.0 Z" fill="#fad41e" transform="rotate(12.9)"/><path d="M7.5,-5.0 Q15.9,-5.0 21.5,0 Q15.9,5.0 7.5,5.0 Z" fill="#fad41e" transform="rotate(38.6)"/><path d="M7.5,-5.0 Q15.9,-5.0 21.5,0 Q15.9,5.0 7.5,5.0 Z" fill="#fad41e" transform="rotate(64.3)"/><path d="M7.5,-5.0 Q15.9,-5.0 21.5,0 Q15.9,5.0 7.5,5.0 Z" fill="#fad41e" transform="rotate(90.0)"/><path d="M7.5,-5.0 Q15.9,-5.0 21.5,0 Q15.9,5.0 7.5,5.0 Z" fill="#fad41e" transform="rotate(115.7)"/><path d="M7.5,-5.0 Q15.9,-5.0 21.5,0 Q15.9,5.0 7.5,5.0 Z" fill="#fad41e" transform="rotate(141.4)"/><path d="M7.5,-5.0 Q15.9,-5.0 21.5,0 Q15.9,5.0 7.5,5.0 Z" fill="#fad41e" transform="rotate(167.1)"/><path d="M7.5,-5.0 Q15.9,-5.0 21.5,0 Q15.9,5.0 7.5,5.0 Z" fill="#fad41e" transform="rotate(192.9)"/><path d="M7.5,-5.0 Q15.9,-5.0 21.5,0 Q15.9,5.0 7.5,5.0 Z" fill="#fad41e" transform="rotate(218.6)"/><path d="M7.5,-5.0 Q15.9,-5.0 21.5,0 Q15.9,5.0 7.5,5.0 Z" fill="#fad41e" transform="rotate(244.3)"/><path d="M7.5,-5.0 Q15.9,-5.0 21.5,0 Q15.9,5.0 7.5,5.0 Z" fill="#fad41e" transform="rotate(270.0)"/><path d="M7.5,-5.0 Q15.9,-5.0 21.5,0 Q15.9,5.0 7.5,5.0 Z" fill="#fad41e" transform="rotate(295.7)"/><path d="M7.5,-5.0 Q15.9,-5.0 21.5,0 Q15.9,5.0 7.5,5.0 Z" fill="#fad41e" transform="rotate(321.4)"/><path d="M7.5,-5.0 Q15.9,-5.0 21.5,0 Q15.9,5.0 7.5,5.0 Z" fill="#fad41e" transform="rotate(347.1)"/><circle r="12.5" fill="#f5c814"/><ellipse rx="12.5" ry="10.7" fill="#3a2008"/></g>
<g transform="translate(1057.0,1199.3) rotate(0) scale(1,0.966)"><path d="M4.3,-2.9 Q9.7,-2.9 13.3,0 Q9.7,2.9 4.3,2.9 Z" fill="#ecb808" transform="rotate(0.0)"/><path d="M4.3,-2.9 Q9.7,-2.9 13.3,0 Q9.7,2.9 4.3,2.9 Z" fill="#ecb808" transform="rotate(25.7)"/><path d="M4.3,-2.9 Q9.7,-2.9 13.3,0 Q9.7,2.9 4.3,2.9 Z" fill="#ecb808" transform="rotate(51.4)"/><path d="M4.3,-2.9 Q9.7,-2.9 13.3,0 Q9.7,2.9 4.3,2.9 Z" fill="#ecb808" transform="rotate(77.1)"/><path d="M4.3,-2.9 Q9.7,-2.9 13.3,0 Q9.7,2.9 4.3,2.9 Z" fill="#ecb808" transform="rotate(102.9)"/><path d="M4.3,-2.9 Q9.7,-2.9 13.3,0 Q9.7,2.9 4.3,2.9 Z" fill="#ecb808" transform="rotate(128.6)"/><path d="M4.3,-2.9 Q9.7,-2.9 13.3,0 Q9.7,2.9 4.3,2.9 Z" fill="#ecb808" transform="rotate(154.3)"/><path d="M4.3,-2.9 Q9.7,-2.9 13.3,0 Q9.7,2.9 4.3,2.9 Z" fill="#ecb808" transform="rotate(180.0)"/><path d="M4.3,-2.9 Q9.7,-2.9 13.3,0 Q9.7,2.9 4.3,2.9 Z" fill="#ecb808" transform="rotate(205.7)"/><path d="M4.3,-2.9 Q9.7,-2.9 13.3,0 Q9.7,2.9 4.3,2.9 Z" fill="#ecb808" transform="rotate(231.4)"/><path d="M4.3,-2.9 Q9.7,-2.9 13.3,0 Q9.7,2.9 4.3,2.9 Z" fill="#ecb808" transform="rotate(257.1)"/><path d="M4.3,-2.9 Q9.7,-2.9 13.3,0 Q9.7,2.9 4.3,2.9 Z" fill="#ecb808" transform="rotate(282.9)"/><path d="M4.3,-2.9 Q9.7,-2.9 13.3,0 Q9.7,2.9 4.3,2.9 Z" fill="#ecb808" transform="rotate(308.6)"/><path d="M4.3,-2.9 Q9.7,-2.9 13.3,0 Q9.7,2.9 4.3,2.9 Z" fill="#ecb808" transform="rotate(334.3)"/><path d="M4.3,-2.9 Q9.2,-2.9 12.4,0 Q9.2,2.9 4.3,2.9 Z" fill="#fad41e" transform="rotate(12.9)"/><path d="M4.3,-2.9 Q9.2,-2.9 12.4,0 Q9.2,2.9 4.3,2.9 Z" fill="#fad41e" transform="rotate(38.6)"/><path d="M4.3,-2.9 Q9.2,-2.9 12.4,0 Q9.2,2.9 4.3,2.9 Z" fill="#fad41e" transform="rotate(64.3)"/><path d="M4.3,-2.9 Q9.2,-2.9 12.4,0 Q9.2,2.9 4.3,2.9 Z" fill="#fad41e" transform="rotate(90.0)"/><path d="M4.3,-2.9 Q9.2,-2.9 12.4,0 Q9.2,2.9 4.3,2.9 Z" fill="#fad41e" transform="rotate(115.7)"/><path d="M4.3,-2.9 Q9.2,-2.9 12.4,0 Q9.2,2.9 4.3,2.9 Z" fill="#fad41e" transform="rotate(141.4)"/><path d="M4.3,-2.9 Q9.2,-2.9 12.4,0 Q9.2,2.9 4.3,2.9 Z" fill="#fad41e" transform="rotate(167.1)"/><path d="M4.3,-2.9 Q9.2,-2.9 12.4,0 Q9.2,2.9 4.3,2.9 Z" fill="#fad41e" transform="rotate(192.9)"/><path d="M4.3,-2.9 Q9.2,-2.9 12.4,0 Q9.2,2.9 4.3,2.9 Z" fill="#fad41e" transform="rotate(218.6)"/><path d="M4.3,-2.9 Q9.2,-2.9 12.4,0 Q9.2,2.9 4.3,2.9 Z" fill="#fad41e" transform="rotate(244.3)"/><path d="M4.3,-2.9 Q9.2,-2.9 12.4,0 Q9.2,2.9 4.3,2.9 Z" fill="#fad41e" transform="rotate(270.0)"/><path d="M4.3,-2.9 Q9.2,-2.9 12.4,0 Q9.2,2.9 4.3,2.9 Z" fill="#fad41e" transform="rotate(295.7)"/><path d="M4.3,-2.9 Q9.2,-2.9 12.4,0 Q9.2,2.9 4.3,2.9 Z" fill="#fad41e" transform="rotate(321.4)"/><path d="M4.3,-2.9 Q9.2,-2.9 12.4,0 Q9.2,2.9 4.3,2.9 Z" fill="#fad41e" transform="rotate(347.1)"/><circle r="7.2" fill="#f5c814"/><ellipse rx="5.5" ry="5.7" fill="#3a2008"/></g>
<g transform="translate(1031.0,1213.0) rotate(0) scale(1,1.000)"><path d="M4.8,-3.2 Q10.8,-3.2 14.7,0 Q10.8,3.2 4.8,3.2 Z" fill="#ecb808" transform="rotate(0.0)"/><path d="M4.8,-3.2 Q10.8,-3.2 14.7,0 Q10.8,3.2 4.8,3.2 Z" fill="#ecb808" transform="rotate(25.7)"/><path d="M4.8,-3.2 Q10.8,-3.2 14.7,0 Q10.8,3.2 4.8,3.2 Z" fill="#ecb808" transform="rotate(51.4)"/><path d="M4.8,-3.2 Q10.8,-3.2 14.7,0 Q10.8,3.2 4.8,3.2 Z" fill="#ecb808" transform="rotate(77.1)"/><path d="M4.8,-3.2 Q10.8,-3.2 14.7,0 Q10.8,3.2 4.8,3.2 Z" fill="#ecb808" transform="rotate(102.9)"/><path d="M4.8,-3.2 Q10.8,-3.2 14.7,0 Q10.8,3.2 4.8,3.2 Z" fill="#ecb808" transform="rotate(128.6)"/><path d="M4.8,-3.2 Q10.8,-3.2 14.7,0 Q10.8,3.2 4.8,3.2 Z" fill="#ecb808" transform="rotate(154.3)"/><path d="M4.8,-3.2 Q10.8,-3.2 14.7,0 Q10.8,3.2 4.8,3.2 Z" fill="#ecb808" transform="rotate(180.0)"/><path d="M4.8,-3.2 Q10.8,-3.2 14.7,0 Q10.8,3.2 4.8,3.2 Z" fill="#ecb808" transform="rotate(205.7)"/><path d="M4.8,-3.2 Q10.8,-3.2 14.7,0 Q10.8,3.2 4.8,3.2 Z" fill="#ecb808" transform="rotate(231.4)"/><path d="M4.8,-3.2 Q10.8,-3.2 14.7,0 Q10.8,3.2 4.8,3.2 Z" fill="#ecb808" transform="rotate(257.1)"/><path d="M4.8,-3.2 Q10.8,-3.2 14.7,0 Q10.8,3.2 4.8,3.2 Z" fill="#ecb808" transform="rotate(282.9)"/><path d="M4.8,-3.2 Q10.8,-3.2 14.7,0 Q10.8,3.2 4.8,3.2 Z" fill="#ecb808" transform="rotate(308.6)"/><path d="M4.8,-3.2 Q10.8,-3.2 14.7,0 Q10.8,3.2 4.8,3.2 Z" fill="#ecb808" transform="rotate(334.3)"/><path d="M4.8,-3.2 Q10.2,-3.2 13.7,0 Q10.2,3.2 4.8,3.2 Z" fill="#fad41e" transform="rotate(12.9)"/><path d="M4.8,-3.2 Q10.2,-3.2 13.7,0 Q10.2,3.2 4.8,3.2 Z" fill="#fad41e" transform="rotate(38.6)"/><path d="M4.8,-3.2 Q10.2,-3.2 13.7,0 Q10.2,3.2 4.8,3.2 Z" fill="#fad41e" transform="rotate(64.3)"/><path d="M4.8,-3.2 Q10.2,-3.2 13.7,0 Q10.2,3.2 4.8,3.2 Z" fill="#fad41e" transform="rotate(90.0)"/><path d="M4.8,-3.2 Q10.2,-3.2 13.7,0 Q10.2,3.2 4.8,3.2 Z" fill="#fad41e" transform="rotate(115.7)"/><path d="M4.8,-3.2 Q10.2,-3.2 13.7,0 Q10.2,3.2 4.8,3.2 Z" fill="#fad41e" transform="rotate(141.4)"/><path d="M4.8,-3.2 Q10.2,-3.2 13.7,0 Q10.2,3.2 4.8,3.2 Z" fill="#fad41e" transform="rotate(167.1)"/><path d="M4.8,-3.2 Q10.2,-3.2 13.7,0 Q10.2,3.2 4.8,3.2 Z" fill="#fad41e" transform="rotate(192.9)"/><path d="M4.8,-3.2 Q10.2,-3.2 13.7,0 Q10.2,3.2 4.8,3.2 Z" fill="#fad41e" transform="rotate(218.6)"/><path d="M4.8,-3.2 Q10.2,-3.2 13.7,0 Q10.2,3.2 4.8,3.2 Z" fill="#fad41e" transform="rotate(244.3)"/><path d="M4.8,-3.2 Q10.2,-3.2 13.7,0 Q10.2,3.2 4.8,3.2 Z" fill="#fad41e" transform="rotate(270.0)"/><path d="M4.8,-3.2 Q10.2,-3.2 13.7,0 Q10.2,3.2 4.8,3.2 Z" fill="#fad41e" transform="rotate(295.7)"/><path d="M4.8,-3.2 Q10.2,-3.2 13.7,0 Q10.2,3.2 4.8,3.2 Z" fill="#fad41e" transform="rotate(321.4)"/><path d="M4.8,-3.2 Q10.2,-3.2 13.7,0 Q10.2,3.2 4.8,3.2 Z" fill="#fad41e" transform="rotate(347.1)"/><circle r="8.0" fill="#f5c814"/><ellipse rx="6.5" ry="6.5" fill="#3a2008"/></g>
<g transform="translate(1067.0,1224.6) rotate(0) scale(1,1.000)"><path d="M3.9,-2.6 Q8.7,-2.6 12.0,0 Q8.7,2.6 3.9,2.6 Z" fill="#ecb808" transform="rotate(0.0)"/><path d="M3.9,-2.6 Q8.7,-2.6 12.0,0 Q8.7,2.6 3.9,2.6 Z" fill="#ecb808" transform="rotate(25.7)"/><path d="M3.9,-2.6 Q8.7,-2.6 12.0,0 Q8.7,2.6 3.9,2.6 Z" fill="#ecb808" transform="rotate(51.4)"/><path d="M3.9,-2.6 Q8.7,-2.6 12.0,0 Q8.7,2.6 3.9,2.6 Z" fill="#ecb808" transform="rotate(77.1)"/><path d="M3.9,-2.6 Q8.7,-2.6 12.0,0 Q8.7,2.6 3.9,2.6 Z" fill="#ecb808" transform="rotate(102.9)"/><path d="M3.9,-2.6 Q8.7,-2.6 12.0,0 Q8.7,2.6 3.9,2.6 Z" fill="#ecb808" transform="rotate(128.6)"/><path d="M3.9,-2.6 Q8.7,-2.6 12.0,0 Q8.7,2.6 3.9,2.6 Z" fill="#ecb808" transform="rotate(154.3)"/><path d="M3.9,-2.6 Q8.7,-2.6 12.0,0 Q8.7,2.6 3.9,2.6 Z" fill="#ecb808" transform="rotate(180.0)"/><path d="M3.9,-2.6 Q8.7,-2.6 12.0,0 Q8.7,2.6 3.9,2.6 Z" fill="#ecb808" transform="rotate(205.7)"/><path d="M3.9,-2.6 Q8.7,-2.6 12.0,0 Q8.7,2.6 3.9,2.6 Z" fill="#ecb808" transform="rotate(231.4)"/><path d="M3.9,-2.6 Q8.7,-2.6 12.0,0 Q8.7,2.6 3.9,2.6 Z" fill="#ecb808" transform="rotate(257.1)"/><path d="M3.9,-2.6 Q8.7,-2.6 12.0,0 Q8.7,2.6 3.9,2.6 Z" fill="#ecb808" transform="rotate(282.9)"/><path d="M3.9,-2.6 Q8.7,-2.6 12.0,0 Q8.7,2.6 3.9,2.6 Z" fill="#ecb808" transform="rotate(308.6)"/><path d="M3.9,-2.6 Q8.7,-2.6 12.0,0 Q8.7,2.6 3.9,2.6 Z" fill="#ecb808" transform="rotate(334.3)"/><path d="M3.9,-2.6 Q8.3,-2.6 11.2,0 Q8.3,2.6 3.9,2.6 Z" fill="#fad41e" transform="rotate(12.9)"/><path d="M3.9,-2.6 Q8.3,-2.6 11.2,0 Q8.3,2.6 3.9,2.6 Z" fill="#fad41e" transform="rotate(38.6)"/><path d="M3.9,-2.6 Q8.3,-2.6 11.2,0 Q8.3,2.6 3.9,2.6 Z" fill="#fad41e" transform="rotate(64.3)"/><path d="M3.9,-2.6 Q8.3,-2.6 11.2,0 Q8.3,2.6 3.9,2.6 Z" fill="#fad41e" transform="rotate(90.0)"/><path d="M3.9,-2.6 Q8.3,-2.6 11.2,0 Q8.3,2.6 3.9,2.6 Z" fill="#fad41e" transform="rotate(115.7)"/><path d="M3.9,-2.6 Q8.3,-2.6 11.2,0 Q8.3,2.6 3.9,2.6 Z" fill="#fad41e" transform="rotate(141.4)"/><path d="M3.9,-2.6 Q8.3,-2.6 11.2,0 Q8.3,2.6 3.9,2.6 Z" fill="#fad41e" transform="rotate(167.1)"/><path d="M3.9,-2.6 Q8.3,-2.6 11.2,0 Q8.3,2.6 3.9,2.6 Z" fill="#fad41e" transform="rotate(192.9)"/><path d="M3.9,-2.6 Q8.3,-2.6 11.2,0 Q8.3,2.6 3.9,2.6 Z" fill="#fad41e" transform="rotate(218.6)"/><path d="M3.9,-2.6 Q8.3,-2.6 11.2,0 Q8.3,2.6 3.9,2.6 Z" fill="#fad41e" transform="rotate(244.3)"/><path d="M3.9,-2.6 Q8.3,-2.6 11.2,0 Q8.3,2.6 3.9,2.6 Z" fill="#fad41e" transform="rotate(270.0)"/><path d="M3.9,-2.6 Q8.3,-2.6 11.2,0 Q8.3,2.6 3.9,2.6 Z" fill="#fad41e" transform="rotate(295.7)"/><path d="M3.9,-2.6 Q8.3,-2.6 11.2,0 Q8.3,2.6 3.9,2.6 Z" fill="#fad41e" transform="rotate(321.4)"/><path d="M3.9,-2.6 Q8.3,-2.6 11.2,0 Q8.3,2.6 3.9,2.6 Z" fill="#fad41e" transform="rotate(347.1)"/><circle r="6.5" fill="#f5c814"/><ellipse rx="4.8" ry="4.8" fill="#3a2008"/></g>
</g>
<path d="M1026,1262 L1068,1262 Q1068.0,1278.8 1066.5,1295.5 L1027.5,1295.5 Q1026.0,1278.8 1026,1262 Z" fill="url(#gpot)"/>
<rect x="1026.5" y="1262" width="41" height="3" fill="#f3f3f3"/>
<path d="M1026.5,1294.5 L1067.5,1294.5 L1065.5,1303.0 L1028.5,1303.0 Z" fill="#e8e8e8" stroke="#d2d2d2" stroke-width="0.8"/>
<rect x="1027" y="1260.5" width="40" height="2.5" fill="#3b2a18" opacity="0.8"/>
<g>
<g transform="translate(1177.0,1229.0) rotate(195)"><path d="M-16.0,0 C-8.8,-10.6 7.2,-10.0 16.0,0 C7.2,10.0 -8.8,10.6 -16.0,0 Z" fill="#3b7d28" opacity="1"/></g>
<g transform="translate(1190.0,1258.0) rotate(100)"><path d="M-19.0,0 C-10.5,-17.3 8.6,-16.2 19.0,0 C8.6,16.2 -10.5,17.3 -19.0,0 Z" fill="#2e6820" opacity="1"/></g>
<g transform="translate(1253.0,1222.0) rotate(-10)"><path d="M-16.0,0 C-8.8,-7.3 7.2,-6.9 16.0,0 C7.2,6.9 -8.8,7.3 -16.0,0 Z" fill="#3b7d28" opacity="1"/></g>
<g transform="translate(1242.0,1255.0) rotate(65)"><path d="M-19.0,0 C-10.5,-12.0 8.6,-11.2 19.0,0 C8.6,11.2 -10.5,12.0 -19.0,0 Z" fill="#3b7d28" opacity="1"/></g>
<g transform="translate(1178.0,1203.0) rotate(190)"><path d="M-13.0,0 C-7.2,-7.3 5.9,-6.9 13.0,0 C5.9,6.9 -7.2,7.3 -13.0,0 Z" fill="#3b7d28" opacity="1"/></g>
<g transform="translate(1212.0,1252.0) rotate(80)"><path d="M-16.0,0 C-8.8,-12.0 7.2,-11.2 16.0,0 C7.2,11.2 -8.8,12.0 -16.0,0 Z" fill="#5a9a3a" opacity="1"/></g>
<g transform="translate(1202.0,1236.0) rotate(140)"><path d="M-14.0,0 C-7.7,-10.0 6.3,-9.4 14.0,0 C6.3,9.4 -7.7,10.0 -14.0,0 Z" fill="#2e6820" opacity="1"/></g>
<g transform="translate(1230.0,1240.0) rotate(40)"><path d="M-14.0,0 C-7.7,-10.0 6.3,-9.4 14.0,0 C6.3,9.4 -7.7,10.0 -14.0,0 Z" fill="#2e6820" opacity="1"/></g>
<g transform="translate(1220.0,1218.0) rotate(20)"><path d="M-11.0,0 C-6.1,-6.7 5.0,-6.2 11.0,0 C5.0,6.2 -6.1,6.7 -11.0,0 Z" fill="#3b7d28" opacity="1"/></g>
<g transform="translate(1260.0,1238.0) rotate(15)"><path d="M-12.0,0 C-6.6,-6.0 5.4,-5.6 12.0,0 C5.4,5.6 -6.6,6.0 -12.0,0 Z" fill="#3b7d28" opacity="1"/></g>
<g transform="translate(1185.0,1246.0) rotate(160)"><path d="M-13.0,0 C-7.2,-8.6 5.9,-8.1 13.0,0 C5.9,8.1 -7.2,8.6 -13.0,0 Z" fill="#3b7d28" opacity="1"/></g>
<g transform="translate(1198.0,1266.0) rotate(115)"><path d="M-15.0,0 C-8.2,-12.0 6.8,-11.2 15.0,0 C6.8,11.2 -8.2,12.0 -15.0,0 Z" fill="#2e6820" opacity="1"/></g>
<g transform="translate(1234.0,1268.0) rotate(55)"><path d="M-13.0,0 C-7.2,-8.0 5.9,-7.5 13.0,0 C5.9,7.5 -7.2,8.0 -13.0,0 Z" fill="#3b7d28" opacity="1"/></g>
<g transform="translate(1214.0,1232.0) rotate(-60)"><path d="M-13.0,0 C-7.2,-9.3 5.9,-8.8 13.0,0 C5.9,8.8 -7.2,9.3 -13.0,0 Z" fill="#2e6820" opacity="1"/></g>
<g transform="translate(1216.0,1206.0) rotate(-30)"><path d="M-9.0,0 C-5.0,-6.7 4.0,-6.2 9.0,0 C4.0,6.2 -5.0,6.7 -9.0,0 Z" fill="#3b7d28" opacity="1"/></g>
<g transform="translate(1222.0,1258.0) rotate(60)"><path d="M-14.0,0 C-7.7,-9.3 6.3,-8.8 14.0,0 C6.3,8.8 -7.7,9.3 -14.0,0 Z" fill="#2e6820" opacity="1"/></g>
<g transform="translate(1188.0,1222.0) rotate(170)"><path d="M-11.0,0 C-6.1,-8.0 5.0,-7.5 11.0,0 C5.0,7.5 -6.1,8.0 -11.0,0 Z" fill="#2e6820" opacity="1"/></g>
<g transform="translate(1246.0,1212.0) rotate(-20)"><path d="M-10.0,0 C-5.5,-6.7 4.5,-6.2 10.0,0 C4.5,6.2 -5.5,6.7 -10.0,0 Z" fill="#3b7d28" opacity="1"/></g>
<g transform="translate(1238.0,1244.0) rotate(20)"><path d="M-12.0,0 C-6.6,-8.0 5.4,-7.5 12.0,0 C5.4,7.5 -6.6,8.0 -12.0,0 Z" fill="#2e6820" opacity="1"/></g>
<g transform="translate(1192.0,1238.0) rotate(120)"><path d="M-12.0,0 C-6.6,-9.3 5.4,-8.8 12.0,0 C5.4,8.8 -6.6,9.3 -12.0,0 Z" fill="#3b7d28" opacity="1"/></g>
<g transform="translate(1172.0,1240.0) rotate(200)"><path d="M-11.0,0 C-6.1,-8.0 5.0,-7.5 11.0,0 C5.0,7.5 -6.1,8.0 -11.0,0 Z" fill="#2e6820" opacity="1"/></g>
<g transform="translate(1250.0,1232.0) rotate(10)"><path d="M-10.0,0 C-5.5,-6.0 4.5,-5.6 10.0,0 C4.5,5.6 -5.5,6.0 -10.0,0 Z" fill="#2e6820" opacity="1"/></g>
<ellipse cx="1219" cy="1219" rx="3" ry="3.5" fill="#2f7fe0"/>
<g transform="translate(1215.0,1181.0) rotate(-5) scale(1,0.560)"><path d="M7.5,-5.0 Q16.8,-5.0 23.0,0 Q16.8,5.0 7.5,5.0 Z" fill="#ecb808" transform="rotate(0.0)"/><path d="M7.5,-5.0 Q16.8,-5.0 23.0,0 Q16.8,5.0 7.5,5.0 Z" fill="#ecb808" transform="rotate(25.7)"/><path d="M7.5,-5.0 Q16.8,-5.0 23.0,0 Q16.8,5.0 7.5,5.0 Z" fill="#ecb808" transform="rotate(51.4)"/><path d="M7.5,-5.0 Q16.8,-5.0 23.0,0 Q16.8,5.0 7.5,5.0 Z" fill="#ecb808" transform="rotate(77.1)"/><path d="M7.5,-5.0 Q16.8,-5.0 23.0,0 Q16.8,5.0 7.5,5.0 Z" fill="#ecb808" transform="rotate(102.9)"/><path d="M7.5,-5.0 Q16.8,-5.0 23.0,0 Q16.8,5.0 7.5,5.0 Z" fill="#ecb808" transform="rotate(128.6)"/><path d="M7.5,-5.0 Q16.8,-5.0 23.0,0 Q16.8,5.0 7.5,5.0 Z" fill="#ecb808" transform="rotate(154.3)"/><path d="M7.5,-5.0 Q16.8,-5.0 23.0,0 Q16.8,5.0 7.5,5.0 Z" fill="#ecb808" transform="rotate(180.0)"/><path d="M7.5,-5.0 Q16.8,-5.0 23.0,0 Q16.8,5.0 7.5,5.0 Z" fill="#ecb808" transform="rotate(205.7)"/><path d="M7.5,-5.0 Q16.8,-5.0 23.0,0 Q16.8,5.0 7.5,5.0 Z" fill="#ecb808" transform="rotate(231.4)"/><path d="M7.5,-5.0 Q16.8,-5.0 23.0,0 Q16.8,5.0 7.5,5.0 Z" fill="#ecb808" transform="rotate(257.1)"/><path d="M7.5,-5.0 Q16.8,-5.0 23.0,0 Q16.8,5.0 7.5,5.0 Z" fill="#ecb808" transform="rotate(282.9)"/><path d="M7.5,-5.0 Q16.8,-5.0 23.0,0 Q16.8,5.0 7.5,5.0 Z" fill="#ecb808" transform="rotate(308.6)"/><path d="M7.5,-5.0 Q16.8,-5.0 23.0,0 Q16.8,5.0 7.5,5.0 Z" fill="#ecb808" transform="rotate(334.3)"/><path d="M7.5,-5.0 Q15.9,-5.0 21.5,0 Q15.9,5.0 7.5,5.0 Z" fill="#fad41e" transform="rotate(12.9)"/><path d="M7.5,-5.0 Q15.9,-5.0 21.5,0 Q15.9,5.0 7.5,5.0 Z" fill="#fad41e" transform="rotate(38.6)"/><path d="M7.5,-5.0 Q15.9,-5.0 21.5,0 Q15.9,5.0 7.5,5.0 Z" fill="#fad41e" transform="rotate(64.3)"/><path d="M7.5,-5.0 Q15.9,-5.0 21.5,0 Q15.9,5.0 7.5,5.0 Z" fill="#fad41e" transform="rotate(90.0)"/><path d="M7.5,-5.0 Q15.9,-5.0 21.5,0 Q15.9,5.0 7.5,5.0 Z" fill="#fad41e" transform="rotate(115.7)"/><path d="M7.5,-5.0 Q15.9,-5.0 21.5,0 Q15.9,5.0 7.5,5.0 Z" fill="#fad41e" transform="rotate(141.4)"/><path d="M7.5,-5.0 Q15.9,-5.0 21.5,0 Q15.9,5.0 7.5,5.0 Z" fill="#fad41e" transform="rotate(167.1)"/><path d="M7.5,-5.0 Q15.9,-5.0 21.5,0 Q15.9,5.0 7.5,5.0 Z" fill="#fad41e" transform="rotate(192.9)"/><path d="M7.5,-5.0 Q15.9,-5.0 21.5,0 Q15.9,5.0 7.5,5.0 Z" fill="#fad41e" transform="rotate(218.6)"/><path d="M7.5,-5.0 Q15.9,-5.0 21.5,0 Q15.9,5.0 7.5,5.0 Z" fill="#fad41e" transform="rotate(244.3)"/><path d="M7.5,-5.0 Q15.9,-5.0 21.5,0 Q15.9,5.0 7.5,5.0 Z" fill="#fad41e" transform="rotate(270.0)"/><path d="M7.5,-5.0 Q15.9,-5.0 21.5,0 Q15.9,5.0 7.5,5.0 Z" fill="#fad41e" transform="rotate(295.7)"/><path d="M7.5,-5.0 Q15.9,-5.0 21.5,0 Q15.9,5.0 7.5,5.0 Z" fill="#fad41e" transform="rotate(321.4)"/><path d="M7.5,-5.0 Q15.9,-5.0 21.5,0 Q15.9,5.0 7.5,5.0 Z" fill="#fad41e" transform="rotate(347.1)"/><circle r="12.5" fill="#f5c814"/><ellipse rx="12.5" ry="10.7" fill="#3a2008"/></g>
<g transform="translate(1225.0,1199.3) rotate(0) scale(1,0.966)"><path d="M4.3,-2.9 Q9.7,-2.9 13.3,0 Q9.7,2.9 4.3,2.9 Z" fill="#ecb808" transform="rotate(0.0)"/><path d="M4.3,-2.9 Q9.7,-2.9 13.3,0 Q9.7,2.9 4.3,2.9 Z" fill="#ecb808" transform="rotate(25.7)"/><path d="M4.3,-2.9 Q9.7,-2.9 13.3,0 Q9.7,2.9 4.3,2.9 Z" fill="#ecb808" transform="rotate(51.4)"/><path d="M4.3,-2.9 Q9.7,-2.9 13.3,0 Q9.7,2.9 4.3,2.9 Z" fill="#ecb808" transform="rotate(77.1)"/><path d="M4.3,-2.9 Q9.7,-2.9 13.3,0 Q9.7,2.9 4.3,2.9 Z" fill="#ecb808" transform="rotate(102.9)"/><path d="M4.3,-2.9 Q9.7,-2.9 13.3,0 Q9.7,2.9 4.3,2.9 Z" fill="#ecb808" transform="rotate(128.6)"/><path d="M4.3,-2.9 Q9.7,-2.9 13.3,0 Q9.7,2.9 4.3,2.9 Z" fill="#ecb808" transform="rotate(154.3)"/><path d="M4.3,-2.9 Q9.7,-2.9 13.3,0 Q9.7,2.9 4.3,2.9 Z" fill="#ecb808" transform="rotate(180.0)"/><path d="M4.3,-2.9 Q9.7,-2.9 13.3,0 Q9.7,2.9 4.3,2.9 Z" fill="#ecb808" transform="rotate(205.7)"/><path d="M4.3,-2.9 Q9.7,-2.9 13.3,0 Q9.7,2.9 4.3,2.9 Z" fill="#ecb808" transform="rotate(231.4)"/><path d="M4.3,-2.9 Q9.7,-2.9 13.3,0 Q9.7,2.9 4.3,2.9 Z" fill="#ecb808" transform="rotate(257.1)"/><path d="M4.3,-2.9 Q9.7,-2.9 13.3,0 Q9.7,2.9 4.3,2.9 Z" fill="#ecb808" transform="rotate(282.9)"/><path d="M4.3,-2.9 Q9.7,-2.9 13.3,0 Q9.7,2.9 4.3,2.9 Z" fill="#ecb808" transform="rotate(308.6)"/><path d="M4.3,-2.9 Q9.7,-2.9 13.3,0 Q9.7,2.9 4.3,2.9 Z" fill="#ecb808" transform="rotate(334.3)"/><path d="M4.3,-2.9 Q9.2,-2.9 12.4,0 Q9.2,2.9 4.3,2.9 Z" fill="#fad41e" transform="rotate(12.9)"/><path d="M4.3,-2.9 Q9.2,-2.9 12.4,0 Q9.2,2.9 4.3,2.9 Z" fill="#fad41e" transform="rotate(38.6)"/><path d="M4.3,-2.9 Q9.2,-2.9 12.4,0 Q9.2,2.9 4.3,2.9 Z" fill="#fad41e" transform="rotate(64.3)"/><path d="M4.3,-2.9 Q9.2,-2.9 12.4,0 Q9.2,2.9 4.3,2.9 Z" fill="#fad41e" transform="rotate(90.0)"/><path d="M4.3,-2.9 Q9.2,-2.9 12.4,0 Q9.2,2.9 4.3,2.9 Z" fill="#fad41e" transform="rotate(115.7)"/><path d="M4.3,-2.9 Q9.2,-2.9 12.4,0 Q9.2,2.9 4.3,2.9 Z" fill="#fad41e" transform="rotate(141.4)"/><path d="M4.3,-2.9 Q9.2,-2.9 12.4,0 Q9.2,2.9 4.3,2.9 Z" fill="#fad41e" transform="rotate(167.1)"/><path d="M4.3,-2.9 Q9.2,-2.9 12.4,0 Q9.2,2.9 4.3,2.9 Z" fill="#fad41e" transform="rotate(192.9)"/><path d="M4.3,-2.9 Q9.2,-2.9 12.4,0 Q9.2,2.9 4.3,2.9 Z" fill="#fad41e" transform="rotate(218.6)"/><path d="M4.3,-2.9 Q9.2,-2.9 12.4,0 Q9.2,2.9 4.3,2.9 Z" fill="#fad41e" transform="rotate(244.3)"/><path d="M4.3,-2.9 Q9.2,-2.9 12.4,0 Q9.2,2.9 4.3,2.9 Z" fill="#fad41e" transform="rotate(270.0)"/><path d="M4.3,-2.9 Q9.2,-2.9 12.4,0 Q9.2,2.9 4.3,2.9 Z" fill="#fad41e" transform="rotate(295.7)"/><path d="M4.3,-2.9 Q9.2,-2.9 12.4,0 Q9.2,2.9 4.3,2.9 Z" fill="#fad41e" transform="rotate(321.4)"/><path d="M4.3,-2.9 Q9.2,-2.9 12.4,0 Q9.2,2.9 4.3,2.9 Z" fill="#fad41e" transform="rotate(347.1)"/><circle r="7.2" fill="#f5c814"/><ellipse rx="5.5" ry="5.7" fill="#3a2008"/></g>
<g transform="translate(1199.0,1213.0) rotate(0) scale(1,1.000)"><path d="M4.8,-3.2 Q10.8,-3.2 14.7,0 Q10.8,3.2 4.8,3.2 Z" fill="#ecb808" transform="rotate(0.0)"/><path d="M4.8,-3.2 Q10.8,-3.2 14.7,0 Q10.8,3.2 4.8,3.2 Z" fill="#ecb808" transform="rotate(25.7)"/><path d="M4.8,-3.2 Q10.8,-3.2 14.7,0 Q10.8,3.2 4.8,3.2 Z" fill="#ecb808" transform="rotate(51.4)"/><path d="M4.8,-3.2 Q10.8,-3.2 14.7,0 Q10.8,3.2 4.8,3.2 Z" fill="#ecb808" transform="rotate(77.1)"/><path d="M4.8,-3.2 Q10.8,-3.2 14.7,0 Q10.8,3.2 4.8,3.2 Z" fill="#ecb808" transform="rotate(102.9)"/><path d="M4.8,-3.2 Q10.8,-3.2 14.7,0 Q10.8,3.2 4.8,3.2 Z" fill="#ecb808" transform="rotate(128.6)"/><path d="M4.8,-3.2 Q10.8,-3.2 14.7,0 Q10.8,3.2 4.8,3.2 Z" fill="#ecb808" transform="rotate(154.3)"/><path d="M4.8,-3.2 Q10.8,-3.2 14.7,0 Q10.8,3.2 4.8,3.2 Z" fill="#ecb808" transform="rotate(180.0)"/><path d="M4.8,-3.2 Q10.8,-3.2 14.7,0 Q10.8,3.2 4.8,3.2 Z" fill="#ecb808" transform="rotate(205.7)"/><path d="M4.8,-3.2 Q10.8,-3.2 14.7,0 Q10.8,3.2 4.8,3.2 Z" fill="#ecb808" transform="rotate(231.4)"/><path d="M4.8,-3.2 Q10.8,-3.2 14.7,0 Q10.8,3.2 4.8,3.2 Z" fill="#ecb808" transform="rotate(257.1)"/><path d="M4.8,-3.2 Q10.8,-3.2 14.7,0 Q10.8,3.2 4.8,3.2 Z" fill="#ecb808" transform="rotate(282.9)"/><path d="M4.8,-3.2 Q10.8,-3.2 14.7,0 Q10.8,3.2 4.8,3.2 Z" fill="#ecb808" transform="rotate(308.6)"/><path d="M4.8,-3.2 Q10.8,-3.2 14.7,0 Q10.8,3.2 4.8,3.2 Z" fill="#ecb808" transform="rotate(334.3)"/><path d="M4.8,-3.2 Q10.2,-3.2 13.7,0 Q10.2,3.2 4.8,3.2 Z" fill="#fad41e" transform="rotate(12.9)"/><path d="M4.8,-3.2 Q10.2,-3.2 13.7,0 Q10.2,3.2 4.8,3.2 Z" fill="#fad41e" transform="rotate(38.6)"/><path d="M4.8,-3.2 Q10.2,-3.2 13.7,0 Q10.2,3.2 4.8,3.2 Z" fill="#fad41e" transform="rotate(64.3)"/><path d="M4.8,-3.2 Q10.2,-3.2 13.7,0 Q10.2,3.2 4.8,3.2 Z" fill="#fad41e" transform="rotate(90.0)"/><path d="M4.8,-3.2 Q10.2,-3.2 13.7,0 Q10.2,3.2 4.8,3.2 Z" fill="#fad41e" transform="rotate(115.7)"/><path d="M4.8,-3.2 Q10.2,-3.2 13.7,0 Q10.2,3.2 4.8,3.2 Z" fill="#fad41e" transform="rotate(141.4)"/><path d="M4.8,-3.2 Q10.2,-3.2 13.7,0 Q10.2,3.2 4.8,3.2 Z" fill="#fad41e" transform="rotate(167.1)"/><path d="M4.8,-3.2 Q10.2,-3.2 13.7,0 Q10.2,3.2 4.8,3.2 Z" fill="#fad41e" transform="rotate(192.9)"/><path d="M4.8,-3.2 Q10.2,-3.2 13.7,0 Q10.2,3.2 4.8,3.2 Z" fill="#fad41e" transform="rotate(218.6)"/><path d="M4.8,-3.2 Q10.2,-3.2 13.7,0 Q10.2,3.2 4.8,3.2 Z" fill="#fad41e" transform="rotate(244.3)"/><path d="M4.8,-3.2 Q10.2,-3.2 13.7,0 Q10.2,3.2 4.8,3.2 Z" fill="#fad41e" transform="rotate(270.0)"/><path d="M4.8,-3.2 Q10.2,-3.2 13.7,0 Q10.2,3.2 4.8,3.2 Z" fill="#fad41e" transform="rotate(295.7)"/><path d="M4.8,-3.2 Q10.2,-3.2 13.7,0 Q10.2,3.2 4.8,3.2 Z" fill="#fad41e" transform="rotate(321.4)"/><path d="M4.8,-3.2 Q10.2,-3.2 13.7,0 Q10.2,3.2 4.8,3.2 Z" fill="#fad41e" transform="rotate(347.1)"/><circle r="8.0" fill="#f5c814"/><ellipse rx="6.5" ry="6.5" fill="#3a2008"/></g>
<g transform="translate(1235.0,1224.6) rotate(0) scale(1,1.000)"><path d="M3.9,-2.6 Q8.7,-2.6 12.0,0 Q8.7,2.6 3.9,2.6 Z" fill="#ecb808" transform="rotate(0.0)"/><path d="M3.9,-2.6 Q8.7,-2.6 12.0,0 Q8.7,2.6 3.9,2.6 Z" fill="#ecb808" transform="rotate(25.7)"/><path d="M3.9,-2.6 Q8.7,-2.6 12.0,0 Q8.7,2.6 3.9,2.6 Z" fill="#ecb808" transform="rotate(51.4)"/><path d="M3.9,-2.6 Q8.7,-2.6 12.0,0 Q8.7,2.6 3.9,2.6 Z" fill="#ecb808" transform="rotate(77.1)"/><path d="M3.9,-2.6 Q8.7,-2.6 12.0,0 Q8.7,2.6 3.9,2.6 Z" fill="#ecb808" transform="rotate(102.9)"/><path d="M3.9,-2.6 Q8.7,-2.6 12.0,0 Q8.7,2.6 3.9,2.6 Z" fill="#ecb808" transform="rotate(128.6)"/><path d="M3.9,-2.6 Q8.7,-2.6 12.0,0 Q8.7,2.6 3.9,2.6 Z" fill="#ecb808" transform="rotate(154.3)"/><path d="M3.9,-2.6 Q8.7,-2.6 12.0,0 Q8.7,2.6 3.9,2.6 Z" fill="#ecb808" transform="rotate(180.0)"/><path d="M3.9,-2.6 Q8.7,-2.6 12.0,0 Q8.7,2.6 3.9,2.6 Z" fill="#ecb808" transform="rotate(205.7)"/><path d="M3.9,-2.6 Q8.7,-2.6 12.0,0 Q8.7,2.6 3.9,2.6 Z" fill="#ecb808" transform="rotate(231.4)"/><path d="M3.9,-2.6 Q8.7,-2.6 12.0,0 Q8.7,2.6 3.9,2.6 Z" fill="#ecb808" transform="rotate(257.1)"/><path d="M3.9,-2.6 Q8.7,-2.6 12.0,0 Q8.7,2.6 3.9,2.6 Z" fill="#ecb808" transform="rotate(282.9)"/><path d="M3.9,-2.6 Q8.7,-2.6 12.0,0 Q8.7,2.6 3.9,2.6 Z" fill="#ecb808" transform="rotate(308.6)"/><path d="M3.9,-2.6 Q8.7,-2.6 12.0,0 Q8.7,2.6 3.9,2.6 Z" fill="#ecb808" transform="rotate(334.3)"/><path d="M3.9,-2.6 Q8.3,-2.6 11.2,0 Q8.3,2.6 3.9,2.6 Z" fill="#fad41e" transform="rotate(12.9)"/><path d="M3.9,-2.6 Q8.3,-2.6 11.2,0 Q8.3,2.6 3.9,2.6 Z" fill="#fad41e" transform="rotate(38.6)"/><path d="M3.9,-2.6 Q8.3,-2.6 11.2,0 Q8.3,2.6 3.9,2.6 Z" fill="#fad41e" transform="rotate(64.3)"/><path d="M3.9,-2.6 Q8.3,-2.6 11.2,0 Q8.3,2.6 3.9,2.6 Z" fill="#fad41e" transform="rotate(90.0)"/><path d="M3.9,-2.6 Q8.3,-2.6 11.2,0 Q8.3,2.6 3.9,2.6 Z" fill="#fad41e" transform="rotate(115.7)"/><path d="M3.9,-2.6 Q8.3,-2.6 11.2,0 Q8.3,2.6 3.9,2.6 Z" fill="#fad41e" transform="rotate(141.4)"/><path d="M3.9,-2.6 Q8.3,-2.6 11.2,0 Q8.3,2.6 3.9,2.6 Z" fill="#fad41e" transform="rotate(167.1)"/><path d="M3.9,-2.6 Q8.3,-2.6 11.2,0 Q8.3,2.6 3.9,2.6 Z" fill="#fad41e" transform="rotate(192.9)"/><path d="M3.9,-2.6 Q8.3,-2.6 11.2,0 Q8.3,2.6 3.9,2.6 Z" fill="#fad41e" transform="rotate(218.6)"/><path d="M3.9,-2.6 Q8.3,-2.6 11.2,0 Q8.3,2.6 3.9,2.6 Z" fill="#fad41e" transform="rotate(244.3)"/><path d="M3.9,-2.6 Q8.3,-2.6 11.2,0 Q8.3,2.6 3.9,2.6 Z" fill="#fad41e" transform="rotate(270.0)"/><path d="M3.9,-2.6 Q8.3,-2.6 11.2,0 Q8.3,2.6 3.9,2.6 Z" fill="#fad41e" transform="rotate(295.7)"/><path d="M3.9,-2.6 Q8.3,-2.6 11.2,0 Q8.3,2.6 3.9,2.6 Z" fill="#fad41e" transform="rotate(321.4)"/><path d="M3.9,-2.6 Q8.3,-2.6 11.2,0 Q8.3,2.6 3.9,2.6 Z" fill="#fad41e" transform="rotate(347.1)"/><circle r="6.5" fill="#f5c814"/><ellipse rx="4.8" ry="4.8" fill="#3a2008"/></g>
</g>
<path d="M1194,1262 L1236,1262 Q1236.0,1278.8 1234.5,1295.5 L1195.5,1295.5 Q1194.0,1278.8 1194,1262 Z" fill="url(#gpot)"/>
<rect x="1194.5" y="1262" width="41" height="3" fill="#f3f3f3"/>
<path d="M1194.5,1294.5 L1235.5,1294.5 L1233.5,1303.0 L1196.5,1303.0 Z" fill="#e8e8e8" stroke="#d2d2d2" stroke-width="0.8"/>
<rect x="1195" y="1260.5" width="40" height="2.5" fill="#3b2a18" opacity="0.8"/>
<rect x="273.0" y="1312.2" width="16" height="7.5" fill="#3a3a3a"/>
<rect x="273.0" y="1312.2" width="16" height="2" fill="#777"/>
<path d="M281.0,1319 L281.0,1347 Q281.0,1357 290.0,1357 L296.0,1357" stroke="#262626" stroke-width="5" fill="none"/>
<path d="M301.0,1355 Q309.5,1359 309.5,1375" stroke="#2b82e2" stroke-width="8" fill="none"/>
<path d="M306.0,1354 Q312.5,1360 312.5,1374" stroke="#1a5dcc" stroke-width="2" fill="none" opacity="0.8"/>
<ellipse cx="299.0" cy="1358" rx="6" ry="7.2" fill="#2f8cee"/>
<ellipse cx="298.0" cy="1358.2" rx="1.8" ry="2.8" fill="#10204a"/>
<rect x="439.5" y="1312.2" width="16" height="7.5" fill="#3a3a3a"/>
<rect x="439.5" y="1312.2" width="16" height="2" fill="#777"/>
<path d="M447.5,1319 L447.5,1347 Q447.5,1357 456.5,1357 L462.5,1357" stroke="#262626" stroke-width="5" fill="none"/>
<path d="M467.5,1355 Q476.0,1359 476.0,1375" stroke="#2b82e2" stroke-width="8" fill="none"/>
<path d="M472.5,1354 Q479.0,1360 479.0,1374" stroke="#1a5dcc" stroke-width="2" fill="none" opacity="0.8"/>
<ellipse cx="465.5" cy="1358" rx="6" ry="7.2" fill="#2f8cee"/>
<ellipse cx="464.5" cy="1358.2" rx="1.8" ry="2.8" fill="#10204a"/>
<rect x="606.0" y="1312.2" width="16" height="7.5" fill="#3a3a3a"/>
<rect x="606.0" y="1312.2" width="16" height="2" fill="#777"/>
<path d="M614.0,1319 L614.0,1347 Q614.0,1357 623.0,1357 L629.0,1357" stroke="#262626" stroke-width="5" fill="none"/>
<path d="M634.0,1355 Q642.5,1359 642.5,1375" stroke="#2b82e2" stroke-width="8" fill="none"/>
<path d="M639.0,1354 Q645.5,1360 645.5,1374" stroke="#1a5dcc" stroke-width="2" fill="none" opacity="0.8"/>
<ellipse cx="632.0" cy="1358" rx="6" ry="7.2" fill="#2f8cee"/>
<ellipse cx="631.0" cy="1358.2" rx="1.8" ry="2.8" fill="#10204a"/>
<rect x="772.5" y="1312.2" width="16" height="7.5" fill="#3a3a3a"/>
<rect x="772.5" y="1312.2" width="16" height="2" fill="#777"/>
<path d="M780.5,1319 L780.5,1347 Q780.5,1357 789.5,1357 L795.5,1357" stroke="#262626" stroke-width="5" fill="none"/>
<path d="M800.5,1355 Q809.0,1359 809.0,1375" stroke="#2b82e2" stroke-width="8" fill="none"/>
<path d="M805.5,1354 Q812.0,1360 812.0,1374" stroke="#1a5dcc" stroke-width="2" fill="none" opacity="0.8"/>
<ellipse cx="798.5" cy="1358" rx="6" ry="7.2" fill="#2f8cee"/>
<ellipse cx="797.5" cy="1358.2" rx="1.8" ry="2.8" fill="#10204a"/>
<rect x="939.0" y="1312.2" width="16" height="7.5" fill="#3a3a3a"/>
<rect x="939.0" y="1312.2" width="16" height="2" fill="#777"/>
<path d="M947.0,1319 L947.0,1347 Q947.0,1357 956.0,1357 L962.0,1357" stroke="#262626" stroke-width="5" fill="none"/>
<path d="M967.0,1355 Q975.5,1359 975.5,1375" stroke="#2b82e2" stroke-width="8" fill="none"/>
<path d="M972.0,1354 Q978.5,1360 978.5,1374" stroke="#1a5dcc" stroke-width="2" fill="none" opacity="0.8"/>
<ellipse cx="965.0" cy="1358" rx="6" ry="7.2" fill="#2f8cee"/>
<ellipse cx="964.0" cy="1358.2" rx="1.8" ry="2.8" fill="#10204a"/>
<rect x="1105.5" y="1312.2" width="16" height="7.5" fill="#3a3a3a"/>
<rect x="1105.5" y="1312.2" width="16" height="2" fill="#777"/>
<path d="M1113.5,1319 L1113.5,1347 Q1113.5,1357 1122.5,1357 L1128.5,1357" stroke="#262626" stroke-width="5" fill="none"/>
<path d="M1133.5,1355 Q1142.0,1359 1142.0,1375" stroke="#2b82e2" stroke-width="8" fill="none"/>
<path d="M1138.5,1354 Q1145.0,1360 1145.0,1374" stroke="#1a5dcc" stroke-width="2" fill="none" opacity="0.8"/>
<ellipse cx="1131.5" cy="1358" rx="6" ry="7.2" fill="#2f8cee"/>
<ellipse cx="1130.5" cy="1358.2" rx="1.8" ry="2.8" fill="#10204a"/>
<rect x="1272.0" y="1312.2" width="16" height="7.5" fill="#3a3a3a"/>
<rect x="1272.0" y="1312.2" width="16" height="2" fill="#777"/>
<path d="M1280.0,1319 L1280.0,1347 Q1280.0,1357 1289.0,1357 L1295.0,1357" stroke="#262626" stroke-width="5" fill="none"/>
<path d="M1300.0,1355 Q1308.5,1359 1308.5,1375" stroke="#2b82e2" stroke-width="8" fill="none"/>
<path d="M1305.0,1354 Q1311.5,1360 1311.5,1374" stroke="#1a5dcc" stroke-width="2" fill="none" opacity="0.8"/>
<ellipse cx="1298.0" cy="1358" rx="6" ry="7.2" fill="#2f8cee"/>
<ellipse cx="1297.0" cy="1358.2" rx="1.8" ry="2.8" fill="#10204a"/>
<g>
<line x1="308.0" y1="1441" x2="286.0" y2="1405" stroke="#6aae44" stroke-width="3.2"/>
<line x1="308.0" y1="1441" x2="301.0" y2="1395" stroke="#6aae44" stroke-width="3.2"/>
<line x1="308.0" y1="1441" x2="321.0" y2="1385" stroke="#6aae44" stroke-width="3.2"/>
<line x1="308.0" y1="1441" x2="336.0" y2="1395" stroke="#6aae44" stroke-width="3.2"/>
<line x1="308.0" y1="1441" x2="346.0" y2="1410" stroke="#6aae44" stroke-width="3.2"/>
<line x1="308.0" y1="1441" x2="311.0" y2="1420" stroke="#6aae44" stroke-width="3.2"/>
<line x1="308.0" y1="1441" x2="296.0" y2="1425" stroke="#6aae44" stroke-width="3.2"/>
<line x1="308.0" y1="1441" x2="331.0" y2="1425" stroke="#6aae44" stroke-width="3.2"/>
<g transform="translate(252.0,1391.2) rotate(193)"><path d="M-20.0,0 C-11.0,-14.0 9.0,-13.1 20.0,0 C9.0,13.1 -11.0,14.0 -20.0,0 Z" fill="#2b5833" opacity="1"/><path d="M-14.0,-1.6 C-8.0,-10.0 6.0,-9.5 16.0,-1.1 Z" fill="#4f8a58" opacity="0.55"/></g>
<g transform="translate(280.3,1380.5) rotate(204)"><path d="M-24.0,0 C-13.2,-12.0 10.8,-11.2 24.0,0 C10.8,11.2 -13.2,12.0 -24.0,0 Z" fill="#22482a" opacity="1"/><path d="M-16.8,-1.3 C-9.6,-8.5 7.2,-8.1 19.2,-0.9 Z" fill="#4f8a58" opacity="0.55"/></g>
<g transform="translate(286.7,1372.0) rotate(215)"><path d="M-19.0,0 C-10.5,-10.6 8.6,-10.0 19.0,0 C8.6,10.0 -10.5,10.6 -19.0,0 Z" fill="#2b5833" opacity="1"/><path d="M-13.3,-1.2 C-7.6,-7.6 5.7,-7.2 15.2,-0.8 Z" fill="#4f8a58" opacity="0.55"/></g>
<g transform="translate(326.7,1376.3) rotate(-50)"><path d="M-28.5,0 C-15.7,-21.9 12.8,-20.6 28.5,0 C12.8,20.6 -15.7,21.9 -28.5,0 Z" fill="#2b5833" opacity="1"/><path d="M-19.9,-2.5 C-11.4,-15.7 8.5,-14.8 22.8,-1.7 Z" fill="#4f8a58" opacity="0.55"/></g>
<g transform="translate(342.7,1382.7) rotate(-42)"><path d="M-26.0,0 C-14.3,-7.3 11.7,-6.9 26.0,0 C11.7,6.9 -14.3,7.3 -26.0,0 Z" fill="#5fa33a" opacity="1"/></g>
<g transform="translate(355.0,1389.6) rotate(-16)"><path d="M-22.0,0 C-12.1,-10.0 9.9,-9.4 22.0,0 C9.9,9.4 -12.1,10.0 -22.0,0 Z" fill="#2b5833" opacity="1"/><path d="M-15.4,-1.1 C-8.8,-7.1 6.6,-6.8 17.6,-0.8 Z" fill="#4f8a58" opacity="0.55"/></g>
<g transform="translate(355.5,1412.0) rotate(7)"><path d="M-22.0,0 C-12.1,-6.7 9.9,-6.2 22.0,0 C9.9,6.2 -12.1,6.7 -22.0,0 Z" fill="#22482a" opacity="1"/><path d="M-15.4,-0.8 C-8.8,-4.8 6.6,-4.5 17.6,-0.5 Z" fill="#4f8a58" opacity="0.55"/></g>
<g transform="translate(357.0,1421.0) rotate(16)"><path d="M-23.5,0 C-12.9,-6.0 10.6,-5.6 23.5,0 C10.6,5.6 -12.9,6.0 -23.5,0 Z" fill="#22482a" opacity="1"/><path d="M-16.4,-0.7 C-9.4,-4.3 7.0,-4.0 18.8,-0.5 Z" fill="#4f8a58" opacity="0.55"/></g>
<g transform="translate(355.5,1436.0) rotate(34)"><path d="M-19.0,0 C-10.5,-6.0 8.6,-5.6 19.0,0 C8.6,5.6 -10.5,6.0 -19.0,0 Z" fill="#22482a" opacity="1"/><path d="M-13.3,-0.7 C-7.6,-4.3 5.7,-4.0 15.2,-0.5 Z" fill="#4f8a58" opacity="0.55"/></g>
<g transform="translate(259.5,1419.5) rotate(160)"><path d="M-17.5,0 C-9.6,-8.0 7.9,-7.5 17.5,0 C7.9,7.5 -9.6,8.0 -17.5,0 Z" fill="#2b5833" opacity="1"/><path d="M-12.2,-0.9 C-7.0,-5.7 5.2,-5.4 14.0,-0.6 Z" fill="#4f8a58" opacity="0.55"/></g>
<g transform="translate(285.1,1406.0) rotate(5)"><path d="M-28.0,0 C-15.4,-14.0 12.6,-13.1 28.0,0 C12.6,13.1 -15.4,14.0 -28.0,0 Z" fill="#3f7a3f" opacity="1"/></g>
<g transform="translate(281.9,1429.0) rotate(195)"><path d="M-12.5,0 C-6.9,-6.7 5.6,-6.2 12.5,0 C5.6,6.2 -6.9,6.7 -12.5,0 Z" fill="#2b5833" opacity="1"/><path d="M-8.8,-0.8 C-5.0,-4.8 3.8,-4.5 10.0,-0.5 Z" fill="#4f8a58" opacity="0.55"/></g>
<g transform="translate(331.0,1426.0) rotate(60)"><path d="M-14.0,0 C-7.7,-6.0 6.3,-5.6 14.0,0 C6.3,5.6 -7.7,6.0 -14.0,0 Z" fill="#3f7a3f" opacity="1"/></g>
<g transform="translate(317.0,1404.0) rotate(-70)"><path d="M-13.0,0 C-7.2,-5.3 5.9,-5.0 13.0,0 C5.9,5.0 -7.2,5.3 -13.0,0 Z" fill="#5fa33a" opacity="1"/></g>
<g transform="translate(307.0,1394.0) rotate(-100)"><path d="M-15.0,0 C-8.2,-8.0 6.8,-7.5 15.0,0 C6.8,7.5 -8.2,8.0 -15.0,0 Z" fill="#4d8f42" opacity="1"/></g>
<g transform="translate(321.0,1415.0) rotate(30)"><path d="M-15.0,0 C-8.2,-8.0 6.8,-7.5 15.0,0 C6.8,7.5 -8.2,8.0 -15.0,0 Z" fill="#3f7a3f" opacity="1"/></g>
<g transform="translate(299.0,1425.0) rotate(-120)"><path d="M-11.0,0 C-6.1,-6.0 5.0,-5.6 11.0,0 C5.0,5.6 -6.1,6.0 -11.0,0 Z" fill="#5fa33a" opacity="1"/></g>
<g transform="translate(339.0,1400.0) rotate(-15)"><path d="M-13.0,0 C-7.2,-6.7 5.9,-6.2 13.0,0 C5.9,6.2 -7.2,6.7 -13.0,0 Z" fill="#3f7a3f" opacity="1"/></g>
</g>
<ellipse cx="308.2" cy="1442.5" rx="26.5" ry="3.8" fill="#222"/>
<ellipse cx="308.2" cy="1442" rx="24" ry="2.6" fill="#5a3b22"/>
<path d="M282.3,1442 L334.3,1442 Q333.2,1469.0 330.5,1496 L286.0,1496 Q283.3,1469.0 282.3,1442 Z" fill="url(#gpot2)"/>
<rect x="282.8" y="1442" width="51.0" height="3" fill="#f3f3f3"/>
<line x1="288.8" y1="1445" x2="291.6" y2="1494" stroke="#cdcdcd" stroke-width="0.9"/>
<line x1="295.3" y1="1445" x2="297.1" y2="1494" stroke="#cdcdcd" stroke-width="0.9"/>
<line x1="301.8" y1="1445" x2="302.7" y2="1494" stroke="#cdcdcd" stroke-width="0.9"/>
<line x1="308.3" y1="1445" x2="308.2" y2="1494" stroke="#cdcdcd" stroke-width="0.9"/>
<line x1="314.8" y1="1445" x2="313.8" y2="1494" stroke="#cdcdcd" stroke-width="0.9"/>
<line x1="321.3" y1="1445" x2="319.4" y2="1494" stroke="#cdcdcd" stroke-width="0.9"/>
<line x1="327.8" y1="1445" x2="324.9" y2="1494" stroke="#cdcdcd" stroke-width="0.9"/>
<g>
<line x1="474.5" y1="1441" x2="452.5" y2="1405" stroke="#6aae44" stroke-width="3.2"/>
<line x1="474.5" y1="1441" x2="467.5" y2="1395" stroke="#6aae44" stroke-width="3.2"/>
<line x1="474.5" y1="1441" x2="487.5" y2="1385" stroke="#6aae44" stroke-width="3.2"/>
<line x1="474.5" y1="1441" x2="502.5" y2="1395" stroke="#6aae44" stroke-width="3.2"/>
<line x1="474.5" y1="1441" x2="512.5" y2="1410" stroke="#6aae44" stroke-width="3.2"/>
<line x1="474.5" y1="1441" x2="477.5" y2="1420" stroke="#6aae44" stroke-width="3.2"/>
<line x1="474.5" y1="1441" x2="462.5" y2="1425" stroke="#6aae44" stroke-width="3.2"/>
<line x1="474.5" y1="1441" x2="497.5" y2="1425" stroke="#6aae44" stroke-width="3.2"/>
<g transform="translate(418.5,1391.2) rotate(193)"><path d="M-20.0,0 C-11.0,-14.0 9.0,-13.1 20.0,0 C9.0,13.1 -11.0,14.0 -20.0,0 Z" fill="#2b5833" opacity="1"/><path d="M-14.0,-1.6 C-8.0,-10.0 6.0,-9.5 16.0,-1.1 Z" fill="#4f8a58" opacity="0.55"/></g>
<g transform="translate(446.8,1380.5) rotate(204)"><path d="M-24.0,0 C-13.2,-12.0 10.8,-11.2 24.0,0 C10.8,11.2 -13.2,12.0 -24.0,0 Z" fill="#22482a" opacity="1"/><path d="M-16.8,-1.3 C-9.6,-8.5 7.2,-8.1 19.2,-0.9 Z" fill="#4f8a58" opacity="0.55"/></g>
<g transform="translate(453.2,1372.0) rotate(215)"><path d="M-19.0,0 C-10.5,-10.6 8.6,-10.0 19.0,0 C8.6,10.0 -10.5,10.6 -19.0,0 Z" fill="#2b5833" opacity="1"/><path d="M-13.3,-1.2 C-7.6,-7.6 5.7,-7.2 15.2,-0.8 Z" fill="#4f8a58" opacity="0.55"/></g>
<g transform="translate(493.2,1376.3) rotate(-50)"><path d="M-28.5,0 C-15.7,-21.9 12.8,-20.6 28.5,0 C12.8,20.6 -15.7,21.9 -28.5,0 Z" fill="#2b5833" opacity="1"/><path d="M-19.9,-2.5 C-11.4,-15.7 8.5,-14.8 22.8,-1.7 Z" fill="#4f8a58" opacity="0.55"/></g>
<g transform="translate(509.2,1382.7) rotate(-42)"><path d="M-26.0,0 C-14.3,-7.3 11.7,-6.9 26.0,0 C11.7,6.9 -14.3,7.3 -26.0,0 Z" fill="#5fa33a" opacity="1"/></g>
<g transform="translate(521.5,1389.6) rotate(-16)"><path d="M-22.0,0 C-12.1,-10.0 9.9,-9.4 22.0,0 C9.9,9.4 -12.1,10.0 -22.0,0 Z" fill="#2b5833" opacity="1"/><path d="M-15.4,-1.1 C-8.8,-7.1 6.6,-6.8 17.6,-0.8 Z" fill="#4f8a58" opacity="0.55"/></g>
<g transform="translate(522.0,1412.0) rotate(7)"><path d="M-22.0,0 C-12.1,-6.7 9.9,-6.2 22.0,0 C9.9,6.2 -12.1,6.7 -22.0,0 Z" fill="#22482a" opacity="1"/><path d="M-15.4,-0.8 C-8.8,-4.8 6.6,-4.5 17.6,-0.5 Z" fill="#4f8a58" opacity="0.55"/></g>
<g transform="translate(523.5,1421.0) rotate(16)"><path d="M-23.5,0 C-12.9,-6.0 10.6,-5.6 23.5,0 C10.6,5.6 -12.9,6.0 -23.5,0 Z" fill="#22482a" opacity="1"/><path d="M-16.4,-0.7 C-9.4,-4.3 7.0,-4.0 18.8,-0.5 Z" fill="#4f8a58" opacity="0.55"/></g>
<g transform="translate(522.0,1436.0) rotate(34)"><path d="M-19.0,0 C-10.5,-6.0 8.6,-5.6 19.0,0 C8.6,5.6 -10.5,6.0 -19.0,0 Z" fill="#22482a" opacity="1"/><path d="M-13.3,-0.7 C-7.6,-4.3 5.7,-4.0 15.2,-0.5 Z" fill="#4f8a58" opacity="0.55"/></g>
<g transform="translate(426.0,1419.5) rotate(160)"><path d="M-17.5,0 C-9.6,-8.0 7.9,-7.5 17.5,0 C7.9,7.5 -9.6,8.0 -17.5,0 Z" fill="#2b5833" opacity="1"/><path d="M-12.2,-0.9 C-7.0,-5.7 5.2,-5.4 14.0,-0.6 Z" fill="#4f8a58" opacity="0.55"/></g>
<g transform="translate(451.6,1406.0) rotate(5)"><path d="M-28.0,0 C-15.4,-14.0 12.6,-13.1 28.0,0 C12.6,13.1 -15.4,14.0 -28.0,0 Z" fill="#3f7a3f" opacity="1"/></g>
<g transform="translate(448.4,1429.0) rotate(195)"><path d="M-12.5,0 C-6.9,-6.7 5.6,-6.2 12.5,0 C5.6,6.2 -6.9,6.7 -12.5,0 Z" fill="#2b5833" opacity="1"/><path d="M-8.8,-0.8 C-5.0,-4.8 3.8,-4.5 10.0,-0.5 Z" fill="#4f8a58" opacity="0.55"/></g>
<g transform="translate(497.5,1426.0) rotate(60)"><path d="M-14.0,0 C-7.7,-6.0 6.3,-5.6 14.0,0 C6.3,5.6 -7.7,6.0 -14.0,0 Z" fill="#3f7a3f" opacity="1"/></g>
<g transform="translate(483.5,1404.0) rotate(-70)"><path d="M-13.0,0 C-7.2,-5.3 5.9,-5.0 13.0,0 C5.9,5.0 -7.2,5.3 -13.0,0 Z" fill="#5fa33a" opacity="1"/></g>
<g transform="translate(473.5,1394.0) rotate(-100)"><path d="M-15.0,0 C-8.2,-8.0 6.8,-7.5 15.0,0 C6.8,7.5 -8.2,8.0 -15.0,0 Z" fill="#4d8f42" opacity="1"/></g>
<g transform="translate(487.5,1415.0) rotate(30)"><path d="M-15.0,0 C-8.2,-8.0 6.8,-7.5 15.0,0 C6.8,7.5 -8.2,8.0 -15.0,0 Z" fill="#3f7a3f" opacity="1"/></g>
<g transform="translate(465.5,1425.0) rotate(-120)"><path d="M-11.0,0 C-6.1,-6.0 5.0,-5.6 11.0,0 C5.0,5.6 -6.1,6.0 -11.0,0 Z" fill="#5fa33a" opacity="1"/></g>
<g transform="translate(505.5,1400.0) rotate(-15)"><path d="M-13.0,0 C-7.2,-6.7 5.9,-6.2 13.0,0 C5.9,6.2 -7.2,6.7 -13.0,0 Z" fill="#3f7a3f" opacity="1"/></g>
</g>
<ellipse cx="474.7" cy="1442.5" rx="26.5" ry="3.8" fill="#222"/>
<ellipse cx="474.7" cy="1442" rx="24" ry="2.6" fill="#5a3b22"/>
<path d="M448.8,1442 L500.8,1442 Q499.7,1469.0 497.0,1496 L452.5,1496 Q449.8,1469.0 448.8,1442 Z" fill="url(#gpot2)"/>
<rect x="449.3" y="1442" width="51.0" height="3" fill="#f3f3f3"/>
<line x1="455.3" y1="1445" x2="458.1" y2="1494" stroke="#cdcdcd" stroke-width="0.9"/>
<line x1="461.8" y1="1445" x2="463.6" y2="1494" stroke="#cdcdcd" stroke-width="0.9"/>
<line x1="468.3" y1="1445" x2="469.2" y2="1494" stroke="#cdcdcd" stroke-width="0.9"/>
<line x1="474.8" y1="1445" x2="474.8" y2="1494" stroke="#cdcdcd" stroke-width="0.9"/>
<line x1="481.3" y1="1445" x2="480.3" y2="1494" stroke="#cdcdcd" stroke-width="0.9"/>
<line x1="487.8" y1="1445" x2="485.9" y2="1494" stroke="#cdcdcd" stroke-width="0.9"/>
<line x1="494.3" y1="1445" x2="491.4" y2="1494" stroke="#cdcdcd" stroke-width="0.9"/>
<g>
<line x1="641.0" y1="1441" x2="619.0" y2="1405" stroke="#6aae44" stroke-width="3.2"/>
<line x1="641.0" y1="1441" x2="634.0" y2="1395" stroke="#6aae44" stroke-width="3.2"/>
<line x1="641.0" y1="1441" x2="654.0" y2="1385" stroke="#6aae44" stroke-width="3.2"/>
<line x1="641.0" y1="1441" x2="669.0" y2="1395" stroke="#6aae44" stroke-width="3.2"/>
<line x1="641.0" y1="1441" x2="679.0" y2="1410" stroke="#6aae44" stroke-width="3.2"/>
<line x1="641.0" y1="1441" x2="644.0" y2="1420" stroke="#6aae44" stroke-width="3.2"/>
<line x1="641.0" y1="1441" x2="629.0" y2="1425" stroke="#6aae44" stroke-width="3.2"/>
<line x1="641.0" y1="1441" x2="664.0" y2="1425" stroke="#6aae44" stroke-width="3.2"/>
<g transform="translate(585.0,1391.2) rotate(193)"><path d="M-20.0,0 C-11.0,-14.0 9.0,-13.1 20.0,0 C9.0,13.1 -11.0,14.0 -20.0,0 Z" fill="#2b5833" opacity="1"/><path d="M-14.0,-1.6 C-8.0,-10.0 6.0,-9.5 16.0,-1.1 Z" fill="#4f8a58" opacity="0.55"/></g>
<g transform="translate(613.3,1380.5) rotate(204)"><path d="M-24.0,0 C-13.2,-12.0 10.8,-11.2 24.0,0 C10.8,11.2 -13.2,12.0 -24.0,0 Z" fill="#22482a" opacity="1"/><path d="M-16.8,-1.3 C-9.6,-8.5 7.2,-8.1 19.2,-0.9 Z" fill="#4f8a58" opacity="0.55"/></g>
<g transform="translate(619.7,1372.0) rotate(215)"><path d="M-19.0,0 C-10.5,-10.6 8.6,-10.0 19.0,0 C8.6,10.0 -10.5,10.6 -19.0,0 Z" fill="#2b5833" opacity="1"/><path d="M-13.3,-1.2 C-7.6,-7.6 5.7,-7.2 15.2,-0.8 Z" fill="#4f8a58" opacity="0.55"/></g>
<g transform="translate(659.7,1376.3) rotate(-50)"><path d="M-28.5,0 C-15.7,-21.9 12.8,-20.6 28.5,0 C12.8,20.6 -15.7,21.9 -28.5,0 Z" fill="#2b5833" opacity="1"/><path d="M-19.9,-2.5 C-11.4,-15.7 8.5,-14.8 22.8,-1.7 Z" fill="#4f8a58" opacity="0.55"/></g>
<g transform="translate(675.7,1382.7) rotate(-42)"><path d="M-26.0,0 C-14.3,-7.3 11.7,-6.9 26.0,0 C11.7,6.9 -14.3,7.3 -26.0,0 Z" fill="#5fa33a" opacity="1"/></g>
<g transform="translate(688.0,1389.6) rotate(-16)"><path d="M-22.0,0 C-12.1,-10.0 9.9,-9.4 22.0,0 C9.9,9.4 -12.1,10.0 -22.0,0 Z" fill="#2b5833" opacity="1"/><path d="M-15.4,-1.1 C-8.8,-7.1 6.6,-6.8 17.6,-0.8 Z" fill="#4f8a58" opacity="0.55"/></g>
<g transform="translate(688.5,1412.0) rotate(7)"><path d="M-22.0,0 C-12.1,-6.7 9.9,-6.2 22.0,0 C9.9,6.2 -12.1,6.7 -22.0,0 Z" fill="#22482a" opacity="1"/><path d="M-15.4,-0.8 C-8.8,-4.8 6.6,-4.5 17.6,-0.5 Z" fill="#4f8a58" opacity="0.55"/></g>
<g transform="translate(690.0,1421.0) rotate(16)"><path d="M-23.5,0 C-12.9,-6.0 10.6,-5.6 23.5,0 C10.6,5.6 -12.9,6.0 -23.5,0 Z" fill="#22482a" opacity="1"/><path d="M-16.4,-0.7 C-9.4,-4.3 7.0,-4.0 18.8,-0.5 Z" fill="#4f8a58" opacity="0.55"/></g>
<g transform="translate(688.5,1436.0) rotate(34)"><path d="M-19.0,0 C-10.5,-6.0 8.6,-5.6 19.0,0 C8.6,5.6 -10.5,6.0 -19.0,0 Z" fill="#22482a" opacity="1"/><path d="M-13.3,-0.7 C-7.6,-4.3 5.7,-4.0 15.2,-0.5 Z" fill="#4f8a58" opacity="0.55"/></g>
<g transform="translate(592.5,1419.5) rotate(160)"><path d="M-17.5,0 C-9.6,-8.0 7.9,-7.5 17.5,0 C7.9,7.5 -9.6,8.0 -17.5,0 Z" fill="#2b5833" opacity="1"/><path d="M-12.2,-0.9 C-7.0,-5.7 5.2,-5.4 14.0,-0.6 Z" fill="#4f8a58" opacity="0.55"/></g>
<g transform="translate(618.1,1406.0) rotate(5)"><path d="M-28.0,0 C-15.4,-14.0 12.6,-13.1 28.0,0 C12.6,13.1 -15.4,14.0 -28.0,0 Z" fill="#3f7a3f" opacity="1"/></g>
<g transform="translate(614.9,1429.0) rotate(195)"><path d="M-12.5,0 C-6.9,-6.7 5.6,-6.2 12.5,0 C5.6,6.2 -6.9,6.7 -12.5,0 Z" fill="#2b5833" opacity="1"/><path d="M-8.8,-0.8 C-5.0,-4.8 3.8,-4.5 10.0,-0.5 Z" fill="#4f8a58" opacity="0.55"/></g>
<g transform="translate(664.0,1426.0) rotate(60)"><path d="M-14.0,0 C-7.7,-6.0 6.3,-5.6 14.0,0 C6.3,5.6 -7.7,6.0 -14.0,0 Z" fill="#3f7a3f" opacity="1"/></g>
<g transform="translate(650.0,1404.0) rotate(-70)"><path d="M-13.0,0 C-7.2,-5.3 5.9,-5.0 13.0,0 C5.9,5.0 -7.2,5.3 -13.0,0 Z" fill="#5fa33a" opacity="1"/></g>
<g transform="translate(640.0,1394.0) rotate(-100)"><path d="M-15.0,0 C-8.2,-8.0 6.8,-7.5 15.0,0 C6.8,7.5 -8.2,8.0 -15.0,0 Z" fill="#4d8f42" opacity="1"/></g>
<g transform="translate(654.0,1415.0) rotate(30)"><path d="M-15.0,0 C-8.2,-8.0 6.8,-7.5 15.0,0 C6.8,7.5 -8.2,8.0 -15.0,0 Z" fill="#3f7a3f" opacity="1"/></g>
<g transform="translate(632.0,1425.0) rotate(-120)"><path d="M-11.0,0 C-6.1,-6.0 5.0,-5.6 11.0,0 C5.0,5.6 -6.1,6.0 -11.0,0 Z" fill="#5fa33a" opacity="1"/></g>
<g transform="translate(672.0,1400.0) rotate(-15)"><path d="M-13.0,0 C-7.2,-6.7 5.9,-6.2 13.0,0 C5.9,6.2 -7.2,6.7 -13.0,0 Z" fill="#3f7a3f" opacity="1"/></g>
</g>
<ellipse cx="641.2" cy="1442.5" rx="26.5" ry="3.8" fill="#222"/>
<ellipse cx="641.2" cy="1442" rx="24" ry="2.6" fill="#5a3b22"/>
<path d="M615.3,1442 L667.3,1442 Q666.2,1469.0 663.5,1496 L619.0,1496 Q616.4,1469.0 615.3,1442 Z" fill="url(#gpot2)"/>
<rect x="615.8" y="1442" width="51.0" height="3" fill="#f3f3f3"/>
<line x1="621.8" y1="1445" x2="624.6" y2="1494" stroke="#cdcdcd" stroke-width="0.9"/>
<line x1="628.3" y1="1445" x2="630.1" y2="1494" stroke="#cdcdcd" stroke-width="0.9"/>
<line x1="634.8" y1="1445" x2="635.7" y2="1494" stroke="#cdcdcd" stroke-width="0.9"/>
<line x1="641.3" y1="1445" x2="641.2" y2="1494" stroke="#cdcdcd" stroke-width="0.9"/>
<line x1="647.8" y1="1445" x2="646.8" y2="1494" stroke="#cdcdcd" stroke-width="0.9"/>
<line x1="654.3" y1="1445" x2="652.4" y2="1494" stroke="#cdcdcd" stroke-width="0.9"/>
<line x1="660.8" y1="1445" x2="657.9" y2="1494" stroke="#cdcdcd" stroke-width="0.9"/>
<g>
<line x1="807.5" y1="1441" x2="785.5" y2="1405" stroke="#6aae44" stroke-width="3.2"/>
<line x1="807.5" y1="1441" x2="800.5" y2="1395" stroke="#6aae44" stroke-width="3.2"/>
<line x1="807.5" y1="1441" x2="820.5" y2="1385" stroke="#6aae44" stroke-width="3.2"/>
<line x1="807.5" y1="1441" x2="835.5" y2="1395" stroke="#6aae44" stroke-width="3.2"/>
<line x1="807.5" y1="1441" x2="845.5" y2="1410" stroke="#6aae44" stroke-width="3.2"/>
<line x1="807.5" y1="1441" x2="810.5" y2="1420" stroke="#6aae44" stroke-width="3.2"/>
<line x1="807.5" y1="1441" x2="795.5" y2="1425" stroke="#6aae44" stroke-width="3.2"/>
<line x1="807.5" y1="1441" x2="830.5" y2="1425" stroke="#6aae44" stroke-width="3.2"/>
<g transform="translate(751.5,1391.2) rotate(193)"><path d="M-20.0,0 C-11.0,-14.0 9.0,-13.1 20.0,0 C9.0,13.1 -11.0,14.0 -20.0,0 Z" fill="#2b5833" opacity="1"/><path d="M-14.0,-1.6 C-8.0,-10.0 6.0,-9.5 16.0,-1.1 Z" fill="#4f8a58" opacity="0.55"/></g>
<g transform="translate(779.8,1380.5) rotate(204)"><path d="M-24.0,0 C-13.2,-12.0 10.8,-11.2 24.0,0 C10.8,11.2 -13.2,12.0 -24.0,0 Z" fill="#22482a" opacity="1"/><path d="M-16.8,-1.3 C-9.6,-8.5 7.2,-8.1 19.2,-0.9 Z" fill="#4f8a58" opacity="0.55"/></g>
<g transform="translate(786.2,1372.0) rotate(215)"><path d="M-19.0,0 C-10.5,-10.6 8.6,-10.0 19.0,0 C8.6,10.0 -10.5,10.6 -19.0,0 Z" fill="#2b5833" opacity="1"/><path d="M-13.3,-1.2 C-7.6,-7.6 5.7,-7.2 15.2,-0.8 Z" fill="#4f8a58" opacity="0.55"/></g>
<g transform="translate(826.2,1376.3) rotate(-50)"><path d="M-28.5,0 C-15.7,-21.9 12.8,-20.6 28.5,0 C12.8,20.6 -15.7,21.9 -28.5,0 Z" fill="#2b5833" opacity="1"/><path d="M-19.9,-2.5 C-11.4,-15.7 8.5,-14.8 22.8,-1.7 Z" fill="#4f8a58" opacity="0.55"/></g>
<g transform="translate(842.2,1382.7) rotate(-42)"><path d="M-26.0,0 C-14.3,-7.3 11.7,-6.9 26.0,0 C11.7,6.9 -14.3,7.3 -26.0,0 Z" fill="#5fa33a" opacity="1"/></g>
<g transform="translate(854.5,1389.6) rotate(-16)"><path d="M-22.0,0 C-12.1,-10.0 9.9,-9.4 22.0,0 C9.9,9.4 -12.1,10.0 -22.0,0 Z" fill="#2b5833" opacity="1"/><path d="M-15.4,-1.1 C-8.8,-7.1 6.6,-6.8 17.6,-0.8 Z" fill="#4f8a58" opacity="0.55"/></g>
<g transform="translate(855.0,1412.0) rotate(7)"><path d="M-22.0,0 C-12.1,-6.7 9.9,-6.2 22.0,0 C9.9,6.2 -12.1,6.7 -22.0,0 Z" fill="#22482a" opacity="1"/><path d="M-15.4,-0.8 C-8.8,-4.8 6.6,-4.5 17.6,-0.5 Z" fill="#4f8a58" opacity="0.55"/></g>
<g transform="translate(856.5,1421.0) rotate(16)"><path d="M-23.5,0 C-12.9,-6.0 10.6,-5.6 23.5,0 C10.6,5.6 -12.9,6.0 -23.5,0 Z" fill="#22482a" opacity="1"/><path d="M-16.4,-0.7 C-9.4,-4.3 7.0,-4.0 18.8,-0.5 Z" fill="#4f8a58" opacity="0.55"/></g>
<g transform="translate(855.0,1436.0) rotate(34)"><path d="M-19.0,0 C-10.5,-6.0 8.6,-5.6 19.0,0 C8.6,5.6 -10.5,6.0 -19.0,0 Z" fill="#22482a" opacity="1"/><path d="M-13.3,-0.7 C-7.6,-4.3 5.7,-4.0 15.2,-0.5 Z" fill="#4f8a58" opacity="0.55"/></g>
<g transform="translate(759.0,1419.5) rotate(160)"><path d="M-17.5,0 C-9.6,-8.0 7.9,-7.5 17.5,0 C7.9,7.5 -9.6,8.0 -17.5,0 Z" fill="#2b5833" opacity="1"/><path d="M-12.2,-0.9 C-7.0,-5.7 5.2,-5.4 14.0,-0.6 Z" fill="#4f8a58" opacity="0.55"/></g>
<g transform="translate(784.6,1406.0) rotate(5)"><path d="M-28.0,0 C-15.4,-14.0 12.6,-13.1 28.0,0 C12.6,13.1 -15.4,14.0 -28.0,0 Z" fill="#3f7a3f" opacity="1"/></g>
<g transform="translate(781.4,1429.0) rotate(195)"><path d="M-12.5,0 C-6.9,-6.7 5.6,-6.2 12.5,0 C5.6,6.2 -6.9,6.7 -12.5,0 Z" fill="#2b5833" opacity="1"/><path d="M-8.8,-0.8 C-5.0,-4.8 3.8,-4.5 10.0,-0.5 Z" fill="#4f8a58" opacity="0.55"/></g>
<g transform="translate(830.5,1426.0) rotate(60)"><path d="M-14.0,0 C-7.7,-6.0 6.3,-5.6 14.0,0 C6.3,5.6 -7.7,6.0 -14.0,0 Z" fill="#3f7a3f" opacity="1"/></g>
<g transform="translate(816.5,1404.0) rotate(-70)"><path d="M-13.0,0 C-7.2,-5.3 5.9,-5.0 13.0,0 C5.9,5.0 -7.2,5.3 -13.0,0 Z" fill="#5fa33a" opacity="1"/></g>
<g transform="translate(806.5,1394.0) rotate(-100)"><path d="M-15.0,0 C-8.2,-8.0 6.8,-7.5 15.0,0 C6.8,7.5 -8.2,8.0 -15.0,0 Z" fill="#4d8f42" opacity="1"/></g>
<g transform="translate(820.5,1415.0) rotate(30)"><path d="M-15.0,0 C-8.2,-8.0 6.8,-7.5 15.0,0 C6.8,7.5 -8.2,8.0 -15.0,0 Z" fill="#3f7a3f" opacity="1"/></g>
<g transform="translate(798.5,1425.0) rotate(-120)"><path d="M-11.0,0 C-6.1,-6.0 5.0,-5.6 11.0,0 C5.0,5.6 -6.1,6.0 -11.0,0 Z" fill="#5fa33a" opacity="1"/></g>
<g transform="translate(838.5,1400.0) rotate(-15)"><path d="M-13.0,0 C-7.2,-6.7 5.9,-6.2 13.0,0 C5.9,6.2 -7.2,6.7 -13.0,0 Z" fill="#3f7a3f" opacity="1"/></g>
</g>
<ellipse cx="807.7" cy="1442.5" rx="26.5" ry="3.8" fill="#222"/>
<ellipse cx="807.7" cy="1442" rx="24" ry="2.6" fill="#5a3b22"/>
<path d="M781.8,1442 L833.8,1442 Q832.7,1469.0 830.0,1496 L785.5,1496 Q782.9,1469.0 781.8,1442 Z" fill="url(#gpot2)"/>
<rect x="782.3" y="1442" width="51.0" height="3" fill="#f3f3f3"/>
<line x1="788.3" y1="1445" x2="791.1" y2="1494" stroke="#cdcdcd" stroke-width="0.9"/>
<line x1="794.8" y1="1445" x2="796.6" y2="1494" stroke="#cdcdcd" stroke-width="0.9"/>
<line x1="801.3" y1="1445" x2="802.2" y2="1494" stroke="#cdcdcd" stroke-width="0.9"/>
<line x1="807.8" y1="1445" x2="807.8" y2="1494" stroke="#cdcdcd" stroke-width="0.9"/>
<line x1="814.3" y1="1445" x2="813.3" y2="1494" stroke="#cdcdcd" stroke-width="0.9"/>
<line x1="820.8" y1="1445" x2="818.9" y2="1494" stroke="#cdcdcd" stroke-width="0.9"/>
<line x1="827.3" y1="1445" x2="824.4" y2="1494" stroke="#cdcdcd" stroke-width="0.9"/>
<g>
<line x1="974.0" y1="1441" x2="952.0" y2="1405" stroke="#6aae44" stroke-width="3.2"/>
<line x1="974.0" y1="1441" x2="967.0" y2="1395" stroke="#6aae44" stroke-width="3.2"/>
<line x1="974.0" y1="1441" x2="987.0" y2="1385" stroke="#6aae44" stroke-width="3.2"/>
<line x1="974.0" y1="1441" x2="1002.0" y2="1395" stroke="#6aae44" stroke-width="3.2"/>
<line x1="974.0" y1="1441" x2="1012.0" y2="1410" stroke="#6aae44" stroke-width="3.2"/>
<line x1="974.0" y1="1441" x2="977.0" y2="1420" stroke="#6aae44" stroke-width="3.2"/>
<line x1="974.0" y1="1441" x2="962.0" y2="1425" stroke="#6aae44" stroke-width="3.2"/>
<line x1="974.0" y1="1441" x2="997.0" y2="1425" stroke="#6aae44" stroke-width="3.2"/>
<g transform="translate(918.0,1391.2) rotate(193)"><path d="M-20.0,0 C-11.0,-14.0 9.0,-13.1 20.0,0 C9.0,13.1 -11.0,14.0 -20.0,0 Z" fill="#2b5833" opacity="1"/><path d="M-14.0,-1.6 C-8.0,-10.0 6.0,-9.5 16.0,-1.1 Z" fill="#4f8a58" opacity="0.55"/></g>
<g transform="translate(946.3,1380.5) rotate(204)"><path d="M-24.0,0 C-13.2,-12.0 10.8,-11.2 24.0,0 C10.8,11.2 -13.2,12.0 -24.0,0 Z" fill="#22482a" opacity="1"/><path d="M-16.8,-1.3 C-9.6,-8.5 7.2,-8.1 19.2,-0.9 Z" fill="#4f8a58" opacity="0.55"/></g>
<g transform="translate(952.7,1372.0) rotate(215)"><path d="M-19.0,0 C-10.5,-10.6 8.6,-10.0 19.0,0 C8.6,10.0 -10.5,10.6 -19.0,0 Z" fill="#2b5833" opacity="1"/><path d="M-13.3,-1.2 C-7.6,-7.6 5.7,-7.2 15.2,-0.8 Z" fill="#4f8a58" opacity="0.55"/></g>
<g transform="translate(992.7,1376.3) rotate(-50)"><path d="M-28.5,0 C-15.7,-21.9 12.8,-20.6 28.5,0 C12.8,20.6 -15.7,21.9 -28.5,0 Z" fill="#2b5833" opacity="1"/><path d="M-19.9,-2.5 C-11.4,-15.7 8.5,-14.8 22.8,-1.7 Z" fill="#4f8a58" opacity="0.55"/></g>
<g transform="translate(1008.7,1382.7) rotate(-42)"><path d="M-26.0,0 C-14.3,-7.3 11.7,-6.9 26.0,0 C11.7,6.9 -14.3,7.3 -26.0,0 Z" fill="#5fa33a" opacity="1"/></g>
<g transform="translate(1021.0,1389.6) rotate(-16)"><path d="M-22.0,0 C-12.1,-10.0 9.9,-9.4 22.0,0 C9.9,9.4 -12.1,10.0 -22.0,0 Z" fill="#2b5833" opacity="1"/><path d="M-15.4,-1.1 C-8.8,-7.1 6.6,-6.8 17.6,-0.8 Z" fill="#4f8a58" opacity="0.55"/></g>
<g transform="translate(1021.5,1412.0) rotate(7)"><path d="M-22.0,0 C-12.1,-6.7 9.9,-6.2 22.0,0 C9.9,6.2 -12.1,6.7 -22.0,0 Z" fill="#22482a" opacity="1"/><path d="M-15.4,-0.8 C-8.8,-4.8 6.6,-4.5 17.6,-0.5 Z" fill="#4f8a58" opacity="0.55"/></g>
<g transform="translate(1023.0,1421.0) rotate(16)"><path d="M-23.5,0 C-12.9,-6.0 10.6,-5.6 23.5,0 C10.6,5.6 -12.9,6.0 -23.5,0 Z" fill="#22482a" opacity="1"/><path d="M-16.4,-0.7 C-9.4,-4.3 7.0,-4.0 18.8,-0.5 Z" fill="#4f8a58" opacity="0.55"/></g>
<g transform="translate(1021.5,1436.0) rotate(34)"><path d="M-19.0,0 C-10.5,-6.0 8.6,-5.6 19.0,0 C8.6,5.6 -10.5,6.0 -19.0,0 Z" fill="#22482a" opacity="1"/><path d="M-13.3,-0.7 C-7.6,-4.3 5.7,-4.0 15.2,-0.5 Z" fill="#4f8a58" opacity="0.55"/></g>
<g transform="translate(925.5,1419.5) rotate(160)"><path d="M-17.5,0 C-9.6,-8.0 7.9,-7.5 17.5,0 C7.9,7.5 -9.6,8.0 -17.5,0 Z" fill="#2b5833" opacity="1"/><path d="M-12.2,-0.9 C-7.0,-5.7 5.2,-5.4 14.0,-0.6 Z" fill="#4f8a58" opacity="0.55"/></g>
<g transform="translate(951.1,1406.0) rotate(5)"><path d="M-28.0,0 C-15.4,-14.0 12.6,-13.1 28.0,0 C12.6,13.1 -15.4,14.0 -28.0,0 Z" fill="#3f7a3f" opacity="1"/></g>
<g transform="translate(947.9,1429.0) rotate(195)"><path d="M-12.5,0 C-6.9,-6.7 5.6,-6.2 12.5,0 C5.6,6.2 -6.9,6.7 -12.5,0 Z" fill="#2b5833" opacity="1"/><path d="M-8.8,-0.8 C-5.0,-4.8 3.8,-4.5 10.0,-0.5 Z" fill="#4f8a58" opacity="0.55"/></g>
<g transform="translate(997.0,1426.0) rotate(60)"><path d="M-14.0,0 C-7.7,-6.0 6.3,-5.6 14.0,0 C6.3,5.6 -7.7,6.0 -14.0,0 Z" fill="#3f7a3f" opacity="1"/></g>
<g transform="translate(983.0,1404.0) rotate(-70)"><path d="M-13.0,0 C-7.2,-5.3 5.9,-5.0 13.0,0 C5.9,5.0 -7.2,5.3 -13.0,0 Z" fill="#5fa33a" opacity="1"/></g>
<g transform="translate(973.0,1394.0) rotate(-100)"><path d="M-15.0,0 C-8.2,-8.0 6.8,-7.5 15.0,0 C6.8,7.5 -8.2,8.0 -15.0,0 Z" fill="#4d8f42" opacity="1"/></g>
<g transform="translate(987.0,1415.0) rotate(30)"><path d="M-15.0,0 C-8.2,-8.0 6.8,-7.5 15.0,0 C6.8,7.5 -8.2,8.0 -15.0,0 Z" fill="#3f7a3f" opacity="1"/></g>
<g transform="translate(965.0,1425.0) rotate(-120)"><path d="M-11.0,0 C-6.1,-6.0 5.0,-5.6 11.0,0 C5.0,5.6 -6.1,6.0 -11.0,0 Z" fill="#5fa33a" opacity="1"/></g>
<g transform="translate(1005.0,1400.0) rotate(-15)"><path d="M-13.0,0 C-7.2,-6.7 5.9,-6.2 13.0,0 C5.9,6.2 -7.2,6.7 -13.0,0 Z" fill="#3f7a3f" opacity="1"/></g>
</g>
<ellipse cx="974.2" cy="1442.5" rx="26.5" ry="3.8" fill="#222"/>
<ellipse cx="974.2" cy="1442" rx="24" ry="2.6" fill="#5a3b22"/>
<path d="M948.3,1442 L1000.3,1442 Q999.2,1469.0 996.5,1496 L952.0,1496 Q949.4,1469.0 948.3,1442 Z" fill="url(#gpot2)"/>
<rect x="948.8" y="1442" width="51.0" height="3" fill="#f3f3f3"/>
<line x1="954.8" y1="1445" x2="957.6" y2="1494" stroke="#cdcdcd" stroke-width="0.9"/>
<line x1="961.3" y1="1445" x2="963.1" y2="1494" stroke="#cdcdcd" stroke-width="0.9"/>
<line x1="967.8" y1="1445" x2="968.7" y2="1494" stroke="#cdcdcd" stroke-width="0.9"/>
<line x1="974.3" y1="1445" x2="974.2" y2="1494" stroke="#cdcdcd" stroke-width="0.9"/>
<line x1="980.8" y1="1445" x2="979.8" y2="1494" stroke="#cdcdcd" stroke-width="0.9"/>
<line x1="987.3" y1="1445" x2="985.4" y2="1494" stroke="#cdcdcd" stroke-width="0.9"/>
<line x1="993.8" y1="1445" x2="990.9" y2="1494" stroke="#cdcdcd" stroke-width="0.9"/>
<g>
<line x1="1140.5" y1="1441" x2="1118.5" y2="1405" stroke="#6aae44" stroke-width="3.2"/>
<line x1="1140.5" y1="1441" x2="1133.5" y2="1395" stroke="#6aae44" stroke-width="3.2"/>
<line x1="1140.5" y1="1441" x2="1153.5" y2="1385" stroke="#6aae44" stroke-width="3.2"/>
<line x1="1140.5" y1="1441" x2="1168.5" y2="1395" stroke="#6aae44" stroke-width="3.2"/>
<line x1="1140.5" y1="1441" x2="1178.5" y2="1410" stroke="#6aae44" stroke-width="3.2"/>
<line x1="1140.5" y1="1441" x2="1143.5" y2="1420" stroke="#6aae44" stroke-width="3.2"/>
<line x1="1140.5" y1="1441" x2="1128.5" y2="1425" stroke="#6aae44" stroke-width="3.2"/>
<line x1="1140.5" y1="1441" x2="1163.5" y2="1425" stroke="#6aae44" stroke-width="3.2"/>
<g transform="translate(1084.5,1391.2) rotate(193)"><path d="M-20.0,0 C-11.0,-14.0 9.0,-13.1 20.0,0 C9.0,13.1 -11.0,14.0 -20.0,0 Z" fill="#2b5833" opacity="1"/><path d="M-14.0,-1.6 C-8.0,-10.0 6.0,-9.5 16.0,-1.1 Z" fill="#4f8a58" opacity="0.55"/></g>
<g transform="translate(1112.8,1380.5) rotate(204)"><path d="M-24.0,0 C-13.2,-12.0 10.8,-11.2 24.0,0 C10.8,11.2 -13.2,12.0 -24.0,0 Z" fill="#22482a" opacity="1"/><path d="M-16.8,-1.3 C-9.6,-8.5 7.2,-8.1 19.2,-0.9 Z" fill="#4f8a58" opacity="0.55"/></g>
<g transform="translate(1119.2,1372.0) rotate(215)"><path d="M-19.0,0 C-10.5,-10.6 8.6,-10.0 19.0,0 C8.6,10.0 -10.5,10.6 -19.0,0 Z" fill="#2b5833" opacity="1"/><path d="M-13.3,-1.2 C-7.6,-7.6 5.7,-7.2 15.2,-0.8 Z" fill="#4f8a58" opacity="0.55"/></g>
<g transform="translate(1159.2,1376.3) rotate(-50)"><path d="M-28.5,0 C-15.7,-21.9 12.8,-20.6 28.5,0 C12.8,20.6 -15.7,21.9 -28.5,0 Z" fill="#2b5833" opacity="1"/><path d="M-19.9,-2.5 C-11.4,-15.7 8.5,-14.8 22.8,-1.7 Z" fill="#4f8a58" opacity="0.55"/></g>
<g transform="translate(1175.2,1382.7) rotate(-42)"><path d="M-26.0,0 C-14.3,-7.3 11.7,-6.9 26.0,0 C11.7,6.9 -14.3,7.3 -26.0,0 Z" fill="#5fa33a" opacity="1"/></g>
<g transform="translate(1187.5,1389.6) rotate(-16)"><path d="M-22.0,0 C-12.1,-10.0 9.9,-9.4 22.0,0 C9.9,9.4 -12.1,10.0 -22.0,0 Z" fill="#2b5833" opacity="1"/><path d="M-15.4,-1.1 C-8.8,-7.1 6.6,-6.8 17.6,-0.8 Z" fill="#4f8a58" opacity="0.55"/></g>
<g transform="translate(1188.0,1412.0) rotate(7)"><path d="M-22.0,0 C-12.1,-6.7 9.9,-6.2 22.0,0 C9.9,6.2 -12.1,6.7 -22.0,0 Z" fill="#22482a" opacity="1"/><path d="M-15.4,-0.8 C-8.8,-4.8 6.6,-4.5 17.6,-0.5 Z" fill="#4f8a58" opacity="0.55"/></g>
<g transform="translate(1189.5,1421.0) rotate(16)"><path d="M-23.5,0 C-12.9,-6.0 10.6,-5.6 23.5,0 C10.6,5.6 -12.9,6.0 -23.5,0 Z" fill="#22482a" opacity="1"/><path d="M-16.4,-0.7 C-9.4,-4.3 7.0,-4.0 18.8,-0.5 Z" fill="#4f8a58" opacity="0.55"/></g>
<g transform="translate(1188.0,1436.0) rotate(34)"><path d="M-19.0,0 C-10.5,-6.0 8.6,-5.6 19.0,0 C8.6,5.6 -10.5,6.0 -19.0,0 Z" fill="#22482a" opacity="1"/><path d="M-13.3,-0.7 C-7.6,-4.3 5.7,-4.0 15.2,-0.5 Z" fill="#4f8a58" opacity="0.55"/></g>
<g transform="translate(1092.0,1419.5) rotate(160)"><path d="M-17.5,0 C-9.6,-8.0 7.9,-7.5 17.5,0 C7.9,7.5 -9.6,8.0 -17.5,0 Z" fill="#2b5833" opacity="1"/><path d="M-12.2,-0.9 C-7.0,-5.7 5.2,-5.4 14.0,-0.6 Z" fill="#4f8a58" opacity="0.55"/></g>
<g transform="translate(1117.6,1406.0) rotate(5)"><path d="M-28.0,0 C-15.4,-14.0 12.6,-13.1 28.0,0 C12.6,13.1 -15.4,14.0 -28.0,0 Z" fill="#3f7a3f" opacity="1"/></g>
<g transform="translate(1114.4,1429.0) rotate(195)"><path d="M-12.5,0 C-6.9,-6.7 5.6,-6.2 12.5,0 C5.6,6.2 -6.9,6.7 -12.5,0 Z" fill="#2b5833" opacity="1"/><path d="M-8.8,-0.8 C-5.0,-4.8 3.8,-4.5 10.0,-0.5 Z" fill="#4f8a58" opacity="0.55"/></g>
<g transform="translate(1163.5,1426.0) rotate(60)"><path d="M-14.0,0 C-7.7,-6.0 6.3,-5.6 14.0,0 C6.3,5.6 -7.7,6.0 -14.0,0 Z" fill="#3f7a3f" opacity="1"/></g>
<g transform="translate(1149.5,1404.0) rotate(-70)"><path d="M-13.0,0 C-7.2,-5.3 5.9,-5.0 13.0,0 C5.9,5.0 -7.2,5.3 -13.0,0 Z" fill="#5fa33a" opacity="1"/></g>
<g transform="translate(1139.5,1394.0) rotate(-100)"><path d="M-15.0,0 C-8.2,-8.0 6.8,-7.5 15.0,0 C6.8,7.5 -8.2,8.0 -15.0,0 Z" fill="#4d8f42" opacity="1"/></g>
<g transform="translate(1153.5,1415.0) rotate(30)"><path d="M-15.0,0 C-8.2,-8.0 6.8,-7.5 15.0,0 C6.8,7.5 -8.2,8.0 -15.0,0 Z" fill="#3f7a3f" opacity="1"/></g>
<g transform="translate(1131.5,1425.0) rotate(-120)"><path d="M-11.0,0 C-6.1,-6.0 5.0,-5.6 11.0,0 C5.0,5.6 -6.1,6.0 -11.0,0 Z" fill="#5fa33a" opacity="1"/></g>
<g transform="translate(1171.5,1400.0) rotate(-15)"><path d="M-13.0,0 C-7.2,-6.7 5.9,-6.2 13.0,0 C5.9,6.2 -7.2,6.7 -13.0,0 Z" fill="#3f7a3f" opacity="1"/></g>
</g>
<ellipse cx="1140.7" cy="1442.5" rx="26.5" ry="3.8" fill="#222"/>
<ellipse cx="1140.7" cy="1442" rx="24" ry="2.6" fill="#5a3b22"/>
<path d="M1114.8,1442 L1166.8,1442 Q1165.7,1469.0 1163.0,1496 L1118.5,1496 Q1115.9,1469.0 1114.8,1442 Z" fill="url(#gpot2)"/>
<rect x="1115.3" y="1442" width="51.0" height="3" fill="#f3f3f3"/>
<line x1="1121.3" y1="1445" x2="1124.1" y2="1494" stroke="#cdcdcd" stroke-width="0.9"/>
<line x1="1127.8" y1="1445" x2="1129.6" y2="1494" stroke="#cdcdcd" stroke-width="0.9"/>
<line x1="1134.3" y1="1445" x2="1135.2" y2="1494" stroke="#cdcdcd" stroke-width="0.9"/>
<line x1="1140.8" y1="1445" x2="1140.8" y2="1494" stroke="#cdcdcd" stroke-width="0.9"/>
<line x1="1147.3" y1="1445" x2="1146.3" y2="1494" stroke="#cdcdcd" stroke-width="0.9"/>
<line x1="1153.8" y1="1445" x2="1151.9" y2="1494" stroke="#cdcdcd" stroke-width="0.9"/>
<line x1="1160.3" y1="1445" x2="1157.4" y2="1494" stroke="#cdcdcd" stroke-width="0.9"/>
<g>
<line x1="1307.0" y1="1441" x2="1285.0" y2="1405" stroke="#6aae44" stroke-width="3.2"/>
<line x1="1307.0" y1="1441" x2="1300.0" y2="1395" stroke="#6aae44" stroke-width="3.2"/>
<line x1="1307.0" y1="1441" x2="1320.0" y2="1385" stroke="#6aae44" stroke-width="3.2"/>
<line x1="1307.0" y1="1441" x2="1335.0" y2="1395" stroke="#6aae44" stroke-width="3.2"/>
<line x1="1307.0" y1="1441" x2="1345.0" y2="1410" stroke="#6aae44" stroke-width="3.2"/>
<line x1="1307.0" y1="1441" x2="1310.0" y2="1420" stroke="#6aae44" stroke-width="3.2"/>
<line x1="1307.0" y1="1441" x2="1295.0" y2="1425" stroke="#6aae44" stroke-width="3.2"/>
<line x1="1307.0" y1="1441" x2="1330.0" y2="1425" stroke="#6aae44" stroke-width="3.2"/>
<g transform="translate(1251.0,1391.2) rotate(193)"><path d="M-20.0,0 C-11.0,-14.0 9.0,-13.1 20.0,0 C9.0,13.1 -11.0,14.0 -20.0,0 Z" fill="#2b5833" opacity="1"/><path d="M-14.0,-1.6 C-8.0,-10.0 6.0,-9.5 16.0,-1.1 Z" fill="#4f8a58" opacity="0.55"/></g>
<g transform="translate(1279.3,1380.5) rotate(204)"><path d="M-24.0,0 C-13.2,-12.0 10.8,-11.2 24.0,0 C10.8,11.2 -13.2,12.0 -24.0,0 Z" fill="#22482a" opacity="1"/><path d="M-16.8,-1.3 C-9.6,-8.5 7.2,-8.1 19.2,-0.9 Z" fill="#4f8a58" opacity="0.55"/></g>
<g transform="translate(1285.7,1372.0) rotate(215)"><path d="M-19.0,0 C-10.5,-10.6 8.6,-10.0 19.0,0 C8.6,10.0 -10.5,10.6 -19.0,0 Z" fill="#2b5833" opacity="1"/><path d="M-13.3,-1.2 C-7.6,-7.6 5.7,-7.2 15.2,-0.8 Z" fill="#4f8a58" opacity="0.55"/></g>
<g transform="translate(1325.7,1376.3) rotate(-50)"><path d="M-28.5,0 C-15.7,-21.9 12.8,-20.6 28.5,0 C12.8,20.6 -15.7,21.9 -28.5,0 Z" fill="#2b5833" opacity="1"/><path d="M-19.9,-2.5 C-11.4,-15.7 8.5,-14.8 22.8,-1.7 Z" fill="#4f8a58" opacity="0.55"/></g>
<g transform="translate(1341.7,1382.7) rotate(-42)"><path d="M-26.0,0 C-14.3,-7.3 11.7,-6.9 26.0,0 C11.7,6.9 -14.3,7.3 -26.0,0 Z" fill="#5fa33a" opacity="1"/></g>
<g transform="translate(1354.0,1389.6) rotate(-16)"><path d="M-22.0,0 C-12.1,-10.0 9.9,-9.4 22.0,0 C9.9,9.4 -12.1,10.0 -22.0,0 Z" fill="#2b5833" opacity="1"/><path d="M-15.4,-1.1 C-8.8,-7.1 6.6,-6.8 17.6,-0.8 Z" fill="#4f8a58" opacity="0.55"/></g>
<g transform="translate(1354.5,1412.0) rotate(7)"><path d="M-22.0,0 C-12.1,-6.7 9.9,-6.2 22.0,0 C9.9,6.2 -12.1,6.7 -22.0,0 Z" fill="#22482a" opacity="1"/><path d="M-15.4,-0.8 C-8.8,-4.8 6.6,-4.5 17.6,-0.5 Z" fill="#4f8a58" opacity="0.55"/></g>
<g transform="translate(1356.0,1421.0) rotate(16)"><path d="M-23.5,0 C-12.9,-6.0 10.6,-5.6 23.5,0 C10.6,5.6 -12.9,6.0 -23.5,0 Z" fill="#22482a" opacity="1"/><path d="M-16.4,-0.7 C-9.4,-4.3 7.0,-4.0 18.8,-0.5 Z" fill="#4f8a58" opacity="0.55"/></g>
<g transform="translate(1354.5,1436.0) rotate(34)"><path d="M-19.0,0 C-10.5,-6.0 8.6,-5.6 19.0,0 C8.6,5.6 -10.5,6.0 -19.0,0 Z" fill="#22482a" opacity="1"/><path d="M-13.3,-0.7 C-7.6,-4.3 5.7,-4.0 15.2,-0.5 Z" fill="#4f8a58" opacity="0.55"/></g>
<g transform="translate(1258.5,1419.5) rotate(160)"><path d="M-17.5,0 C-9.6,-8.0 7.9,-7.5 17.5,0 C7.9,7.5 -9.6,8.0 -17.5,0 Z" fill="#2b5833" opacity="1"/><path d="M-12.2,-0.9 C-7.0,-5.7 5.2,-5.4 14.0,-0.6 Z" fill="#4f8a58" opacity="0.55"/></g>
<g transform="translate(1284.1,1406.0) rotate(5)"><path d="M-28.0,0 C-15.4,-14.0 12.6,-13.1 28.0,0 C12.6,13.1 -15.4,14.0 -28.0,0 Z" fill="#3f7a3f" opacity="1"/></g>
<g transform="translate(1280.9,1429.0) rotate(195)"><path d="M-12.5,0 C-6.9,-6.7 5.6,-6.2 12.5,0 C5.6,6.2 -6.9,6.7 -12.5,0 Z" fill="#2b5833" opacity="1"/><path d="M-8.8,-0.8 C-5.0,-4.8 3.8,-4.5 10.0,-0.5 Z" fill="#4f8a58" opacity="0.55"/></g>
<g transform="translate(1330.0,1426.0) rotate(60)"><path d="M-14.0,0 C-7.7,-6.0 6.3,-5.6 14.0,0 C6.3,5.6 -7.7,6.0 -14.0,0 Z" fill="#3f7a3f" opacity="1"/></g>
<g transform="translate(1316.0,1404.0) rotate(-70)"><path d="M-13.0,0 C-7.2,-5.3 5.9,-5.0 13.0,0 C5.9,5.0 -7.2,5.3 -13.0,0 Z" fill="#5fa33a" opacity="1"/></g>
<g transform="translate(1306.0,1394.0) rotate(-100)"><path d="M-15.0,0 C-8.2,-8.0 6.8,-7.5 15.0,0 C6.8,7.5 -8.2,8.0 -15.0,0 Z" fill="#4d8f42" opacity="1"/></g>
<g transform="translate(1320.0,1415.0) rotate(30)"><path d="M-15.0,0 C-8.2,-8.0 6.8,-7.5 15.0,0 C6.8,7.5 -8.2,8.0 -15.0,0 Z" fill="#3f7a3f" opacity="1"/></g>
<g transform="translate(1298.0,1425.0) rotate(-120)"><path d="M-11.0,0 C-6.1,-6.0 5.0,-5.6 11.0,0 C5.0,5.6 -6.1,6.0 -11.0,0 Z" fill="#5fa33a" opacity="1"/></g>
<g transform="translate(1338.0,1400.0) rotate(-15)"><path d="M-13.0,0 C-7.2,-6.7 5.9,-6.2 13.0,0 C5.9,6.2 -7.2,6.7 -13.0,0 Z" fill="#3f7a3f" opacity="1"/></g>
</g>
<ellipse cx="1307.2" cy="1442.5" rx="26.5" ry="3.8" fill="#222"/>
<ellipse cx="1307.2" cy="1442" rx="24" ry="2.6" fill="#5a3b22"/>
<path d="M1281.3,1442 L1333.3,1442 Q1332.2,1469.0 1329.5,1496 L1285.0,1496 Q1282.4,1469.0 1281.3,1442 Z" fill="url(#gpot2)"/>
<rect x="1281.8" y="1442" width="51.0" height="3" fill="#f3f3f3"/>
<line x1="1287.8" y1="1445" x2="1290.6" y2="1494" stroke="#cdcdcd" stroke-width="0.9"/>
<line x1="1294.3" y1="1445" x2="1296.1" y2="1494" stroke="#cdcdcd" stroke-width="0.9"/>
<line x1="1300.8" y1="1445" x2="1301.7" y2="1494" stroke="#cdcdcd" stroke-width="0.9"/>
<line x1="1307.3" y1="1445" x2="1307.2" y2="1494" stroke="#cdcdcd" stroke-width="0.9"/>
<line x1="1313.8" y1="1445" x2="1312.8" y2="1494" stroke="#cdcdcd" stroke-width="0.9"/>
<line x1="1320.3" y1="1445" x2="1318.4" y2="1494" stroke="#cdcdcd" stroke-width="0.9"/>
<line x1="1326.8" y1="1445" x2="1323.9" y2="1494" stroke="#cdcdcd" stroke-width="0.9"/>
<rect x="249.3" y="907.0" width="16" height="7.5" fill="#3a3a3a"/>
<rect x="249.3" y="907.0" width="16" height="2" fill="#777"/>
<path d="M257.3,913.8 L257.3,942 Q257.3,952 266.3,952 L272.3,952" stroke="#262626" stroke-width="5" fill="none"/>
<path d="M277.3,950 Q285.8,954 285.8,970" stroke="#2b82e2" stroke-width="8" fill="none"/>
<path d="M282.3,949 Q288.8,955 288.8,969" stroke="#1a5dcc" stroke-width="2" fill="none" opacity="0.8"/>
<ellipse cx="275.3" cy="953" rx="6" ry="7.2" fill="#2f8cee"/>
<ellipse cx="274.3" cy="953.2" rx="1.8" ry="2.8" fill="#10204a"/>
<rect x="416.1" y="907.0" width="16" height="7.5" fill="#3a3a3a"/>
<rect x="416.1" y="907.0" width="16" height="2" fill="#777"/>
<path d="M424.1,913.8 L424.1,942 Q424.1,952 433.1,952 L439.1,952" stroke="#262626" stroke-width="5" fill="none"/>
<path d="M444.1,950 Q452.6,954 452.6,970" stroke="#2b82e2" stroke-width="8" fill="none"/>
<path d="M449.1,949 Q455.6,955 455.6,969" stroke="#1a5dcc" stroke-width="2" fill="none" opacity="0.8"/>
<ellipse cx="442.1" cy="953" rx="6" ry="7.2" fill="#2f8cee"/>
<ellipse cx="441.1" cy="953.2" rx="1.8" ry="2.8" fill="#10204a"/>
<rect x="582.9000000000001" y="907.0" width="16" height="7.5" fill="#3a3a3a"/>
<rect x="582.9000000000001" y="907.0" width="16" height="2" fill="#777"/>
<path d="M590.9000000000001,913.8 L590.9000000000001,942 Q590.9000000000001,952 599.9000000000001,952 L605.9000000000001,952" stroke="#262626" stroke-width="5" fill="none"/>
<path d="M610.9000000000001,950 Q619.4000000000001,954 619.4000000000001,970" stroke="#2b82e2" stroke-width="8" fill="none"/>
<path d="M615.9000000000001,949 Q622.4000000000001,955 622.4000000000001,969" stroke="#1a5dcc" stroke-width="2" fill="none" opacity="0.8"/>
<ellipse cx="608.9000000000001" cy="953" rx="6" ry="7.2" fill="#2f8cee"/>
<ellipse cx="607.9000000000001" cy="953.2" rx="1.8" ry="2.8" fill="#10204a"/>
<rect x="749.7" y="907.0" width="16" height="7.5" fill="#3a3a3a"/>
<rect x="749.7" y="907.0" width="16" height="2" fill="#777"/>
<path d="M757.7,913.8 L757.7,942 Q757.7,952 766.7,952 L772.7,952" stroke="#262626" stroke-width="5" fill="none"/>
<path d="M777.7,950 Q786.2,954 786.2,970" stroke="#2b82e2" stroke-width="8" fill="none"/>
<path d="M782.7,949 Q789.2,955 789.2,969" stroke="#1a5dcc" stroke-width="2" fill="none" opacity="0.8"/>
<ellipse cx="775.7" cy="953" rx="6" ry="7.2" fill="#2f8cee"/>
<ellipse cx="774.7" cy="953.2" rx="1.8" ry="2.8" fill="#10204a"/>
<rect x="916.5" y="907.0" width="16" height="7.5" fill="#3a3a3a"/>
<rect x="916.5" y="907.0" width="16" height="2" fill="#777"/>
<path d="M924.5,913.8 L924.5,942 Q924.5,952 933.5,952 L939.5,952" stroke="#262626" stroke-width="5" fill="none"/>
<path d="M944.5,950 Q953.0,954 953.0,970" stroke="#2b82e2" stroke-width="8" fill="none"/>
<path d="M949.5,949 Q956.0,955 956.0,969" stroke="#1a5dcc" stroke-width="2" fill="none" opacity="0.8"/>
<ellipse cx="942.5" cy="953" rx="6" ry="7.2" fill="#2f8cee"/>
<ellipse cx="941.5" cy="953.2" rx="1.8" ry="2.8" fill="#10204a"/>
<rect x="1083.3" y="907.0" width="16" height="7.5" fill="#3a3a3a"/>
<rect x="1083.3" y="907.0" width="16" height="2" fill="#777"/>
<path d="M1091.3,913.8 L1091.3,942 Q1091.3,952 1100.3,952 L1106.3,952" stroke="#262626" stroke-width="5" fill="none"/>
<path d="M1111.3,950 Q1119.8,954 1119.8,970" stroke="#2b82e2" stroke-width="8" fill="none"/>
<path d="M1116.3,949 Q1122.8,955 1122.8,969" stroke="#1a5dcc" stroke-width="2" fill="none" opacity="0.8"/>
<ellipse cx="1109.3" cy="953" rx="6" ry="7.2" fill="#2f8cee"/>
<ellipse cx="1108.3" cy="953.2" rx="1.8" ry="2.8" fill="#10204a"/>
<rect x="1250.1000000000001" y="907.0" width="16" height="7.5" fill="#3a3a3a"/>
<rect x="1250.1000000000001" y="907.0" width="16" height="2" fill="#777"/>
<path d="M1258.1000000000001,913.8 L1258.1000000000001,942 Q1258.1000000000001,952 1267.1000000000001,952 L1273.1000000000001,952" stroke="#262626" stroke-width="5" fill="none"/>
<path d="M1278.1000000000001,950 Q1286.6000000000001,954 1286.6000000000001,970" stroke="#2b82e2" stroke-width="8" fill="none"/>
<path d="M1283.1000000000001,949 Q1289.6000000000001,955 1289.6000000000001,969" stroke="#1a5dcc" stroke-width="2" fill="none" opacity="0.8"/>
<ellipse cx="1276.1000000000001" cy="953" rx="6" ry="7.2" fill="#2f8cee"/>
<ellipse cx="1275.1000000000001" cy="953.2" rx="1.8" ry="2.8" fill="#10204a"/>
<rect x="174" y="1107.2" width="16" height="7.5" fill="#3a3a3a"/>
<rect x="174" y="1107.2" width="16" height="2" fill="#777"/>
<path d="M182,1114 L182,1144 Q182,1154 191,1154 L197,1154" stroke="#262626" stroke-width="5" fill="none"/>
<path d="M202,1152 Q210.5,1156 210.5,1172" stroke="#2b82e2" stroke-width="8" fill="none"/>
<path d="M207,1151 Q213.5,1157 213.5,1171" stroke="#1a5dcc" stroke-width="2" fill="none" opacity="0.8"/>
<ellipse cx="200" cy="1155" rx="6" ry="7.2" fill="#2f8cee"/>
<ellipse cx="199" cy="1155.2" rx="1.8" ry="2.8" fill="#10204a"/>
<rect x="342" y="1107.2" width="16" height="7.5" fill="#3a3a3a"/>
<rect x="342" y="1107.2" width="16" height="2" fill="#777"/>
<path d="M350,1114 L350,1144 Q350,1154 359,1154 L365,1154" stroke="#262626" stroke-width="5" fill="none"/>
<path d="M370,1152 Q378.5,1156 378.5,1172" stroke="#2b82e2" stroke-width="8" fill="none"/>
<path d="M375,1151 Q381.5,1157 381.5,1171" stroke="#1a5dcc" stroke-width="2" fill="none" opacity="0.8"/>
<ellipse cx="368" cy="1155" rx="6" ry="7.2" fill="#2f8cee"/>
<ellipse cx="367" cy="1155.2" rx="1.8" ry="2.8" fill="#10204a"/>
<rect x="510" y="1107.2" width="16" height="7.5" fill="#3a3a3a"/>
<rect x="510" y="1107.2" width="16" height="2" fill="#777"/>
<path d="M518,1114 L518,1144 Q518,1154 527,1154 L533,1154" stroke="#262626" stroke-width="5" fill="none"/>
<path d="M538,1152 Q546.5,1156 546.5,1172" stroke="#2b82e2" stroke-width="8" fill="none"/>
<path d="M543,1151 Q549.5,1157 549.5,1171" stroke="#1a5dcc" stroke-width="2" fill="none" opacity="0.8"/>
<ellipse cx="536" cy="1155" rx="6" ry="7.2" fill="#2f8cee"/>
<ellipse cx="535" cy="1155.2" rx="1.8" ry="2.8" fill="#10204a"/>
<rect x="678" y="1107.2" width="16" height="7.5" fill="#3a3a3a"/>
<rect x="678" y="1107.2" width="16" height="2" fill="#777"/>
<path d="M686,1114 L686,1144 Q686,1154 695,1154 L701,1154" stroke="#262626" stroke-width="5" fill="none"/>
<path d="M706,1152 Q714.5,1156 714.5,1172" stroke="#2b82e2" stroke-width="8" fill="none"/>
<path d="M711,1151 Q717.5,1157 717.5,1171" stroke="#1a5dcc" stroke-width="2" fill="none" opacity="0.8"/>
<ellipse cx="704" cy="1155" rx="6" ry="7.2" fill="#2f8cee"/>
<ellipse cx="703" cy="1155.2" rx="1.8" ry="2.8" fill="#10204a"/>
<rect x="846" y="1107.2" width="16" height="7.5" fill="#3a3a3a"/>
<rect x="846" y="1107.2" width="16" height="2" fill="#777"/>
<path d="M854,1114 L854,1144 Q854,1154 863,1154 L869,1154" stroke="#262626" stroke-width="5" fill="none"/>
<path d="M874,1152 Q882.5,1156 882.5,1172" stroke="#2b82e2" stroke-width="8" fill="none"/>
<path d="M879,1151 Q885.5,1157 885.5,1171" stroke="#1a5dcc" stroke-width="2" fill="none" opacity="0.8"/>
<ellipse cx="872" cy="1155" rx="6" ry="7.2" fill="#2f8cee"/>
<ellipse cx="871" cy="1155.2" rx="1.8" ry="2.8" fill="#10204a"/>
<rect x="1014" y="1107.2" width="16" height="7.5" fill="#3a3a3a"/>
<rect x="1014" y="1107.2" width="16" height="2" fill="#777"/>
<path d="M1022,1114 L1022,1144 Q1022,1154 1031,1154 L1037,1154" stroke="#262626" stroke-width="5" fill="none"/>
<path d="M1042,1152 Q1050.5,1156 1050.5,1172" stroke="#2b82e2" stroke-width="8" fill="none"/>
<path d="M1047,1151 Q1053.5,1157 1053.5,1171" stroke="#1a5dcc" stroke-width="2" fill="none" opacity="0.8"/>
<ellipse cx="1040" cy="1155" rx="6" ry="7.2" fill="#2f8cee"/>
<ellipse cx="1039" cy="1155.2" rx="1.8" ry="2.8" fill="#10204a"/>
<rect x="1182" y="1107.2" width="16" height="7.5" fill="#3a3a3a"/>
<rect x="1182" y="1107.2" width="16" height="2" fill="#777"/>
<path d="M1190,1114 L1190,1144 Q1190,1154 1199,1154 L1205,1154" stroke="#262626" stroke-width="5" fill="none"/>
<path d="M1210,1152 Q1218.5,1156 1218.5,1172" stroke="#2b82e2" stroke-width="8" fill="none"/>
<path d="M1215,1151 Q1221.5,1157 1221.5,1171" stroke="#1a5dcc" stroke-width="2" fill="none" opacity="0.8"/>
<ellipse cx="1208" cy="1155" rx="6" ry="7.2" fill="#2f8cee"/>
<ellipse cx="1207" cy="1155.2" rx="1.8" ry="2.8" fill="#10204a"/>
</svg></body></html>
